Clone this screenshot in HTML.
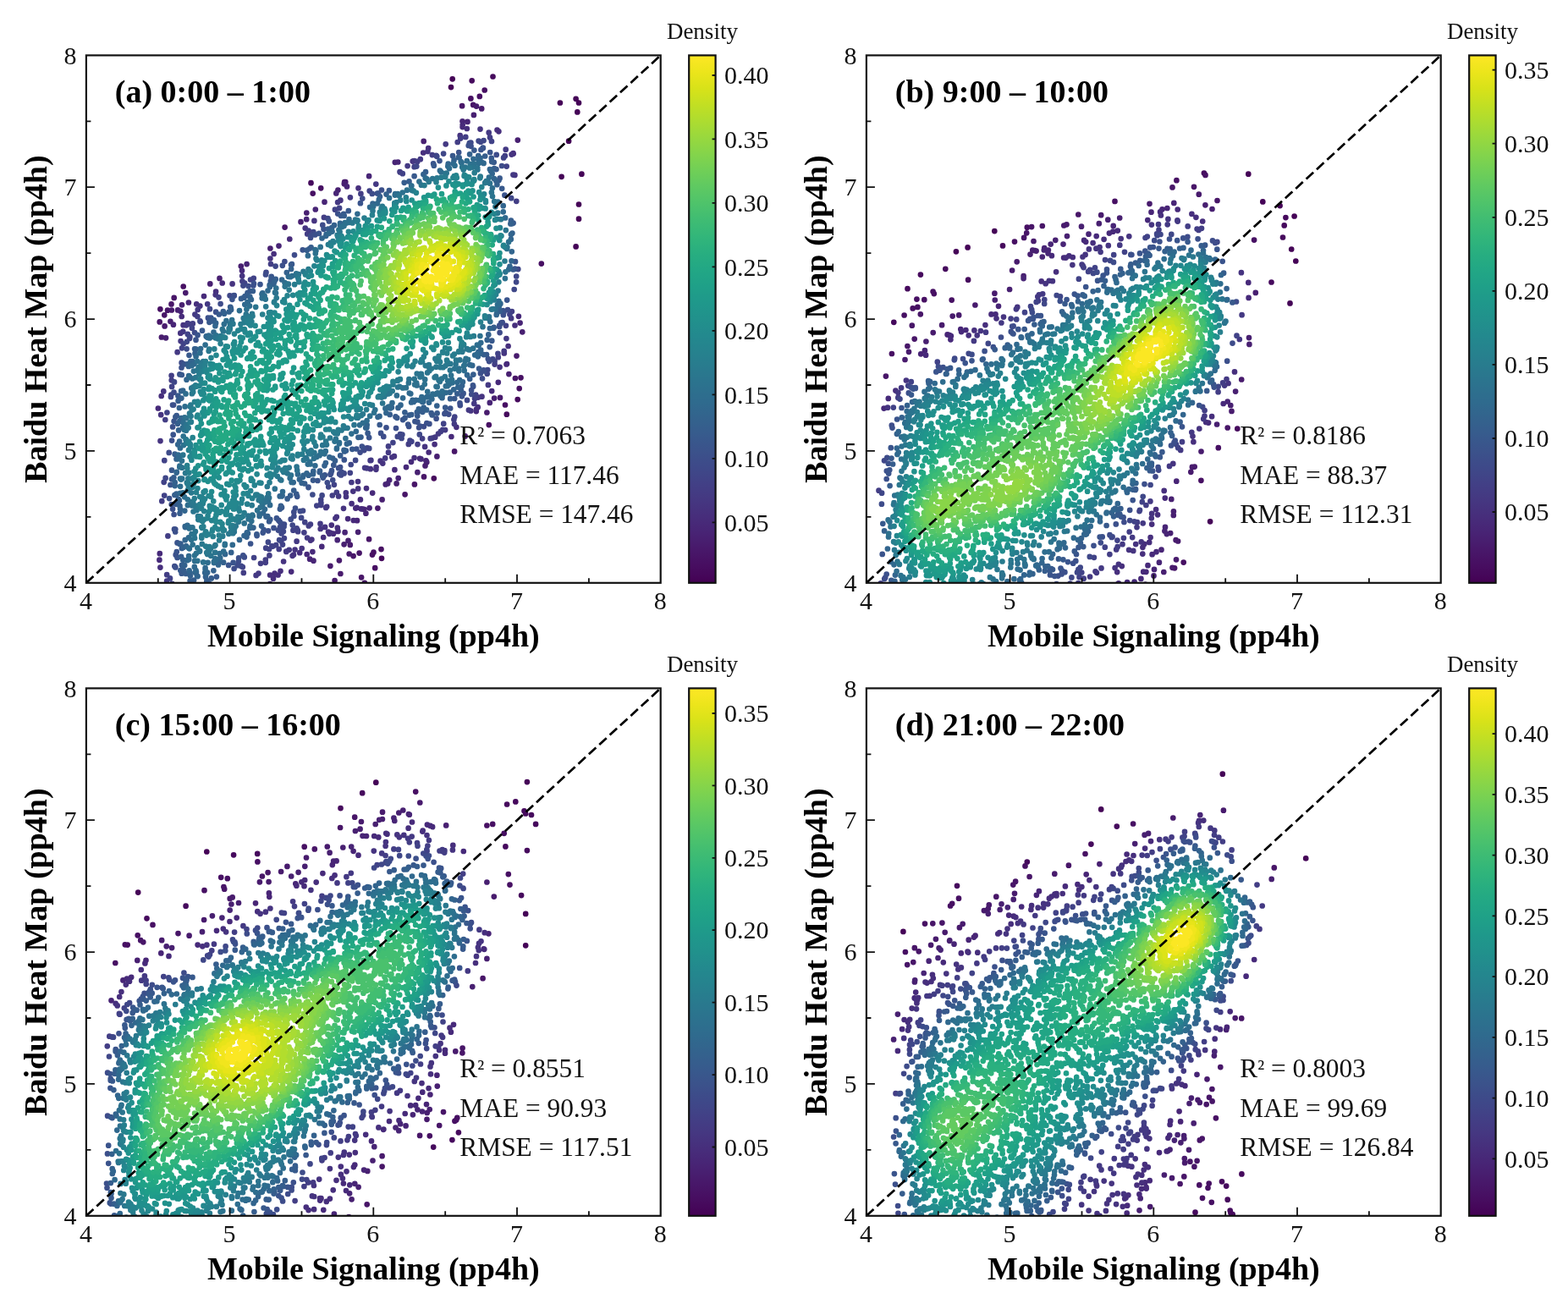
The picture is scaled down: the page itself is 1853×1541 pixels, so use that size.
<!DOCTYPE html>
<html><head><meta charset="utf-8"><title>Density scatter: Mobile Signaling vs Baidu Heat Map</title>
<style>
html,body{margin:0;padding:0;background:#fff;}
svg{display:block;}
.t{font-family:"Liberation Serif",serif;font-size:30px;fill:#111;}
.s{font-family:"Liberation Serif",serif;font-size:31.4px;fill:#111;}
.b{font-family:"Liberation Serif",serif;font-size:38px;font-weight:bold;fill:#000;}
.d{font-family:"Liberation Serif",serif;font-size:27px;fill:#111;}
</style></head><body>
<svg width="1853" height="1541" viewBox="0 0 1853 1541">
<defs><linearGradient id="vir" x1="0" y1="1" x2="0" y2="0"><stop offset="0.0000" stop-color="#440154"/><stop offset="0.0312" stop-color="#470d60"/><stop offset="0.0625" stop-color="#48186a"/><stop offset="0.0938" stop-color="#482374"/><stop offset="0.1250" stop-color="#472d7b"/><stop offset="0.1562" stop-color="#453781"/><stop offset="0.1875" stop-color="#424086"/><stop offset="0.2188" stop-color="#3e4989"/><stop offset="0.2500" stop-color="#3b528b"/><stop offset="0.2812" stop-color="#375b8d"/><stop offset="0.3125" stop-color="#33638d"/><stop offset="0.3438" stop-color="#2f6b8e"/><stop offset="0.3750" stop-color="#2c728e"/><stop offset="0.4062" stop-color="#297a8e"/><stop offset="0.4375" stop-color="#26828e"/><stop offset="0.4688" stop-color="#23898e"/><stop offset="0.5000" stop-color="#21918c"/><stop offset="0.5312" stop-color="#1f988b"/><stop offset="0.5625" stop-color="#1fa088"/><stop offset="0.5938" stop-color="#22a785"/><stop offset="0.6250" stop-color="#28ae80"/><stop offset="0.6562" stop-color="#32b67a"/><stop offset="0.6875" stop-color="#3fbc73"/><stop offset="0.7188" stop-color="#4ec36b"/><stop offset="0.7500" stop-color="#5ec962"/><stop offset="0.7812" stop-color="#70cf57"/><stop offset="0.8125" stop-color="#84d44b"/><stop offset="0.8438" stop-color="#98d83e"/><stop offset="0.8750" stop-color="#addc30"/><stop offset="0.9062" stop-color="#c2df23"/><stop offset="0.9375" stop-color="#d8e219"/><stop offset="0.9688" stop-color="#ece51b"/><stop offset="1.0000" stop-color="#fde725"/></linearGradient><clipPath id="ax"><rect x="101.9" y="65.4" width="678.8" height="623.4"/></clipPath></defs>
<rect width="1853" height="1541" fill="#fff"/>
<g transform="translate(0,0)"><g clip-path="url(#ax)" fill="none" stroke-width="6.7" stroke-linecap="round"><path stroke="#450457" d="M680.6 291.4h0M687.4 205.7h0M684.0 241.5h0M684.0 258.7h0M672.1 166.7h0M534.7 93.3h0M680.6 116.8h0M682.3 132.4h0M684.0 121.5h0M661.9 121.5h0M663.6 208.8h0M533.0 103.1h0"/><path stroke="#460a5d" d="M367.5 216.2h0M557.7 95.3h0M582.5 90.5h0M598.8 489.7h0M611.7 472.1h0M512.8 565.3h0M451.0 659.8h0"/><path stroke="#471063" d="M450.5 649.1h0M613.7 459.1h0M572.7 106.5h0M577.8 502.1h0M189.4 365.3h0M615.5 446.3h0M443.2 671.2h0M369.7 228.6h0M441.5 652.7h0M597.0 478.5h0M216.7 338.5h0M440.0 655.6h0M639.8 311.6h0M379.2 222.3h0M556.4 116.4h0M566.8 113.9h0"/><path stroke="#481668" d="M478.6 584.3h0M546.1 125.2h0M436.1 637.2h0M537.1 533.4h0M205.7 351.9h0M430.9 688.8h0M188.7 380.4h0M489.9 572.4h0M608.9 447.0h0M336.6 268.6h0M424.6 653.6h0M501.0 563.4h0M427.1 682.3h0M202.5 359.4h0M194.3 372.3h0M198.0 366.7h0M559.2 123.9h0M417.6 657.1h0"/><path stroke="#481b6d" d="M402.4 678.0h0M219.3 346.1h0M395.6 686.0h0M414.1 691.6h0M563.0 125.6h0M412.7 654.5h0M549.7 515.4h0M400.9 662.3h0M390.4 668.8h0M591.0 469.9h0M202.8 366.5h0M190.9 398.5h0M569.2 128.4h0M194.6 385.4h0M413.8 643.9h0M446.4 600.6h0M407.1 215.2h0M575.4 487.5h0M408.3 215.1h0M610.5 420.6h0"/><path stroke="#482071" d="M423.1 628.8h0M617.3 392.3h0M500.7 166.9h0M362.3 251.5h0M451.6 590.4h0M493.4 558.2h0M406.8 217.3h0M411.5 638.9h0M406.6 643.3h0M259.5 328.9h0M248.3 335.4h0M601.4 442.1h0M516.4 539.4h0M502.5 550.4h0M201.4 379.8h0M284.8 314.5h0M468.6 571.4h0M196.0 399.3h0M215.0 360.3h0M559.9 135.9h0M210.1 366.4h0M319.4 293.5h0M584.1 470.6h0M355.5 262.2h0M399.4 224.5h0M611.8 165.6h0M504.3 546.2h0"/><path stroke="#482576" d="M432.4 606.7h0M436.6 600.3h0M466.8 191.8h0M291.6 312.1h0M546.5 143.3h0M578.8 475.9h0M436.1 208.2h0M370.5 662.7h0M470.7 565.1h0M410.0 220.4h0M222.9 357.5h0M503.4 544.3h0M213.5 367.8h0M422.0 615.2h0M372.8 247.5h0M458.2 571.4h0M614.6 381.6h0M204.9 383.7h0M398.7 638.2h0M397.3 228.4h0M470.3 191.5h0M455.7 572.4h0M383.5 238.7h0M430.3 601.8h0M407.6 629.2h0M552.5 143.9h0M366.1 660.7h0M362.2 259.2h0M460.2 567.3h0M429.1 601.6h0M329.5 290.6h0"/><path stroke="#472a7a" d="M417.8 615.0h0M546.7 147.6h0M426.8 601.3h0M344.2 675.6h0M440.2 582.6h0M286.0 319.8h0M533.4 516.0h0M599.0 430.1h0M380.3 645.9h0M262.7 334.5h0M480.0 552.1h0M598.5 430.5h0M497.5 542.4h0M588.8 451.8h0M214.7 374.0h0M369.4 652.1h0M342.3 282.5h0M399.5 627.9h0M546.6 150.1h0M188.8 654.2h0M188.4 661.7h0M496.1 541.8h0M612.9 373.8h0M241.0 350.1h0M186.9 482.5h0M562.8 486.1h0M421.7 599.9h0M319.1 690.0h0M394.0 630.7h0M362.7 655.0h0M466.4 555.2h0M411.1 613.1h0M420.3 600.6h0M506.7 534.5h0M486.0 545.8h0M581.2 462.1h0M425.9 590.4h0"/><path stroke="#472f7d" d="M398.8 623.7h0M323.0 683.7h0M328.6 679.5h0M389.2 630.8h0M390.3 629.7h0M433.0 577.1h0M189.4 670.6h0M506.2 175.1h0M232.2 359.3h0M562.9 483.8h0M323.6 300.0h0M587.5 153.6h0M382.2 635.0h0M190.7 468.0h0M564.7 481.2h0M608.5 384.5h0M489.6 541.0h0M589.4 155.3h0M331.5 674.8h0M388.0 628.5h0M551.8 152.0h0M415.6 595.2h0M606.7 181.6h0M606.5 181.2h0M539.4 504.8h0M423.5 222.3h0M324.6 677.5h0M255.1 344.6h0M513.6 525.1h0M391.8 620.6h0M500.2 180.5h0M600.6 409.0h0M354.2 653.2h0M319.1 679.5h0"/><path stroke="#463480" d="M193.3 462.4h0M423.2 577.4h0M406.0 600.8h0M360.7 269.6h0M396.4 612.6h0M397.8 610.8h0M319.4 305.5h0M286.2 326.1h0M444.4 554.8h0M384.1 622.9h0M216.6 384.2h0M190.2 490.2h0M368.4 637.6h0M356.7 648.0h0M417.3 580.6h0M367.0 638.6h0M189.5 521.1h0M604.6 182.6h0M505.4 179.0h0M567.5 152.6h0M345.6 656.8h0M347.0 655.5h0M590.6 433.8h0M608.4 206.9h0M444.6 552.0h0M556.4 485.5h0M452.3 547.6h0M213.3 393.7h0M378.7 625.0h0M335.1 663.5h0M236.4 361.6h0M409.0 587.0h0M595.8 417.4h0M371.4 260.9h0M423.0 569.1h0M502.1 527.9h0M254.7 348.3h0M437.8 554.2h0M569.5 468.7h0M487.7 190.6h0M274.6 335.4h0M487.9 190.5h0M463.3 540.3h0M543.7 160.2h0M402.4 236.7h0M465.9 539.2h0M408.8 582.4h0M348.6 649.6h0M449.6 544.7h0"/><path stroke="#443983" d="M595.7 414.8h0M233.7 366.0h0M577.7 156.7h0M378.5 618.9h0M399.1 239.1h0M489.6 190.1h0M363.1 635.5h0M455.2 541.4h0M302.6 679.9h0M216.3 391.8h0M305.5 677.6h0M220.1 384.3h0M287.8 691.5h0M536.9 501.0h0M606.4 206.6h0M221.7 382.0h0M433.5 553.3h0M553.9 484.5h0M526.7 170.3h0M415.4 570.0h0M576.9 454.9h0M230.4 371.6h0M400.1 586.4h0M560.3 476.9h0M481.6 196.1h0M431.1 552.8h0M514.3 516.7h0M444.3 217.6h0M598.4 400.1h0M213.6 403.1h0M526.1 508.1h0M209.6 416.2h0M341.7 649.8h0M597.7 176.7h0M338.3 652.0h0M338.2 651.6h0M459.0 534.7h0M245.2 359.3h0M511.0 517.6h0M496.8 188.2h0M386.2 598.8h0M385.2 599.9h0M604.1 376.2h0M565.1 469.6h0M197.1 686.5h0M438.4 543.9h0M350.6 639.7h0M413.9 233.3h0M437.6 544.2h0M518.0 512.5h0"/><path stroke="#433e85" d="M313.8 664.8h0M508.7 518.2h0M493.5 525.1h0M544.2 163.6h0M359.4 629.3h0M493.2 190.9h0M364.7 272.5h0M472.5 203.0h0M191.3 592.2h0M202.6 443.8h0M520.9 509.9h0M366.9 619.6h0M224.6 383.1h0M364.8 621.5h0M197.2 679.2h0M523.2 507.8h0M550.3 161.9h0M397.8 581.8h0M308.0 665.8h0M320.0 312.0h0M198.4 633.4h0M286.4 332.3h0M472.8 203.4h0M313.8 661.5h0M258.5 351.3h0M579.0 162.4h0M392.8 585.5h0M604.9 368.0h0M588.8 422.2h0M195.3 496.0h0M610.3 237.8h0M426.4 228.9h0M482.8 524.9h0M536.4 495.8h0M233.4 374.0h0M318.4 656.4h0M561.0 471.0h0M379.3 597.0h0M510.8 183.1h0M329.7 648.9h0M202.7 449.3h0M382.9 256.9h0M363.2 276.4h0M287.8 676.9h0M459.0 527.4h0M584.6 430.6h0M227.8 382.4h0M499.1 518.3h0M596.8 184.2h0M352.1 628.2h0M540.7 168.0h0"/><path stroke="#414287" d="M360.3 617.2h0M486.4 521.8h0M334.0 643.6h0M379.4 593.9h0M413.8 558.8h0M216.7 406.3h0M215.0 411.3h0M194.3 544.2h0M351.8 626.6h0M561.8 468.3h0M602.4 371.5h0M221.8 394.9h0M395.9 247.7h0M588.4 417.8h0M197.4 487.5h0M436.7 225.6h0M374.3 597.6h0M537.3 492.5h0M484.5 520.5h0M464.4 523.1h0M581.0 167.0h0M584.6 426.8h0M562.2 466.5h0M201.0 683.4h0M350.7 624.3h0M379.2 590.5h0M597.9 384.8h0M598.7 196.6h0M318.1 648.9h0M326.2 644.1h0M226.9 387.8h0M193.7 569.8h0M322.5 645.6h0M332.3 639.4h0M194.2 585.6h0M300.1 659.0h0M346.4 626.7h0M296.0 330.5h0M289.2 334.7h0M489.6 197.2h0M335.9 636.1h0M321.3 645.4h0M203.4 689.9h0M475.8 205.2h0M595.1 186.4h0M524.2 500.7h0M394.9 572.8h0M286.8 670.1h0M299.8 328.8h0M401.1 245.9h0M203.1 456.9h0M515.4 183.8h0M314.2 647.7h0"/><path stroke="#3f4788" d="M330.1 638.0h0M380.6 585.4h0M356.1 611.9h0M474.6 518.0h0M248.0 365.2h0M610.1 333.3h0M492.3 196.6h0M571.6 166.1h0M406.6 559.4h0M575.7 441.7h0M220.8 403.8h0M495.8 513.4h0M325.6 314.6h0M345.7 620.6h0M607.7 342.0h0M287.4 337.6h0M284.9 668.9h0M436.3 529.9h0M314.5 321.8h0M202.2 466.7h0M403.0 561.5h0M469.8 515.9h0M388.2 575.3h0M612.3 318.1h0M201.9 468.9h0M516.3 184.8h0M420.1 543.9h0M370.4 274.1h0M565.6 166.6h0M195.6 564.9h0M332.7 630.4h0M582.3 424.4h0M414.7 549.0h0M224.4 398.2h0M473.9 514.8h0M358.0 603.5h0M236.4 379.4h0M316.9 640.7h0M334.9 628.1h0M387.5 258.2h0M206.0 451.4h0M576.3 437.1h0M224.0 399.9h0M271.6 349.3h0M604.2 234.2h0M552.0 472.9h0M475.4 513.6h0M568.0 167.7h0M610.2 326.5h0M434.0 529.4h0M524.1 181.6h0M473.0 513.2h0M236.8 380.0h0M556.4 168.5h0M430.3 532.1h0"/><path stroke="#3e4c8a" d="M354.8 604.1h0M367.9 278.0h0M557.3 466.0h0M554.8 169.0h0M401.2 560.2h0M600.0 366.2h0M403.6 557.9h0M367.0 279.2h0M336.4 309.0h0M453.3 515.9h0M570.0 447.3h0M393.2 567.3h0M335.6 622.3h0M314.0 324.4h0M347.4 610.0h0M343.7 613.7h0M280.7 668.2h0M543.8 479.1h0M425.6 534.6h0M260.6 359.1h0M328.9 626.6h0M288.8 658.4h0M428.3 234.6h0M439.8 228.9h0M381.3 265.9h0M335.9 619.6h0M220.6 412.3h0M276.6 672.0h0M590.6 393.1h0M230.0 393.0h0M386.8 570.3h0M199.7 534.9h0M429.7 529.7h0M214.6 428.7h0M530.3 489.6h0M330.9 623.0h0M367.0 280.9h0M369.4 584.5h0M593.0 196.0h0M206.0 625.4h0M333.6 619.4h0M578.1 427.1h0M347.3 605.2h0M205.5 463.7h0M593.7 381.0h0M293.5 338.1h0M586.7 182.9h0M348.0 301.3h0M276.6 349.1h0M281.9 663.3h0M206.3 669.1h0M500.9 504.1h0"/><path stroke="#3c508b" d="M333.8 313.8h0M553.7 172.0h0M399.2 252.6h0M276.7 349.4h0M572.0 438.4h0M495.1 505.3h0M204.0 478.6h0M287.3 656.3h0M200.1 589.1h0M451.0 224.5h0M507.4 500.9h0M543.5 476.3h0M349.0 600.5h0M207.2 628.4h0M300.0 335.2h0M450.1 511.9h0M468.0 506.1h0M557.1 461.0h0M207.3 625.6h0M323.5 623.9h0M388.9 261.4h0M207.4 670.4h0M372.3 277.4h0M571.6 437.4h0M496.4 503.5h0M330.8 616.8h0M245.9 375.7h0M427.8 527.5h0M402.1 552.0h0M592.2 381.7h0M556.6 172.8h0M214.5 434.5h0M559.2 456.8h0M317.0 627.3h0M205.6 608.0h0M483.2 503.9h0M202.7 596.1h0M204.1 601.6h0M400.1 553.2h0M207.7 655.7h0M282.1 659.4h0M205.1 478.6h0M504.3 500.0h0M576.8 424.0h0M525.4 488.9h0M594.8 372.2h0M515.6 494.7h0M212.4 442.4h0M590.2 385.9h0M445.9 228.5h0M526.8 487.5h0M390.4 560.7h0M203.1 520.6h0M299.4 337.4h0M329.3 614.9h0M590.4 384.4h0M204.1 504.4h0M570.7 174.6h0M255.1 368.7h0M456.5 505.3h0M567.9 441.2h0M595.4 368.9h0M391.2 559.3h0"/><path stroke="#3a548c" d="M558.9 455.3h0M608.6 317.7h0M274.4 353.8h0M482.2 501.5h0M512.1 193.3h0M570.9 175.1h0M208.8 652.1h0M532.2 482.5h0M310.7 629.6h0M296.1 642.5h0M275.6 664.9h0M447.1 228.6h0M421.3 530.5h0M579.2 180.0h0M357.7 295.3h0M436.2 517.1h0M209.5 641.4h0M249.3 375.5h0M519.5 190.1h0M406.8 543.4h0M599.2 354.6h0M233.6 395.9h0M320.7 326.8h0M425.9 240.2h0M209.5 659.0h0M204.7 513.7h0M217.9 430.3h0M392.0 556.2h0M381.8 564.6h0M493.4 498.7h0M205.6 497.8h0M609.0 309.2h0M545.9 468.3h0M326.9 612.4h0M377.0 275.9h0M201.4 573.0h0M311.7 626.1h0M303.6 633.1h0M490.4 498.1h0M542.2 180.0h0M247.3 691.5h0M382.5 270.8h0M375.4 568.0h0M383.8 561.4h0M546.2 466.9h0M364.5 576.1h0M270.1 667.9h0M231.5 401.7h0M594.3 367.0h0M568.4 177.0h0M351.2 586.8h0M596.4 230.7h0M476.1 496.1h0M547.6 464.9h0M364.5 575.5h0M307.5 336.1h0"/><path stroke="#38598c" d="M578.7 410.1h0M581.3 402.7h0M214.8 443.0h0M411.8 249.2h0M320.8 328.6h0M381.2 562.4h0M406.0 252.8h0M303.4 631.3h0M575.0 419.1h0M239.0 390.7h0M403.0 254.9h0M606.6 263.5h0M535.0 184.2h0M247.3 689.7h0M245.0 691.0h0M223.5 419.8h0M416.3 530.8h0M516.6 488.3h0M247.4 380.8h0M590.6 210.7h0M222.8 691.0h0M512.8 195.7h0M207.4 492.7h0M213.3 674.1h0M478.5 494.0h0M510.7 490.4h0M255.9 681.6h0M580.8 186.9h0M593.2 222.8h0M560.4 177.6h0M318.1 616.2h0M203.0 555.7h0M295.4 344.2h0M606.5 318.5h0M526.2 481.6h0M214.7 677.7h0M469.2 493.8h0M394.3 549.7h0M583.7 191.8h0M292.5 346.1h0M212.2 642.8h0M489.6 208.2h0M566.1 435.5h0M203.0 566.3h0M344.0 312.8h0M350.3 583.9h0M319.3 613.9h0M210.4 467.7h0M344.9 312.2h0M448.7 502.0h0M370.0 567.6h0M333.0 599.7h0M586.5 200.1h0M330.9 601.6h0M467.5 492.4h0M258.9 371.5h0M208.0 595.8h0M459.9 225.2h0M434.6 511.9h0M493.3 491.6h0M244.3 687.9h0M208.7 491.2h0M509.7 488.2h0M319.8 332.0h0M537.2 471.0h0M589.5 213.1h0M483.8 490.6h0"/><path stroke="#365d8d" d="M213.4 642.6h0M309.1 621.6h0M251.3 379.5h0M298.9 344.0h0M252.9 378.2h0M477.7 215.8h0M263.8 368.2h0M249.8 683.4h0M486.3 490.0h0M581.2 191.1h0M605.0 264.2h0M210.6 473.7h0M285.0 352.9h0M406.7 254.9h0M289.5 350.1h0M215.8 672.6h0M331.9 597.9h0M571.7 419.1h0M291.7 348.9h0M214.9 667.9h0M244.5 686.2h0M226.7 687.8h0M362.8 295.7h0M603.9 260.6h0M206.4 585.0h0M214.1 657.9h0M224.6 686.3h0M396.0 544.4h0M503.0 203.2h0M339.6 589.4h0M559.4 442.6h0M408.9 532.6h0M360.1 571.5h0M343.2 585.6h0M426.5 516.6h0M402.2 538.4h0M449.0 232.3h0M212.5 606.7h0M478.4 487.3h0M272.2 362.8h0M325.7 329.9h0M288.3 351.7h0M377.7 558.1h0M217.4 674.3h0M584.1 199.2h0M230.1 412.3h0M222.2 430.1h0M407.2 533.5h0M583.7 386.9h0M573.2 184.5h0M206.6 536.7h0M544.8 461.0h0M387.9 270.5h0M583.2 387.7h0M540.3 465.3h0M555.2 447.7h0M214.9 648.0h0M219.7 677.9h0M492.8 487.1h0M499.4 486.8h0M378.0 556.5h0M590.6 367.9h0M366.2 293.5h0M210.1 594.2h0M272.7 363.5h0M210.0 500.8h0M205.4 564.3h0M483.5 214.4h0M229.1 685.6h0M347.2 579.5h0M460.7 489.9h0M367.6 292.3h0M532.1 471.2h0M496.0 485.9h0"/><path stroke="#34618d" d="M316.2 610.0h0M291.5 634.6h0M555.1 182.3h0M216.2 661.7h0M500.4 206.0h0M214.1 462.1h0M423.4 516.8h0M541.7 186.0h0M406.5 531.9h0M356.6 570.8h0M504.1 484.4h0M338.8 322.0h0M603.4 264.4h0M212.9 601.3h0M264.1 664.7h0M605.4 275.6h0M456.5 229.6h0M265.0 370.7h0M211.9 482.0h0M324.2 333.1h0M206.7 574.1h0M370.0 560.2h0M231.6 412.7h0M383.5 550.3h0M314.4 610.6h0M318.6 336.8h0M208.5 583.7h0M218.2 668.0h0M516.3 479.5h0M394.9 266.2h0M212.5 597.9h0M344.1 317.9h0M542.7 186.3h0M575.7 401.7h0M224.9 680.3h0M222.9 432.9h0M206.7 570.2h0M494.8 483.3h0M546.1 455.8h0M243.0 681.7h0M273.2 652.9h0M225.4 427.1h0M565.3 184.1h0M393.2 541.5h0M586.4 214.0h0M216.9 646.7h0M587.4 218.2h0M392.1 269.2h0M536.5 189.4h0M210.8 589.8h0M295.4 350.9h0M568.4 417.4h0M252.4 674.3h0M470.5 481.9h0M211.1 508.4h0M500.7 481.7h0M273.1 365.9h0M293.0 630.3h0M364.7 561.7h0M384.9 547.0h0M255.1 381.8h0M299.4 623.6h0M412.8 523.4h0M577.3 395.4h0M224.2 676.7h0M224.6 677.1h0M230.5 417.7h0M211.9 591.4h0M370.3 556.9h0M214.4 470.6h0M323.4 335.8h0M433.4 505.3h0M270.7 368.5h0M212.3 497.8h0M208.5 542.4h0M233.6 681.1h0"/><path stroke="#32658e" d="M604.5 308.3h0M447.8 235.8h0M210.2 525.3h0M594.7 243.2h0M456.4 488.0h0M258.0 667.4h0M223.7 674.4h0M232.9 680.6h0M318.9 339.0h0M473.5 478.7h0M529.7 193.6h0M586.7 371.9h0M216.2 461.7h0M567.6 186.8h0M380.5 281.5h0M546.9 451.4h0M409.9 524.6h0M586.9 371.1h0M541.3 457.6h0M565.5 186.2h0M243.7 677.9h0M333.6 585.7h0M432.2 505.5h0M332.8 586.4h0M583.9 211.0h0M566.1 418.5h0M288.5 633.0h0M218.7 638.2h0M564.8 421.3h0M568.2 413.6h0M218.7 622.2h0M291.8 629.3h0M218.9 623.1h0M245.1 676.6h0M385.6 276.9h0M604.8 297.3h0M243.7 397.4h0M357.9 563.8h0M552.2 443.3h0M603.9 277.1h0M581.7 205.1h0M353.9 566.5h0M591.4 358.9h0M486.1 475.5h0M440.5 240.5h0M333.1 330.5h0M552.0 443.1h0M227.5 427.0h0M448.5 491.9h0M578.9 388.1h0M389.4 540.3h0M283.0 637.9h0M580.1 202.2h0M254.4 385.2h0M488.8 475.0h0M362.5 559.4h0M578.9 200.1h0M242.2 676.8h0M462.9 481.6h0M208.6 558.6h0M589.7 362.4h0M446.5 492.8h0M221.1 662.2h0M536.2 460.4h0M461.2 482.4h0M358.5 561.8h0M558.2 431.9h0M522.5 470.2h0M230.5 676.6h0M330.7 586.4h0M507.1 475.7h0M258.5 664.2h0M208.8 557.9h0M295.3 624.0h0M531.7 463.7h0M460.8 482.3h0M214.1 494.0h0M603.8 282.7h0M310.3 346.4h0M220.0 645.3h0M402.0 263.9h0M487.6 472.8h0M220.5 448.7h0M499.2 474.9h0M433.7 502.1h0M212.1 521.7h0M346.7 570.1h0M565.4 415.9h0M232.0 676.0h0M296.9 354.0h0M491.5 472.8h0M500.2 474.4h0M385.2 278.8h0M311.1 606.4h0M266.1 654.9h0M602.5 314.8h0M218.3 603.6h0"/><path stroke="#30698e" d="M563.6 418.7h0M316.5 343.5h0M372.4 550.3h0M496.2 472.9h0M334.0 581.1h0M292.4 357.0h0M210.7 537.7h0M363.9 302.2h0M309.5 347.6h0M226.7 432.1h0M319.1 596.9h0M318.9 597.0h0M500.0 472.8h0M388.8 275.8h0M231.6 421.3h0M559.4 187.8h0M571.6 192.9h0M246.6 396.7h0M231.5 674.1h0M535.6 193.3h0M397.9 530.4h0M295.6 621.7h0M245.2 398.8h0M306.6 610.0h0M222.8 660.3h0M344.6 569.9h0M562.6 419.1h0M565.6 189.6h0M213.0 582.9h0M569.8 192.0h0M510.4 471.5h0M289.3 359.8h0M274.8 643.9h0M520.6 468.0h0M223.3 661.1h0M459.7 480.7h0M340.8 326.8h0M529.3 196.5h0M292.7 358.0h0M398.0 529.5h0M526.8 464.0h0M221.4 620.8h0M260.2 659.4h0M459.0 480.8h0M223.1 444.1h0M523.0 466.2h0M237.1 412.1h0M543.2 449.2h0M242.6 672.6h0M476.1 470.3h0M476.1 470.3h0M313.0 601.8h0M211.1 542.2h0M594.7 250.3h0M223.1 657.1h0M540.3 451.8h0M568.3 405.1h0M498.4 469.1h0M555.2 431.1h0M455.4 482.7h0M561.2 419.5h0M519.9 201.6h0M589.1 360.0h0M601.2 318.3h0M392.6 273.6h0M420.8 509.8h0M229.8 669.9h0M252.9 665.1h0M504.5 469.2h0M544.7 191.1h0M502.7 210.4h0M597.1 257.4h0M422.4 252.8h0M242.6 671.0h0M437.1 244.8h0M212.9 529.5h0M463.5 476.0h0M306.6 607.3h0M485.3 465.3h0M508.7 468.3h0M401.9 266.3h0M223.0 647.5h0M211.9 540.8h0M467.1 229.1h0M446.0 240.4h0M565.7 408.3h0M412.5 259.1h0M222.9 635.3h0M372.4 295.0h0M252.5 392.5h0M229.5 430.0h0M483.8 464.5h0M351.9 560.4h0"/><path stroke="#2e6d8e" d="M551.8 190.2h0M252.9 663.5h0M255.4 661.4h0M517.4 465.3h0M495.4 214.6h0M326.3 340.6h0M579.3 380.1h0M219.5 465.4h0M215.9 505.5h0M400.9 524.3h0M415.4 512.6h0M514.2 465.8h0M408.4 518.1h0M522.6 462.4h0M548.7 437.9h0M213.1 574.8h0M223.9 648.3h0M511.5 465.7h0M312.6 349.7h0M517.1 464.3h0M297.3 615.8h0M216.6 499.4h0M585.9 365.4h0M343.2 327.2h0M486.1 219.7h0M366.6 548.5h0M247.7 399.5h0M486.4 219.6h0M223.7 624.4h0M224.3 445.7h0M264.2 651.5h0M565.5 192.9h0M236.4 417.2h0M283.0 367.1h0M401.0 523.2h0M407.8 263.0h0M267.4 379.1h0M383.5 536.3h0M588.4 238.5h0M433.6 497.1h0M317.1 592.5h0M587.9 360.0h0M545.5 192.6h0M309.7 352.3h0M534.6 452.3h0M589.5 355.8h0M242.6 407.6h0M249.4 398.3h0M336.5 334.0h0M460.1 234.0h0M345.2 326.1h0M505.2 462.8h0M218.6 480.4h0M441.2 244.1h0M212.3 551.9h0M254.1 660.1h0M528.8 456.2h0M212.4 550.6h0M224.5 623.3h0M577.9 209.7h0M342.7 565.0h0M466.8 230.6h0M537.5 195.7h0M363.8 548.6h0M216.2 582.3h0M530.5 454.6h0M230.1 662.9h0M563.9 407.5h0M428.8 499.8h0M218.1 587.3h0M470.0 229.0h0M581.9 222.3h0M213.0 565.5h0M218.1 493.4h0M526.8 456.3h0M521.3 203.3h0M245.6 664.8h0M498.9 458.2h0M259.5 654.1h0M373.4 296.2h0M384.8 533.2h0M377.6 538.2h0M425.1 502.3h0M221.8 597.1h0M264.8 383.1h0M295.0 361.6h0M366.2 545.8h0M310.2 598.3h0M468.9 467.4h0M504.6 211.6h0M531.0 199.1h0M374.2 539.9h0M492.6 455.4h0"/><path stroke="#2d718e" d="M553.1 424.9h0M351.2 555.9h0M318.1 588.3h0M370.9 541.8h0M549.1 431.2h0M380.9 534.8h0M409.3 263.6h0M216.7 515.5h0M548.1 432.4h0M344.0 561.5h0M534.1 448.8h0M233.2 427.1h0M233.4 662.8h0M226.1 637.8h0M601.1 285.9h0M490.1 454.4h0M240.2 664.4h0M437.2 491.7h0M214.0 566.6h0M307.7 599.6h0M442.1 487.6h0M312.9 593.4h0M479.9 458.2h0M560.3 193.8h0M350.1 323.3h0M516.7 457.2h0M579.0 216.7h0M217.8 508.0h0M298.7 609.6h0M229.9 656.5h0M501.8 454.0h0M226.5 631.0h0M515.5 456.8h0M228.9 438.6h0M492.2 452.5h0M325.0 345.7h0M304.1 603.0h0M542.3 438.3h0M291.4 365.6h0M559.2 411.7h0M596.9 329.1h0M567.4 397.0h0M378.7 291.9h0M475.7 227.5h0M481.0 224.7h0M529.1 449.9h0M404.3 268.1h0M555.8 193.9h0M313.8 353.6h0M227.7 643.6h0M312.9 591.7h0M379.1 533.8h0M298.3 608.7h0M221.8 590.3h0M549.5 426.8h0M324.8 577.7h0M476.0 458.4h0M338.7 335.5h0M315.8 587.8h0M274.1 378.1h0M310.4 593.9h0M265.7 644.2h0M400.4 271.5h0M227.5 623.3h0M542.3 435.7h0M326.0 346.3h0M550.6 423.9h0M395.5 521.6h0M293.6 613.3h0M372.8 299.5h0M215.2 565.5h0M502.2 448.4h0M406.5 267.1h0M482.9 452.4h0M288.7 618.4h0M220.2 494.2h0M215.0 544.6h0M255.3 396.4h0M231.8 654.1h0M519.8 451.0h0M217.0 526.1h0M443.3 484.3h0M412.9 262.8h0M577.6 376.6h0M533.1 443.5h0M265.8 642.9h0M227.3 447.5h0"/><path stroke="#2b748e" d="M489.7 447.8h0M262.8 389.1h0M350.6 551.6h0M249.2 656.8h0M336.7 338.6h0M452.1 476.5h0M332.3 567.5h0M580.9 227.4h0M496.5 445.4h0M597.8 272.1h0M518.5 449.2h0M215.1 552.7h0M254.2 652.9h0M498.3 444.7h0M576.5 215.5h0M317.2 583.4h0M220.0 503.5h0M396.9 518.8h0M362.4 542.2h0M522.1 447.5h0M564.3 198.6h0M554.9 413.4h0M302.2 362.8h0M216.3 537.7h0M511.1 211.2h0M582.7 365.2h0M229.4 632.1h0M308.7 592.7h0M340.9 335.7h0M513.6 446.1h0M525.9 445.0h0M386.0 525.6h0M582.0 232.0h0M578.0 374.4h0M371.5 535.2h0M339.6 559.3h0M597.4 321.3h0M358.9 543.7h0M220.6 501.5h0M418.5 502.2h0M584.2 238.0h0M254.6 399.3h0M271.8 382.7h0M230.1 635.9h0M220.0 508.7h0M537.3 435.6h0M515.1 444.9h0M497.9 441.9h0M227.0 597.5h0M471.8 231.3h0M351.0 326.1h0M228.5 604.5h0M483.4 448.1h0M331.1 566.6h0M496.4 442.0h0M472.1 456.9h0M352.9 324.2h0M225.8 593.0h0M553.9 413.2h0M361.3 541.2h0M275.3 630.2h0M546.2 197.5h0M276.8 628.5h0M505.1 440.4h0M420.0 259.7h0M558.9 197.6h0M367.9 536.3h0M293.3 609.5h0M574.6 214.0h0M526.3 204.9h0M492.7 441.5h0M245.2 654.9h0M599.4 292.2h0M564.4 200.4h0M233.4 647.4h0M531.9 437.6h0M570.5 386.2h0M470.0 457.5h0M230.9 628.1h0M236.1 651.6h0M226.3 458.7h0M549.9 197.5h0M543.4 425.4h0M290.8 371.3h0M236.2 651.1h0M507.4 438.2h0M527.7 204.6h0M527.3 204.9h0M497.9 218.7h0M538.6 430.3h0M381.2 526.2h0M221.7 579.5h0M219.6 519.4h0M263.9 391.5h0M309.5 588.2h0M599.1 294.0h0"/><path stroke="#2a788e" d="M410.6 505.8h0M365.2 536.2h0M244.2 653.0h0M234.6 434.1h0M463.7 462.0h0M460.6 464.7h0M233.2 437.7h0M440.5 249.2h0M555.1 198.4h0M247.3 651.5h0M220.0 519.7h0M585.4 244.3h0M509.9 435.5h0M228.2 593.2h0M275.4 382.7h0M506.9 215.0h0M516.5 210.4h0M551.7 412.2h0M305.7 591.0h0M591.9 259.2h0M486.9 224.9h0M308.7 587.0h0M401.6 274.1h0M224.5 480.3h0M247.2 412.5h0M341.7 552.6h0M272.2 630.0h0M416.5 263.4h0M385.1 521.5h0M230.2 597.4h0M398.7 512.5h0M458.7 465.4h0M277.1 624.6h0M580.8 365.6h0M523.6 434.2h0M539.0 425.6h0M335.2 558.0h0M520.3 434.1h0M515.4 433.7h0M358.5 320.8h0M220.1 523.4h0M224.0 488.6h0M352.3 327.8h0M451.8 243.9h0M588.2 251.7h0M505.9 432.8h0M367.7 532.4h0M532.4 429.9h0M272.8 628.7h0M526.4 432.3h0M260.7 397.1h0M231.3 599.5h0M290.4 374.3h0M390.0 517.5h0M270.6 388.0h0M403.6 508.5h0M231.2 446.2h0M248.9 648.5h0M226.9 465.2h0M287.7 376.0h0M460.0 463.4h0M238.4 428.6h0M326.7 352.1h0M307.4 586.7h0M573.1 216.1h0M502.8 432.1h0M231.9 600.8h0M225.4 478.7h0M278.7 621.7h0M270.3 630.8h0M530.0 429.8h0M222.7 505.6h0M407.1 505.7h0M364.1 533.9h0M258.0 400.4h0M228.6 457.4h0M422.5 260.3h0M454.3 468.4h0M232.5 602.9h0M220.8 570.3h0M246.7 414.8h0M253.6 645.3h0M338.7 553.5h0M507.0 431.0h0M546.3 415.7h0M298.0 370.8h0M271.8 387.7h0M529.0 429.0h0M221.4 571.6h0M254.5 644.2h0M237.2 432.2h0M222.9 575.6h0M398.6 277.8h0M427.0 490.9h0M373.2 527.1h0M327.8 562.8h0M226.1 582.3h0M282.1 616.6h0M293.1 374.0h0M219.0 559.1h0M428.9 489.3h0M224.7 491.0h0M456.3 465.8h0M315.8 575.0h0M234.0 610.2h0M528.7 427.8h0M297.7 597.2h0M245.3 646.9h0M395.9 512.1h0M314.2 362.3h0M422.8 493.7h0M234.3 614.1h0M547.7 200.6h0M240.2 427.0h0M567.7 208.5h0M238.8 642.9h0"/><path stroke="#287c8e" d="M521.5 209.7h0M398.1 510.4h0M228.2 463.2h0M501.5 219.1h0M247.4 646.2h0M286.8 610.3h0M229.8 589.1h0M337.2 553.2h0M222.2 571.7h0M559.9 397.2h0M243.1 645.5h0M488.7 225.5h0M520.1 427.8h0M223.9 575.8h0M424.1 492.1h0M472.9 448.2h0M357.1 536.7h0M333.7 555.7h0M271.6 389.6h0M528.0 425.7h0M387.9 289.0h0M284.8 611.7h0M291.1 376.6h0M451.0 469.6h0M259.1 638.5h0M516.1 426.8h0M318.5 570.2h0M224.6 499.1h0M222.7 571.3h0M233.8 599.1h0M260.6 400.1h0M324.2 356.5h0M352.7 330.0h0M238.8 431.4h0M373.5 305.7h0M230.1 457.2h0M225.6 491.8h0M399.8 507.9h0M422.1 261.8h0M440.0 478.9h0M235.8 613.4h0M288.6 606.1h0M421.1 493.5h0M542.0 415.8h0M238.3 635.7h0M450.6 246.2h0M469.9 449.9h0M234.3 597.7h0M390.7 286.8h0M542.2 415.2h0M263.2 633.7h0M323.9 357.3h0M535.0 420.4h0M221.9 523.8h0M518.4 425.0h0M298.5 373.6h0M433.1 484.1h0M560.7 204.2h0M567.3 210.3h0M263.3 398.3h0M405.9 503.3h0M226.7 484.6h0M295.5 375.4h0M238.3 633.1h0M270.2 392.2h0M470.0 449.2h0M238.4 633.0h0M536.8 418.5h0M225.5 498.4h0M231.1 455.4h0M394.2 510.3h0M573.2 375.7h0M303.8 584.5h0M588.6 343.6h0M499.0 427.3h0M351.8 538.5h0M236.9 610.3h0M497.1 428.0h0M274.5 621.2h0M464.5 454.4h0M341.7 342.6h0M272.9 622.9h0M514.4 423.9h0M348.1 336.2h0M526.3 209.1h0M596.5 308.5h0M430.5 257.6h0M487.0 433.2h0M596.9 292.1h0M235.4 442.3h0M222.4 565.3h0M302.2 585.5h0M239.1 433.5h0M364.5 318.0h0M238.3 623.1h0M284.5 383.0h0M225.9 498.7h0M345.6 542.5h0M545.0 410.4h0M393.5 285.0h0M302.3 584.6h0M292.4 378.7h0M238.7 623.8h0M238.2 614.9h0M237.7 437.4h0M288.5 381.2h0M236.1 596.1h0M583.9 354.5h0M548.1 407.0h0"/><path stroke="#27808e" d="M352.0 536.8h0M488.2 431.4h0M324.0 560.5h0M399.3 279.9h0M453.1 464.7h0M223.2 521.9h0M265.2 398.5h0M421.5 490.9h0M278.6 614.4h0M242.9 427.1h0M381.4 516.4h0M298.2 588.9h0M547.4 407.3h0M371.4 522.7h0M237.0 597.3h0M359.3 530.9h0M320.1 563.8h0M221.1 550.0h0M221.3 553.3h0M237.3 597.9h0M518.6 420.8h0M454.9 462.3h0M281.2 610.5h0M555.8 397.9h0M292.3 379.9h0M227.6 575.7h0M458.4 458.7h0M238.2 600.9h0M454.5 462.5h0M415.0 494.8h0M292.2 595.7h0M498.2 425.1h0M239.5 615.9h0M253.3 412.4h0M459.7 457.1h0M378.7 517.1h0M240.3 622.3h0M232.5 456.6h0M258.8 632.5h0M228.6 483.6h0M545.4 407.9h0M586.1 348.1h0M266.2 399.0h0M447.3 468.9h0M374.5 307.5h0M361.4 323.4h0M242.6 629.8h0M244.0 632.6h0M232.0 581.9h0M528.2 417.4h0M448.1 468.0h0M515.5 215.2h0M446.8 469.2h0M436.8 478.0h0M343.8 541.4h0M326.6 556.1h0M265.0 626.6h0M295.1 379.6h0M360.9 324.4h0M263.9 627.3h0M466.3 239.8h0M230.0 474.9h0M573.0 373.4h0M353.4 333.2h0M223.0 531.9h0M464.4 450.9h0M243.2 628.3h0M251.8 634.0h0M276.5 613.3h0M294.7 380.5h0M245.7 631.6h0M310.2 371.5h0M238.9 438.9h0M241.4 613.8h0M454.4 246.5h0M439.9 254.2h0M568.0 380.5h0M246.3 631.4h0M490.6 426.9h0M236.3 587.1h0M239.2 594.4h0M394.3 286.3h0M328.5 552.9h0M260.6 406.1h0M242.1 432.4h0M468.3 239.2h0M345.4 538.6h0M239.7 595.3h0M241.2 604.1h0M500.8 421.7h0M523.5 416.6h0M587.4 258.8h0M282.9 603.8h0M223.5 558.6h0M473.4 236.6h0M293.6 382.1h0M308.5 570.8h0M297.4 380.0h0M239.2 592.1h0M294.4 381.8h0M479.8 233.4h0M236.2 448.6h0M379.2 513.7h0M523.1 415.8h0"/><path stroke="#25838e" d="M584.1 252.8h0M545.7 404.6h0M269.8 618.0h0M569.3 221.1h0M226.0 565.5h0M481.3 432.2h0M319.0 559.6h0M273.2 614.1h0M339.6 349.3h0M539.0 207.3h0M389.2 507.3h0M240.5 592.2h0M262.8 624.1h0M238.8 587.8h0M281.3 390.6h0M224.9 525.1h0M595.1 289.9h0M456.8 456.7h0M293.6 586.0h0M536.8 208.1h0M229.1 571.3h0M306.6 570.5h0M391.2 290.6h0M327.1 361.1h0M237.2 447.8h0M285.0 388.8h0M315.6 561.6h0M336.5 543.8h0M250.9 627.6h0M491.9 227.8h0M369.1 518.9h0M531.1 412.1h0M590.9 269.2h0M270.3 615.5h0M403.6 279.1h0M371.4 314.3h0M583.5 351.3h0M257.9 625.5h0M425.4 483.7h0M233.5 577.0h0M245.2 612.3h0M282.0 600.3h0M594.9 290.4h0M249.5 422.8h0M277.0 394.6h0M335.9 354.0h0M225.0 528.3h0M251.3 625.6h0M235.5 455.9h0M452.8 459.7h0M296.2 580.0h0M448.8 250.9h0M551.1 398.2h0M366.8 320.3h0M425.9 483.0h0M548.8 206.9h0M245.6 609.7h0M572.1 229.3h0M285.3 594.5h0M227.5 565.6h0M318.0 369.4h0M241.7 437.8h0M359.1 524.8h0M242.1 589.6h0M280.8 600.2h0M385.1 507.5h0M453.6 458.3h0M411.7 492.0h0M300.8 573.4h0M292.4 583.2h0M363.1 521.3h0M296.1 384.4h0M254.2 623.1h0M334.2 356.6h0M333.8 543.9h0M224.6 539.8h0M262.5 619.1h0M246.9 604.8h0M228.1 564.9h0M272.4 609.2h0M503.0 417.1h0M286.1 589.9h0M319.9 369.1h0M470.6 439.3h0M331.2 545.5h0M535.4 210.0h0M288.9 389.2h0M560.3 212.2h0M548.6 207.9h0M421.6 484.5h0M277.7 601.1h0M589.4 333.3h0M526.1 411.0h0M369.4 515.8h0M250.2 615.1h0M536.9 209.8h0M411.9 273.8h0M227.7 517.2h0M233.7 474.6h0M466.3 242.5h0M592.5 278.8h0M240.6 581.7h0M247.8 597.9h0"/><path stroke="#24878e" d="M551.4 208.5h0M243.5 437.0h0M554.2 209.3h0M248.6 602.2h0M321.7 552.2h0M248.5 601.2h0M431.2 477.0h0M275.9 601.4h0M260.3 616.9h0M396.3 498.9h0M243.5 437.5h0M255.3 616.8h0M287.7 583.4h0M279.9 594.7h0M449.4 460.5h0M277.4 597.9h0M233.7 478.7h0M560.2 213.4h0M255.0 615.6h0M512.4 413.0h0M229.4 564.0h0M552.2 209.5h0M238.5 453.1h0M254.3 612.4h0M406.1 492.5h0M580.7 250.9h0M250.8 599.0h0M539.8 210.0h0M573.9 237.0h0M580.8 251.1h0M246.6 586.0h0M267.0 607.9h0M242.6 580.2h0M248.5 429.9h0M325.5 547.1h0M255.5 419.8h0M322.2 549.6h0M298.6 568.1h0M291.3 575.1h0M400.2 284.7h0M236.8 462.8h0M336.3 357.5h0M301.6 384.9h0M290.4 575.8h0M255.4 608.7h0M339.1 536.1h0M274.3 597.6h0M455.3 249.4h0M585.0 259.9h0M232.7 492.4h0M357.4 521.6h0M253.7 600.3h0M435.6 260.1h0M364.6 326.8h0M267.8 604.2h0M466.5 243.4h0M226.4 539.4h0M289.7 392.4h0M254.5 602.4h0M226.4 543.7h0M249.3 586.9h0M319.0 372.9h0M582.3 350.4h0M252.3 592.3h0M235.1 476.6h0M584.1 346.0h0M323.4 547.5h0M296.8 567.7h0M591.5 278.4h0M380.1 307.4h0M579.3 356.5h0M237.2 463.6h0M226.8 535.8h0M256.3 602.2h0M270.3 599.2h0M551.9 393.5h0M315.6 553.2h0M259.7 605.7h0M543.4 400.2h0M268.1 601.3h0M276.8 589.6h0M244.3 440.1h0M424.0 267.1h0M574.0 239.1h0M275.0 591.5h0M262.0 604.3h0M316.5 375.6h0M346.2 348.8h0M558.8 214.4h0M339.9 534.2h0M271.4 595.6h0M278.8 585.2h0M233.6 490.7h0M234.3 568.1h0M266.9 409.4h0M422.3 480.6h0M288.6 573.0h0M323.1 546.7h0M276.3 587.0h0M324.5 369.6h0M590.5 324.6h0M296.8 565.5h0M590.7 323.5h0M303.6 560.3h0M481.2 425.7h0M551.8 211.4h0M261.7 596.9h0"/><path stroke="#228b8d" d="M386.0 301.2h0M390.7 498.2h0M250.1 581.0h0M229.5 557.0h0M581.5 350.9h0M360.5 333.6h0M530.4 214.3h0M278.6 580.0h0M510.2 410.6h0M570.5 233.6h0M343.6 529.8h0M267.4 590.5h0M284.0 398.5h0M359.4 335.3h0M275.7 581.5h0M231.4 560.8h0M238.3 465.8h0M268.3 586.5h0M453.1 251.9h0M266.0 587.1h0M360.1 334.9h0M268.9 409.7h0M278.4 576.3h0M265.8 585.1h0M261.5 584.4h0M529.8 404.8h0M264.7 414.0h0M248.2 436.3h0M500.1 413.2h0M277.1 404.1h0M434.1 262.4h0M405.5 282.1h0M251.4 430.6h0M412.1 484.9h0M324.5 542.9h0M368.0 325.5h0M421.2 479.1h0M265.2 414.2h0M242.1 452.7h0M471.6 432.3h0M453.6 252.1h0M265.4 580.0h0M277.2 573.3h0M295.6 393.6h0M566.2 227.2h0M516.0 407.8h0M319.9 376.2h0M233.1 560.8h0M386.7 498.0h0M435.1 468.5h0M283.5 567.5h0M280.9 569.2h0M286.7 399.4h0M369.9 508.1h0M358.8 515.8h0M403.5 284.5h0M380.5 310.0h0M292.9 396.0h0M474.2 429.4h0M275.9 406.6h0M449.5 254.6h0M240.9 460.1h0M377.9 502.6h0M233.5 505.3h0M417.6 273.4h0M420.2 478.8h0M376.9 314.9h0M391.6 494.6h0M477.2 426.4h0M480.3 238.0h0M386.9 302.4h0M382.8 499.4h0M423.6 269.5h0M279.7 568.0h0M345.7 525.3h0M261.1 575.9h0M568.1 231.9h0M270.8 572.8h0M417.2 480.3h0M360.8 336.2h0M276.8 406.9h0M308.8 550.3h0M455.3 251.9h0M229.8 531.9h0M257.6 574.3h0M295.8 395.4h0M387.3 496.3h0M245.8 445.8h0M231.3 553.7h0M229.7 533.4h0M320.3 543.0h0M358.9 338.9h0M309.0 549.6h0M268.3 571.9h0M325.2 539.6h0M229.7 536.1h0M320.4 542.7h0M240.7 465.4h0M413.9 481.5h0"/><path stroke="#218f8d" d="M557.6 218.0h0M284.3 562.0h0M515.5 406.4h0M319.1 378.9h0M241.4 567.0h0M230.0 533.9h0M254.9 572.4h0M251.0 435.6h0M352.0 347.5h0M273.7 567.7h0M468.1 245.2h0M303.6 551.3h0M293.3 556.4h0M575.5 359.9h0M297.1 554.4h0M463.3 247.9h0M523.0 404.4h0M306.9 549.5h0M338.9 528.8h0M253.5 571.3h0M245.7 568.8h0M230.1 538.5h0M419.3 477.6h0M235.6 560.3h0M383.4 308.0h0M303.7 550.5h0M241.9 566.3h0M266.8 416.6h0M374.3 502.7h0M364.4 509.4h0M381.0 311.2h0M302.9 550.4h0M558.4 382.9h0M247.9 443.9h0M409.6 482.8h0M240.3 473.2h0M307.7 547.7h0M311.8 386.0h0M586.5 269.8h0M327.3 373.0h0M481.4 421.3h0M285.0 404.3h0M235.0 504.9h0M438.0 463.2h0M354.3 346.1h0M236.8 495.5h0M252.4 569.1h0M553.4 387.5h0M231.5 526.2h0M517.9 221.6h0M304.7 392.0h0M436.5 464.2h0M590.3 283.9h0M316.8 382.7h0M552.0 216.2h0M322.0 538.4h0M384.7 494.9h0M410.9 280.2h0M323.0 377.8h0M286.2 555.4h0M387.7 303.7h0M383.0 495.7h0M484.7 418.2h0M582.4 344.3h0M552.9 216.9h0M288.4 553.8h0M365.0 507.1h0M248.1 446.6h0M308.4 545.0h0M360.6 510.2h0M255.6 432.3h0M478.2 422.9h0M276.6 411.5h0M477.5 423.5h0M324.2 536.4h0M589.4 320.8h0M378.5 316.0h0M352.6 349.4h0M323.8 536.4h0M307.2 391.6h0M249.2 566.0h0M573.6 246.4h0M248.0 447.8h0M420.6 474.6h0M353.4 349.0h0M342.2 360.9h0M404.4 483.4h0M242.4 470.5h0M239.4 487.3h0M341.6 523.6h0M588.3 325.4h0M486.7 236.5h0M590.5 312.3h0M364.2 336.1h0M283.4 554.0h0M274.7 558.5h0M359.1 510.0h0M402.3 484.0h0M293.9 548.6h0M383.5 494.0h0M360.1 509.2h0M538.6 216.3h0M322.9 535.5h0M555.6 384.0h0M258.8 564.4h0M329.5 373.6h0M283.4 409.0h0M232.2 539.5h0M258.6 564.3h0M382.6 494.2h0M338.3 365.7h0M577.5 254.4h0M527.4 219.4h0"/><path stroke="#20928c" d="M401.9 289.4h0M567.4 236.0h0M439.9 459.2h0M241.0 482.8h0M584.9 336.3h0M234.2 550.3h0M274.6 415.4h0M377.7 318.6h0M431.8 267.0h0M263.5 425.1h0M357.0 346.0h0M550.7 217.5h0M578.3 256.1h0M373.5 499.2h0M302.1 397.6h0M370.3 501.2h0M267.8 421.3h0M324.1 533.5h0M403.5 288.1h0M237.9 500.6h0M253.2 563.3h0M266.8 560.0h0M360.3 342.5h0M376.5 320.7h0M323.6 380.1h0M256.7 434.6h0M375.7 321.8h0M375.9 321.5h0M296.2 402.3h0M446.4 452.3h0M272.2 557.2h0M334.1 526.9h0M268.2 421.6h0M426.0 469.2h0M395.5 296.5h0M302.2 542.7h0M316.7 386.3h0M463.2 435.0h0M454.6 443.8h0M471.4 427.1h0M459.6 438.6h0M259.0 431.9h0M268.2 558.6h0M247.1 457.6h0M299.8 400.4h0M420.8 472.2h0M246.6 459.9h0M339.8 365.8h0M318.5 385.4h0M413.3 280.1h0M280.4 413.6h0M381.9 313.9h0M292.3 545.0h0M240.5 491.0h0M346.4 517.0h0M282.6 549.4h0M541.8 217.3h0M282.7 412.8h0M590.5 299.0h0M342.3 519.6h0M427.9 466.9h0M304.2 539.5h0M535.3 218.2h0M287.5 546.1h0M580.6 346.1h0M405.3 479.7h0M241.9 486.2h0M326.7 529.7h0M291.3 544.0h0M319.3 533.4h0M314.1 535.5h0M445.7 260.3h0M403.2 480.5h0M280.8 414.8h0M280.9 549.1h0M258.3 435.5h0M275.4 418.6h0M360.8 505.4h0M540.8 217.8h0M268.6 424.3h0M320.4 385.3h0M416.7 473.1h0M558.5 225.4h0M390.6 303.8h0M241.5 491.5h0M394.8 484.0h0M253.1 559.4h0M547.0 218.5h0M323.1 530.1h0M577.0 353.1h0M586.7 327.6h0M440.6 455.5h0M578.2 350.5h0M257.1 558.4h0M590.0 304.2h0M336.4 521.8h0M281.1 416.5h0M326.3 527.8h0M502.8 405.3h0M362.5 503.0h0M388.3 486.8h0M270.6 552.5h0M379.2 492.0h0M237.1 514.3h0M313.5 532.9h0M402.6 291.1h0M358.4 348.5h0M297.5 537.7h0M291.3 540.5h0M290.1 411.3h0M583.4 337.6h0M423.7 467.8h0M261.0 434.8h0M370.1 333.0h0"/><path stroke="#1f968b" d="M247.4 467.7h0M424.1 273.8h0M236.1 521.8h0M420.7 469.3h0M249.9 557.5h0M258.8 556.7h0M291.4 539.6h0M269.5 426.4h0M530.1 396.9h0M246.6 472.5h0M307.0 533.6h0M253.4 449.1h0M502.4 405.0h0M328.9 525.0h0M243.5 554.8h0M254.7 446.3h0M354.4 354.0h0M237.5 514.5h0M285.4 542.4h0M235.5 529.9h0M466.4 249.9h0M326.7 525.8h0M451.1 444.2h0M274.1 548.9h0M323.9 527.1h0M343.8 514.9h0M415.0 280.6h0M403.2 477.9h0M338.6 371.0h0M287.4 414.6h0M250.4 459.2h0M376.1 492.7h0M238.6 510.5h0M542.6 390.9h0M283.5 542.9h0M383.1 488.3h0M275.2 547.6h0M351.7 508.9h0M558.6 378.0h0M555.5 381.1h0M262.0 554.2h0M337.2 518.8h0M340.6 516.6h0M236.1 539.2h0M344.3 514.0h0M236.2 540.0h0M405.7 476.2h0M428.7 463.2h0M570.0 245.9h0M345.8 364.3h0M525.7 397.7h0M312.4 395.6h0M537.7 219.7h0M360.4 348.0h0M271.3 427.3h0M420.2 277.3h0M447.3 447.0h0M452.2 442.2h0M546.8 220.3h0M446.2 448.1h0M294.5 535.1h0M243.4 552.7h0M392.8 303.3h0M295.7 534.4h0M259.4 441.1h0M272.3 548.0h0M277.0 423.4h0M299.0 532.7h0M589.4 303.8h0M247.9 473.5h0M271.7 427.7h0M317.7 391.9h0M550.8 384.6h0M456.0 438.1h0M341.0 370.2h0M379.2 489.4h0M252.2 554.7h0M240.2 548.6h0M256.1 448.3h0M246.4 553.5h0M564.3 370.9h0M267.9 431.6h0M503.2 403.6h0M249.5 467.9h0M433.9 268.8h0M393.8 481.0h0M239.0 512.9h0M351.5 359.7h0M262.1 552.2h0M278.7 543.0h0M429.1 271.9h0M284.6 419.5h0M341.9 370.1h0M320.4 390.2h0M316.0 394.5h0M576.3 258.0h0M440.8 452.0h0M380.1 488.0h0M560.5 375.1h0M328.2 521.1h0M397.9 298.2h0M448.6 260.9h0M506.0 230.8h0M381.1 320.4h0M311.3 526.0h0M305.0 404.9h0M245.5 487.9h0M288.5 535.6h0M460.9 432.3h0M376.9 489.3h0M410.4 471.4h0M306.2 526.3h0M586.4 280.5h0M325.6 520.9h0M319.4 522.7h0M405.0 473.7h0M454.0 258.2h0M302.8 407.9h0M241.1 546.4h0M501.1 233.3h0M426.8 461.8h0M339.6 374.1h0M241.1 508.6h0M567.3 243.8h0M412.4 469.8h0M314.6 397.7h0M370.5 337.3h0M310.3 523.3h0M253.7 461.1h0M301.8 526.1h0M303.6 525.3h0M388.6 481.6h0"/><path stroke="#1f9a8a" d="M553.5 225.6h0M435.7 455.0h0M476.3 245.9h0M366.9 494.4h0M420.3 278.8h0M534.1 393.0h0M332.1 516.3h0M284.1 536.0h0M265.4 439.5h0M433.0 456.7h0M342.9 371.8h0M248.0 483.0h0M258.0 451.5h0M556.0 228.2h0M439.0 267.2h0M336.4 378.3h0M587.1 318.6h0M322.2 391.6h0M238.7 525.9h0M268.3 545.6h0M559.6 232.5h0M259.5 449.1h0M463.7 428.4h0M254.2 462.7h0M309.1 521.0h0M318.8 395.3h0M346.3 507.0h0M390.1 479.8h0M302.6 523.2h0M575.3 352.6h0M324.8 517.4h0M321.0 518.1h0M331.6 514.9h0M345.7 370.1h0M318.3 396.2h0M487.4 409.6h0M307.9 520.4h0M379.4 325.5h0M343.5 372.5h0M273.1 433.9h0M341.4 374.7h0M444.7 446.1h0M274.5 432.9h0M335.4 512.5h0M273.0 434.3h0M279.5 537.3h0M253.8 549.4h0M239.3 532.4h0M248.4 485.4h0M463.3 253.9h0M254.2 549.0h0M437.7 451.7h0M325.3 390.7h0M277.9 431.4h0M263.5 446.2h0M409.7 288.3h0M299.6 522.3h0M334.4 441.3h0M333.1 446.0h0M354.3 500.2h0M298.6 415.8h0M253.3 548.6h0M501.8 401.9h0M296.3 417.8h0M287.9 530.1h0M333.0 443.0h0M539.3 389.6h0M447.8 442.3h0M292.4 526.4h0M331.0 448.2h0M307.3 408.7h0M340.8 507.7h0M333.5 455.4h0M331.8 442.9h0M252.9 472.8h0M371.7 488.7h0M277.7 433.1h0M354.9 499.1h0M295.0 524.1h0M321.8 395.2h0M570.7 359.6h0M573.6 256.6h0M308.2 515.8h0M279.6 431.8h0M407.2 469.2h0M301.5 519.5h0M337.5 453.7h0M510.6 398.5h0M251.2 479.5h0M513.3 229.7h0M338.8 508.1h0M393.5 475.9h0M369.8 342.4h0M318.6 512.6h0M443.6 445.7h0M326.4 391.6h0M333.7 384.7h0M270.4 540.8h0M263.5 449.7h0M337.7 507.9h0M499.6 402.2h0M270.7 440.8h0M292.5 524.7h0M337.7 507.7h0M259.0 458.8h0M418.7 281.6h0M579.7 341.8h0M330.4 510.0h0M432.4 454.4h0M448.2 441.2h0M320.8 510.5h0M293.5 422.6h0M281.8 431.8h0M284.0 530.8h0M261.8 544.7h0M292.2 423.8h0M340.0 379.4h0M583.3 331.8h0M252.4 478.0h0M342.4 505.0h0M576.6 262.3h0M240.8 530.1h0M320.5 398.1h0M338.6 427.0h0M318.7 399.9h0M248.0 545.3h0M345.5 440.0h0M342.1 377.7h0M337.1 459.3h0M346.2 373.7h0M431.6 273.1h0M279.1 434.8h0M577.8 345.9h0M364.0 352.5h0M259.8 459.0h0M243.7 509.5h0M359.4 494.5h0M268.5 445.2h0M255.1 545.7h0M347.1 434.7h0M415.6 284.4h0M325.3 458.2h0M331.2 507.6h0M251.5 545.6h0M316.7 402.7h0M325.2 456.7h0M241.3 530.1h0M367.7 347.6h0M255.3 471.4h0M338.9 458.8h0M320.7 506.9h0M523.9 394.2h0M426.6 457.4h0M336.9 425.6h0M360.4 358.1h0"/><path stroke="#1f9e89" d="M563.8 242.1h0M242.6 536.6h0M336.8 505.4h0M325.4 395.1h0M462.8 426.7h0M285.7 527.8h0M510.7 231.4h0M364.0 353.6h0M333.4 428.4h0M334.8 426.4h0M334.7 386.5h0M330.3 506.1h0M244.1 509.9h0M474.0 249.0h0M326.1 505.5h0M342.5 421.4h0M440.2 447.1h0M425.1 457.9h0M314.1 406.3h0M510.4 231.6h0M406.3 467.4h0M242.9 536.4h0M477.1 247.3h0M246.5 542.2h0M342.4 502.3h0M263.9 541.9h0M272.0 443.8h0M261.9 458.0h0M344.2 501.3h0M510.0 397.6h0M283.8 433.7h0M247.1 499.6h0M551.0 227.8h0M564.7 366.9h0M332.8 504.4h0M242.8 535.1h0M433.6 451.8h0M245.2 540.1h0M528.8 392.3h0M413.1 463.7h0M328.9 433.1h0M322.5 460.5h0M384.2 478.4h0M434.7 271.9h0M329.5 475.9h0M490.3 240.6h0M323.5 474.0h0M565.3 365.9h0M346.0 499.8h0M280.0 437.6h0M244.6 510.4h0M350.5 372.1h0M347.6 420.4h0M370.1 345.8h0M321.7 498.1h0M558.6 373.6h0M332.6 474.0h0M337.2 467.2h0M341.7 418.3h0M335.9 469.3h0M480.6 411.8h0M545.5 384.5h0M366.5 351.7h0M329.3 478.8h0M297.1 424.0h0M497.8 401.8h0M261.1 462.0h0M373.8 340.2h0M445.8 441.4h0M245.0 509.7h0M255.1 476.9h0M371.6 343.8h0M327.8 499.2h0M374.1 483.6h0M326.1 497.4h0M318.1 495.9h0M322.7 482.0h0M409.2 464.9h0M317.8 496.0h0M323.0 446.7h0M322.5 492.1h0M320.9 402.1h0M324.2 486.9h0M323.2 490.2h0M329.7 428.5h0M392.5 473.1h0M321.3 490.9h0M329.0 481.8h0M321.0 473.2h0M346.0 416.8h0M346.3 449.8h0M319.8 490.5h0M546.5 383.6h0M318.6 492.1h0M330.4 393.7h0M329.9 498.4h0M307.0 505.7h0M408.0 292.5h0M344.7 454.5h0M300.5 422.1h0M335.5 473.3h0M349.2 375.1h0M322.9 444.2h0M436.2 448.9h0M367.1 487.1h0M278.6 441.0h0M333.8 477.7h0M356.1 493.0h0M331.7 482.1h0M306.9 504.8h0M340.6 415.2h0M250.8 541.9h0M482.5 245.0h0M264.0 458.9h0M333.1 480.3h0M319.3 405.2h0M311.5 412.8h0M331.4 495.3h0M429.1 276.1h0M303.5 507.7h0M303.5 507.7h0M278.1 442.2h0M262.2 463.1h0M332.9 482.6h0M565.9 247.3h0M316.8 485.7h0M350.1 494.9h0M362.8 359.5h0M245.2 513.2h0M482.7 245.1h0M333.6 393.1h0M310.0 415.3h0M272.0 534.3h0M356.0 368.9h0M257.4 474.8h0M424.8 455.6h0M340.2 387.1h0M388.9 317.1h0M335.6 391.7h0M244.0 523.9h0M326.3 400.8h0M319.4 407.3h0M344.0 496.0h0M251.9 540.7h0M586.9 304.9h0M278.2 529.4h0M267.5 456.1h0M482.2 245.6h0M249.4 498.4h0M503.1 398.8h0M294.2 515.2h0M377.4 479.8h0M334.7 488.8h0M522.2 393.1h0M255.8 480.3h0M244.3 523.1h0M312.1 414.9h0M347.4 380.7h0M563.6 367.0h0M314.4 485.5h0M417.3 285.1h0M576.9 265.6h0M337.5 411.9h0M265.0 537.5h0M255.6 481.4h0M256.8 478.5h0M318.9 409.0h0M323.1 433.2h0M351.5 414.1h0M351.8 492.5h0M307.6 498.6h0M347.7 381.0h0M392.9 311.9h0M330.6 418.1h0M329.7 419.3h0M339.7 474.4h0M429.0 276.9h0M252.9 489.5h0M315.8 472.4h0M346.1 383.4h0M405.2 464.2h0M278.8 527.7h0M321.5 435.4h0M487.2 406.2h0M286.1 521.4h0M345.3 461.1h0M351.5 442.1h0M251.1 495.2h0M331.9 399.3h0M286.4 439.1h0M318.8 444.5h0M317.1 455.0h0M339.5 478.2h0M317.9 449.0h0M322.2 408.5h0M349.8 408.3h0M537.7 226.3h0M245.3 519.6h0M387.0 473.4h0M316.3 459.8h0M298.1 508.7h0M275.8 529.4h0M246.2 532.5h0M522.0 229.2h0M336.9 406.9h0M314.6 415.8h0M323.0 409.1h0M254.7 486.6h0M329.0 415.0h0M396.2 308.0h0M327.1 418.2h0M331.3 411.4h0M339.9 481.5h0M340.4 487.7h0M315.5 461.3h0"/><path stroke="#1fa187" d="M343.8 403.3h0M372.8 347.3h0M319.4 436.7h0M336.7 402.8h0M369.1 482.5h0M341.2 478.0h0M313.3 476.4h0M340.7 401.8h0M328.8 408.2h0M246.0 529.3h0M340.7 485.3h0M341.8 488.2h0M272.3 454.6h0M269.7 458.0h0M427.1 452.3h0M322.9 411.7h0M412.4 459.7h0M341.8 395.2h0M342.8 400.5h0M347.2 490.3h0M314.6 418.0h0M296.1 433.3h0M315.4 417.7h0M498.3 399.9h0M346.4 388.4h0M320.8 414.5h0M554.2 376.1h0M412.6 459.5h0M315.6 452.9h0M272.5 455.4h0M312.4 476.6h0M383.1 474.4h0M389.6 470.8h0M349.1 385.4h0M351.6 404.8h0M311.8 478.7h0M251.6 536.7h0M351.0 488.9h0M358.6 371.4h0M402.4 300.9h0M295.7 509.0h0M362.4 485.0h0M310.5 483.0h0M550.2 230.7h0M347.1 390.2h0M284.7 444.0h0M320.7 421.9h0M309.3 486.6h0M343.1 484.4h0M316.6 419.6h0M551.1 231.5h0M384.8 326.9h0M309.8 484.5h0M355.7 414.3h0M353.6 440.9h0M319.2 420.8h0M251.9 497.4h0M307.0 426.3h0M314.6 453.9h0M314.9 421.4h0M527.6 390.4h0M444.8 438.8h0M314.3 455.1h0M376.7 477.3h0M348.5 397.0h0M550.0 379.3h0M288.9 515.5h0M303.7 429.4h0M315.5 444.4h0M350.4 399.2h0M318.0 426.7h0M344.2 476.7h0M247.6 514.3h0M345.2 485.0h0M462.8 423.2h0M352.8 445.6h0M317.2 428.1h0M309.9 426.0h0M280.4 449.4h0M495.2 240.2h0M350.2 395.9h0M445.9 267.9h0M294.2 508.7h0M364.7 482.6h0M259.8 535.5h0M310.1 477.9h0M308.9 482.5h0M309.7 427.7h0M370.3 354.9h0M247.4 526.2h0M315.0 435.0h0M366.4 361.7h0M314.6 430.1h0M544.0 228.5h0M446.4 436.8h0M352.2 389.8h0M433.4 275.5h0M311.7 429.2h0M353.5 445.9h0M285.4 517.2h0M503.1 237.0h0M309.7 475.9h0M313.7 438.2h0M353.7 485.0h0M248.6 512.9h0M431.8 276.7h0M355.9 404.9h0M353.8 386.1h0M405.9 298.1h0M296.0 438.6h0M309.7 474.2h0M301.8 496.2h0M353.5 389.2h0M308.0 481.6h0M311.4 460.9h0M386.8 470.4h0M272.1 460.9h0M348.5 465.8h0M297.0 503.4h0M355.4 383.8h0M416.3 455.5h0M290.5 511.1h0M279.6 453.1h0M264.6 472.4h0M307.3 482.6h0M277.1 455.8h0M311.2 459.4h0M312.0 448.6h0M266.7 531.2h0M311.2 459.1h0M248.3 518.0h0M386.2 470.4h0M361.3 372.9h0M358.8 377.5h0M280.9 452.7h0M348.7 480.0h0M349.4 464.5h0M351.7 455.6h0M349.8 463.1h0M297.3 439.4h0M300.1 437.7h0M301.2 495.5h0M280.6 453.3h0M554.2 235.9h0M352.6 482.5h0M356.6 384.8h0M357.6 404.8h0M583.3 283.5h0M547.5 230.8h0M261.7 479.4h0M252.4 531.9h0M309.7 439.1h0M309.0 469.2h0M276.4 523.6h0M448.2 434.3h0M308.7 438.0h0M349.1 476.9h0M272.2 463.2h0M254.9 495.3h0M448.4 434.1h0M254.7 532.7h0M353.1 481.4h0M432.1 277.1h0M293.7 444.0h0M309.5 458.7h0M294.8 443.2h0M357.9 384.6h0M374.9 475.2h0M393.8 315.3h0M366.1 479.0h0M487.9 403.6h0M540.4 228.9h0M552.1 234.4h0M305.5 481.9h0M357.5 435.1h0M359.4 409.7h0M420.0 452.4h0M301.6 440.3h0M584.4 317.7h0M352.1 459.2h0M386.6 328.0h0M414.6 290.5h0M554.6 374.1h0M441.1 439.3h0M304.3 483.7h0M260.7 531.4h0M304.1 441.5h0M369.0 363.0h0M276.5 460.5h0M262.3 481.1h0M296.5 444.3h0M558.2 370.6h0M308.2 455.2h0M261.5 530.8h0M370.1 476.6h0M304.3 442.7h0M498.8 239.7h0M280.5 518.1h0M297.9 444.3h0M363.2 478.8h0M376.8 348.7h0"/><path stroke="#21a585" d="M290.7 506.7h0M292.0 448.2h0M359.3 479.1h0M302.8 444.1h0M307.3 459.3h0M360.1 403.7h0M392.2 464.9h0M360.9 478.7h0M359.7 388.8h0M255.3 529.9h0M413.8 454.0h0M306.9 458.3h0M352.1 469.4h0M372.4 474.8h0M385.4 468.4h0M555.1 238.3h0M301.3 488.0h0M306.4 454.2h0M560.4 245.0h0M296.8 496.3h0M305.3 472.1h0M304.6 449.7h0M376.5 350.9h0M260.9 529.2h0M282.7 514.2h0M485.0 404.6h0M372.9 358.8h0M272.9 522.8h0M269.4 525.2h0M387.7 328.2h0M378.9 346.4h0M252.2 511.9h0M359.3 434.5h0M368.8 475.3h0M304.7 454.5h0M497.4 240.8h0M259.6 490.5h0M355.9 474.9h0M501.4 239.1h0M303.9 453.4h0M580.1 277.0h0M355.3 455.0h0M297.1 493.5h0M253.4 508.3h0M440.7 273.1h0M301.6 451.3h0M460.3 261.3h0M361.9 418.3h0M294.7 497.4h0M412.6 453.3h0M411.9 294.5h0M507.0 394.0h0M304.2 465.2h0M293.5 452.2h0M580.4 278.0h0M567.0 359.2h0M283.3 459.3h0M270.2 473.7h0M499.8 240.0h0M363.1 385.9h0M257.1 498.2h0M360.0 434.4h0M366.0 376.3h0M575.0 267.6h0M362.5 395.5h0M276.3 466.9h0M302.3 475.7h0M537.4 230.3h0M303.1 468.5h0M362.7 395.0h0M546.8 232.9h0M371.0 365.8h0M551.7 375.6h0M253.3 520.0h0M302.8 466.5h0M382.3 341.9h0M425.7 283.3h0M361.5 427.9h0M269.4 476.5h0M253.5 514.5h0M302.4 468.4h0M278.0 466.4h0M254.2 521.7h0M274.2 519.1h0M302.2 466.8h0M363.4 396.5h0M359.7 439.4h0M292.6 455.8h0M363.4 397.9h0M381.1 345.4h0M458.1 423.5h0M296.6 455.6h0M559.5 245.4h0M438.7 275.0h0M299.8 479.8h0M356.3 462.0h0M268.2 479.7h0M405.0 455.3h0M481.2 249.5h0M522.4 389.0h0M300.7 473.7h0M295.1 492.0h0M365.8 383.5h0M382.9 342.6h0M454.7 425.9h0M405.4 302.8h0M582.0 325.1h0M293.6 458.4h0M361.4 471.8h0M503.2 239.2h0M277.3 514.8h0M582.5 322.6h0M280.9 511.0h0M258.3 522.9h0M277.9 469.5h0M293.2 459.6h0M299.4 474.0h0M572.7 349.0h0M412.9 294.9h0M376.0 359.6h0M282.6 508.7h0M383.2 465.8h0M393.1 460.6h0M375.1 362.1h0M372.1 470.2h0M407.4 453.1h0M288.3 500.7h0M259.8 522.4h0M378.6 354.7h0M393.4 321.8h0M286.3 503.2h0M549.7 376.3h0M267.8 483.8h0M560.7 248.1h0M261.2 496.0h0M260.3 498.0h0M399.5 311.8h0M362.7 431.3h0M367.1 387.0h0M469.2 257.1h0M565.2 254.6h0M492.9 244.1h0M262.8 521.1h0M360.2 447.0h0M364.4 422.0h0M496.8 242.5h0M292.7 464.9h0"/><path stroke="#23a983" d="M417.5 291.3h0M257.6 510.2h0M442.7 433.9h0M439.5 436.1h0M515.9 235.4h0M385.9 339.4h0M402.1 308.6h0M296.2 475.8h0M267.8 518.8h0M290.1 466.0h0M426.1 284.6h0M275.1 513.4h0M543.7 379.8h0M259.1 517.5h0M266.4 488.9h0M415.1 448.1h0M450.8 268.8h0M549.7 375.8h0M500.2 394.9h0M280.5 507.3h0M289.1 467.7h0M259.2 506.9h0M278.7 509.1h0M553.3 372.9h0M293.8 471.2h0M266.8 489.3h0M290.8 491.0h0M408.4 301.2h0M263.4 518.4h0M381.3 464.6h0M376.6 363.6h0M268.6 486.7h0M293.9 472.5h0M579.0 277.9h0M442.7 433.2h0M413.3 448.4h0M291.1 469.5h0M367.3 397.8h0M444.2 273.1h0M424.5 443.5h0M496.1 396.5h0M408.6 301.1h0M389.2 460.5h0M293.6 476.1h0M362.0 442.3h0M570.9 351.1h0M291.3 470.9h0M259.9 512.1h0M395.1 321.5h0M362.6 439.9h0M581.8 322.8h0M278.3 507.7h0M274.7 480.6h0M276.8 509.0h0M490.8 245.8h0M401.1 311.7h0M275.4 480.4h0M280.4 475.9h0M537.2 232.7h0M361.2 455.7h0M261.4 506.3h0M398.6 315.7h0M376.9 365.6h0M262.8 514.6h0M579.5 279.7h0M430.2 439.9h0M370.4 384.7h0M372.5 377.3h0M285.0 497.4h0M533.9 232.7h0M561.1 250.4h0M274.9 509.6h0M289.2 488.2h0M274.0 510.1h0M278.2 479.1h0M277.3 480.0h0M269.5 489.4h0M550.2 374.8h0M267.3 513.8h0M270.9 512.1h0M264.5 499.0h0M282.2 500.6h0M289.3 477.2h0M384.9 461.4h0M368.9 395.7h0M442.9 432.1h0M448.2 428.4h0M280.9 478.1h0M288.8 479.0h0M394.5 324.5h0M431.5 438.7h0M272.1 487.3h0M541.3 380.3h0M583.3 311.3h0M363.7 439.9h0M369.6 394.0h0M582.4 318.5h0M264.3 504.8h0M583.4 309.4h0M362.8 449.3h0M267.2 510.7h0M285.2 480.9h0M363.9 459.6h0M265.6 503.5h0M369.3 401.9h0M275.0 505.2h0M272.2 490.3h0M278.4 484.7h0M486.2 248.8h0M382.3 461.1h0M270.4 494.4h0M363.4 451.3h0M372.1 385.9h0M403.5 450.3h0M447.5 427.9h0M363.8 445.3h0M377.1 370.7h0M365.6 460.5h0M399.8 316.3h0M415.3 444.4h0M580.2 327.1h0M281.2 492.9h0M579.0 280.1h0M513.1 389.2h0M376.5 462.6h0M438.1 433.8h0M428.4 285.0h0M367.5 461.7h0M400.9 451.2h0M279.0 489.3h0M369.5 406.7h0M531.9 233.9h0M550.7 240.3h0M368.9 412.8h0M367.4 424.1h0M370.0 403.9h0M276.1 498.1h0M273.1 500.4h0M413.1 444.9h0M502.0 242.0h0M374.8 380.0h0M581.7 289.3h0M371.3 396.7h0M374.3 382.2h0M422.1 440.6h0M393.2 454.4h0M393.7 330.8h0M370.4 405.6h0"/><path stroke="#26ad81" d="M373.1 461.2h0M371.5 397.8h0M431.7 436.0h0M556.1 368.6h0M403.2 448.6h0M469.1 259.3h0M583.0 306.7h0M375.9 379.5h0M524.4 235.6h0M503.2 391.8h0M582.9 300.2h0M569.5 351.6h0M390.9 340.4h0M407.9 306.0h0M473.6 256.7h0M487.4 249.0h0M371.7 400.8h0M562.6 255.0h0M527.2 384.6h0M391.1 454.4h0M368.1 456.8h0M394.6 331.1h0M491.2 397.0h0M445.8 427.3h0M375.1 385.1h0M380.4 369.9h0M521.9 236.4h0M578.7 281.1h0M367.1 437.4h0M372.5 399.1h0M370.9 411.7h0M545.9 238.5h0M566.9 355.2h0M368.1 454.4h0M387.5 353.3h0M562.9 256.0h0M394.0 335.3h0M522.9 385.3h0M371.9 409.2h0M383.0 366.5h0M395.3 332.7h0M370.2 455.0h0M568.5 352.2h0M369.3 453.1h0M414.0 440.7h0M560.7 253.8h0M424.1 436.6h0M528.5 383.4h0M550.5 372.4h0M578.9 283.1h0M535.9 236.1h0M419.5 438.0h0M509.5 388.6h0M522.5 237.2h0M386.1 454.0h0M378.7 380.9h0M565.7 260.8h0M427.4 288.5h0M377.5 455.9h0M383.9 367.3h0M369.2 447.9h0M455.7 419.1h0M374.7 398.6h0M398.8 326.5h0M374.1 402.2h0M486.4 250.6h0M575.8 276.6h0M535.4 236.5h0M557.0 366.3h0M487.1 398.1h0M377.2 455.2h0M398.4 328.2h0M406.0 442.8h0M408.9 441.3h0M422.4 293.5h0M384.4 452.9h0"/><path stroke="#2ab07f" d="M390.7 354.5h0M420.6 295.5h0M509.1 388.0h0M464.2 412.3h0M395.8 340.2h0M533.8 237.1h0M438.9 281.3h0M410.3 439.5h0M441.9 426.5h0M392.5 350.8h0M372.3 449.0h0M421.6 294.9h0M553.5 247.3h0M374.5 410.2h0M396.9 337.7h0M407.7 311.9h0M400.8 326.2h0M487.4 250.8h0M376.8 397.6h0M409.0 310.2h0M400.9 326.4h0M390.4 358.2h0M380.1 385.3h0M372.0 429.4h0M374.3 413.8h0M391.0 357.4h0M398.1 444.8h0M375.2 449.7h0M379.2 390.4h0M511.6 386.6h0M497.6 391.7h0M433.2 286.3h0M580.1 319.9h0M379.9 450.6h0M386.8 449.3h0M385.5 449.7h0M454.9 417.6h0M429.7 289.0h0M375.8 408.9h0M380.4 387.4h0M374.4 418.5h0M390.4 361.3h0M428.6 290.2h0M372.8 431.7h0M445.8 422.9h0M517.0 240.2h0M423.1 431.9h0M574.7 277.1h0M403.3 324.2h0M557.7 364.2h0M398.8 338.6h0M423.2 295.2h0M421.4 432.1h0M373.4 430.6h0M477.4 257.1h0M393.1 445.6h0M376.4 447.2h0M374.0 426.4h0M558.2 363.4h0M397.3 443.1h0M571.5 272.0h0M378.1 447.8h0M575.8 334.5h0M378.7 399.1h0M518.3 384.2h0M558.8 255.0h0M573.6 275.5h0M376.8 446.3h0M426.3 292.9h0M576.3 333.1h0M382.3 386.0h0M478.9 401.1h0M500.0 246.3h0M433.5 427.2h0M421.9 297.3h0M506.5 387.5h0M394.9 443.5h0M375.7 420.0h0M377.0 444.9h0M569.2 269.2h0M480.2 400.0h0M375.6 441.9h0M405.4 437.5h0M526.9 239.3h0M489.8 250.9h0M404.0 327.1h0M402.2 333.4h0M402.5 332.4h0M391.7 444.3h0M459.0 413.5h0M404.7 325.5h0M377.5 411.2h0M384.9 381.4h0M408.5 316.9h0M402.5 334.0h0M423.2 296.9h0M562.0 358.4h0M404.6 437.2h0M375.9 424.1h0M508.4 243.8h0M375.4 434.5h0M418.7 301.9h0M572.5 274.7h0"/><path stroke="#2fb47c" d="M411.7 311.8h0M449.0 277.1h0M408.5 434.7h0M407.8 319.7h0M386.6 378.8h0M447.5 278.2h0M376.6 439.2h0M398.1 351.5h0M426.2 294.8h0M400.5 438.4h0M395.5 359.0h0M427.7 426.8h0M451.3 417.4h0M398.5 351.9h0M391.6 368.8h0M390.5 371.5h0M491.9 250.7h0M427.7 426.3h0M376.7 432.8h0M382.7 394.2h0M487.1 253.1h0M382.3 442.6h0M428.0 425.8h0M382.6 395.5h0M548.2 246.5h0M410.2 317.3h0M481.5 398.2h0M556.6 254.6h0M463.9 267.4h0M416.4 429.0h0M399.8 437.2h0M390.8 373.3h0M377.7 426.1h0M395.7 439.1h0M570.5 273.0h0M505.8 245.5h0M430.7 292.0h0M543.3 243.8h0M394.5 365.3h0M431.2 291.8h0M469.0 264.2h0M408.7 322.6h0M555.4 364.6h0M394.2 366.4h0M384.2 441.4h0M397.1 360.0h0M378.4 434.4h0M559.8 258.8h0M378.2 429.1h0M388.9 440.9h0M418.5 427.1h0M396.4 362.2h0M558.8 257.7h0M463.6 268.0h0M378.5 429.7h0M394.8 367.3h0M548.5 370.0h0M507.5 245.5h0M381.9 405.8h0M404.4 432.9h0M432.1 291.8h0M459.7 271.2h0M432.8 422.3h0M379.3 427.4h0M556.0 255.2h0M533.5 241.7h0M384.6 438.9h0M406.8 335.7h0M397.1 363.9h0M417.0 309.2h0M476.7 260.0h0M504.7 246.7h0M420.0 424.6h0M573.6 336.7h0M454.9 274.9h0M549.2 249.0h0M434.8 290.3h0M575.0 332.7h0M435.6 289.7h0M381.7 411.8h0M395.6 435.9h0M526.0 242.1h0M385.4 395.8h0M397.9 364.3h0M571.5 341.1h0M575.8 284.6h0M408.2 334.7h0M383.8 435.7h0M438.5 287.7h0M415.5 313.4h0"/><path stroke="#35b779" d="M469.7 265.0h0M405.2 430.2h0M386.2 436.5h0M468.1 404.8h0M545.4 371.3h0M392.5 377.9h0M387.4 391.5h0M449.4 279.7h0M487.3 393.4h0M540.4 244.6h0M446.3 416.2h0M407.6 342.6h0M410.7 330.1h0M562.9 354.8h0M382.2 420.4h0M578.5 317.0h0M475.7 399.8h0M385.6 433.5h0M579.1 300.0h0M386.9 396.5h0M395.8 373.5h0M382.6 423.7h0M427.8 298.7h0M450.1 414.2h0M538.7 244.5h0M414.9 318.6h0M390.8 433.8h0M573.5 280.9h0M575.2 284.6h0M409.7 338.7h0M387.5 433.2h0M422.8 304.9h0M530.1 243.2h0M400.7 364.4h0M404.6 355.4h0M385.5 405.5h0M412.7 328.1h0M393.4 381.2h0M432.7 418.1h0M525.0 243.6h0M578.3 296.3h0M392.3 384.4h0M531.5 377.0h0M446.8 414.8h0M417.7 314.5h0M400.5 366.4h0M576.7 289.6h0M493.6 389.4h0M407.3 425.3h0M410.5 423.5h0M573.4 335.1h0M393.9 381.6h0M424.4 418.3h0M548.3 250.6h0M553.3 255.0h0M394.1 431.2h0M386.8 403.7h0M442.4 286.7h0M476.5 398.5h0M391.1 389.6h0M403.9 426.5h0M444.5 415.1h0M445.2 414.8h0M409.0 348.3h0M528.1 377.7h0M573.2 335.0h0M486.6 256.2h0M413.6 332.3h0M385.8 414.6h0M496.1 387.9h0M403.6 425.5h0M413.0 336.1h0M417.9 318.0h0M421.6 310.4h0M441.1 415.0h0M407.8 354.3h0M530.9 244.5h0M410.8 420.9h0M415.9 325.7h0M386.8 412.2h0M393.9 386.5h0M468.0 402.9h0M421.7 415.9h0M405.3 361.8h0M432.0 415.1h0M406.4 359.7h0M415.6 417.5h0M399.3 375.3h0M452.6 279.7h0M402.0 424.5h0M430.2 299.8h0"/><path stroke="#3bbb75" d="M414.7 334.6h0M455.7 277.4h0M420.5 314.9h0M409.4 353.9h0M558.3 261.9h0M425.1 307.2h0M398.0 425.1h0M438.6 291.9h0M397.7 425.2h0M434.0 413.9h0M453.2 410.0h0M388.9 421.5h0M389.6 422.9h0M451.7 410.6h0M388.6 419.1h0M488.0 391.1h0M389.1 419.5h0M392.2 396.8h0M446.5 412.1h0M535.4 246.2h0M458.9 407.1h0M544.7 369.7h0M564.1 350.9h0M475.5 397.8h0M499.7 385.4h0M390.4 405.1h0M499.1 251.7h0M459.5 275.1h0M526.0 245.6h0M416.0 336.1h0M395.1 390.2h0M423.9 310.9h0M407.5 362.5h0M501.7 384.5h0M390.2 412.1h0M410.2 356.8h0M391.1 419.3h0M445.1 411.7h0M416.8 335.0h0M545.7 368.7h0M441.0 290.9h0M433.6 412.0h0M413.3 348.6h0M416.0 413.0h0M407.0 365.7h0M399.1 383.0h0M425.7 410.8h0M422.8 315.0h0M437.1 411.9h0M415.6 342.1h0M402.2 376.8h0M440.4 291.8h0M394.9 420.7h0M391.4 412.2h0M420.7 410.5h0M557.8 262.7h0M399.8 419.5h0M479.6 261.8h0M543.6 250.5h0M552.3 363.5h0M430.8 302.9h0M421.7 320.2h0M411.8 356.9h0M413.6 412.1h0M409.5 363.1h0M465.4 402.6h0M572.6 333.8h0M397.3 418.8h0M461.3 404.7h0M431.2 302.8h0M446.2 287.2h0M396.3 417.7h0M518.8 247.3h0M418.1 336.9h0M394.8 401.3h0M394.4 414.7h0M395.2 415.5h0M397.2 416.9h0M433.0 409.3h0M408.8 413.1h0M416.8 409.0h0M577.4 302.1h0M403.1 379.8h0M415.8 409.1h0M408.7 412.7h0M394.3 408.3h0M397.6 393.7h0M493.3 255.2h0M433.5 409.0h0M394.5 409.9h0M574.6 327.2h0M403.0 414.7h0M414.1 354.6h0M564.3 271.5h0M421.5 406.4h0M399.4 414.9h0M530.9 374.7h0M575.0 290.5h0M520.9 377.5h0M414.6 354.5h0M426.3 313.0h0M419.3 406.1h0M514.7 379.2h0M414.4 355.4h0M400.6 389.2h0M418.5 406.1h0M529.1 375.2h0M506.4 250.7h0M484.3 259.9h0M422.3 326.2h0M397.3 404.2h0"/><path stroke="#42be71" d="M429.0 308.8h0M529.4 247.5h0M531.7 247.8h0M465.4 401.6h0M412.0 364.4h0M400.9 391.4h0M458.2 278.1h0M438.4 408.0h0M529.8 374.7h0M405.9 409.6h0M576.2 296.5h0M411.7 406.7h0M419.3 341.3h0M407.4 377.2h0M403.1 387.6h0M400.8 409.7h0M399.1 407.2h0M399.7 408.4h0M412.0 367.0h0M433.5 405.9h0M444.3 290.8h0M400.1 400.7h0M572.1 284.5h0M400.3 400.3h0M563.0 350.4h0M415.0 402.2h0M442.0 293.6h0M405.1 387.9h0M565.2 273.9h0M418.8 400.2h0M433.8 404.6h0M404.6 404.0h0M442.5 407.2h0M436.2 405.5h0M407.6 383.3h0M433.4 404.1h0M404.1 395.1h0M405.3 390.9h0M440.0 406.4h0M405.7 399.9h0M499.3 254.1h0M564.0 348.5h0M408.9 384.1h0M500.6 253.6h0M410.8 398.7h0M441.4 406.2h0M413.1 372.4h0M416.5 361.3h0M414.6 368.0h0M421.0 343.7h0M411.6 378.7h0M416.2 395.8h0M473.9 395.9h0M408.9 390.7h0M571.8 333.0h0M409.2 392.7h0M428.0 317.2h0M444.2 406.0h0M414.8 394.2h0M417.1 393.7h0M421.2 393.7h0M416.0 392.4h0M412.9 381.3h0M419.0 392.8h0M412.3 388.7h0M434.9 304.3h0M412.8 389.0h0M456.0 281.8h0M508.4 251.7h0M413.9 380.1h0M542.5 368.3h0M414.4 386.1h0M474.4 267.7h0M481.2 391.7h0M564.4 347.2h0M427.0 324.2h0M440.6 403.8h0M453.0 284.8h0M419.5 357.8h0M419.0 360.5h0M424.4 390.8h0M437.2 302.3h0M417.7 369.7h0M423.3 389.0h0M436.1 304.4h0M533.2 250.4h0M479.3 264.9h0M427.7 391.0h0M424.9 387.7h0M469.2 272.0h0M419.7 379.0h0M422.5 349.3h0M419.6 366.8h0M525.7 250.1h0M420.0 378.3h0M545.3 366.1h0"/><path stroke="#4ac16d" d="M438.7 400.6h0M426.1 386.0h0M496.5 256.5h0M426.6 332.2h0M425.7 336.5h0M427.3 386.6h0M509.2 252.6h0M434.8 308.4h0M521.1 250.6h0M424.6 381.3h0M505.5 379.8h0M548.7 258.8h0M424.9 381.2h0M512.1 252.1h0M531.8 251.0h0M482.5 263.7h0M575.2 300.1h0M423.3 354.3h0M535.4 252.0h0M423.1 355.9h0M433.9 391.8h0M430.2 322.6h0M533.9 251.8h0M461.3 399.8h0M568.0 281.3h0M572.6 327.5h0M423.4 365.8h0M463.6 398.8h0M565.9 278.4h0M528.8 251.5h0M474.3 269.5h0M445.9 400.5h0M425.8 350.6h0M426.8 372.0h0M527.7 372.6h0M533.2 252.5h0M425.6 362.9h0M510.8 253.5h0M439.5 394.8h0M427.4 371.2h0M427.9 372.0h0M535.8 253.4h0M442.8 299.9h0M435.4 386.9h0M574.9 312.8h0M542.6 256.4h0M434.7 385.0h0M496.1 258.2h0M446.5 399.6h0M469.9 395.1h0M453.0 288.5h0M499.7 257.0h0M541.4 366.9h0M444.1 298.8h0M427.2 363.2h0M443.7 397.3h0M433.5 320.2h0M485.8 263.3h0M484.2 387.8h0M544.7 364.9h0M440.7 393.4h0M464.3 278.4h0M560.6 350.1h0M558.8 352.3h0M449.3 399.1h0M491.6 260.7h0M432.7 325.3h0M570.1 332.7h0M446.4 397.8h0"/><path stroke="#52c569" d="M468.3 275.3h0M486.1 386.6h0M457.1 398.7h0M568.0 283.3h0M450.3 398.8h0M563.7 277.2h0M430.3 367.2h0M478.0 390.4h0M430.7 368.2h0M556.4 268.9h0M573.5 320.1h0M428.9 357.5h0M441.2 391.1h0M531.8 370.4h0M449.5 398.0h0M564.0 278.0h0M468.2 394.7h0M574.1 315.1h0M526.6 253.4h0M429.9 359.6h0M481.1 388.6h0M458.6 397.6h0M481.1 266.9h0M480.4 267.3h0M429.9 350.0h0M572.0 325.8h0M509.9 376.3h0M434.7 323.4h0M537.2 255.7h0M571.8 292.5h0M446.0 394.5h0M449.6 295.0h0M439.7 383.0h0M465.8 278.8h0M535.1 255.6h0M449.4 395.5h0M464.8 394.9h0M557.7 271.8h0M460.8 395.9h0M436.2 370.8h0M469.7 275.9h0M525.2 371.4h0M446.2 392.0h0M435.9 325.1h0M553.9 356.1h0M556.0 270.3h0M572.4 321.6h0M573.1 317.6h0M463.2 281.7h0M478.2 269.9h0M435.4 364.8h0M506.1 257.6h0M439.5 315.5h0M453.9 395.4h0M436.5 367.0h0M492.3 262.5h0M434.3 359.3h0M438.8 371.8h0M467.0 279.1h0"/><path stroke="#5ac864" d="M526.1 370.6h0M438.4 369.3h0M441.0 375.8h0M475.9 272.4h0M559.2 275.0h0M562.8 279.4h0M513.5 257.0h0M435.0 353.0h0M463.2 393.4h0M483.8 385.2h0M451.9 295.9h0M455.0 292.1h0M436.0 356.5h0M476.5 272.5h0M476.5 272.6h0M437.7 328.2h0M474.0 389.1h0M465.7 281.7h0M443.4 311.9h0M480.4 270.4h0M552.2 268.8h0M447.6 385.8h0M449.9 389.1h0M527.2 369.3h0M510.5 373.9h0M455.1 293.2h0M569.7 292.6h0M521.4 370.8h0M510.9 373.6h0M560.5 346.6h0M533.5 258.4h0M523.2 257.3h0M455.4 293.3h0M552.0 269.2h0M556.5 351.5h0M456.7 291.8h0M438.2 332.8h0M473.5 388.7h0M468.8 390.3h0M550.9 268.5h0M477.1 387.0h0M570.3 295.5h0M454.1 295.7h0M449.0 384.2h0M442.7 317.7h0M455.7 390.6h0M453.9 389.7h0M552.7 270.5h0M570.6 296.8h0M445.8 310.1h0M562.1 343.4h0M441.2 361.2h0M438.5 339.6h0M438.6 339.5h0"/><path stroke="#63cb5f" d="M562.1 281.1h0M454.4 296.3h0M512.8 259.3h0M440.7 327.6h0M465.6 284.0h0M507.5 260.6h0M444.6 315.9h0M444.5 366.5h0M479.7 273.0h0M440.8 332.0h0M463.9 389.6h0M442.2 358.3h0M445.2 315.7h0M441.2 353.6h0M566.6 333.5h0M481.6 272.0h0M450.0 379.7h0M491.6 266.7h0M442.2 327.3h0M530.5 260.3h0M467.5 388.4h0M450.2 305.9h0M459.1 388.4h0M441.1 336.0h0M447.7 371.7h0M452.6 302.1h0M508.5 372.5h0M448.2 311.0h0M446.4 315.4h0M547.0 358.2h0M509.3 261.6h0M507.1 262.1h0M552.7 272.8h0M549.5 270.0h0M530.6 260.8h0M441.5 342.4h0M495.8 265.7h0M468.0 387.5h0M513.3 370.8h0M493.2 266.9h0M481.4 273.2h0M444.9 321.5h0M442.4 348.3h0M446.9 364.8h0M455.1 299.5h0M477.8 275.9h0M546.7 357.9h0M442.4 339.3h0M479.8 383.3h0M492.3 267.7h0M569.3 323.0h0M501.0 264.5h0M491.7 378.2h0M513.4 261.7h0M442.8 336.0h0M444.5 354.7h0M464.7 287.9h0"/><path stroke="#6ccd5a" d="M442.8 342.1h0M569.7 300.3h0M443.5 348.8h0M489.9 269.1h0M472.7 280.5h0M500.9 264.9h0M568.6 324.9h0M453.8 380.3h0M495.2 267.0h0M500.8 374.3h0M443.6 337.2h0M567.1 329.3h0M486.9 379.8h0M443.8 334.7h0M570.0 317.4h0M448.8 314.4h0M448.4 363.1h0M569.6 319.2h0M549.4 355.0h0M451.6 372.0h0M453.0 375.7h0M472.3 384.7h0M466.0 288.0h0M444.5 335.5h0M531.8 364.4h0M569.4 302.0h0M444.9 333.7h0M546.2 269.9h0M505.7 371.7h0M445.2 334.4h0M445.2 335.8h0M520.1 367.4h0M486.4 272.5h0M453.8 306.3h0M451.4 367.6h0M569.4 304.1h0M531.8 364.0h0M454.6 375.7h0M567.8 298.0h0M449.7 360.3h0M453.9 307.1h0M480.1 381.2h0M472.7 283.0h0M536.6 265.6h0M479.5 277.6h0M465.4 290.5h0M447.4 327.3h0M508.2 370.2h0M542.6 268.6h0M497.2 374.2h0M475.9 382.2h0M460.7 296.9h0M568.9 304.0h0M451.7 364.0h0M531.7 264.6h0M564.7 291.6h0"/><path stroke="#75d054" d="M448.4 324.2h0M470.1 286.1h0M541.2 359.3h0M448.3 325.6h0M482.9 275.8h0M451.4 315.0h0M458.2 378.8h0M449.4 322.4h0M451.7 360.6h0M506.8 266.5h0M567.9 301.2h0M535.3 266.3h0M450.1 321.2h0M562.7 289.4h0M562.6 289.2h0M539.2 267.9h0M532.0 362.7h0M567.9 301.5h0M448.5 329.3h0M557.1 345.0h0M562.1 337.2h0M562.6 336.2h0M548.3 274.0h0M448.5 345.3h0M464.5 293.7h0M561.2 338.7h0M534.8 266.5h0M453.5 312.5h0M475.3 381.1h0M477.8 280.6h0M463.5 380.7h0M535.1 361.2h0M563.8 291.9h0M448.7 333.7h0M452.6 316.2h0M478.3 280.8h0M507.1 267.3h0M566.3 326.0h0M462.1 379.3h0M523.3 364.7h0M566.1 326.5h0M458.2 304.3h0M456.1 368.9h0M562.2 336.1h0M555.9 345.7h0M566.9 322.8h0M503.1 268.8h0M507.0 369.0h0M450.7 348.9h0M485.7 276.3h0M566.7 300.2h0M487.8 275.2h0M451.4 323.3h0M536.9 359.9h0M507.9 268.1h0M552.2 349.3h0M542.7 356.7h0M567.2 303.2h0M544.1 272.6h0M540.9 270.7h0"/><path stroke="#7fd34e" d="M463.0 377.6h0M567.6 307.9h0M563.9 294.7h0M474.6 378.9h0M453.9 319.5h0M477.7 378.2h0M565.5 299.1h0M451.5 338.5h0M468.1 378.2h0M544.5 354.6h0M547.1 276.3h0M452.7 327.7h0M452.9 344.8h0M548.2 351.7h0M503.2 368.8h0M457.6 362.7h0M496.8 273.3h0M566.6 306.0h0M498.8 272.8h0M481.1 282.2h0M496.7 273.7h0M544.5 353.9h0M555.1 344.2h0M456.1 318.2h0M503.3 368.3h0M463.4 373.0h0M453.7 342.3h0M533.4 270.3h0M470.3 376.6h0M518.1 269.4h0M496.6 274.5h0M460.3 366.0h0M484.9 280.5h0M476.0 287.5h0M543.7 275.3h0M481.0 375.6h0M502.2 368.3h0"/><path stroke="#89d548" d="M456.4 319.3h0M465.0 301.3h0M455.4 324.7h0M498.9 274.1h0M515.4 270.3h0M459.0 360.0h0M562.3 295.8h0M461.2 365.8h0M467.6 298.1h0M464.9 371.9h0M468.5 297.5h0M551.8 346.6h0M500.0 368.3h0M537.6 273.2h0M558.0 338.5h0M478.7 286.7h0M471.3 374.9h0M460.9 362.6h0M455.9 343.1h0M520.9 270.7h0M455.7 339.9h0M506.7 272.9h0M545.3 278.0h0M505.5 273.2h0M527.0 270.9h0M518.3 271.0h0M565.0 305.6h0M515.8 271.3h0M458.1 319.5h0M564.9 305.7h0M499.6 368.1h0M456.2 329.1h0M455.9 333.6h0M548.1 349.5h0M546.0 278.9h0M464.6 368.9h0M472.3 374.2h0M459.1 354.1h0M511.4 364.0h0M496.8 276.8h0M459.3 353.8h0M564.9 316.9h0M548.0 349.2h0M459.8 317.7h0M561.9 328.8h0M559.4 293.9h0M458.1 325.9h0"/><path stroke="#93d741" d="M485.8 283.8h0M457.6 334.1h0M563.8 305.2h0M545.6 280.1h0M469.2 370.6h0M457.8 334.4h0M496.5 278.3h0M461.4 315.9h0M483.2 286.1h0M486.2 284.0h0M510.5 274.1h0M560.2 331.7h0M564.3 310.9h0M462.3 314.1h0M473.9 372.1h0M479.7 372.3h0M470.4 370.7h0M529.8 273.5h0M459.7 346.3h0M497.3 367.3h0M466.2 365.5h0M508.4 363.5h0M543.0 351.5h0M476.6 371.7h0M548.2 283.4h0M557.6 293.7h0M504.5 276.8h0M469.2 367.8h0M484.9 370.4h0M460.9 322.6h0M501.7 365.1h0M506.9 276.4h0M463.9 314.1h0M495.6 367.0h0M469.1 367.0h0M460.7 343.1h0M538.5 277.7h0M471.9 300.0h0M462.2 349.5h0M555.4 338.5h0M486.2 369.5h0M460.2 334.1h0M469.5 303.8h0M517.4 274.8h0M529.7 275.1h0M563.3 311.7h0M537.6 353.5h0M484.4 287.8h0M545.1 348.9h0M562.1 305.1h0"/><path stroke="#9dd93b" d="M489.2 368.2h0M464.9 355.6h0M489.0 368.1h0M558.4 297.0h0M485.2 288.0h0M502.7 279.2h0M491.8 367.2h0M462.5 323.5h0M467.2 310.2h0M482.9 369.1h0M533.4 354.5h0M546.1 347.5h0M552.1 289.5h0M511.6 360.8h0M490.2 367.3h0M550.5 288.1h0M561.2 304.5h0M517.2 276.3h0M462.1 330.5h0M512.9 360.2h0M481.0 368.8h0M534.0 354.1h0M525.0 276.1h0M465.3 316.3h0M552.4 340.9h0M472.0 365.8h0M514.8 276.9h0M527.6 276.4h0M535.2 353.4h0M553.4 339.6h0M562.1 316.8h0M469.4 362.3h0M463.0 341.4h0M562.1 312.3h0M521.7 276.5h0M478.5 295.9h0M515.4 277.4h0M561.5 319.0h0M467.4 314.1h0M463.4 332.6h0M515.6 358.6h0M463.9 327.6h0M532.8 278.6h0M512.5 278.5h0M485.3 367.0h0M547.0 286.8h0M531.2 278.3h0M503.0 281.5h0M470.8 360.7h0M492.4 286.6h0M475.4 365.2h0M475.9 301.0h0M492.0 286.9h0"/><path stroke="#a8db34" d="M510.3 359.6h0M477.2 299.6h0M491.9 364.9h0M473.8 304.8h0M474.4 304.1h0M495.5 285.7h0M465.1 337.4h0M483.3 294.0h0M541.9 348.2h0M465.3 328.8h0M472.7 307.2h0M474.8 363.3h0M477.3 364.6h0M559.7 322.8h0M480.6 297.3h0M470.4 356.9h0M548.9 290.3h0M502.8 361.1h0M482.3 365.3h0M544.5 345.9h0M547.3 343.5h0M471.4 311.0h0M466.2 339.0h0M515.5 279.9h0M482.2 364.7h0M557.6 302.4h0M540.2 284.3h0M466.3 332.6h0M478.9 300.4h0M489.8 290.6h0M481.9 297.2h0M536.7 282.6h0M555.1 298.4h0M466.6 333.4h0M480.7 298.9h0M544.2 287.5h0M479.8 363.6h0M485.2 364.0h0M467.6 341.0h0M471.9 313.0h0M536.9 283.5h0M559.6 314.8h0M519.2 355.2h0M535.0 350.3h0M471.6 313.9h0M536.4 283.5h0M537.0 283.8h0M469.0 345.2h0"/><path stroke="#b2dd2d" d="M535.9 283.5h0M548.0 341.3h0M468.6 340.6h0M542.2 346.0h0M544.8 344.0h0M480.4 362.3h0M486.0 295.7h0M468.3 333.6h0M520.7 281.4h0M470.9 318.3h0M531.9 282.6h0M469.6 324.5h0M507.6 284.6h0M525.4 282.1h0M550.5 295.9h0M530.4 350.7h0M558.2 318.3h0M526.9 282.5h0M554.3 331.1h0M473.1 352.0h0M470.0 340.0h0M557.2 307.7h0M522.6 282.4h0M537.1 347.8h0M557.8 311.1h0M506.2 357.3h0M506.5 357.2h0M553.5 332.2h0M489.4 294.9h0M478.2 306.9h0M484.4 361.1h0M475.4 355.5h0M540.4 345.7h0M551.8 334.8h0M537.2 286.4h0M524.1 283.1h0M533.6 285.0h0M471.3 341.0h0M470.7 335.4h0M499.9 358.4h0M472.4 345.8h0M470.8 333.7h0M547.0 294.0h0M488.6 360.3h0M498.5 358.5h0M471.2 334.1h0"/><path stroke="#bddf26" d="M472.2 342.9h0M477.6 355.8h0M551.1 299.1h0M505.4 356.4h0M508.3 286.6h0M471.5 334.1h0M539.7 289.1h0M555.9 323.4h0M475.3 350.8h0M472.9 342.3h0M478.8 309.6h0M490.5 359.1h0M556.6 313.9h0M475.0 349.1h0M543.0 342.0h0M486.9 300.4h0M473.0 327.3h0M556.3 317.1h0M477.8 352.7h0M536.6 288.7h0M524.9 350.0h0M491.1 297.6h0M473.8 326.7h0M541.0 291.8h0M554.1 325.8h0M495.3 294.7h0M547.7 336.8h0M548.4 336.0h0M555.6 318.5h0M489.7 299.1h0M554.9 310.4h0M478.6 352.3h0M532.1 287.6h0M542.5 341.4h0M547.3 336.9h0M554.7 322.2h0M474.5 327.9h0M545.8 338.2h0M475.6 322.3h0M475.1 325.2h0M482.7 354.9h0M490.3 356.9h0M499.2 293.5h0M481.6 309.9h0M476.3 321.8h0M548.4 334.7h0"/><path stroke="#c8e020" d="M546.7 298.3h0M484.4 306.4h0M554.7 319.0h0M543.2 340.0h0M509.2 352.8h0M501.5 292.8h0M489.8 356.2h0M475.5 336.2h0M480.6 312.8h0M520.9 287.4h0M516.5 350.5h0M517.5 288.0h0M554.2 319.1h0M527.6 347.4h0M550.4 303.8h0M476.0 328.7h0M539.6 341.9h0M482.9 310.0h0M482.5 310.7h0M545.6 336.8h0M478.7 347.0h0M499.7 294.7h0M553.6 321.1h0M533.3 290.2h0M526.8 347.3h0M500.4 294.5h0M531.8 289.7h0M522.9 348.3h0M539.4 341.6h0M540.7 294.7h0M476.9 338.8h0M496.5 297.2h0M494.5 298.6h0M477.7 323.3h0M496.8 354.3h0M492.2 301.0h0M541.6 296.1h0M503.1 352.8h0M515.2 289.8h0M510.1 291.2h0M517.6 349.0h0M552.2 311.0h0M486.5 307.5h0M547.0 301.8h0M536.3 293.0h0M478.1 327.0h0M479.6 320.8h0M496.5 353.5h0M479.0 341.5h0M496.5 298.9h0M482.0 315.7h0M478.4 336.8h0M552.4 314.7h0M546.7 302.4h0M548.1 304.2h0"/><path stroke="#d2e21b" d="M537.0 294.5h0M525.8 290.5h0M479.9 323.4h0M522.9 290.4h0M548.9 328.8h0M482.8 346.9h0M542.8 336.6h0M542.7 336.8h0M519.8 290.9h0M507.1 350.3h0M546.6 303.9h0M495.0 301.6h0M479.8 335.8h0M489.6 306.9h0M516.2 347.7h0M534.7 294.4h0M479.9 334.5h0M482.3 344.2h0M518.8 291.5h0M480.2 328.8h0M528.1 292.4h0M496.5 351.4h0M480.6 336.8h0M550.4 322.7h0M509.2 294.2h0M528.9 292.7h0M487.0 349.1h0M532.7 342.0h0M517.6 292.2h0M496.0 351.1h0M536.8 296.5h0M527.0 344.0h0M520.7 292.1h0M541.8 300.4h0M550.5 318.5h0M512.5 293.8h0M543.5 302.8h0M482.4 339.7h0M487.2 313.0h0M506.4 296.6h0M518.8 293.1h0M548.1 310.1h0M488.7 348.1h0M539.9 336.6h0M506.1 348.6h0M525.0 343.6h0M490.8 348.9h0M546.1 329.7h0M485.9 316.4h0M507.5 296.7h0M511.4 295.4h0"/><path stroke="#dde318" d="M521.6 293.8h0M534.9 339.1h0M541.8 334.2h0M533.8 297.0h0M539.1 300.5h0M505.0 348.1h0M539.6 335.9h0M541.4 302.7h0M532.6 296.7h0M548.5 320.9h0M485.2 320.1h0M529.9 341.0h0M548.0 322.5h0M542.1 304.0h0M483.7 334.4h0M528.1 295.5h0M504.1 299.7h0M492.4 309.2h0M544.5 307.6h0M532.7 297.7h0M541.4 333.0h0M504.3 347.1h0M495.7 306.9h0M518.4 295.7h0M526.3 296.2h0M489.4 344.0h0M489.8 314.6h0M545.5 325.9h0M543.1 307.5h0M523.3 341.8h0M491.8 345.3h0M519.3 342.8h0M493.3 310.3h0M487.7 340.9h0M488.3 318.2h0M495.7 308.0h0M489.3 342.7h0M506.8 345.5h0M521.5 341.7h0M545.1 323.4h0M486.5 329.1h0M518.4 297.4h0M544.0 326.2h0M542.2 328.9h0"/><path stroke="#e7e419" d="M542.4 328.0h0M491.6 342.0h0M526.9 338.9h0M493.5 312.9h0M542.9 311.4h0M521.4 340.5h0M531.9 336.5h0M488.1 334.4h0M493.1 313.9h0M493.6 313.3h0M491.9 341.6h0M535.7 334.3h0M503.0 304.5h0M498.9 307.8h0M488.6 325.6h0M538.9 331.0h0M489.0 335.0h0M535.7 333.4h0M542.8 313.6h0M495.3 312.4h0M492.9 315.8h0M501.7 343.6h0M490.2 321.9h0M500.5 343.5h0M516.7 299.6h0M515.1 341.1h0M490.0 324.8h0M490.2 333.0h0M542.6 318.6h0M504.7 305.4h0M536.7 330.8h0M498.4 341.7h0M505.3 342.0h0M541.8 316.4h0M499.2 310.3h0M522.9 300.9h0M493.9 317.4h0M499.9 341.6h0M512.3 340.4h0M507.7 304.7h0M529.5 303.5h0M507.1 305.1h0M503.6 307.3h0M502.5 308.2h0M500.4 341.0h0M509.7 340.6h0M493.5 320.2h0M535.9 308.9h0M508.3 340.4h0M540.1 323.1h0"/><path stroke="#f1e51d" d="M521.6 337.0h0M534.0 330.9h0M534.7 330.4h0M493.4 322.6h0M519.2 302.6h0M539.9 320.6h0M499.4 312.6h0M527.6 304.4h0M522.3 303.2h0M496.8 337.2h0M535.4 328.4h0M507.9 339.3h0M538.7 316.4h0M508.8 306.2h0M497.8 316.1h0M494.4 332.7h0M531.0 307.3h0M494.5 331.9h0M505.2 338.7h0M536.6 325.2h0M515.8 304.6h0M522.5 334.9h0M536.5 324.7h0M523.0 334.5h0M522.5 304.8h0M495.8 332.6h0M498.1 317.7h0M531.1 330.0h0M512.1 306.3h0M524.0 333.4h0M511.3 307.0h0M534.1 326.4h0M521.3 334.2h0M536.2 320.9h0M499.1 334.7h0M531.7 310.8h0M516.1 306.3h0M532.4 327.3h0M508.1 336.7h0M525.9 307.3h0M501.5 335.6h0M526.5 307.7h0M508.8 309.1h0M510.1 336.1h0M498.6 321.3h0M524.8 331.2h0M499.1 331.6h0M499.7 319.9h0M501.6 316.8h0M533.7 318.1h0M504.2 314.2h0M509.9 334.8h0"/><path stroke="#fbe723" d="M532.0 316.2h0M532.0 316.8h0M528.7 312.1h0M499.5 325.5h0M501.2 331.2h0M510.8 310.7h0M503.0 332.6h0M523.4 329.8h0M522.4 330.2h0M504.2 316.8h0M508.6 333.0h0M504.5 317.3h0M522.9 310.9h0M528.1 324.9h0M502.0 323.7h0M528.5 321.2h0M515.6 330.7h0M527.7 317.1h0M516.8 311.7h0M509.9 331.0h0M528.1 320.1h0M510.4 330.6h0M516.1 312.4h0M504.0 324.9h0M505.7 328.8h0M523.0 313.7h0M512.7 313.5h0M513.0 329.7h0M506.6 328.4h0M508.0 329.0h0M516.3 328.3h0M523.1 315.7h0M516.0 328.0h0M523.9 322.8h0M510.5 328.2h0M522.7 324.0h0M523.2 322.7h0M517.8 326.8h0M514.8 315.1h0M509.6 326.9h0M513.4 316.2h0M522.7 321.0h0M522.2 318.9h0M521.8 321.3h0M517.7 324.1h0M512.0 319.6h0M517.5 318.0h0M515.8 323.0h0M515.4 320.9h0"/></g><line x1="101.9" y1="688.8" x2="780.7" y2="65.4" stroke="#000" stroke-width="2.7" stroke-dasharray="11.6 5.2"/><path d="M186.8 688.8v-5.5M101.9 610.9h5.5M271.6 688.8v-10.0M101.9 532.9h10.0M356.5 688.8v-5.5M101.9 455.0h5.5M441.3 688.8v-10.0M101.9 377.1h10.0M526.2 688.8v-5.5M101.9 299.2h5.5M611.0 688.8v-10.0M101.9 221.2h10.0M695.9 688.8v-5.5M101.9 143.3h5.5" stroke="#111" stroke-width="1.8" fill="none"/><rect x="101.9" y="65.4" width="678.8" height="623.4" fill="none" stroke="#111" stroke-width="2.2"/><text class="t" x="101.4" y="719.8" text-anchor="middle">4</text><text class="t" x="90.5" y="699.0" text-anchor="end">4</text><text class="t" x="271.1" y="719.8" text-anchor="middle">5</text><text class="t" x="90.5" y="543.1" text-anchor="end">5</text><text class="t" x="440.8" y="719.8" text-anchor="middle">6</text><text class="t" x="90.5" y="387.3" text-anchor="end">6</text><text class="t" x="610.5" y="719.8" text-anchor="middle">7</text><text class="t" x="90.5" y="231.4" text-anchor="end">7</text><text class="t" x="780.2" y="719.8" text-anchor="middle">8</text><text class="t" x="90.5" y="75.6" text-anchor="end">8</text><text class="b" x="441.3" y="764.0" text-anchor="middle">Mobile Signaling (pp4h)</text><text class="b" transform="translate(54.5,377.1) rotate(-90)" text-anchor="middle">Baidu Heat Map (pp4h)</text><text class="b" x="135.8" y="121.4">(a) 0:00 – 1:00</text><text class="s" x="543.3" y="525">R<tspan font-size="26.6" dy="-2">²</tspan><tspan dy="2"> = 0.7063</tspan></text><text class="s" x="543.3" y="571.6">MAE = 117.46</text><text class="s" x="543.3" y="618.2">RMSE = 147.46</text><rect x="814.2" y="65.4" width="31.4" height="623.4" fill="url(#vir)"/><text class="t" x="856" y="627.6">0.05</text><text class="t" x="856" y="552.1">0.10</text><text class="t" x="856" y="476.6">0.15</text><text class="t" x="856" y="401.1">0.20</text><text class="t" x="856" y="325.6">0.25</text><text class="t" x="856" y="250.1">0.30</text><text class="t" x="856" y="174.6">0.35</text><text class="t" x="856" y="99.2">0.40</text><path d="M845.6 617.4h-4M845.6 541.9h-4M845.6 466.4h-4M845.6 390.9h-4M845.6 315.4h-4M845.6 239.9h-4M845.6 164.4h-4M845.6 89.0h-4" stroke="#111" stroke-width="1.8"/><rect x="814.2" y="65.4" width="31.4" height="623.4" fill="none" stroke="#111" stroke-width="2.2"/><text class="d" x="829.9" y="46.1" text-anchor="middle">Density</text></g><g transform="translate(922,0)"><g clip-path="url(#ax)" fill="none" stroke-width="6.7" stroke-linecap="round"><path stroke="#450457" d="M602.5 358.4h0M553.3 205.7h0M609.3 308.5h0M570.3 238.4h0M508.1 616.3h0M253.3 273.1h0M590.6 243.1h0M221.6 292.4h0M604.2 294.5h0M207.9 297.3h0M607.6 255.5h0"/><path stroke="#460a5d" d="M597.4 257.1h0M595.7 266.4h0M165.9 324.6h0M594.0 280.5h0M150.5 341.2h0M222.1 330.7h0M195.3 317.8h0M540.3 506.7h0M134.3 380.8h0M263.0 290.4h0M580.5 333.5h0M500.9 204.5h0"/><path stroke="#471063" d="M497.4 567.8h0M502.5 206.9h0M131.9 418.0h0M517.8 529.2h0M468.4 213.2h0M146.6 372.5h0M395.5 237.9h0M180.6 344.6h0M202.7 354.6h0M161.4 353.6h0M181.8 347.1h0M291.8 268.7h0M560.1 283.6h0M277.0 285.6h0M156.7 364.4h0M170.3 354.2h0M476.7 664.6h0M162.4 362.9h0"/><path stroke="#481668" d="M297.1 268.1h0M124.9 444.6h0M528.7 505.5h0M155.8 384.7h0M165.8 371.3h0M291.2 275.3h0M463.5 221.4h0M352.3 253.5h0M288.1 280.9h0M489.0 220.8h0M309.8 267.0h0M150.4 409.0h0M516.5 237.0h0M466.1 671.3h0M158.7 400.6h0"/><path stroke="#481b6d" d="M468.0 661.3h0M230.4 360.5h0M489.7 551.6h0M533.5 485.9h0M203.7 373.6h0M274.1 319.5h0M485.3 557.8h0M436.5 240.8h0M463.5 670.8h0M253.4 346.7h0M470.1 639.5h0M450.5 691.4h0M279.7 309.3h0M494.8 229.7h0M379.2 254.2h0M152.0 415.8h0M338.5 265.3h0M211.2 372.4h0M335.3 266.5h0M486.9 551.9h0M191.1 384.2h0M467.6 638.2h0M147.5 425.0h0M497.5 533.5h0M299.5 285.0h0M180.7 393.1h0M545.2 448.5h0"/><path stroke="#482071" d="M532.3 479.0h0M561.8 345.9h0M453.3 676.0h0M253.8 354.5h0M464.8 608.9h0M172.4 403.5h0M401.2 257.5h0M464.9 604.4h0M356.0 267.7h0M554.4 406.9h0M510.5 247.0h0M502.4 242.3h0M538.1 462.6h0M298.3 295.7h0M387.3 259.7h0M295.5 300.6h0M271.1 342.0h0M461.2 630.1h0M516.1 501.5h0M301.2 296.2h0M376.8 264.2h0M302.6 296.6h0M287.6 326.0h0M554.0 399.1h0M339.0 279.1h0M462.3 589.9h0M325.3 283.8h0"/><path stroke="#482576" d="M287.6 329.1h0M441.5 680.4h0M468.3 568.7h0M431.5 690.5h0M312.2 293.1h0M456.8 631.1h0M319.7 288.6h0M438.5 250.7h0M465.3 239.9h0M311.8 295.5h0M528.7 474.5h0M197.6 395.4h0M447.9 664.7h0M170.9 414.2h0M455.0 622.9h0M316.9 295.6h0M454.4 627.5h0M166.2 418.3h0M309.8 303.5h0M393.7 266.9h0M442.0 672.9h0M258.0 361.8h0M450.5 649.7h0M334.5 288.6h0M316.6 299.4h0M200.1 396.2h0M213.3 389.0h0M451.5 247.3h0M364.5 276.7h0M457.4 246.0h0"/><path stroke="#472a7a" d="M320.9 302.2h0M201.9 397.1h0M426.4 683.9h0M523.7 477.0h0M249.5 371.4h0M449.1 250.4h0M553.3 333.9h0M444.5 652.2h0M432.4 675.8h0M418.6 687.7h0M214.1 392.1h0M454.8 588.6h0M409.4 691.7h0M219.4 390.0h0M122.6 482.6h0M398.8 272.6h0M127.8 470.9h0M359.1 283.9h0M429.2 675.7h0M393.3 273.7h0M434.5 668.2h0M469.7 247.5h0M410.1 688.1h0M439.6 655.2h0M172.1 419.7h0M434.3 260.1h0M553.6 351.9h0M201.4 401.3h0M254.5 371.3h0M388.9 275.6h0M397.5 690.8h0M373.7 279.1h0M399.9 689.3h0M361.2 285.8h0M506.1 499.6h0M335.1 304.5h0"/><path stroke="#472f7d" d="M486.4 252.9h0M337.6 304.6h0M446.1 608.3h0M453.7 579.9h0M449.9 254.5h0M341.4 302.3h0M510.1 492.2h0M488.4 522.2h0M229.4 390.4h0M436.2 640.9h0M308.7 332.4h0M437.6 635.1h0M537.0 439.4h0M491.4 256.8h0M428.3 654.6h0M242.4 384.1h0M369.6 287.1h0M382.6 282.8h0M345.8 304.0h0M326.1 321.3h0M398.2 676.1h0M503.2 499.0h0M444.1 602.0h0M136.4 461.6h0M255.5 376.3h0M439.2 619.6h0M222.7 396.3h0M428.4 646.8h0M430.2 642.9h0M403.8 669.1h0M499.2 261.5h0"/><path stroke="#463480" d="M127.0 481.7h0M395.6 671.1h0M544.9 322.2h0M438.8 612.3h0M402.7 282.1h0M529.6 453.0h0M364.9 294.4h0M317.8 331.8h0M236.9 391.0h0M399.9 666.8h0M313.7 335.2h0M495.3 506.7h0M426.7 640.4h0M412.3 279.3h0M439.2 606.9h0M438.9 265.6h0M417.3 650.9h0M345.4 313.1h0M360.6 300.9h0M357.5 303.5h0M321.9 332.2h0M458.4 258.9h0M373.4 293.7h0M377.6 292.1h0M264.0 374.6h0M487.5 515.6h0M420.2 643.1h0M232.7 396.3h0M412.1 649.8h0M387.8 290.2h0M148.9 449.5h0M280.3 362.9h0M464.3 547.9h0M469.4 260.4h0"/><path stroke="#443983" d="M373.9 676.8h0M379.5 671.4h0M500.2 495.1h0M447.0 265.2h0M278.9 365.3h0M243.0 392.7h0M469.7 261.6h0M143.1 458.3h0M525.1 455.6h0M428.7 618.3h0M139.4 464.0h0M401.3 289.7h0M378.6 297.8h0M372.5 675.3h0M356.6 312.5h0M366.1 681.5h0M501.5 491.6h0M473.2 531.9h0M542.8 401.0h0M261.4 381.5h0M416.2 635.1h0M305.9 348.3h0M437.4 592.4h0M460.0 550.9h0M228.9 402.9h0M357.7 314.2h0M527.5 448.0h0M304.3 350.5h0M457.7 265.3h0M486.3 510.8h0M310.2 347.3h0M397.2 649.4h0M404.5 643.2h0M421.5 623.1h0M545.6 372.2h0"/><path stroke="#433e85" d="M389.4 655.1h0M498.0 269.8h0M358.7 683.7h0M358.6 316.1h0M398.7 646.2h0M481.7 267.4h0M116.5 579.7h0M352.3 689.1h0M432.4 597.0h0M421.9 617.2h0M272.6 376.6h0M517.6 463.2h0M118.8 689.3h0M405.9 635.8h0M412.7 628.5h0M492.6 270.6h0M447.5 271.6h0M523.1 452.4h0M139.3 469.9h0M501.6 485.0h0M494.5 271.9h0M475.0 522.2h0M305.0 355.5h0"/><path stroke="#414287" d="M302.7 356.9h0M133.8 481.6h0M470.2 529.2h0M433.8 279.5h0M418.5 616.3h0M353.5 681.9h0M185.8 427.7h0M431.5 281.0h0M394.2 301.2h0M398.4 638.6h0M154.8 451.2h0M296.0 362.0h0M424.5 604.1h0M425.0 602.8h0M384.0 307.1h0M356.3 676.5h0M151.2 455.8h0M342.6 689.6h0M312.3 354.1h0M366.1 318.9h0M445.1 276.4h0M364.1 320.9h0M352.9 329.7h0M370.9 658.8h0M539.5 396.7h0M372.0 316.3h0M289.0 369.2h0M427.8 593.2h0M383.8 646.7h0M407.0 297.8h0M353.8 675.1h0M279.2 377.4h0"/><path stroke="#3f4788" d="M326.7 349.0h0M517.7 456.8h0M445.6 278.2h0M413.2 615.1h0M449.5 277.0h0M390.0 307.9h0M141.5 471.6h0M123.0 544.3h0M350.9 676.4h0M344.4 682.4h0M437.6 573.0h0M297.2 365.8h0M443.5 563.3h0M120.1 582.7h0M516.4 285.9h0M354.7 670.6h0M352.4 672.8h0M428.7 586.8h0M392.6 634.4h0M312.2 358.9h0M245.8 405.9h0M391.8 635.0h0M468.1 525.3h0M365.8 657.9h0M462.3 276.9h0M206.2 423.7h0M447.2 555.6h0M222.7 417.8h0M499.2 480.8h0M369.9 322.9h0M331.0 350.4h0"/><path stroke="#3e4c8a" d="M274.2 385.7h0M123.2 684.1h0M394.0 309.9h0M406.4 617.0h0M511.0 284.4h0M186.9 433.3h0M154.5 457.5h0M205.8 425.3h0M275.6 385.4h0M374.4 321.7h0M297.9 369.3h0M514.1 286.9h0M442.2 284.2h0M326.5 690.2h0M389.5 632.2h0M119.9 595.7h0M226.5 418.9h0M378.8 641.3h0M261.0 398.5h0M539.0 356.5h0M131.8 502.7h0M124.2 682.7h0M126.3 540.8h0M414.3 300.9h0M446.6 552.1h0M481.4 279.9h0M534.5 405.6h0M216.0 424.0h0"/><path stroke="#3c508b" d="M415.4 301.0h0M413.2 602.8h0M528.2 426.7h0M125.8 556.5h0M512.8 457.6h0M386.0 318.4h0M156.2 458.3h0M465.5 522.8h0M336.4 676.2h0M460.0 282.5h0M466.7 520.7h0M405.6 611.4h0M370.5 644.8h0M448.4 285.5h0M330.8 355.8h0M156.5 458.4h0M132.5 505.6h0M332.6 678.4h0M476.2 281.4h0M272.8 391.9h0M125.7 566.0h0M241.6 414.9h0M493.6 282.3h0M346.2 665.7h0M349.3 662.9h0M151.8 464.4h0M192.5 434.2h0M328.4 680.6h0M380.7 634.4h0M462.0 526.5h0M396.8 619.4h0M430.5 572.1h0M127.8 547.7h0M295.2 376.9h0M333.1 674.7h0M251.8 410.0h0M125.7 678.5h0"/><path stroke="#3a548c" d="M495.1 479.0h0M299.4 375.1h0M437.2 292.4h0M184.3 439.4h0M293.1 378.9h0M324.3 680.8h0M440.2 556.5h0M402.8 610.6h0M157.3 459.6h0M516.3 294.7h0M377.7 634.6h0M188.6 437.6h0M469.2 284.2h0M120.7 654.9h0M385.9 322.4h0M347.8 347.6h0M425.0 299.4h0M338.6 354.0h0M416.7 591.1h0M304.7 373.0h0M475.0 504.3h0M440.8 292.0h0M381.6 325.7h0M431.3 296.7h0M361.2 339.0h0M298.8 376.9h0M274.8 394.1h0M128.2 559.6h0M512.2 454.4h0M159.8 458.2h0M281.3 389.2h0M130.8 529.2h0M331.5 671.5h0M340.0 664.1h0M275.5 394.5h0M307.9 373.2h0M350.0 655.0h0M159.8 459.0h0M129.3 555.3h0M226.5 426.3h0M143.5 482.0h0M375.1 331.7h0M138.1 495.5h0M319.0 679.4h0M522.7 308.8h0M218.7 429.1h0"/><path stroke="#38598c" d="M401.3 607.6h0M197.5 436.2h0M201.1 434.9h0M481.6 285.8h0M448.8 540.2h0M358.3 646.1h0M253.7 413.1h0M336.5 359.0h0M534.4 357.4h0M436.9 556.2h0M379.7 330.5h0M398.7 608.6h0M131.3 685.8h0M322.0 673.1h0M402.3 317.9h0M351.6 349.7h0M131.5 541.6h0M385.6 621.0h0M155.0 466.6h0M447.5 293.6h0M451.4 534.2h0M502.1 289.7h0M121.3 618.8h0M419.7 578.9h0M347.8 651.4h0M318.6 674.3h0M420.1 578.2h0M434.8 299.6h0M320.4 672.2h0M334.4 661.3h0M352.5 646.9h0M504.2 461.9h0M288.7 389.0h0"/><path stroke="#365d8d" d="M402.4 601.1h0M463.1 514.9h0M414.4 312.4h0M129.6 574.1h0M394.1 610.3h0M438.8 550.2h0M239.7 424.3h0M175.1 450.2h0M238.9 425.1h0M357.5 348.4h0M384.0 331.8h0M300.4 383.5h0M431.9 303.2h0M497.7 290.4h0M312.8 674.7h0M398.6 603.1h0M420.0 310.6h0M524.1 322.7h0M133.1 548.5h0M354.9 641.5h0M457.5 293.9h0M413.9 314.7h0M425.3 307.8h0M436.6 301.8h0M329.0 660.4h0M416.6 578.6h0M472.6 498.7h0M438.9 547.5h0M268.7 407.7h0"/><path stroke="#34618d" d="M395.5 327.0h0M316.3 669.1h0M196.6 441.8h0M211.1 437.3h0M309.3 380.8h0M398.2 601.8h0M195.9 442.0h0M460.7 294.2h0M135.4 686.9h0M344.2 360.0h0M311.5 380.0h0M443.8 539.4h0M177.2 451.2h0M137.9 512.8h0M359.7 349.9h0M265.7 411.2h0M420.4 571.0h0M123.1 627.4h0M307.6 382.8h0M313.4 669.4h0M510.1 449.4h0M527.6 341.1h0M433.4 553.0h0M402.0 324.5h0M150.1 479.2h0M404.5 323.0h0M333.1 368.3h0M175.5 453.0h0M369.7 344.3h0M454.6 297.1h0M436.4 548.2h0M143.8 493.4h0M352.0 356.2h0M305.9 673.4h0M508.3 451.5h0M391.9 605.9h0M284.7 398.4h0M356.0 636.0h0M461.5 511.3h0M472.1 293.5h0M430.8 307.9h0M476.5 292.9h0M382.5 337.9h0M395.9 600.8h0M362.0 631.1h0M298.4 678.2h0M285.1 688.5h0"/><path stroke="#32658e" d="M139.8 510.2h0M360.7 631.6h0M285.2 399.0h0M352.0 637.9h0M393.9 602.4h0M345.0 362.2h0M410.0 582.0h0M271.3 409.8h0M396.6 330.4h0M375.6 343.0h0M476.2 490.1h0M442.6 537.4h0M294.3 679.3h0M320.4 659.3h0M360.8 630.4h0M364.1 627.8h0M414.9 319.1h0M337.0 647.3h0M514.1 306.5h0M359.3 631.3h0M283.6 687.1h0M412.1 578.0h0M309.8 385.2h0M423.7 314.0h0M398.8 595.2h0M378.0 616.3h0M137.8 529.6h0M416.5 571.8h0M304.6 670.0h0M433.3 308.6h0M135.9 679.6h0M271.0 411.5h0M411.4 322.3h0M500.0 296.0h0M294.9 676.5h0M282.9 685.6h0M417.0 570.2h0M126.9 648.5h0M309.3 665.2h0M521.0 325.0h0M528.3 354.0h0M284.1 684.2h0M409.5 580.0h0M131.0 664.0h0M292.5 396.6h0M415.8 320.2h0M334.9 371.4h0M487.0 475.9h0M211.4 442.2h0M322.1 654.8h0M156.0 475.1h0M243.3 430.3h0M220.9 439.6h0M297.5 394.3h0M288.2 679.4h0"/><path stroke="#30698e" d="M465.6 297.7h0M302.2 668.4h0M449.1 524.9h0M303.2 667.6h0M138.4 536.9h0M149.7 486.1h0M460.5 299.3h0M279.5 407.1h0M385.5 606.4h0M306.9 389.5h0M527.6 354.5h0M225.4 438.8h0M182.7 453.0h0M385.9 605.6h0M416.7 567.9h0M330.0 647.7h0M397.5 333.9h0M327.6 649.2h0M230.5 437.2h0M366.7 621.9h0M346.9 635.7h0M485.5 295.7h0M513.7 437.8h0M467.6 497.4h0M516.0 433.3h0M293.1 399.0h0M276.4 684.2h0M356.8 359.1h0M309.6 660.1h0M377.9 611.5h0M360.0 625.3h0M139.8 534.5h0M461.1 505.2h0M361.6 624.0h0M386.7 342.2h0M268.4 687.1h0M333.5 643.0h0M434.3 542.5h0M387.7 342.0h0M416.2 323.4h0M433.6 312.7h0M335.3 641.3h0M159.0 474.2h0M176.7 458.2h0M134.5 667.3h0"/><path stroke="#2e6d8e" d="M307.1 392.2h0M496.4 462.3h0M361.8 622.8h0M170.5 462.9h0M482.1 478.5h0M317.8 652.2h0M137.6 675.0h0M496.4 462.1h0M448.4 522.2h0M249.4 430.4h0M500.0 299.5h0M127.6 614.4h0M175.0 459.9h0M420.2 559.5h0M437.8 536.6h0M192.2 451.3h0M219.7 443.4h0M363.0 357.6h0M451.0 517.7h0M329.6 643.7h0M318.2 386.5h0M338.3 373.6h0M283.6 673.6h0M366.6 356.2h0M261.6 424.2h0M507.2 305.0h0M428.2 548.0h0M289.4 668.9h0M143.3 516.4h0M345.4 369.7h0M352.0 365.5h0M289.6 668.2h0M351.8 365.7h0M364.6 357.9h0M386.3 345.6h0M508.1 306.6h0M320.7 386.3h0M147.3 500.2h0M391.5 342.7h0M299.7 660.9h0M128.0 634.4h0M441.0 530.2h0M147.9 498.8h0M520.3 335.3h0M280.6 672.6h0M464.0 302.3h0M368.2 615.0h0M329.4 641.6h0M405.6 575.8h0M209.6 447.9h0M312.6 652.3h0M217.4 445.8h0M274.9 416.5h0M280.5 412.7h0M436.9 534.8h0M453.7 306.1h0"/><path stroke="#2d718e" d="M160.7 475.1h0M289.0 666.2h0M150.5 492.7h0M255.4 429.7h0M299.1 659.9h0M244.4 435.6h0M353.1 366.3h0M262.1 683.3h0M295.2 403.3h0M360.2 620.0h0M144.3 685.2h0M128.3 630.7h0M374.4 354.4h0M356.8 364.7h0M263.0 425.9h0M142.5 680.2h0M273.3 419.1h0M255.1 687.1h0M355.6 622.5h0M297.6 659.4h0M454.5 509.2h0M421.5 553.2h0M283.5 412.2h0M389.1 593.7h0M503.1 304.1h0M526.5 379.7h0M494.4 300.5h0M508.8 441.6h0M143.6 527.5h0M419.7 325.7h0M450.4 514.5h0M295.3 404.6h0M373.7 608.1h0M446.4 520.0h0M247.8 691.2h0M446.4 310.5h0M135.2 585.5h0M262.2 680.6h0M352.6 368.2h0M263.2 679.8h0M389.5 592.4h0M204.9 451.1h0M203.8 451.4h0M363.2 362.1h0M452.7 510.6h0M503.7 305.2h0M152.6 490.9h0M416.1 329.0h0M154.0 488.1h0M155.3 485.7h0M341.9 375.6h0M145.1 683.3h0M515.0 428.8h0M129.4 616.7h0M143.1 542.5h0M297.9 404.4h0M444.2 521.6h0M257.8 431.0h0M296.4 656.9h0M280.6 665.9h0"/><path stroke="#2b748e" d="M362.7 614.7h0M288.3 661.0h0M349.6 623.7h0M513.1 432.0h0M416.6 556.4h0M146.5 515.6h0M272.3 670.4h0M145.3 682.0h0M453.0 508.5h0M313.3 395.5h0M344.9 375.1h0M262.2 677.2h0M397.3 344.0h0M386.3 593.2h0M399.0 342.8h0M504.8 446.2h0M182.9 460.3h0M393.6 346.7h0M439.1 527.2h0M483.1 301.6h0M152.3 494.6h0M461.6 306.3h0M251.6 684.4h0M522.4 353.4h0M158.4 482.8h0M149.2 505.0h0M164.6 474.8h0M430.9 321.1h0M155.8 487.6h0M316.1 394.7h0M525.1 381.7h0M235.9 443.4h0M340.5 379.0h0M141.5 564.5h0M505.9 443.9h0M386.3 591.8h0M403.5 340.8h0M396.3 579.9h0M146.8 519.5h0M421.0 549.0h0M262.4 430.5h0M134.5 594.0h0M395.1 581.2h0M358.4 368.3h0M514.2 428.1h0M296.2 653.9h0M379.1 357.0h0M162.1 478.5h0M134.0 596.3h0M320.0 640.5h0M245.9 439.6h0M519.9 345.3h0M148.1 684.6h0M151.9 498.2h0M334.2 384.0h0M150.8 501.9h0M138.5 663.5h0M438.5 526.2h0M143.5 556.8h0M150.3 504.2h0M443.9 518.5h0M498.9 453.1h0M327.6 388.6h0M300.4 406.4h0M339.2 627.5h0M272.8 665.9h0M130.5 622.4h0M262.0 432.0h0M482.0 472.5h0M280.2 661.0h0M173.0 468.5h0M323.7 637.1h0M490.8 462.7h0M174.5 467.5h0M491.2 462.2h0M283.8 658.7h0M309.9 400.7h0M369.8 363.5h0M240.2 690.2h0"/><path stroke="#2a788e" d="M256.3 435.7h0M184.8 461.8h0M170.7 470.9h0M497.2 305.2h0M415.3 553.5h0M368.2 364.7h0M370.9 603.8h0M377.4 360.0h0M444.3 315.7h0M494.8 457.6h0M140.8 573.0h0M140.9 666.9h0M391.6 582.4h0M487.9 303.5h0M410.2 559.0h0M387.3 587.0h0M207.4 455.2h0M136.7 656.1h0M399.3 346.7h0M369.5 604.3h0M142.8 565.6h0M335.9 628.0h0M337.7 383.8h0M247.9 682.2h0M515.5 333.9h0M289.5 415.9h0M474.5 305.1h0M378.8 595.2h0M135.0 649.9h0M406.7 561.9h0M399.4 570.9h0M440.3 520.7h0M148.2 525.7h0M283.9 420.4h0M280.5 422.7h0M442.5 317.6h0M278.6 424.1h0M322.1 394.8h0M185.2 463.1h0M334.0 387.0h0M306.0 644.5h0M502.6 309.8h0M381.1 591.9h0M272.7 662.0h0M185.0 463.5h0M309.0 403.8h0M376.5 362.7h0M463.9 490.0h0M406.0 561.7h0M188.0 462.5h0M449.4 314.7h0M280.5 423.7h0M235.7 690.2h0M149.9 516.8h0M237.8 688.4h0M256.5 673.0h0M207.3 457.0h0M379.6 592.3h0M405.9 343.9h0M291.7 650.4h0M324.2 394.5h0M402.0 565.8h0M357.7 373.7h0"/><path stroke="#287c8e" d="M465.8 487.2h0M477.5 305.8h0M287.0 652.2h0M146.5 552.5h0M279.1 425.6h0M306.7 406.5h0M379.0 362.8h0M139.0 584.6h0M471.4 480.9h0M355.6 375.3h0M248.2 443.0h0M249.1 442.7h0M514.8 335.6h0M147.6 544.8h0M364.8 604.6h0M398.6 568.7h0M251.0 442.1h0M273.5 430.0h0M401.0 348.7h0M499.9 309.3h0M460.9 310.8h0M311.0 404.5h0M166.0 479.7h0M331.6 390.9h0M471.8 480.0h0M133.4 610.8h0M148.6 540.1h0M333.3 390.0h0M272.5 431.2h0M149.1 535.0h0M134.1 640.2h0M300.9 412.0h0M172.9 473.4h0M427.0 533.8h0M293.0 417.9h0M179.1 469.1h0M153.9 505.4h0M299.1 644.1h0M400.3 350.7h0M477.0 307.1h0M366.2 601.5h0M375.6 366.9h0M153.8 506.8h0M369.3 370.4h0M199.9 461.4h0M497.0 308.9h0M161.9 487.1h0M389.2 577.4h0M325.9 629.4h0M400.9 350.7h0M279.4 653.0h0M400.9 562.7h0M148.5 549.0h0M305.7 410.0h0M150.1 535.8h0M344.0 384.9h0M152.9 681.8h0M460.3 491.0h0M446.8 507.3h0M371.6 595.5h0M262.5 663.5h0M289.9 421.5h0"/><path stroke="#27808e" d="M385.3 580.9h0M149.0 547.3h0M144.6 569.1h0M229.3 690.5h0M341.6 386.9h0M150.3 537.4h0M420.6 539.2h0M339.1 388.5h0M239.6 449.8h0M368.3 597.7h0M429.1 329.9h0M274.4 654.7h0M511.5 427.0h0M158.1 496.8h0M158.1 496.8h0M260.1 441.0h0M372.0 594.1h0M356.3 378.9h0M200.6 462.7h0M391.9 571.9h0M371.4 371.4h0M282.8 427.7h0M431.9 328.3h0M315.4 405.0h0M172.5 476.5h0M170.7 478.2h0M158.0 498.3h0M368.8 373.3h0M351.4 610.2h0M254.4 667.9h0M284.0 427.6h0M159.3 495.6h0M185.6 468.4h0M300.2 640.7h0M320.1 402.4h0M292.3 643.9h0M394.3 567.3h0M319.6 630.7h0M421.9 535.9h0M284.1 428.0h0M432.8 523.0h0M319.7 630.6h0M135.0 610.2h0M414.6 342.3h0M471.3 477.7h0M152.6 527.1h0M520.8 373.7h0M154.3 515.2h0M517.3 353.6h0M136.6 602.3h0M416.8 340.8h0M368.4 595.0h0M178.5 473.2h0M245.4 449.5h0M333.8 621.3h0M140.4 587.5h0M515.5 347.6h0M136.4 641.6h0M217.4 459.7h0M216.8 460.0h0M317.3 631.2h0M500.9 444.1h0M204.0 463.7h0M161.7 492.6h0M153.3 525.2h0M257.8 444.6h0M357.0 604.2h0M454.8 494.6h0M391.1 569.4h0M501.7 442.7h0M510.0 330.1h0M201.2 464.8h0M177.4 474.6h0M520.0 392.4h0M140.4 652.9h0M509.1 327.9h0M170.8 480.3h0M192.8 467.4h0M421.3 534.8h0M134.6 621.8h0"/><path stroke="#25838e" d="M515.6 413.3h0M474.2 474.1h0M520.4 376.1h0M361.7 599.5h0M516.3 410.6h0M333.4 620.5h0M410.2 546.4h0M476.9 471.1h0M428.7 525.8h0M308.7 634.4h0M255.2 664.3h0M464.9 483.0h0M424.7 530.1h0M420.9 339.1h0M511.3 335.6h0M250.2 668.1h0M340.6 615.1h0M509.9 331.5h0M248.0 669.8h0M330.5 621.9h0M291.8 641.6h0M154.1 527.2h0M433.1 520.0h0M393.9 361.2h0M274.1 650.5h0M402.5 354.5h0M374.0 586.9h0M386.4 366.8h0M412.3 346.5h0M365.2 595.2h0M362.4 597.7h0M220.6 460.6h0M497.1 312.9h0M245.8 451.5h0M436.2 328.3h0M355.1 603.6h0M365.7 378.8h0M378.1 581.6h0M369.2 590.9h0M519.2 369.0h0M390.7 566.6h0M362.6 380.7h0M337.6 616.4h0M231.2 457.3h0M174.0 479.4h0M515.8 410.3h0M508.0 430.4h0M153.6 538.3h0M400.5 554.6h0M514.5 414.4h0M379.2 579.5h0M279.1 435.8h0M409.4 545.0h0M164.7 491.6h0M174.8 479.3h0M247.6 668.4h0M500.9 316.6h0M154.2 675.4h0M149.0 563.3h0M319.7 406.5h0M196.8 468.6h0M251.3 665.1h0M451.7 320.1h0M227.2 685.0h0M152.3 671.7h0M247.2 668.2h0M396.3 361.4h0M416.4 536.8h0M366.1 592.2h0M139.2 597.3h0M467.5 313.8h0M165.5 491.7h0M183.7 474.5h0M245.3 669.2h0M137.3 607.2h0M249.5 665.6h0"/><path stroke="#24878e" d="M383.9 370.9h0M237.8 456.4h0M243.0 454.6h0M511.9 420.6h0M510.4 424.3h0M157.6 515.8h0M360.0 383.9h0M274.2 647.8h0M142.9 585.3h0M422.9 339.8h0M513.8 348.9h0M425.8 525.6h0M228.5 460.1h0M430.3 520.3h0M142.0 588.5h0M237.3 457.1h0M218.3 463.8h0M412.6 348.8h0M360.3 384.5h0M373.2 583.2h0M246.6 454.0h0M290.3 430.0h0M139.5 598.4h0M141.2 591.7h0M234.7 458.6h0M277.0 440.1h0M362.1 593.9h0M360.3 385.0h0M155.7 534.9h0M202.7 469.2h0M225.1 462.2h0M508.4 427.6h0M148.4 663.0h0M376.9 578.2h0M159.4 679.5h0M393.9 558.3h0M166.7 492.4h0M518.7 376.5h0M206.7 468.3h0M423.2 527.2h0M518.7 384.5h0M196.6 471.3h0M144.2 582.8h0M414.6 536.3h0M438.4 509.3h0M353.3 600.9h0M251.6 453.4h0M323.2 622.6h0M285.5 640.3h0M334.4 615.2h0M408.6 353.4h0M441.9 504.7h0M191.5 473.5h0M155.1 543.2h0M155.9 538.2h0M344.3 394.3h0M214.2 691.5h0M381.7 571.2h0M168.4 491.0h0M329.4 618.3h0M266.2 447.8h0M444.7 500.9h0M293.2 429.6h0M425.7 339.3h0M253.4 659.6h0M254.0 659.1h0M256.1 452.5h0M348.1 604.4h0M491.4 452.7h0M473.4 313.8h0M484.6 312.5h0M201.2 471.2h0M156.2 539.4h0M153.1 668.7h0M236.7 673.0h0M156.9 674.1h0M148.6 570.9h0M375.3 379.2h0M350.8 391.7h0M516.8 365.9h0M166.4 495.9h0M441.9 503.6h0M291.7 431.5h0M243.8 457.5h0M249.0 662.5h0M311.2 628.0h0M163.8 501.9h0M188.1 476.0h0M144.2 584.6h0M360.0 387.4h0M159.6 518.6h0M137.9 633.2h0M317.8 412.0h0M168.4 492.8h0M289.9 433.2h0M159.1 676.6h0"/><path stroke="#228b8d" d="M322.4 621.6h0M406.2 542.7h0M155.4 671.2h0M412.9 351.0h0M139.7 640.4h0M159.4 521.7h0M156.3 541.5h0M157.9 674.4h0M174.3 485.9h0M364.1 386.1h0M237.1 671.6h0M235.1 461.1h0M503.4 324.6h0M251.3 659.8h0M161.7 511.1h0M416.9 531.5h0M337.4 400.1h0M216.2 467.9h0M262.7 651.1h0M298.0 633.0h0M196.3 474.3h0M493.0 449.9h0M332.5 403.3h0M240.7 459.8h0M297.4 428.5h0M147.4 576.6h0M238.5 460.6h0M206.8 471.2h0M465.1 317.3h0M159.8 675.9h0M236.7 671.0h0M217.5 686.2h0M159.7 524.8h0M489.6 314.3h0M222.8 466.3h0M296.1 633.2h0M256.7 455.0h0M516.3 398.3h0M158.3 673.3h0M165.6 502.0h0M222.5 466.7h0M268.1 646.6h0M516.5 369.9h0M515.2 362.7h0M433.6 511.4h0M138.2 615.1h0M207.1 472.2h0M495.0 317.0h0M330.6 614.8h0M480.9 314.1h0M478.9 464.4h0M172.2 688.2h0M215.0 469.8h0M447.4 326.4h0M325.9 617.7h0M479.9 463.3h0M416.1 530.4h0M373.3 575.7h0M149.9 660.1h0M211.3 688.8h0M501.7 324.0h0M446.0 327.3h0M410.3 535.9h0M389.9 372.6h0M162.3 516.6h0M325.2 409.6h0M230.5 464.9h0M372.2 576.5h0M445.3 327.9h0M417.4 349.2h0M255.0 457.1h0M406.0 539.9h0M234.2 464.0h0M365.5 388.2h0M240.3 665.9h0M404.0 541.6h0M495.8 318.3h0M344.7 398.6h0M516.1 370.9h0M280.0 444.5h0M511.6 351.5h0M459.7 481.7h0M460.1 320.5h0M235.7 669.3h0M386.6 558.9h0M231.8 672.5h0M340.0 606.7h0M386.8 558.6h0M176.2 488.7h0M379.0 567.4h0M459.4 320.9h0"/><path stroke="#218f8d" d="M318.4 415.1h0M200.9 692.1h0M279.8 445.2h0M180.7 691.4h0M305.8 424.7h0M324.5 411.2h0M143.2 593.3h0M389.5 555.2h0M501.5 325.2h0M278.3 639.0h0M482.9 315.2h0M186.7 482.0h0M165.8 508.3h0M175.3 490.8h0M268.8 644.0h0M255.0 653.1h0M389.6 374.3h0M211.7 686.4h0M209.5 687.6h0M140.4 605.2h0M323.8 617.3h0M460.8 320.8h0M253.8 459.3h0M218.8 681.5h0M211.2 473.4h0M446.5 494.2h0M176.7 688.2h0M497.4 320.7h0M404.5 539.5h0M192.9 480.0h0M442.7 330.7h0M466.0 475.0h0M512.5 410.6h0M222.6 469.7h0M457.2 322.6h0M353.9 593.3h0M220.4 470.6h0M247.6 461.8h0M423.8 345.2h0M181.5 486.3h0M388.2 555.2h0M504.4 430.5h0M161.0 533.4h0M317.6 620.5h0M143.1 644.0h0M357.2 394.5h0M200.5 477.8h0M255.1 459.7h0M287.8 440.8h0M193.0 480.6h0M316.5 620.9h0M302.2 429.1h0M153.0 565.8h0M418.4 350.3h0M432.9 338.2h0M430.8 339.9h0M464.7 319.8h0M155.7 665.0h0M245.6 658.8h0M369.5 575.5h0M158.6 547.7h0M415.2 353.5h0M352.1 397.7h0M236.7 665.7h0M438.7 334.2h0M150.8 573.2h0M502.1 328.7h0M442.4 497.1h0M322.1 616.8h0M275.0 638.8h0M145.3 589.6h0M282.1 446.9h0M144.8 646.1h0M308.2 425.5h0M338.1 605.5h0M417.8 524.4h0M288.4 632.3h0M351.0 399.1h0M348.1 596.8h0M152.0 570.5h0M180.4 490.1h0M165.8 517.9h0M254.9 461.8h0M498.8 438.7h0M303.1 626.0h0M217.0 679.7h0M213.5 681.9h0"/><path stroke="#20928c" d="M259.4 647.3h0M507.7 344.4h0M193.2 689.2h0M446.7 329.8h0M205.5 686.0h0M251.2 463.5h0M363.1 580.7h0M383.9 381.4h0M460.6 478.2h0M162.8 534.4h0M421.4 349.3h0M508.5 419.6h0M242.8 466.4h0M241.7 466.7h0M435.2 504.1h0M206.7 478.7h0M416.2 524.8h0M330.5 411.3h0M164.0 529.9h0M432.7 340.0h0M168.2 513.4h0M202.0 686.3h0M314.0 620.0h0M154.8 564.4h0M314.7 422.1h0M412.8 357.5h0M477.9 317.7h0M163.6 532.8h0M423.7 347.7h0M505.8 340.1h0M211.5 681.7h0M372.0 569.0h0M417.1 523.4h0M172.9 680.1h0M293.4 439.9h0M473.0 466.6h0M495.6 322.3h0M375.6 564.3h0M346.2 596.6h0M148.0 584.1h0M307.2 622.8h0M162.3 540.7h0M143.5 599.0h0M462.7 475.4h0M256.0 463.9h0M159.1 665.3h0M398.7 371.0h0M366.9 573.9h0M337.1 408.7h0M148.7 650.7h0M488.5 318.9h0M444.7 332.2h0M415.8 355.6h0M425.1 514.1h0M480.6 318.1h0M446.0 331.4h0M329.8 413.1h0M501.5 330.9h0M284.6 448.2h0M174.0 503.5h0M363.9 395.7h0M204.6 683.5h0M498.4 326.0h0M262.4 462.1h0M412.9 526.5h0M320.3 419.5h0M161.1 547.5h0M216.1 477.4h0M203.6 482.2h0M164.6 534.4h0M214.4 478.2h0M345.0 596.3h0M172.0 509.3h0M175.8 680.1h0M158.4 557.2h0M224.7 670.2h0M172.6 508.3h0M481.2 318.6h0M256.3 646.5h0M147.3 647.0h0M254.0 466.0h0M280.5 452.5h0M411.6 360.3h0M451.8 484.4h0M323.5 612.8h0M381.3 555.8h0M203.3 682.8h0M513.5 397.0h0M142.5 606.2h0M147.4 588.0h0M349.6 403.9h0M421.3 517.0h0M371.8 566.1h0"/><path stroke="#1f968b" d="M292.9 442.7h0M258.5 644.7h0M349.8 403.9h0M177.1 680.1h0M236.4 660.3h0M513.6 374.1h0M454.9 481.2h0M297.9 438.7h0M514.0 378.3h0M386.6 549.7h0M178.4 500.6h0M495.1 323.9h0M333.5 605.1h0M503.3 428.4h0M450.4 329.9h0M257.0 645.1h0M251.3 648.9h0M311.0 619.1h0M280.3 454.0h0M363.1 398.1h0M220.3 671.8h0M328.9 415.9h0M276.7 456.8h0M506.2 346.6h0M318.1 423.2h0M377.5 558.3h0M158.3 661.3h0M510.7 361.6h0M219.7 671.8h0M177.6 503.3h0M268.9 637.6h0M184.7 682.1h0M308.3 620.0h0M410.7 362.3h0M513.9 386.8h0M421.2 352.7h0M170.7 518.4h0M188.6 682.8h0M385.0 384.6h0M331.6 414.8h0M172.4 674.7h0M142.9 631.9h0M191.2 682.8h0M173.2 512.9h0M343.4 595.7h0M144.0 602.2h0M227.8 665.1h0M291.1 446.2h0M142.9 607.7h0M487.4 320.6h0M166.9 669.5h0M390.4 380.6h0M165.8 668.4h0M222.2 478.2h0M508.4 354.8h0M373.1 393.4h0M284.2 452.4h0M159.0 661.1h0M352.6 404.7h0M461.9 324.9h0M379.0 555.4h0M225.2 666.5h0M503.2 427.4h0M382.3 387.3h0M190.5 493.0h0M485.4 452.3h0M492.7 323.5h0M155.0 655.9h0M339.7 598.3h0M211.3 675.7h0M227.0 664.8h0M249.4 470.8h0M144.2 602.7h0M281.3 630.5h0M430.0 505.0h0M306.1 619.9h0M206.4 485.4h0M229.0 662.9h0M204.5 678.6h0M333.5 415.0h0M510.4 363.3h0M456.8 327.7h0M203.7 486.9h0M403.3 531.9h0M297.2 623.6h0M233.9 475.6h0M175.6 675.2h0M144.0 633.6h0M512.6 374.8h0M363.3 572.3h0M238.3 655.6h0M338.0 412.9h0M393.4 379.3h0M493.5 324.8h0M464.5 471.0h0M435.3 498.6h0M323.3 610.2h0M223.4 479.4h0M192.5 680.5h0M512.3 373.3h0M175.4 674.6h0M235.4 657.5h0M285.4 453.1h0M507.3 417.1h0M212.9 673.4h0M311.0 431.0h0M389.4 382.8h0M210.3 484.8h0M353.2 405.9h0"/><path stroke="#1f9a8a" d="M266.8 636.9h0M171.9 522.2h0M182.1 677.9h0M316.8 613.8h0M187.2 679.2h0M352.5 406.6h0M498.7 434.2h0M221.9 666.8h0M504.6 423.3h0M292.8 447.4h0M186.8 498.9h0M168.6 534.3h0M180.2 506.3h0M314.2 429.1h0M182.9 677.5h0M444.9 487.8h0M240.3 653.0h0M485.3 321.7h0M281.1 457.4h0M193.6 494.2h0M380.9 551.1h0M296.7 444.3h0M204.2 676.7h0M347.9 588.5h0M237.1 476.4h0M257.9 641.3h0M237.0 476.5h0M194.5 678.7h0M310.5 616.5h0M339.3 596.8h0M349.1 587.0h0M182.8 676.8h0M489.7 323.4h0M263.2 468.6h0M323.6 608.8h0M349.2 586.5h0M281.0 628.8h0M155.1 653.2h0M144.0 608.5h0M303.4 439.2h0M372.9 396.3h0M235.2 477.8h0M358.8 575.1h0M143.2 620.0h0M276.9 630.6h0M374.6 395.3h0M316.1 613.0h0M156.0 571.5h0M388.4 542.9h0M145.0 603.8h0M178.8 511.7h0M505.0 421.3h0M303.0 439.8h0M224.3 481.7h0M508.7 361.2h0M264.5 636.7h0M429.5 503.0h0M501.2 338.8h0M347.5 410.7h0M228.9 480.3h0M263.2 469.5h0M233.4 478.9h0M376.7 394.2h0M462.0 326.8h0M198.5 493.6h0M325.5 422.7h0M502.7 425.9h0M371.2 398.1h0M147.4 639.7h0M229.6 480.4h0M426.0 506.4h0M214.3 669.2h0M498.3 333.3h0M195.0 676.5h0M325.5 423.3h0M202.2 674.8h0M215.4 486.2h0M167.9 664.8h0M245.1 476.4h0M175.2 521.6h0M195.3 496.6h0M370.6 559.6h0M361.1 570.8h0M178.9 672.5h0M331.3 420.0h0M367.8 562.5h0M337.4 416.9h0M428.6 502.9h0M302.4 618.6h0M294.7 448.9h0M355.0 577.8h0M172.0 531.6h0M339.5 594.6h0M227.0 482.5h0M422.5 355.4h0M428.9 502.4h0M509.5 405.8h0M364.7 403.2h0M498.6 432.6h0M446.3 484.3h0M326.0 423.7h0M300.4 619.3h0"/><path stroke="#1f9e89" d="M171.5 666.8h0M197.1 496.4h0M155.0 651.1h0M369.0 400.6h0M178.1 517.2h0M349.5 411.3h0M188.5 675.0h0M235.5 653.2h0M374.8 396.9h0M281.4 460.8h0M436.7 343.3h0M389.6 540.1h0M324.5 425.1h0M410.9 366.7h0M368.2 561.1h0M353.7 578.6h0M260.3 637.4h0M219.1 664.1h0M212.8 488.9h0M495.2 330.2h0M427.7 503.1h0M367.4 402.1h0M210.4 669.3h0M193.7 674.5h0M347.6 585.5h0M187.8 674.0h0M287.2 456.8h0M178.7 517.8h0M473.2 324.2h0M250.9 476.4h0M286.9 457.1h0M437.3 492.6h0M390.1 385.6h0M493.4 328.4h0M283.4 460.0h0M373.1 398.7h0M490.3 443.8h0M239.7 479.8h0M462.5 327.9h0M439.6 489.8h0M228.8 656.7h0M491.5 327.2h0M357.3 408.6h0M177.8 669.4h0M332.8 421.0h0M503.0 347.4h0M346.9 585.6h0M191.5 502.6h0M386.1 389.4h0M183.8 672.0h0M478.8 323.9h0M158.7 569.1h0M443.6 485.5h0M446.6 337.0h0M279.1 464.2h0M374.1 398.7h0M393.4 383.6h0M198.9 672.3h0M201.9 671.5h0M340.5 591.7h0M297.0 449.2h0M415.5 514.9h0M360.1 569.0h0M193.0 502.6h0M503.7 421.2h0M249.4 642.5h0M212.5 491.0h0M213.7 665.4h0M294.6 451.9h0M185.4 510.9h0M229.0 655.2h0M328.9 424.4h0M200.6 671.0h0M444.9 338.6h0M146.1 630.1h0M165.1 658.8h0M429.6 499.3h0M508.1 408.2h0M175.0 666.1h0M490.3 327.4h0M159.8 567.8h0M173.6 534.5h0M192.0 504.7h0M260.1 475.3h0M442.8 340.3h0M363.0 564.5h0M145.0 617.2h0M318.3 608.4h0M161.9 655.7h0M369.2 557.3h0M153.3 645.9h0M221.9 488.2h0M145.2 622.2h0M180.6 668.5h0M188.9 671.1h0M195.0 671.0h0M146.2 628.7h0M500.8 426.5h0M383.2 543.0h0M448.6 479.9h0M241.5 482.1h0"/><path stroke="#1fa187" d="M170.7 544.1h0M499.9 342.5h0M168.2 550.5h0M263.1 475.3h0M367.6 404.8h0M501.2 346.0h0M480.1 453.3h0M305.9 443.3h0M390.1 388.0h0M360.7 409.2h0M493.1 438.4h0M452.4 476.2h0M172.0 541.7h0M180.9 521.7h0M503.4 352.7h0M193.2 669.7h0M300.9 448.4h0M166.2 657.9h0M445.0 339.7h0M295.4 453.7h0M333.6 423.7h0M396.5 530.6h0M161.3 653.6h0M414.4 514.0h0M199.9 501.5h0M155.8 578.8h0M194.3 505.9h0M179.5 525.7h0M171.0 660.9h0M498.1 339.5h0M323.9 603.4h0M252.3 480.2h0M146.9 628.7h0M374.8 549.5h0M317.3 434.8h0M185.0 516.9h0M195.4 668.6h0M510.1 387.9h0M258.5 635.0h0M178.4 528.7h0M508.9 374.2h0M489.2 328.7h0M199.0 503.3h0M153.0 586.3h0M157.9 649.2h0M237.3 485.6h0M149.2 635.4h0M509.5 395.0h0M202.4 501.5h0M310.9 440.8h0M402.2 524.6h0M280.3 468.0h0M206.2 499.8h0M317.5 436.0h0M305.4 446.4h0M200.8 665.8h0M372.2 550.6h0M335.4 424.7h0M261.4 632.4h0M225.6 652.9h0M277.3 624.7h0M181.3 664.3h0M418.1 508.4h0M156.2 646.2h0M344.3 583.3h0M210.5 498.1h0M166.8 557.9h0M307.8 444.7h0M192.4 511.4h0M264.5 477.8h0M163.0 652.8h0M293.2 617.8h0M389.8 534.4h0M288.8 619.5h0M217.6 494.9h0M270.8 475.1h0M217.3 657.4h0M298.1 454.1h0M151.5 638.5h0"/><path stroke="#21a585" d="M274.6 473.2h0M226.4 651.6h0M508.1 400.9h0M200.4 505.4h0M222.1 493.5h0M260.2 480.1h0M331.1 428.1h0M190.8 665.4h0M158.4 576.1h0M389.7 534.0h0M287.0 619.9h0M177.8 536.0h0M330.1 596.5h0M334.4 426.6h0M308.9 444.9h0M370.7 550.8h0M156.0 644.6h0M181.8 528.4h0M494.7 336.8h0M476.6 327.7h0M292.6 460.5h0M235.2 489.4h0M508.6 395.8h0M487.6 443.2h0M147.5 611.7h0M209.4 660.1h0M149.8 599.3h0M508.8 383.9h0M426.8 497.7h0M386.7 535.8h0M324.5 433.2h0M327.9 597.7h0M192.8 514.0h0M148.9 630.2h0M478.3 327.9h0M429.7 494.4h0M227.6 649.6h0M429.1 354.9h0M179.0 535.5h0M481.8 328.2h0M502.3 419.3h0M271.0 476.8h0M501.4 421.4h0M296.0 615.3h0M187.4 521.5h0M300.6 454.0h0M307.4 610.1h0M431.4 353.2h0M187.5 662.7h0M187.9 521.4h0M328.8 431.3h0M321.1 436.5h0M481.2 328.5h0M269.4 478.2h0M404.7 519.6h0M325.3 599.0h0M508.3 393.2h0M418.9 505.3h0M158.2 645.7h0M450.5 338.9h0M480.6 328.7h0M505.9 407.8h0M450.6 338.9h0M241.3 640.7h0M187.3 662.0h0M305.2 450.5h0M256.3 632.7h0M372.7 406.1h0M325.1 434.3h0M349.1 421.2h0M492.6 335.9h0M221.8 497.3h0M283.1 471.0h0M201.1 660.7h0M361.8 414.1h0M494.4 338.6h0M179.3 538.5h0M458.8 467.3h0M242.1 489.9h0M320.5 601.5h0M258.7 484.2h0M413.0 510.4h0"/><path stroke="#23a983" d="M173.4 655.7h0M247.6 636.4h0M430.9 354.6h0M169.0 559.0h0M248.9 635.6h0M186.3 527.6h0M332.3 431.2h0M176.3 545.9h0M212.8 503.3h0M189.8 523.0h0M159.8 577.0h0M221.3 499.2h0M149.7 627.6h0M459.3 466.4h0M351.1 570.2h0M253.5 487.0h0M150.7 601.1h0M208.1 506.8h0M228.3 645.9h0M314.8 604.4h0M217.7 501.4h0M498.8 350.0h0M402.6 519.6h0M471.5 456.8h0M200.1 658.8h0M195.6 517.3h0M393.1 390.8h0M330.3 433.3h0M388.7 531.3h0M295.4 613.5h0M480.3 448.9h0M274.9 622.2h0M501.0 356.5h0M479.5 449.7h0M483.8 445.3h0M320.1 440.3h0M206.3 656.4h0M168.0 651.2h0M390.3 393.5h0M364.6 553.0h0M497.8 348.3h0M199.5 514.6h0M450.7 472.3h0M169.9 652.2h0M268.3 625.0h0M328.3 594.2h0M347.4 573.7h0M228.4 644.9h0M181.8 538.6h0M150.7 602.8h0M266.5 483.3h0M463.1 462.8h0M191.8 523.7h0M321.2 440.2h0M178.7 544.5h0M205.5 655.8h0M185.2 657.3h0M288.1 615.9h0M329.2 435.1h0M244.4 636.2h0M400.3 520.6h0M459.0 336.1h0M149.3 615.8h0M490.2 336.2h0M260.1 486.6h0M227.7 499.1h0M154.0 635.7h0M464.6 333.8h0M151.1 602.7h0M498.7 352.5h0M211.4 652.3h0M193.8 523.1h0M426.6 360.4h0M234.0 640.8h0M447.4 343.3h0M370.3 545.6h0M154.8 636.8h0M203.7 655.1h0M317.9 600.9h0M229.1 499.1h0M171.6 651.4h0M190.5 527.9h0M350.2 568.6h0M269.1 483.5h0M323.8 596.6h0M346.6 426.5h0M181.6 541.7h0M482.4 331.9h0M329.5 591.8h0M504.3 370.1h0M210.0 509.7h0M428.5 358.8h0"/><path stroke="#26ad81" d="M234.4 497.3h0M390.6 527.9h0M316.4 445.8h0M273.3 621.4h0M476.4 451.3h0M180.9 654.6h0M253.5 490.2h0M505.9 378.4h0M168.0 565.3h0M451.2 470.5h0M329.4 436.8h0M213.1 508.7h0M221.7 504.0h0M381.4 535.0h0M266.8 485.6h0M197.7 655.1h0M204.5 515.2h0M353.8 563.0h0M166.1 568.9h0M472.8 454.0h0M481.6 332.4h0M307.4 454.8h0M506.2 383.3h0M315.4 447.5h0M472.1 332.5h0M241.0 636.2h0M194.8 655.1h0M415.4 504.4h0M489.5 337.2h0M408.4 378.8h0M476.9 450.3h0M277.3 619.0h0M167.8 566.5h0M194.5 526.1h0M388.2 397.6h0M461.6 462.3h0M208.2 651.3h0M428.8 359.5h0M299.4 463.4h0M444.4 346.5h0M243.1 634.7h0M151.3 625.5h0M426.3 361.9h0M210.8 511.9h0M212.0 511.1h0M302.9 460.3h0M401.4 385.7h0M175.8 651.3h0M422.6 365.5h0M317.1 447.0h0M406.0 513.2h0M344.9 429.4h0M283.9 477.4h0M433.4 484.7h0M169.9 563.9h0M202.3 519.4h0M212.4 648.7h0M196.1 653.6h0M217.5 508.6h0M215.0 510.2h0M390.7 395.9h0M221.0 644.6h0M440.2 350.2h0M339.4 432.9h0M295.5 468.2h0M190.1 533.9h0M490.3 339.4h0M190.4 533.5h0M421.2 497.1h0M155.0 594.0h0M316.4 448.5h0M196.0 526.9h0M268.0 622.3h0M443.2 475.4h0M154.7 633.1h0M466.3 458.2h0M364.2 418.1h0M390.0 526.6h0M151.6 624.0h0M327.8 591.1h0M189.0 536.0h0M198.2 524.9h0M398.9 388.7h0M314.6 450.4h0M501.2 414.6h0M342.3 431.9h0M418.7 369.9h0M298.7 608.8h0M264.3 489.0h0M351.2 426.9h0M299.9 608.3h0M191.7 533.1h0M241.8 497.8h0M255.9 492.4h0M187.9 538.3h0M199.7 651.7h0M260.3 490.8h0M251.8 494.0h0M298.1 608.9h0M503.6 406.0h0M286.1 477.4h0M477.2 333.5h0M200.5 523.7h0M236.9 500.3h0M249.6 495.1h0M342.3 575.1h0M151.2 614.1h0M265.6 622.8h0M219.8 509.4h0M462.9 460.1h0"/><path stroke="#2ab07f" d="M349.7 565.3h0M400.7 516.7h0M195.5 529.8h0M214.4 513.1h0M417.7 371.4h0M301.8 606.9h0M196.3 651.3h0M174.1 648.5h0M151.5 612.0h0M183.8 545.5h0M190.3 651.6h0M198.8 526.8h0M482.1 443.9h0M155.2 632.3h0M233.8 502.5h0M179.5 551.7h0M313.5 452.9h0M372.0 413.4h0M237.0 501.2h0M230.9 638.2h0M422.7 494.2h0M274.1 486.2h0M151.6 616.4h0M394.3 393.9h0M489.4 340.1h0M209.5 517.8h0M244.8 631.8h0M203.5 649.1h0M193.0 534.5h0M424.9 364.9h0M349.4 564.8h0M413.3 376.0h0M237.8 501.3h0M167.9 644.9h0M177.4 648.9h0M226.4 507.1h0M199.5 649.9h0M469.8 335.1h0M191.1 537.4h0M330.1 587.3h0M274.8 486.4h0M302.0 465.2h0M192.5 650.4h0M329.0 441.9h0M256.0 626.2h0M205.8 647.7h0M426.2 489.8h0M358.9 552.4h0M497.5 356.8h0M232.0 504.9h0M307.3 603.3h0M332.0 440.2h0M485.8 337.6h0M186.2 649.9h0M418.3 498.1h0M243.5 631.6h0M295.8 608.6h0M205.3 523.3h0M501.4 368.6h0M196.2 532.8h0M488.3 436.0h0M477.9 447.2h0M363.1 547.5h0M168.0 570.8h0M424.3 491.3h0M167.3 643.4h0M159.5 586.5h0M257.7 625.0h0M344.3 433.7h0M152.5 618.6h0M153.1 622.8h0M373.3 413.8h0M374.3 412.9h0M207.0 523.5h0M309.2 459.7h0M197.6 533.0h0M396.8 518.3h0M459.3 339.9h0M350.5 561.4h0M369.3 540.8h0M429.7 361.6h0M210.8 521.0h0M182.7 648.1h0M487.5 436.3h0M327.3 588.5h0M326.7 589.0h0M414.9 500.7h0M372.3 415.1h0M320.2 450.3h0M232.0 507.1h0M378.5 532.8h0M221.1 513.8h0M401.0 389.2h0M239.7 632.1h0M385.7 403.4h0M190.0 648.2h0M485.9 438.1h0M466.8 337.2h0M249.8 499.1h0M368.0 541.5h0M320.0 450.8h0M285.5 611.8h0M311.6 599.7h0M254.8 497.4h0M420.7 494.1h0"/><path stroke="#2fb47c" d="M289.6 610.0h0M206.3 645.0h0M361.5 424.0h0M358.6 550.6h0M367.4 419.5h0M339.3 438.2h0M455.3 342.6h0M475.8 448.0h0M464.9 338.2h0M325.4 447.1h0M275.8 615.8h0M154.4 603.2h0M402.4 512.4h0M472.7 450.6h0M353.6 429.7h0M276.2 488.9h0M158.1 633.0h0M226.3 512.0h0M452.0 465.4h0M259.2 623.0h0M179.5 556.8h0M358.1 550.7h0M173.8 564.5h0M496.3 421.6h0M406.0 508.7h0M260.5 496.3h0M167.0 574.8h0M197.2 537.1h0M289.2 480.9h0M402.3 388.7h0M237.5 506.1h0M199.3 535.3h0M211.4 524.1h0M153.6 618.6h0M232.4 509.1h0M387.8 524.2h0M280.5 487.5h0M203.3 531.7h0M282.1 486.5h0M313.4 597.6h0M180.3 556.5h0M204.2 531.1h0M315.6 596.2h0M461.1 458.7h0M154.2 621.9h0M155.6 600.4h0M227.4 512.8h0M485.1 438.0h0M498.2 416.7h0M269.8 493.5h0M186.5 645.9h0M498.8 414.9h0M192.6 645.7h0M213.2 524.2h0M367.2 421.1h0M466.5 338.5h0M235.2 508.7h0M244.3 504.1h0M250.0 501.7h0M480.3 337.9h0M207.2 642.1h0M168.4 640.7h0M492.9 351.7h0M231.3 511.6h0M382.2 527.7h0M307.8 465.5h0M392.6 398.9h0M364.9 542.0h0M501.0 407.2h0M283.8 487.0h0M307.4 466.1h0M449.1 347.8h0M437.4 356.7h0M226.2 515.5h0M231.1 512.3h0M340.9 439.8h0M264.1 619.5h0M459.5 459.1h0M163.8 582.1h0M172.8 567.9h0M187.2 644.8h0M338.3 573.6h0M335.6 443.3h0M253.6 501.5h0M273.1 493.6h0M232.0 632.3h0M211.8 639.7h0M277.3 491.6h0M500.9 406.7h0M327.8 585.0h0M493.7 354.4h0M177.2 643.2h0M170.3 572.0h0M279.2 612.5h0M293.5 480.4h0M501.1 376.0h0M501.5 378.1h0M256.0 622.5h0M303.9 470.7h0M485.2 436.8h0M383.0 526.4h0M290.0 607.7h0M239.2 508.8h0M317.3 593.4h0"/><path stroke="#35b779" d="M172.5 569.1h0M418.7 493.5h0M287.3 485.9h0M180.0 559.9h0M459.4 342.4h0M196.5 643.0h0M396.2 515.5h0M352.6 433.6h0M222.7 635.0h0M163.1 584.4h0M230.5 632.1h0M497.6 365.4h0M274.6 494.1h0M177.7 562.9h0M283.1 489.3h0M432.2 479.4h0M421.9 371.6h0M219.4 635.9h0M306.3 469.3h0M502.5 390.2h0M262.9 499.4h0M300.0 602.8h0M336.5 574.5h0M305.2 470.7h0M357.9 430.4h0M236.2 511.8h0M453.5 462.1h0M245.4 506.9h0M343.3 440.3h0M158.4 628.5h0M171.3 571.9h0M309.7 466.4h0M207.6 535.2h0M373.3 418.2h0M238.3 511.1h0M155.3 617.4h0M322.0 455.2h0M273.5 495.6h0M248.7 505.9h0M182.7 558.2h0M155.7 607.4h0M247.6 506.5h0M186.6 554.4h0M204.5 538.5h0M410.4 501.2h0M207.1 639.1h0M315.9 593.3h0M353.4 434.3h0M211.4 637.5h0M404.1 389.6h0M355.7 548.8h0M320.5 457.2h0M163.3 634.2h0M478.9 339.9h0M331.7 579.0h0M223.3 523.1h0M207.2 537.4h0M360.2 429.7h0M413.4 380.7h0M386.6 522.0h0M492.5 425.2h0M218.8 634.6h0M397.1 513.3h0M344.7 562.3h0M216.7 529.4h0M319.9 589.8h0M324.6 454.5h0M391.7 517.7h0M501.5 384.9h0M346.6 439.7h0M339.8 568.5h0M339.9 444.1h0M406.9 503.9h0M206.2 539.3h0M240.0 512.5h0M186.3 641.1h0M236.1 514.9h0M253.6 505.9h0M282.7 609.0h0M475.2 445.3h0M206.3 539.9h0M345.1 441.2h0M232.3 517.9h0M301.6 477.4h0M468.4 450.6h0M278.2 495.7h0M491.0 353.2h0M231.2 629.4h0M336.3 447.1h0M216.2 634.3h0M327.7 453.2h0M486.8 346.5h0M171.9 573.2h0M201.3 638.6h0M202.2 543.8h0M212.8 635.3h0M492.9 423.6h0M323.8 585.7h0M343.5 562.7h0M407.3 502.9h0M215.9 532.6h0M380.3 413.4h0M391.4 517.2h0M501.3 388.5h0M394.4 514.7h0M452.7 461.1h0M496.0 417.0h0"/><path stroke="#3bbb75" d="M294.5 603.4h0M452.5 461.2h0M488.7 430.0h0M189.0 555.0h0M334.3 574.3h0M335.5 572.9h0M222.1 631.8h0M209.7 538.8h0M215.1 534.2h0M256.7 505.9h0M175.7 639.1h0M294.7 485.0h0M176.8 567.7h0M490.3 352.7h0M301.8 478.7h0M168.9 578.4h0M283.2 494.1h0M162.6 589.5h0M205.2 543.1h0M163.2 631.7h0M288.0 605.9h0M157.3 606.0h0M235.4 517.9h0M500.2 381.4h0M325.9 582.8h0M220.5 631.6h0M162.2 630.2h0M283.9 494.2h0M410.2 499.1h0M290.3 489.7h0M315.6 465.5h0M402.3 506.8h0M157.8 620.9h0M284.0 494.3h0M325.3 457.0h0M313.6 467.8h0M467.5 450.3h0M305.4 476.2h0M183.6 561.5h0M182.2 562.8h0M289.0 605.0h0M284.7 494.2h0M439.6 358.2h0M186.0 639.0h0M255.6 619.2h0M331.6 576.2h0M194.1 552.8h0M259.8 506.6h0M161.2 594.0h0M315.9 466.1h0M449.0 462.6h0M238.4 517.6h0M217.2 535.6h0M457.7 456.7h0M299.4 600.0h0M188.2 638.5h0M335.8 570.7h0M221.9 630.2h0M203.0 546.9h0M222.4 531.4h0M269.7 503.1h0M253.9 509.7h0M341.1 446.7h0M355.7 436.5h0M283.0 496.3h0M484.3 346.2h0M157.4 613.7h0M234.5 521.3h0M259.2 507.7h0M398.4 397.5h0M308.7 474.5h0M315.1 467.9h0M168.5 580.8h0M176.8 637.3h0M479.9 439.1h0M183.2 563.3h0M187.5 559.5h0M449.2 461.9h0M249.1 620.8h0M254.1 510.6h0M294.7 488.5h0M172.0 635.6h0M305.7 596.1h0M476.3 442.4h0M240.7 518.0h0M464.6 451.5h0M341.4 562.0h0M413.8 493.9h0M311.1 472.8h0M375.4 420.3h0M351.4 440.6h0M228.4 528.1h0M247.0 514.7h0M315.7 589.6h0M434.6 473.0h0M486.8 350.2h0M179.2 637.1h0M397.3 509.8h0M221.1 535.6h0M280.9 499.5h0M249.5 514.1h0M217.4 538.9h0M345.8 445.2h0"/><path stroke="#42be71" d="M234.1 524.4h0M410.3 386.6h0M400.0 507.2h0M170.0 579.9h0M258.3 510.5h0M243.1 518.3h0M375.1 421.3h0M212.9 630.8h0M241.5 519.6h0M322.5 463.2h0M499.0 401.4h0M189.9 636.2h0M439.0 360.1h0M301.2 597.6h0M357.1 437.3h0M310.8 592.1h0M483.0 347.0h0M344.4 556.5h0M407.8 499.2h0M164.3 590.1h0M322.5 463.6h0M226.6 626.6h0M329.4 576.0h0M347.3 445.0h0M391.0 514.4h0M486.1 350.5h0M372.3 528.4h0M355.0 543.2h0M498.7 381.9h0M406.2 500.5h0M251.5 514.7h0M370.5 529.7h0M499.4 387.7h0M324.9 461.9h0M222.4 627.4h0M461.4 346.1h0M178.2 570.4h0M259.2 511.7h0M329.4 575.5h0M497.9 379.2h0M264.4 509.6h0M199.6 633.4h0M173.5 576.2h0M242.1 621.5h0M233.2 528.2h0M195.5 634.1h0M248.0 517.8h0M484.5 432.4h0M195.0 634.1h0M161.7 597.7h0M194.1 634.2h0M234.0 528.3h0M497.2 407.1h0M266.4 509.6h0M326.9 461.6h0M159.3 612.7h0M460.9 346.9h0M286.8 603.2h0M496.3 410.0h0M231.2 531.7h0M347.1 550.9h0M239.4 524.9h0M218.6 627.1h0M223.7 538.5h0M332.6 570.5h0M340.1 560.3h0M251.2 617.8h0M168.6 584.2h0M240.2 524.6h0M180.0 634.5h0M234.8 622.7h0M241.1 524.1h0M232.2 531.5h0M258.6 514.1h0M182.2 634.6h0M406.8 498.8h0M258.8 514.1h0M227.0 624.6h0M394.3 404.0h0M498.5 398.1h0M254.7 516.3h0M190.9 561.1h0M210.2 628.9h0M400.5 397.9h0M231.5 623.2h0M454.1 456.4h0M496.6 407.8h0M423.1 481.5h0M276.1 607.4h0M210.7 549.1h0M330.4 460.3h0M293.8 495.4h0M473.1 345.0h0M362.7 533.7h0M254.3 517.5h0M474.0 442.0h0M172.0 631.7h0M339.9 559.3h0M264.5 513.0h0"/><path stroke="#4ac16d" d="M275.3 507.9h0M330.0 461.4h0M254.7 517.8h0M342.4 555.4h0M234.7 531.9h0M301.2 490.0h0M360.8 534.8h0M482.3 349.3h0M250.3 520.6h0M230.0 536.2h0M164.4 593.9h0M284.1 603.2h0M236.6 620.9h0M330.8 571.0h0M313.5 478.0h0M407.9 496.5h0M176.2 575.5h0M347.8 547.7h0M160.7 607.3h0M330.7 461.7h0M462.5 347.5h0M496.8 405.1h0M439.4 466.0h0M165.4 626.2h0M160.6 609.2h0M476.8 346.4h0M381.0 519.5h0M372.7 426.8h0M317.8 584.1h0M273.4 607.7h0M317.5 474.4h0M312.6 479.5h0M170.9 582.6h0M397.8 401.6h0M375.9 522.9h0M217.3 547.1h0M297.7 494.6h0M349.7 544.9h0M214.9 548.7h0M240.9 528.6h0M164.5 624.5h0M226.5 540.6h0M163.2 622.3h0M464.6 347.1h0M442.4 463.4h0M356.0 538.1h0M179.3 572.8h0M434.8 366.0h0M161.0 614.6h0M372.9 427.0h0M253.5 615.3h0M184.2 632.5h0M276.5 509.5h0M234.4 534.7h0M345.8 549.2h0M312.7 480.4h0M335.3 564.0h0M303.7 490.0h0M258.1 518.9h0M272.8 511.9h0M288.6 502.7h0M252.3 522.2h0M313.0 480.7h0M337.0 458.2h0M220.3 546.4h0M402.4 397.4h0M315.5 478.1h0M166.3 591.5h0M377.1 423.2h0M497.6 389.0h0M347.6 450.2h0M313.1 480.9h0M188.5 631.6h0M229.1 540.3h0M488.3 424.4h0M337.4 458.4h0M354.1 538.8h0M472.7 441.9h0M295.7 498.5h0M369.8 526.2h0M468.9 346.9h0M178.1 575.1h0M314.5 480.2h0M484.6 429.6h0M232.8 538.4h0M291.3 598.7h0M373.6 523.4h0M399.8 503.0h0M330.4 464.9h0M269.8 514.9h0M390.8 510.7h0M255.0 613.8h0M301.9 493.8h0M370.8 525.2h0M241.7 531.6h0M213.1 552.3h0M234.0 538.0h0M421.2 379.4h0M162.4 616.7h0M459.1 451.2h0M161.9 608.2h0M357.5 535.0h0M308.6 487.9h0M302.2 592.9h0M271.3 515.1h0M239.5 534.3h0M189.2 566.3h0M208.9 625.3h0M338.3 459.4h0M305.4 590.8h0M488.9 362.2h0M206.8 556.4h0M354.6 446.1h0M466.1 348.0h0M247.9 615.5h0M497.0 390.1h0M187.7 567.7h0M395.1 405.7h0M265.9 609.1h0M204.8 626.2h0M162.3 613.5h0M299.7 497.6h0M444.6 359.3h0"/><path stroke="#52c569" d="M299.8 593.7h0M381.2 517.2h0M353.3 537.9h0M247.3 529.7h0M199.6 560.6h0M267.1 608.5h0M367.1 526.8h0M257.8 612.0h0M325.7 471.5h0M163.8 618.9h0M329.9 467.8h0M188.0 629.8h0M385.9 513.4h0M183.2 571.9h0M221.3 620.9h0M239.7 536.7h0M419.9 481.5h0M315.7 483.2h0M496.5 389.5h0M323.9 474.4h0M260.4 610.7h0M487.7 423.6h0M225.4 619.7h0M311.7 487.9h0M493.9 410.0h0M272.1 517.2h0M359.8 442.7h0M327.1 471.5h0M353.2 537.0h0M247.6 531.5h0M222.5 620.2h0M163.4 615.6h0M312.2 487.7h0M341.2 459.1h0M334.6 560.9h0M496.5 395.3h0M313.4 486.7h0M388.4 413.6h0M319.7 578.8h0M434.2 368.5h0M391.5 410.4h0M206.6 558.6h0M228.5 546.6h0M227.9 547.1h0M397.4 503.3h0M493.1 374.5h0M303.8 497.6h0M284.2 511.8h0M268.1 520.6h0M399.5 402.3h0M295.8 504.5h0M410.0 490.9h0M326.3 474.0h0M491.5 370.7h0M490.4 417.9h0M200.5 562.1h0M179.0 577.1h0M282.8 513.2h0M305.6 589.0h0M262.3 524.5h0M228.5 547.7h0M388.2 414.4h0M380.0 423.2h0M288.9 510.0h0M178.7 628.3h0M239.6 615.6h0M317.8 484.8h0M221.3 552.5h0M404.8 397.2h0M328.9 472.7h0M262.0 525.6h0M236.6 616.0h0M372.6 521.1h0M353.8 450.1h0M332.3 469.7h0M296.9 505.6h0M490.1 417.8h0M277.8 517.2h0M426.8 473.5h0M328.4 567.6h0M180.8 628.1h0M245.7 537.1h0M329.7 472.8h0M352.6 451.7h0M316.1 488.5h0M393.7 505.5h0M189.1 627.3h0M340.3 462.9h0M247.0 613.3h0M218.0 619.1h0M481.9 354.9h0M276.2 602.8h0M332.5 470.5h0M310.3 495.4h0M239.7 542.2h0M491.2 414.9h0M319.8 577.0h0M262.1 608.5h0M336.9 466.5h0M321.5 575.1h0M255.0 531.7h0M192.4 626.4h0M492.4 411.6h0M233.6 546.8h0M173.4 585.1h0M175.5 582.5h0M327.7 476.2h0M231.1 616.1h0M332.8 470.8h0M165.9 617.8h0M195.2 566.5h0M249.8 612.2h0M486.4 362.0h0M258.2 530.4h0M297.1 507.8h0"/><path stroke="#5ac864" d="M187.1 627.0h0M303.7 503.5h0M264.3 527.0h0M254.7 610.6h0M490.6 415.7h0M324.5 571.2h0M308.3 499.9h0M367.9 437.6h0M415.5 483.9h0M364.5 441.2h0M436.7 367.7h0M275.5 602.5h0M250.5 536.4h0M407.1 395.8h0M471.4 440.0h0M267.1 525.9h0M280.1 518.7h0M285.1 516.0h0M486.4 423.3h0M353.3 452.5h0M315.4 493.8h0M314.2 495.4h0M284.3 516.8h0M377.6 427.4h0M491.2 373.3h0M325.1 481.9h0M260.5 530.5h0M259.4 531.2h0M447.6 359.5h0M218.3 556.8h0M337.6 468.1h0M236.6 547.2h0M469.9 350.6h0M303.6 506.1h0M243.6 542.6h0M371.2 434.6h0M372.5 519.5h0M425.0 473.9h0M314.0 497.3h0M251.5 610.9h0M419.5 479.2h0M283.2 518.5h0M257.9 533.1h0M334.4 472.3h0M340.3 546.3h0M430.8 468.5h0M436.9 463.4h0M299.4 509.9h0M348.1 536.5h0M286.6 517.1h0M250.3 538.9h0M170.1 621.7h0M460.1 353.0h0M331.0 476.9h0M316.5 578.3h0M447.9 359.7h0M388.7 508.0h0M300.8 589.5h0M321.7 490.0h0M233.6 550.4h0M283.6 519.1h0M283.8 519.1h0M374.1 518.0h0M304.3 508.1h0M218.6 616.6h0M223.1 615.5h0M269.6 527.1h0M304.7 508.5h0M206.1 620.2h0M316.5 499.0h0M232.9 613.8h0M272.1 525.9h0M324.4 487.6h0M341.8 466.0h0M262.0 606.9h0M363.9 443.4h0M192.6 624.3h0M429.6 374.7h0M490.2 372.4h0M267.1 529.0h0M255.3 609.1h0M385.2 510.2h0M286.0 518.8h0M308.0 508.0h0M342.0 466.2h0M454.0 450.9h0M207.6 563.1h0M350.6 457.6h0M345.8 537.5h0M301.7 588.4h0M281.0 521.8h0M241.2 612.2h0M382.3 423.4h0M330.8 480.0h0M296.9 514.2h0M235.7 550.6h0M493.3 404.6h0M312.6 507.0h0M174.8 586.0h0M454.1 356.4h0M377.4 515.2h0M174.6 623.6h0M169.8 620.0h0M263.5 532.5h0M361.7 524.8h0M226.2 555.7h0M393.1 503.7h0M317.1 506.1h0M465.8 442.9h0M329.4 483.8h0M346.6 462.7h0M238.5 612.2h0M287.5 519.8h0M284.3 521.3h0M266.0 531.4h0M342.4 467.3h0M322.2 499.4h0M453.9 356.7h0M202.6 620.4h0M367.2 521.2h0M327.8 563.4h0M328.7 562.1h0M192.6 570.9h0M316.0 510.0h0M302.5 514.2h0M322.0 502.6h0M310.4 512.2h0M322.0 503.5h0M301.4 588.0h0M229.9 613.0h0M313.8 511.7h0M354.8 528.6h0M185.0 624.6h0M284.3 521.9h0M313.7 512.6h0M322.0 506.6h0M322.8 505.6h0M283.1 522.9h0M348.3 533.2h0M323.1 506.2h0M330.2 559.1h0M322.9 507.6h0M344.6 465.8h0M297.0 517.2h0M269.5 603.1h0M316.2 514.1h0M302.1 516.1h0M169.2 597.1h0M252.4 542.0h0M305.5 515.6h0M479.8 430.2h0M325.5 503.3h0M309.7 515.6h0M212.0 562.8h0M168.6 616.7h0M490.8 376.3h0M327.2 496.0h0M304.5 516.4h0M395.5 501.0h0M322.3 512.9h0M309.1 582.5h0M168.4 616.0h0M435.6 370.3h0M266.3 604.2h0M467.8 352.4h0M328.4 561.3h0M167.4 613.1h0M368.3 440.5h0M198.2 621.1h0M333.2 482.5h0M313.1 579.2h0M319.4 573.1h0M330.5 488.4h0M250.8 543.9h0M327.9 499.9h0M301.3 517.9h0M342.3 469.7h0M402.1 494.8h0M359.8 450.1h0"/><path stroke="#63cb5f" d="M328.0 502.0h0M471.2 438.2h0M396.7 499.7h0M288.7 521.9h0M171.5 620.0h0M171.0 593.7h0M309.4 518.2h0M323.2 515.7h0M318.2 518.4h0M462.2 353.7h0M437.0 461.7h0M337.9 475.9h0M301.9 518.5h0M367.3 520.0h0M306.9 583.6h0M427.0 378.1h0M322.7 516.9h0M493.3 387.2h0M324.5 566.4h0M391.9 414.0h0M333.2 485.9h0M320.8 519.6h0M294.0 521.2h0M453.2 358.0h0M207.9 616.9h0M384.7 508.8h0M219.1 613.3h0M368.9 440.5h0M444.0 456.2h0M359.2 451.7h0M347.1 531.7h0M254.1 543.5h0M286.0 524.7h0M345.2 468.0h0M427.3 469.6h0M237.7 610.4h0M242.0 551.7h0M282.8 526.4h0M247.3 548.5h0M329.7 514.2h0M349.6 529.4h0M217.9 613.2h0M314.2 577.1h0M333.2 494.4h0M493.1 388.9h0M310.9 523.4h0M328.8 558.5h0M265.8 536.3h0M257.6 541.8h0M383.8 509.0h0M252.1 545.7h0M319.5 571.5h0M274.3 531.3h0M262.3 538.8h0M185.7 577.5h0M233.5 610.4h0M250.7 546.9h0M370.5 439.3h0M334.0 494.7h0M291.7 524.2h0M357.0 524.5h0M236.8 610.0h0M377.7 430.8h0M385.5 421.8h0M323.1 523.6h0M250.8 607.8h0M353.4 459.5h0M352.4 460.7h0M336.0 487.7h0M389.2 504.8h0M330.8 553.8h0M324.1 524.3h0M372.1 437.7h0M269.8 535.0h0M337.4 485.8h0M339.9 479.5h0M322.9 525.6h0M321.3 568.5h0M372.6 515.5h0M297.7 525.2h0M334.2 545.4h0M311.0 526.9h0M369.6 517.1h0M344.0 531.3h0M169.1 612.4h0M367.8 443.2h0M299.3 525.6h0M278.8 530.9h0M299.0 587.1h0M184.6 622.0h0M304.4 526.4h0M327.2 525.3h0M303.2 584.5h0M182.1 581.5h0M488.1 415.4h0M437.6 460.1h0M248.3 550.8h0M438.8 459.1h0M382.7 425.8h0M331.2 522.9h0M336.3 539.6h0M249.4 550.2h0M255.0 546.4h0M399.3 495.6h0M484.0 364.8h0M244.7 608.0h0M352.9 524.9h0M294.0 527.1h0M468.0 354.1h0M398.2 496.6h0M328.1 526.7h0M402.3 404.0h0M337.9 535.5h0M349.8 526.2h0M219.5 563.9h0M261.4 542.4h0M285.3 529.6h0M339.1 488.9h0M334.1 521.6h0M311.6 529.5h0M345.6 527.9h0M415.2 480.0h0M173.2 593.4h0M272.5 599.7h0M357.8 456.4h0M196.9 572.2h0M253.6 548.3h0M292.6 528.2h0M332.5 545.9h0M305.0 582.6h0M255.4 547.2h0M466.3 440.3h0M273.9 535.1h0M224.1 609.5h0M179.2 620.8h0M392.1 501.5h0M313.7 530.3h0M323.9 529.8h0M322.0 530.3h0M321.4 566.6h0M460.6 444.1h0M336.0 521.0h0M330.9 549.2h0M323.0 530.4h0M239.6 607.9h0M335.7 522.5h0M336.4 520.4h0M371.9 439.4h0M330.5 549.7h0M395.3 411.9h0M460.5 356.0h0M345.8 474.1h0M170.8 614.1h0M227.0 608.6h0M445.1 364.5h0M425.5 469.8h0M279.5 533.3h0M338.5 513.3h0M374.3 436.7h0M299.0 529.6h0M395.8 498.1h0M420.8 474.1h0M334.5 534.8h0M233.7 560.7h0M337.9 525.8h0M366.3 446.7h0M338.0 524.0h0M329.9 549.9h0M318.6 569.5h0M343.4 481.3h0M340.7 495.4h0M228.9 562.6h0M477.8 429.9h0M345.9 475.6h0M185.3 620.5h0M475.0 432.8h0M268.7 539.9h0M492.0 389.6h0M361.9 452.5h0M194.7 574.2h0M370.5 441.8h0M247.2 554.5h0M323.8 532.8h0M172.7 595.8h0M340.7 500.1h0M476.4 431.3h0M473.2 434.3h0M171.5 598.8h0M170.0 605.9h0"/><path stroke="#6ccd5a" d="M172.5 615.7h0M378.2 432.3h0M278.2 535.1h0M340.4 508.9h0M428.9 466.4h0M228.9 563.1h0M379.4 431.0h0M171.1 613.1h0M472.3 355.6h0M171.1 612.9h0M327.2 534.2h0M204.9 614.5h0M473.3 434.1h0M320.3 566.5h0M478.3 429.1h0M341.2 503.0h0M418.6 388.0h0M419.6 387.1h0M301.3 584.0h0M291.3 589.7h0M276.5 536.6h0M490.6 405.9h0M372.9 513.2h0M177.6 618.8h0M170.6 610.0h0M369.3 444.0h0M471.3 355.7h0M212.4 568.3h0M342.2 517.7h0M356.0 461.5h0M320.8 565.0h0M490.2 407.3h0M349.5 471.9h0M350.6 470.0h0M440.4 456.8h0M329.3 545.0h0M325.1 557.5h0M283.3 593.5h0M189.5 578.0h0M314.0 573.2h0M444.1 365.9h0M316.8 535.5h0M326.6 553.7h0M221.2 566.4h0M265.8 543.8h0M455.3 446.6h0M321.0 536.2h0M266.4 543.6h0M307.5 534.7h0M277.5 537.4h0M173.4 596.1h0M326.5 538.6h0M351.2 520.6h0M344.9 486.6h0M233.5 563.6h0M325.8 554.4h0M214.1 609.7h0M400.8 406.9h0M210.8 610.8h0M303.1 581.8h0M171.9 611.7h0M347.0 480.6h0M345.8 485.0h0M182.1 618.9h0M299.0 534.6h0M300.9 534.9h0M210.9 610.6h0M346.6 518.3h0M395.4 413.1h0M391.4 417.7h0M324.6 556.2h0M344.1 507.7h0M488.7 410.8h0M307.2 536.2h0M293.6 587.5h0M346.1 516.9h0M246.0 558.8h0M344.3 509.3h0M276.5 596.0h0M351.5 471.4h0M223.7 567.2h0M488.7 410.5h0M191.0 617.8h0M347.0 517.0h0M464.9 356.4h0M222.5 567.6h0M248.4 604.5h0M346.3 487.3h0M325.0 542.5h0M351.8 518.4h0M352.6 518.4h0M351.3 518.4h0M352.5 518.4h0M310.0 575.7h0M258.5 551.0h0M173.3 598.2h0M247.1 559.0h0M212.2 570.2h0M174.1 596.5h0M400.4 407.9h0M254.1 603.2h0M218.1 569.1h0M348.1 482.3h0M490.1 404.6h0M197.1 575.4h0M346.9 488.2h0M181.6 586.0h0M369.2 513.3h0M358.9 517.0h0M383.2 428.2h0M268.9 545.0h0M235.4 565.7h0M437.1 372.3h0M346.3 500.6h0M347.5 488.1h0M390.5 419.5h0M347.7 487.4h0M348.9 482.1h0M282.1 539.1h0M292.2 537.2h0M172.3 604.7h0M218.9 606.0h0M274.1 596.3h0M313.8 570.9h0M354.7 516.8h0M360.0 516.1h0M318.2 541.1h0M246.0 561.0h0M237.6 565.3h0M323.5 553.0h0M323.7 552.0h0M195.9 576.5h0M180.1 588.2h0M311.6 540.0h0M174.1 598.1h0M281.5 592.8h0M241.1 564.0h0M323.3 553.1h0M347.0 502.1h0M276.9 541.6h0M217.2 570.3h0M466.9 356.9h0M426.9 381.5h0M207.5 572.6h0M220.3 605.0h0M202.8 574.1h0M213.7 571.2h0M472.7 432.9h0M257.6 553.9h0M304.8 539.4h0M271.6 544.8h0M470.8 357.5h0M173.8 599.8h0M189.1 616.7h0M320.2 560.2h0M461.1 441.6h0M313.8 569.9h0M402.5 489.3h0M295.9 538.9h0M473.0 432.5h0M348.3 493.8h0M236.4 602.7h0M220.5 570.5h0M478.5 362.2h0M317.1 565.3h0M349.1 509.7h0M413.8 478.4h0M377.4 436.5h0M322.1 553.2h0M349.0 508.8h0M371.2 444.9h0M348.6 494.1h0M284.0 540.4h0M217.6 571.3h0M178.1 615.2h0M485.9 415.1h0M297.1 539.6h0M313.0 570.3h0M349.0 507.1h0M219.9 571.1h0M310.7 541.8h0M273.9 544.6h0M435.9 458.5h0M360.5 460.9h0M191.6 579.8h0M287.8 540.0h0M436.0 373.7h0M445.1 451.8h0M286.4 540.3h0M293.5 539.7h0M321.4 549.7h0M215.2 605.8h0M321.5 551.2h0M320.7 556.4h0M221.8 603.2h0"/><path stroke="#75d054" d="M447.8 365.0h0M179.2 590.7h0M313.8 569.0h0M216.9 571.8h0M224.6 571.0h0M248.2 562.2h0M175.6 612.4h0M208.6 573.6h0M270.6 596.6h0M349.4 500.5h0M410.9 480.8h0M213.2 572.8h0M317.3 563.1h0M393.4 417.1h0M211.0 607.1h0M318.1 546.4h0M351.7 482.4h0M240.7 601.8h0M304.3 541.9h0M184.0 585.9h0M193.8 579.2h0M263.1 552.4h0M354.5 512.6h0M191.2 580.7h0M353.1 511.4h0M427.6 465.0h0M319.1 549.3h0M350.1 500.3h0M230.1 600.6h0M379.7 505.8h0M217.0 603.8h0M354.5 475.1h0M254.6 559.0h0M318.5 549.1h0M246.0 565.1h0M226.2 572.3h0M238.8 600.9h0M247.2 601.4h0M309.8 544.1h0M262.2 553.8h0M486.3 376.9h0M175.3 600.0h0M485.4 375.0h0M283.4 590.2h0M263.2 553.5h0M174.6 606.2h0M254.4 560.0h0M199.6 577.5h0M254.4 560.1h0M231.4 599.4h0M314.3 565.6h0M413.4 477.6h0M286.4 543.2h0M264.3 553.5h0M233.1 599.0h0M247.7 600.6h0M359.2 467.1h0M361.6 462.6h0M251.2 563.1h0M215.2 574.6h0M234.1 598.8h0M296.0 543.4h0M292.3 543.3h0M408.3 401.3h0M362.7 511.1h0M273.3 548.6h0M375.7 506.9h0M487.9 407.1h0M177.3 597.0h0M487.5 381.9h0M239.9 599.1h0M307.9 572.5h0M353.5 486.2h0M259.3 557.9h0M426.9 382.9h0M191.2 613.3h0M412.9 396.7h0M182.5 589.7h0M486.1 378.3h0M219.7 575.5h0M314.2 563.2h0M176.3 607.8h0M177.9 596.4h0M359.7 510.0h0M313.8 550.2h0M239.3 598.4h0M311.3 567.7h0M392.6 419.5h0M445.5 367.7h0M220.6 576.0h0M406.4 403.7h0M362.4 509.8h0M379.6 504.2h0M265.0 554.9h0M212.8 602.9h0M256.0 561.6h0M274.9 549.3h0M201.4 608.9h0M200.0 609.4h0M301.9 546.5h0M452.2 363.8h0M359.6 508.6h0M215.7 576.8h0M485.0 413.9h0M355.9 481.3h0M211.5 577.0h0M193.8 582.0h0M357.2 506.9h0M489.1 395.1h0M424.0 466.8h0M487.5 384.0h0M206.3 577.9h0M378.8 438.0h0M360.4 468.9h0M469.3 433.5h0M234.3 577.2h0M245.1 598.2h0M213.8 601.3h0M305.5 573.1h0M293.7 546.2h0M223.0 596.2h0M384.3 500.9h0M208.4 577.8h0M355.2 501.4h0M177.1 606.0h0M356.0 504.1h0M179.2 610.2h0M429.7 461.7h0M297.6 546.7h0M225.9 578.6h0M486.2 410.6h0M205.3 606.1h0M414.2 475.6h0M386.5 499.3h0M487.7 405.7h0M276.2 591.7h0M437.9 455.1h0M361.2 508.1h0M245.3 597.8h0M357.6 505.9h0M194.4 582.3h0M235.8 577.7h0M204.3 578.9h0M235.3 578.2h0M313.2 558.9h0M274.6 551.1h0M251.7 598.0h0M379.6 437.4h0M360.7 507.3h0M293.4 547.1h0M311.3 553.2h0M307.6 550.4h0M297.7 579.0h0M184.5 611.8h0M400.4 411.1h0M280.9 589.1h0M242.3 574.7h0M238.2 577.7h0M364.2 462.6h0M224.1 593.6h0M230.1 591.4h0M453.3 444.2h0"/><path stroke="#7fd34e" d="M209.8 578.8h0M399.5 488.7h0M206.9 579.3h0M259.2 596.7h0M246.4 596.7h0M373.7 446.6h0M211.3 601.2h0M359.1 476.0h0M228.8 583.5h0M408.0 402.9h0M233.2 583.0h0M302.9 550.0h0M248.5 596.9h0M230.3 588.4h0M362.4 506.5h0M382.3 501.1h0M356.4 492.2h0M200.6 581.0h0M358.6 478.5h0M250.4 569.3h0M230.1 586.6h0M225.2 590.2h0M284.3 586.7h0M221.2 593.4h0M223.7 591.3h0M193.9 609.8h0M226.7 587.3h0M280.1 588.9h0M234.5 589.0h0M251.2 596.8h0M470.7 361.2h0M214.5 598.1h0M270.9 592.8h0M214.9 580.3h0M487.6 403.3h0M308.3 566.5h0M372.4 449.4h0M297.8 577.8h0M367.6 457.8h0M224.1 589.3h0M216.3 596.6h0M218.3 581.4h0M179.0 601.3h0M287.7 584.5h0M485.0 378.9h0M195.1 583.7h0M467.6 360.8h0M238.1 590.3h0M487.2 404.4h0M462.3 437.7h0M219.4 592.9h0M361.2 472.8h0M462.2 361.1h0M480.2 369.8h0M218.0 594.0h0M478.7 367.7h0M205.3 603.5h0M444.6 369.6h0M220.3 584.0h0M405.0 406.6h0M416.4 394.5h0M249.2 595.6h0M221.3 587.1h0M238.9 588.7h0M220.2 585.1h0M485.5 381.1h0M243.4 578.3h0M240.3 590.3h0M290.1 582.5h0M279.0 588.7h0M380.3 501.3h0M360.3 476.9h0M295.9 550.6h0M368.2 505.3h0M376.1 444.4h0M239.5 584.6h0M192.5 609.0h0M468.9 361.3h0M239.5 587.1h0M359.5 480.9h0M487.8 398.7h0M457.0 362.9h0M425.7 385.6h0M217.8 592.1h0M390.6 494.7h0M375.0 503.4h0M304.0 570.4h0M218.7 586.4h0M305.2 554.6h0M212.3 582.3h0M302.8 553.2h0M372.8 450.0h0M360.0 500.3h0M360.8 501.7h0M295.9 551.3h0M254.2 569.1h0M188.0 609.1h0M486.8 404.5h0M242.8 590.4h0M242.1 583.1h0M242.1 583.3h0M207.5 600.5h0M446.9 447.4h0M202.1 582.9h0M216.2 585.7h0M383.2 434.4h0M256.2 594.8h0M216.1 590.9h0M455.6 363.9h0M306.9 559.9h0M205.5 601.5h0M365.0 466.4h0M273.8 555.8h0M200.0 604.8h0M305.9 565.4h0M193.3 607.6h0M368.0 459.8h0M246.5 578.1h0M197.5 605.9h0M270.0 591.6h0M197.7 605.8h0M306.4 563.1h0M181.4 603.5h0M181.9 598.8h0M279.9 587.2h0M283.7 585.1h0M246.1 591.5h0M266.6 592.6h0M211.5 584.3h0M193.9 586.7h0M202.7 602.6h0M394.2 420.1h0M205.8 600.4h0M374.3 448.9h0M305.1 558.6h0M485.0 409.6h0M186.0 592.8h0M280.4 554.0h0M304.7 558.5h0M414.2 397.5h0M288.8 552.8h0M272.9 557.4h0M264.5 562.7h0M484.5 410.8h0M245.0 586.7h0M280.6 554.3h0M393.2 491.7h0M301.4 570.5h0M399.1 414.3h0M360.8 485.2h0M245.5 585.9h0M258.7 593.3h0M303.8 559.3h0M464.6 434.8h0M301.5 569.3h0M291.4 579.1h0M364.3 472.1h0M486.8 399.9h0M274.5 588.6h0M486.4 388.7h0M271.8 589.7h0M289.5 580.4h0M209.7 593.8h0M185.3 605.1h0M266.3 562.6h0M202.8 600.5h0M449.2 367.9h0M260.7 592.5h0M260.5 592.5h0M247.7 584.0h0M253.7 591.9h0M399.2 486.2h0M363.4 498.1h0M302.7 563.8h0M486.5 390.7h0M294.2 576.2h0M300.1 558.2h0M290.1 579.3h0M258.9 592.1h0M361.9 488.8h0M263.9 591.5h0M365.6 499.7h0M366.2 500.1h0M254.5 573.9h0M207.4 594.6h0M290.7 555.3h0M196.8 588.0h0M373.4 500.9h0M186.0 603.8h0M184.8 600.5h0"/><path stroke="#89d548" d="M186.8 604.1h0M249.0 584.5h0M364.5 474.2h0M386.6 495.1h0M196.3 603.0h0M365.2 472.4h0M262.2 591.4h0M201.7 587.8h0M473.2 365.4h0M189.9 593.2h0M363.2 483.0h0M188.3 603.2h0M205.5 590.6h0M197.5 601.5h0M462.3 363.3h0M363.2 485.8h0M483.0 412.2h0M270.5 588.6h0M486.0 390.5h0M273.4 587.5h0M364.6 495.5h0M482.5 413.0h0M257.8 590.2h0M390.6 491.8h0M197.6 600.2h0M202.0 590.5h0M280.3 558.3h0M262.4 590.2h0M253.3 579.1h0M253.7 578.5h0M255.6 589.1h0M257.7 573.5h0M194.7 591.9h0M284.5 557.9h0M387.0 493.8h0M438.0 376.6h0M284.6 558.0h0M195.6 591.9h0M367.4 497.5h0M364.1 485.2h0M435.5 378.7h0M191.2 600.7h0M366.5 496.4h0M194.3 600.4h0M201.2 594.0h0M378.5 497.7h0M370.1 498.5h0M278.1 584.5h0M190.9 600.0h0M372.0 458.1h0M386.4 493.9h0M367.5 497.1h0M398.6 485.3h0M382.7 495.9h0M384.9 435.1h0M407.8 405.9h0M194.2 599.4h0M279.8 559.7h0M255.3 587.3h0M292.4 574.1h0M193.8 598.8h0M192.2 596.8h0M366.4 474.8h0M197.3 595.9h0M271.1 587.1h0M197.0 595.1h0M288.3 577.5h0M194.4 596.7h0M436.2 378.3h0M275.3 561.8h0M269.1 587.6h0M267.3 566.7h0M257.0 587.4h0M368.0 469.7h0M435.1 379.3h0M385.1 494.2h0M415.5 470.2h0M258.6 587.6h0M292.1 573.2h0M295.4 567.2h0M269.1 566.0h0M259.2 587.5h0M256.8 585.9h0M286.2 560.1h0M465.2 432.7h0M482.7 381.1h0M384.9 494.0h0M265.3 587.7h0M291.4 573.4h0M271.5 586.0h0M256.9 583.8h0M276.9 562.7h0M414.4 399.3h0M383.8 494.1h0M293.0 569.2h0M273.3 564.6h0M283.8 561.4h0M479.5 374.9h0M282.7 561.7h0M367.0 490.7h0M280.6 562.1h0M290.7 563.3h0M284.6 561.8h0M258.3 580.7h0M377.2 495.9h0M285.0 562.4h0M440.2 449.4h0M435.0 380.0h0M484.9 392.3h0M450.8 368.9h0M260.8 576.9h0M276.4 564.4h0M278.5 563.8h0M262.8 585.1h0M484.4 389.2h0M283.9 563.2h0M399.0 417.4h0M469.8 366.1h0M290.1 570.0h0M263.0 575.1h0M414.4 470.2h0M289.9 567.4h0M285.5 575.5h0M279.7 579.8h0M483.3 407.1h0M445.4 372.5h0M438.7 450.1h0M262.3 581.6h0M368.1 482.7h0M262.4 579.3h0M369.4 490.6h0"/><path stroke="#93d741" d="M388.7 490.0h0M280.7 578.0h0M275.4 581.0h0M483.3 406.1h0M380.6 445.6h0M274.7 580.9h0M283.6 574.7h0M285.8 569.1h0M465.2 431.2h0M410.7 472.7h0M460.3 434.8h0M379.5 493.1h0M277.4 578.6h0M476.1 372.2h0M459.0 366.5h0M278.7 577.7h0M283.4 572.7h0M279.7 576.6h0M373.5 462.5h0M269.9 580.4h0M278.5 568.8h0M281.1 569.1h0M267.7 577.4h0M380.5 492.4h0M473.3 423.3h0M371.3 489.3h0M482.7 386.0h0M269.0 576.7h0M411.5 403.7h0M278.0 570.7h0M277.2 571.9h0M430.8 455.3h0M276.1 575.8h0M474.6 371.2h0M272.6 576.5h0M272.9 576.4h0M464.9 430.9h0M411.2 471.7h0M464.0 431.6h0M483.9 396.9h0M424.5 460.3h0M419.4 395.8h0M370.8 481.2h0M378.9 491.5h0M430.8 385.0h0M467.4 428.5h0M372.6 469.7h0M404.9 411.8h0M371.4 479.2h0M451.3 370.3h0M399.6 480.5h0M371.8 477.6h0M430.9 454.7h0M372.2 484.1h0M403.9 477.1h0M455.8 368.6h0M405.1 475.9h0M378.5 489.2h0M373.1 483.2h0M412.7 469.3h0M375.2 464.4h0M462.2 367.7h0M375.1 486.3h0M388.6 486.3h0M381.0 488.5h0M388.6 435.5h0M373.8 482.0h0M413.7 402.7h0M467.8 368.7h0M408.0 472.8h0M479.0 380.6h0M420.5 462.3h0M444.6 443.7h0"/><path stroke="#9dd93b" d="M482.6 397.6h0M396.3 481.3h0M476.3 417.0h0M446.9 373.8h0M383.8 486.9h0M421.5 395.0h0M400.0 419.5h0M375.4 481.0h0M377.6 485.0h0M375.1 478.9h0M462.4 368.7h0M376.4 466.8h0M438.7 379.9h0M377.2 483.0h0M454.4 436.2h0M378.0 462.7h0M405.5 413.1h0M383.5 447.6h0M390.5 434.4h0M383.2 484.8h0M393.6 481.3h0M392.1 431.9h0M453.6 436.5h0M377.1 477.9h0M386.3 442.3h0M418.4 462.7h0M379.2 481.6h0M413.9 466.1h0M380.0 458.9h0M465.3 427.4h0M467.5 370.7h0M409.9 469.2h0M464.0 428.4h0M467.1 425.7h0M377.9 475.3h0M410.5 468.0h0M480.3 393.2h0M383.4 452.2h0M388.9 439.7h0M412.5 406.4h0"/><path stroke="#a8db34" d="M390.9 436.2h0M429.8 452.5h0M435.9 447.8h0M460.7 371.0h0M440.6 380.2h0M383.8 452.4h0M427.7 453.6h0M386.0 447.9h0M474.5 379.5h0M413.8 464.4h0M407.2 469.3h0M431.9 450.3h0M439.8 381.3h0M454.5 373.0h0M408.2 412.3h0M467.8 422.9h0M389.3 441.2h0M479.0 401.9h0M465.3 372.5h0M384.7 453.0h0M427.4 392.0h0M470.8 375.7h0M391.3 437.5h0M477.8 406.3h0M389.5 477.2h0M408.3 467.8h0M445.7 439.6h0M382.7 466.0h0M464.2 373.0h0M394.4 475.1h0M429.3 390.8h0M425.5 394.4h0M477.1 406.6h0M401.1 471.7h0M474.9 412.0h0M471.3 417.6h0M461.9 427.1h0M472.8 415.1h0M452.8 375.1h0M447.6 377.5h0M385.3 470.6h0M413.2 407.9h0M435.6 385.9h0M443.5 440.2h0"/><path stroke="#b2dd2d" d="M443.9 439.8h0M446.6 378.3h0M465.8 423.0h0M477.8 398.2h0M395.3 473.1h0M390.1 473.2h0M475.5 386.9h0M414.2 461.6h0M390.0 444.9h0M427.0 394.1h0M467.2 376.5h0M395.7 433.5h0M476.0 404.6h0M471.3 380.6h0M469.7 378.9h0M450.8 377.2h0M476.0 403.8h0M391.4 470.5h0M405.9 418.3h0M469.2 378.9h0M431.6 390.6h0M392.7 441.1h0M462.8 424.0h0M391.6 469.5h0M388.1 462.8h0M395.0 469.7h0M424.3 397.6h0M476.1 397.9h0M388.5 460.9h0M396.2 469.1h0M443.9 381.7h0M430.8 391.8h0M397.8 468.5h0M475.7 399.9h0M468.6 379.7h0M396.1 468.1h0M436.6 387.3h0M396.4 435.3h0M389.8 456.2h0M470.3 382.2h0"/><path stroke="#bddf26" d="M401.5 466.2h0M466.0 378.6h0M475.1 396.6h0M398.5 466.9h0M394.0 441.3h0M390.8 451.9h0M393.0 466.0h0M467.1 379.5h0M424.5 398.4h0M392.7 445.2h0M443.1 437.7h0M393.4 465.5h0M456.7 427.6h0M396.5 466.5h0M398.1 433.1h0M469.2 382.1h0M470.7 412.0h0M474.5 399.2h0M403.9 423.6h0M397.1 465.8h0M391.9 461.9h0M391.3 456.1h0M473.0 406.3h0M463.1 378.4h0M449.7 380.1h0M474.1 396.0h0M471.4 409.7h0M414.1 457.9h0M435.2 389.5h0M402.3 463.5h0M460.9 378.6h0M471.5 387.8h0M454.7 378.9h0M456.7 378.6h0M394.6 444.3h0M397.0 463.3h0M467.5 382.4h0M405.9 461.7h0M470.5 386.7h0M428.4 396.1h0M421.8 402.6h0M468.2 383.5h0M471.5 389.1h0M453.0 428.9h0M473.0 400.7h0M395.6 461.3h0M411.8 458.2h0M416.2 455.3h0M404.2 461.4h0M413.3 412.8h0M467.4 414.1h0M462.1 380.2h0M469.4 410.6h0"/><path stroke="#c8e020" d="M455.9 379.9h0M397.6 438.9h0M430.3 395.1h0M408.8 419.0h0M467.5 413.4h0M395.3 446.8h0M424.5 400.6h0M400.4 433.3h0M400.0 460.4h0M426.5 399.0h0M425.4 448.2h0M448.6 382.7h0M396.8 457.7h0M462.7 381.6h0M405.5 424.8h0M461.5 381.3h0M470.5 391.6h0M419.9 451.6h0M469.2 388.6h0M406.6 458.5h0M471.1 395.2h0M470.0 391.5h0M463.0 417.6h0M418.7 451.9h0M462.3 418.2h0M402.3 458.6h0M424.4 401.9h0M441.3 435.7h0M432.4 442.2h0M447.5 384.1h0M469.6 391.7h0M433.0 441.3h0M409.1 421.1h0M415.2 453.1h0M398.3 451.6h0M457.4 382.4h0M446.3 385.6h0M418.1 409.8h0M451.3 383.6h0M408.1 455.6h0"/><path stroke="#d2e21b" d="M411.2 418.9h0M448.8 384.7h0M400.3 453.4h0M400.0 452.7h0M422.6 447.7h0M465.2 411.6h0M464.7 412.3h0M463.9 386.3h0M440.0 435.1h0M466.0 389.3h0M468.0 394.3h0M464.4 387.3h0M468.1 402.8h0M465.5 409.9h0M417.0 450.3h0M406.0 428.7h0M440.0 434.6h0M467.6 395.0h0M430.5 441.4h0M446.2 387.1h0M402.1 450.5h0M402.0 439.8h0M413.3 417.8h0M408.3 452.7h0M437.5 435.9h0M404.4 451.5h0M466.6 403.7h0M404.1 435.4h0M439.0 434.3h0M403.7 437.7h0M418.3 447.9h0M433.3 397.1h0M403.7 440.2h0"/><path stroke="#dde318" d="M407.9 450.3h0M407.2 450.0h0M405.3 434.9h0M459.6 387.8h0M424.3 443.8h0M459.2 387.8h0M460.9 413.0h0M465.5 398.9h0M421.1 409.9h0M448.2 388.4h0M444.3 390.3h0M456.7 417.4h0M406.9 446.7h0M417.4 446.2h0M431.1 400.5h0M458.2 414.8h0M425.2 406.6h0M407.5 433.9h0M406.6 443.3h0M422.4 443.1h0M452.6 420.4h0M410.3 427.5h0M459.2 412.5h0M463.3 399.5h0M408.0 434.0h0M417.6 444.7h0M443.6 392.4h0M429.6 438.0h0M422.6 442.2h0M415.7 445.1h0M409.3 431.7h0M459.4 392.7h0M429.0 437.9h0"/><path stroke="#e7e419" d="M456.2 415.0h0M409.0 441.5h0M410.1 442.1h0M416.8 419.0h0M461.3 402.2h0M440.5 429.0h0M409.5 435.4h0M431.1 435.7h0M459.9 406.9h0M410.0 440.0h0M455.7 414.1h0M453.3 417.0h0M459.4 407.4h0M435.9 432.0h0M452.7 391.9h0M457.8 410.4h0M421.8 440.6h0M411.1 431.6h0M430.0 435.9h0M411.3 431.4h0M420.0 415.9h0M412.4 440.9h0M448.3 421.3h0M434.6 400.6h0M416.5 441.6h0M449.5 420.0h0M412.0 431.3h0M427.8 436.7h0M411.4 434.5h0M425.9 409.4h0M415.5 440.8h0M413.2 439.7h0M421.4 415.2h0M451.1 417.2h0M457.4 397.8h0M451.0 417.0h0M413.1 436.9h0M438.0 399.3h0M423.2 438.0h0M444.2 423.7h0M413.9 429.3h0M443.6 396.2h0M426.4 409.8h0M443.8 423.7h0M423.6 437.4h0M436.7 400.7h0"/><path stroke="#f1e51d" d="M448.9 395.1h0M428.4 408.1h0M413.8 434.7h0M455.8 398.6h0M414.3 433.5h0M456.7 402.6h0M418.0 437.6h0M417.5 423.7h0M453.8 397.6h0M447.0 419.5h0M418.8 436.9h0M453.2 411.5h0M425.0 413.3h0M432.1 405.8h0M418.5 436.3h0M419.4 421.4h0M434.9 403.4h0M454.5 399.5h0M445.1 420.7h0M452.6 411.5h0M423.9 415.2h0M450.8 397.8h0M443.7 421.5h0M454.5 404.8h0M418.1 425.7h0M454.4 404.3h0M438.4 401.7h0M449.1 415.5h0M431.0 430.5h0M419.9 422.9h0M429.4 431.2h0M445.8 418.4h0M420.1 423.3h0M452.6 402.3h0M445.4 399.6h0M448.8 399.5h0M422.1 419.9h0M420.3 432.2h0M420.1 424.8h0M448.7 413.5h0M424.9 431.8h0M438.9 423.6h0M426.5 414.8h0M449.8 401.5h0"/><path stroke="#fbe723" d="M422.4 431.2h0M420.6 429.2h0M424.0 418.7h0M438.5 423.4h0M422.4 421.9h0M422.1 422.6h0M442.0 402.2h0M446.5 401.6h0M444.9 416.9h0M430.4 428.4h0M435.1 406.8h0M450.2 407.6h0M435.8 424.9h0M435.0 425.4h0M437.1 423.8h0M449.1 403.5h0M429.2 412.8h0M432.2 426.9h0M425.8 418.9h0M443.8 403.9h0M426.5 418.2h0M438.3 406.3h0M445.6 412.8h0M439.2 420.2h0M437.6 407.4h0M426.3 425.0h0M444.4 412.9h0M437.1 408.5h0M427.9 419.5h0M431.0 423.8h0M430.5 415.9h0M431.8 414.7h0M431.9 422.4h0M431.8 415.3h0M436.7 419.2h0M431.3 416.9h0M437.9 411.0h0M437.2 411.5h0M433.8 414.9h0M436.0 412.8h0M436.7 416.1h0"/></g><line x1="101.9" y1="688.8" x2="780.7" y2="65.4" stroke="#000" stroke-width="2.7" stroke-dasharray="11.6 5.2"/><path d="M186.8 688.8v-5.5M101.9 610.9h5.5M271.6 688.8v-10.0M101.9 532.9h10.0M356.5 688.8v-5.5M101.9 455.0h5.5M441.3 688.8v-10.0M101.9 377.1h10.0M526.2 688.8v-5.5M101.9 299.2h5.5M611.0 688.8v-10.0M101.9 221.2h10.0M695.9 688.8v-5.5M101.9 143.3h5.5" stroke="#111" stroke-width="1.8" fill="none"/><rect x="101.9" y="65.4" width="678.8" height="623.4" fill="none" stroke="#111" stroke-width="2.2"/><text class="t" x="101.4" y="719.8" text-anchor="middle">4</text><text class="t" x="90.5" y="699.0" text-anchor="end">4</text><text class="t" x="271.1" y="719.8" text-anchor="middle">5</text><text class="t" x="90.5" y="543.1" text-anchor="end">5</text><text class="t" x="440.8" y="719.8" text-anchor="middle">6</text><text class="t" x="90.5" y="387.3" text-anchor="end">6</text><text class="t" x="610.5" y="719.8" text-anchor="middle">7</text><text class="t" x="90.5" y="231.4" text-anchor="end">7</text><text class="t" x="780.2" y="719.8" text-anchor="middle">8</text><text class="t" x="90.5" y="75.6" text-anchor="end">8</text><text class="b" x="441.3" y="764.0" text-anchor="middle">Mobile Signaling (pp4h)</text><text class="b" transform="translate(54.5,377.1) rotate(-90)" text-anchor="middle">Baidu Heat Map (pp4h)</text><text class="b" x="135.8" y="121.4">(b) 9:00 – 10:00</text><text class="s" x="543.3" y="525">R<tspan font-size="26.6" dy="-2">²</tspan><tspan dy="2"> = 0.8186</tspan></text><text class="s" x="543.3" y="571.6">MAE = 88.37</text><text class="s" x="543.3" y="618.2">RMSE = 112.31</text><rect x="814.2" y="65.4" width="31.4" height="623.4" fill="url(#vir)"/><text class="t" x="856" y="615.2">0.05</text><text class="t" x="856" y="528.2">0.10</text><text class="t" x="856" y="441.1">0.15</text><text class="t" x="856" y="354.0">0.20</text><text class="t" x="856" y="267.0">0.25</text><text class="t" x="856" y="179.9">0.30</text><text class="t" x="856" y="92.8">0.35</text><path d="M845.6 605.0h-4M845.6 518.0h-4M845.6 430.9h-4M845.6 343.8h-4M845.6 256.8h-4M845.6 169.7h-4M845.6 82.6h-4" stroke="#111" stroke-width="1.8"/><rect x="814.2" y="65.4" width="31.4" height="623.4" fill="none" stroke="#111" stroke-width="2.2"/><text class="d" x="829.9" y="46.1" text-anchor="middle">Density</text></g><g transform="translate(0,748)"><g clip-path="url(#ax)" fill="none" stroke-width="6.7" stroke-linecap="round"><path stroke="#450457" d="M163.2 306.6h0M244.3 258.5h0M621.2 369.3h0M622.9 176.1h0M621.2 331.9h0M444.3 176.7h0"/><path stroke="#460a5d" d="M622.9 257.1h0M633.1 225.9h0M616.1 310.1h0M276.1 262.3h0M428.2 189.2h0M402.5 207.1h0M599.1 202.5h0M628.0 215.0h0M534.4 599.1h0M609.3 199.4h0M541.9 590.3h0M304.2 260.9h0M621.2 213.5h0M173.5 337.3h0M619.5 210.3h0M219.6 322.7h0M597.4 252.4h0M512.2 607.6h0"/><path stroke="#471063" d="M241.5 304.2h0M595.7 236.8h0M600.8 285.1h0M582.2 225.9h0M602.5 297.6h0M575.4 227.5h0M540.3 572.9h0M539.2 575.4h0M261.2 288.8h0M304.4 270.4h0M537.4 576.8h0M147.8 368.3h0M180.5 344.9h0M136.3 390.0h0M491.2 187.6h0M150.7 368.6h0M268.8 290.2h0M162.7 357.3h0M359.7 252.7h0M507.8 594.3h0"/><path stroke="#481668" d="M433.7 675.3h0M519.2 582.0h0M264.4 300.1h0M546.4 496.3h0M402.1 230.0h0M419.2 217.7h0M524.0 566.1h0M265.2 302.7h0M166.2 363.2h0M546.6 490.6h0M496.1 593.9h0M451.6 630.6h0M570.6 408.2h0M316.6 283.1h0M169.3 365.3h0M371.8 255.4h0M309.9 287.5h0M210.5 355.1h0"/><path stroke="#481b6d" d="M339.4 275.9h0M496.3 200.5h0M362.0 265.5h0M332.1 282.0h0M191.2 363.2h0M306.9 294.3h0M426.9 223.0h0M386.8 252.5h0M241.1 339.0h0M271.7 313.9h0M452.0 211.7h0M274.7 312.4h0M504.5 574.8h0M317.6 294.1h0M451.6 618.2h0M583.8 311.6h0M412.2 690.1h0M538.3 494.4h0M223.6 357.7h0"/><path stroke="#482071" d="M250.9 334.3h0M419.9 234.0h0M425.6 231.7h0M575.4 384.9h0M507.7 563.1h0M360.3 275.8h0M196.7 370.3h0M389.6 259.7h0M504.7 567.0h0M273.4 320.5h0M575.4 294.5h0M476.3 209.5h0M527.2 227.4h0M352.6 282.8h0M344.2 287.5h0M434.3 635.9h0M558.3 418.1h0M516.8 535.6h0M448.2 220.8h0M162.3 386.9h0M440.5 623.5h0M203.1 372.1h0M405.3 253.5h0M423.6 654.8h0M282.0 319.0h0M471.3 212.5h0M451.9 220.0h0M415.6 669.3h0M239.0 353.2h0M443.7 226.0h0"/><path stroke="#482576" d="M499.0 565.5h0M271.7 327.6h0M504.0 557.1h0M471.3 588.2h0M479.6 582.4h0M482.9 214.1h0M428.5 239.8h0M430.1 634.6h0M483.8 214.7h0M317.9 307.4h0M190.3 378.4h0M508.4 545.5h0M415.2 252.6h0M131.5 434.3h0M262.4 336.6h0M465.4 218.5h0M145.4 410.4h0M394.1 269.5h0M433.0 240.0h0M419.3 650.8h0M413.1 662.3h0M516.4 522.7h0M172.5 386.8h0M397.6 269.4h0M467.5 584.5h0M442.3 607.2h0M487.9 569.3h0M493.4 563.3h0M473.1 580.2h0M392.8 274.1h0M394.9 686.5h0M577.4 355.3h0M417.6 257.8h0M318.3 311.8h0M466.3 222.0h0M302.0 319.3h0M349.3 296.3h0"/><path stroke="#472a7a" d="M506.6 538.1h0M360.2 292.0h0M150.0 408.5h0M356.4 294.3h0M171.4 390.4h0M413.3 652.3h0M508.6 227.9h0M547.8 258.0h0M504.9 226.6h0M511.1 229.2h0M199.5 381.9h0M526.0 496.7h0M409.0 659.0h0M572.3 373.8h0M381.4 284.1h0M350.4 298.7h0M442.2 240.0h0M471.5 576.1h0M491.2 558.2h0M487.0 223.5h0M571.7 373.4h0M536.0 462.8h0M478.7 568.0h0M499.3 542.7h0M453.1 586.8h0M453.4 586.5h0M494.4 549.8h0M233.6 368.6h0M439.0 600.4h0M526.0 492.8h0M532.9 471.7h0M419.3 628.5h0M423.5 262.7h0M417.9 631.1h0M155.2 406.8h0M256.0 351.8h0M485.2 558.4h0M151.7 410.7h0M382.3 681.8h0M271.5 341.0h0M447.3 241.4h0M405.9 650.5h0M279.7 336.6h0M460.0 577.0h0M359.5 299.2h0"/><path stroke="#472f7d" d="M509.0 521.4h0M166.8 398.0h0M148.8 415.6h0M535.3 250.9h0M456.2 236.8h0M389.9 668.6h0M143.4 424.0h0M385.8 671.9h0M373.7 294.6h0M409.5 636.3h0M404.9 644.6h0M572.7 354.2h0M371.1 681.2h0M447.4 584.4h0M153.0 411.7h0M457.5 237.7h0M393.7 658.3h0M136.6 437.8h0M263.8 349.6h0M482.6 230.7h0M419.8 614.1h0M378.2 670.6h0M395.6 286.3h0M364.6 682.1h0M498.5 532.1h0M379.5 668.2h0M402.9 639.9h0M141.2 430.0h0M499.7 233.5h0M531.5 466.7h0M397.5 646.8h0M378.0 668.1h0M499.3 234.6h0M562.0 390.0h0M239.3 370.3h0M392.3 290.0h0M304.3 329.2h0M361.8 678.5h0M402.8 630.6h0M412.8 616.6h0M432.2 592.8h0"/><path stroke="#463480" d="M481.5 547.0h0M460.6 565.1h0M371.2 666.0h0M534.9 256.4h0M508.5 512.4h0M441.8 257.6h0M568.5 364.3h0M469.3 238.4h0M367.4 303.8h0M244.4 368.7h0M368.9 665.4h0M504.5 239.0h0M519.1 493.0h0M565.8 375.1h0M455.9 247.1h0M514.8 500.1h0M509.8 508.2h0M563.0 382.2h0M138.7 440.4h0M405.9 617.0h0M319.4 325.5h0M267.1 353.3h0M477.3 238.9h0M389.9 633.1h0M406.8 613.7h0M419.2 599.6h0M307.6 331.8h0M471.8 241.3h0M399.8 619.6h0M520.6 485.2h0M377.2 645.6h0M313.9 329.7h0M566.0 366.9h0M564.9 371.5h0M455.6 251.7h0M489.8 529.9h0M370.9 653.0h0"/><path stroke="#443983" d="M414.8 283.8h0M523.1 477.8h0M518.1 489.2h0M486.7 240.6h0M420.8 594.1h0M170.9 405.4h0M507.0 244.9h0M346.1 317.3h0M409.4 288.2h0M492.0 525.5h0M482.0 242.8h0M370.1 649.4h0M420.0 592.1h0M253.0 367.7h0M398.5 295.4h0M439.8 572.0h0M566.4 350.7h0M439.4 571.4h0M525.4 257.1h0M521.6 475.6h0M410.4 599.3h0M472.9 540.8h0M287.4 346.2h0M451.2 260.4h0M167.2 410.7h0M522.8 256.2h0M451.0 559.6h0M469.1 543.7h0M552.8 399.4h0"/><path stroke="#433e85" d="M129.3 476.7h0M514.7 488.3h0M411.9 595.0h0M277.1 353.6h0M483.8 247.3h0M525.2 259.6h0M522.3 257.8h0M443.4 563.8h0M547.2 284.6h0M126.8 488.3h0M364.2 649.4h0M390.7 614.4h0M493.0 248.1h0M348.6 671.1h0M519.5 257.5h0M438.9 566.3h0M505.4 251.5h0M359.4 654.1h0M383.6 620.0h0M402.5 600.4h0M465.4 255.4h0M380.5 623.3h0M172.6 410.6h0M348.0 323.1h0M250.3 375.3h0M140.9 449.9h0M455.6 263.0h0M380.5 310.9h0M497.0 509.5h0"/><path stroke="#414287" d="M380.3 620.9h0M359.9 320.0h0M416.8 583.7h0M362.3 646.0h0M493.5 251.7h0M427.6 572.8h0M332.8 330.6h0M470.9 255.9h0M523.5 459.5h0M141.6 450.7h0M411.4 295.4h0M291.5 350.0h0M429.2 570.0h0M485.3 520.0h0M132.5 477.4h0M245.2 381.3h0M504.3 256.0h0M481.7 522.7h0M335.9 331.0h0M248.0 380.0h0M445.6 274.2h0M146.8 443.3h0M172.7 414.9h0M411.7 583.6h0M193.3 406.1h0M504.6 257.7h0"/><path stroke="#3f4788" d="M442.1 277.5h0M544.0 289.5h0M275.0 362.3h0M463.9 536.3h0M385.3 312.9h0M240.3 386.4h0M416.3 295.3h0M150.3 439.0h0M429.4 565.7h0M246.5 382.6h0M446.2 550.8h0M390.5 310.6h0M134.0 477.7h0M479.8 521.3h0M357.0 645.6h0M379.4 316.7h0M453.4 544.2h0M394.8 596.4h0M385.9 605.1h0M539.5 416.6h0M514.2 473.0h0M450.9 273.5h0M504.2 491.1h0M459.9 537.5h0M456.4 270.1h0M461.8 266.8h0M153.1 437.2h0M129.0 500.5h0M487.4 511.5h0M454.2 541.6h0M266.6 370.4h0M547.4 301.5h0M547.6 302.0h0M500.3 260.5h0M366.5 627.4h0M455.6 271.5h0M320.6 691.7h0M304.3 348.5h0M199.3 407.3h0M326.7 338.8h0M472.2 263.2h0M496.7 500.0h0"/><path stroke="#3e4c8a" d="M275.9 364.8h0M127.1 570.7h0M291.8 355.4h0M364.7 325.7h0M386.2 602.0h0M522.5 451.5h0M507.0 263.3h0M491.4 505.6h0M460.2 269.7h0M217.4 401.6h0M322.9 687.0h0M179.8 415.8h0M364.6 326.4h0M320.7 689.3h0M344.6 658.4h0M127.1 519.7h0M327.2 681.3h0M503.5 263.5h0M353.2 330.9h0M352.9 331.1h0M357.5 637.5h0M302.0 351.4h0M277.5 365.3h0M149.3 446.8h0M454.9 538.1h0M557.0 342.2h0M260.7 376.9h0M388.8 315.7h0M334.1 671.4h0M364.3 327.7h0M458.2 272.6h0M340.2 663.0h0M482.8 263.5h0M543.4 298.6h0M200.2 409.8h0M344.7 654.9h0"/><path stroke="#3c508b" d="M417.8 300.1h0M442.7 546.0h0M505.7 266.9h0M555.7 349.3h0M555.7 343.9h0M513.5 466.3h0M457.2 533.5h0M502.9 485.2h0M401.6 310.4h0M422.9 297.8h0M266.3 375.4h0M346.8 649.3h0M278.0 367.6h0M318.9 684.6h0M538.0 412.4h0M553.2 328.1h0M126.0 650.6h0M419.6 300.2h0M401.0 581.0h0M315.5 348.2h0M391.7 589.8h0M512.6 270.8h0M471.1 520.2h0M177.8 421.0h0M126.5 655.7h0M170.6 425.9h0M127.0 615.4h0M332.6 667.6h0M399.5 581.6h0M491.6 266.7h0M140.5 473.3h0M314.8 686.3h0M376.5 604.6h0M401.7 578.8h0M207.0 410.3h0M503.6 481.1h0M375.4 327.0h0M387.0 320.8h0"/><path stroke="#3a548c" d="M480.3 509.8h0M128.2 605.7h0M424.6 557.5h0M130.2 521.0h0M304.1 354.9h0M185.6 418.8h0M130.4 537.8h0M340.1 654.9h0M176.8 423.6h0M216.0 407.7h0M351.7 337.1h0M337.9 341.8h0M130.9 572.0h0M205.0 412.3h0M521.2 278.2h0M168.9 429.6h0M543.2 395.9h0M551.8 363.9h0M157.1 442.6h0M356.2 336.2h0M129.8 673.4h0M130.7 526.9h0M130.7 528.7h0M175.6 425.1h0M549.6 323.9h0M519.0 277.5h0M545.1 313.0h0M467.9 519.3h0M315.7 681.2h0M537.1 409.7h0M222.1 406.2h0M510.0 466.2h0M166.8 432.6h0M164.7 434.8h0M149.6 456.9h0M406.6 570.2h0M136.7 492.1h0M455.8 528.6h0M128.2 626.8h0M191.5 418.9h0M329.3 665.1h0M402.7 573.2h0M402.9 572.9h0M444.2 537.5h0M131.0 674.6h0"/><path stroke="#38598c" d="M176.1 427.0h0M136.6 494.5h0M516.6 450.8h0M147.4 463.4h0M551.5 343.0h0M373.7 602.0h0M471.0 514.2h0M383.4 590.9h0M158.2 444.5h0M132.6 573.1h0M179.7 425.7h0M361.6 617.0h0M169.5 432.7h0M348.9 635.2h0M192.7 420.2h0M509.1 464.1h0M311.6 679.5h0M317.8 353.0h0M533.1 295.3h0M391.8 580.8h0M500.5 274.6h0M152.2 455.8h0M132.9 529.5h0M487.7 496.0h0M318.9 352.9h0M392.4 322.4h0M548.0 328.4h0M344.1 343.9h0M331.2 658.7h0M135.1 688.3h0M131.5 667.7h0M130.8 661.1h0M334.9 654.0h0M156.7 448.9h0M220.6 409.9h0M329.7 349.0h0M534.6 410.7h0M439.6 538.2h0M470.6 512.5h0M411.3 311.5h0M418.5 555.4h0M330.7 658.6h0M460.4 282.0h0M547.1 373.6h0M227.5 406.9h0M488.7 274.4h0M277.8 374.7h0M520.4 283.4h0M542.9 316.1h0M147.8 466.7h0M518.4 443.9h0M220.3 410.7h0M331.1 657.5h0M219.7 411.0h0M393.9 577.0h0M524.7 287.3h0"/><path stroke="#365d8d" d="M131.5 662.4h0M465.7 280.2h0M548.6 334.5h0M391.7 578.8h0M517.6 282.6h0M547.3 370.4h0M165.5 439.4h0M333.9 653.0h0M306.5 359.7h0M349.0 631.2h0M494.8 484.8h0M134.4 540.1h0M300.4 684.0h0M367.9 604.8h0M130.8 650.0h0M532.5 297.6h0M493.0 276.0h0M529.4 420.3h0M391.6 578.0h0M391.7 577.5h0M487.1 493.8h0M317.7 669.5h0M465.3 514.9h0M317.2 669.8h0M310.3 358.7h0M177.7 430.5h0M482.9 276.8h0M321.8 353.9h0M334.2 349.5h0M431.2 301.5h0M547.9 362.0h0M529.7 418.6h0M336.8 647.2h0M219.8 412.5h0M348.9 629.6h0M502.3 471.7h0M523.3 288.3h0M255.4 391.6h0M323.6 662.6h0M519.9 438.4h0M172.7 434.6h0M161.6 445.7h0M309.8 359.4h0M434.3 300.1h0M528.0 293.5h0M324.4 661.0h0M153.9 458.3h0M345.2 633.9h0M508.7 459.3h0M422.6 307.6h0M544.4 326.0h0M527.8 293.9h0M287.1 371.7h0M329.3 655.1h0M299.7 364.9h0M135.5 521.0h0M134.8 674.7h0M314.7 669.4h0M138.9 499.1h0M477.6 279.5h0M367.7 601.6h0"/><path stroke="#34618d" d="M433.3 538.5h0M132.3 615.8h0M305.8 362.5h0M480.8 279.3h0M287.2 688.5h0M529.5 297.5h0M439.2 533.4h0M136.4 516.3h0M156.7 455.8h0M393.3 572.0h0M411.0 315.7h0M383.7 581.8h0M199.9 423.0h0M546.4 339.0h0M436.4 300.7h0M218.3 415.5h0M215.5 416.8h0M434.5 536.0h0M410.7 555.0h0M148.6 473.4h0M193.9 426.1h0M323.7 657.3h0M523.2 428.1h0M360.6 608.3h0M147.0 478.0h0M132.7 633.2h0M136.8 568.7h0M433.3 535.9h0M132.8 639.0h0M537.3 315.5h0M143.8 488.0h0M371.1 593.9h0M525.6 296.0h0M300.0 367.7h0"/><path stroke="#32658e" d="M409.3 318.7h0M527.1 298.5h0M544.1 335.4h0M448.1 295.6h0M492.7 480.1h0M187.3 430.8h0M299.6 673.9h0M360.3 606.5h0M272.9 383.7h0M267.3 387.4h0M142.4 494.4h0M412.8 550.6h0M405.0 321.6h0M137.5 570.6h0M444.5 525.3h0M318.3 659.2h0M140.8 688.3h0M424.3 540.9h0M420.3 544.1h0M290.3 373.6h0M345.4 351.1h0M483.9 490.5h0M220.1 417.0h0M424.3 540.6h0M443.9 298.8h0M133.8 636.2h0M341.5 352.5h0M300.7 368.5h0M508.6 453.1h0M305.3 366.4h0M308.3 365.0h0M440.7 527.5h0M302.1 670.4h0M495.0 475.5h0M168.8 444.9h0M392.5 330.0h0M285.4 681.9h0M138.4 676.9h0M155.5 463.8h0M328.1 647.5h0M217.1 419.3h0M420.4 542.6h0M381.0 579.5h0M139.1 546.6h0M285.8 377.1h0M469.1 503.6h0M448.8 520.2h0M435.9 529.9h0M220.2 418.2h0M438.0 528.3h0M140.4 508.3h0M542.9 366.5h0M486.0 486.2h0M506.6 455.3h0M182.4 435.6h0M140.5 507.8h0M256.3 396.6h0M270.9 386.9h0M305.1 666.0h0M394.4 564.3h0M350.1 616.9h0M533.9 314.3h0M348.2 619.6h0M389.2 569.4h0M508.1 452.0h0M411.2 548.8h0"/><path stroke="#30698e" d="M141.8 686.0h0M148.6 480.9h0M378.3 339.9h0M534.7 396.1h0M412.8 547.2h0M283.6 680.6h0M404.4 554.4h0M169.4 446.5h0M483.2 488.4h0M366.9 345.9h0M498.1 286.2h0M473.7 287.2h0M476.3 495.5h0M470.4 288.2h0M135.6 646.2h0M333.9 357.2h0M501.9 287.2h0M141.8 504.6h0M185.4 435.2h0M309.4 366.5h0M150.8 476.8h0M202.8 427.3h0M513.2 291.2h0M263.3 392.8h0M514.5 292.0h0M309.8 660.6h0M461.0 508.5h0M307.2 367.9h0M140.3 549.8h0M174.9 442.6h0M473.7 497.1h0M140.1 522.2h0M172.2 445.1h0M410.8 547.3h0M337.0 356.9h0M343.1 624.3h0M140.1 527.6h0M322.3 649.2h0M327.2 644.0h0M308.1 660.9h0M495.4 470.9h0M437.9 525.7h0M532.5 400.0h0M542.0 363.1h0M138.3 587.6h0M422.9 536.9h0M526.3 304.4h0M316.3 653.7h0M311.7 657.3h0M293.8 669.6h0M519.7 427.8h0M160.3 460.5h0M487.0 287.5h0M396.8 330.6h0M331.4 359.5h0M340.3 356.7h0M377.3 579.3h0M373.2 344.8h0M319.8 363.7h0M526.0 304.8h0M435.9 307.8h0M541.9 344.5h0M330.9 637.9h0M140.0 671.4h0M208.8 426.5h0M457.0 296.0h0M141.4 515.6h0M290.3 670.7h0M386.3 568.4h0"/><path stroke="#2e6d8e" d="M390.5 335.1h0M348.0 615.3h0M466.7 292.0h0M415.1 320.4h0M419.8 317.8h0M334.7 632.4h0M140.9 564.1h0M137.1 612.0h0M486.3 481.1h0M539.3 334.6h0M291.2 669.1h0M141.6 517.3h0M165.4 455.3h0M458.9 295.8h0M273.8 682.7h0M222.4 420.7h0M399.0 330.4h0M302.3 661.0h0M536.9 382.3h0M149.0 486.3h0M515.0 295.6h0M476.5 290.3h0M478.1 489.6h0M401.8 329.2h0M502.8 291.1h0M312.7 652.8h0M525.9 412.5h0M476.0 491.3h0M511.3 440.9h0M280.8 675.1h0M146.4 495.7h0M410.6 324.3h0M478.4 488.5h0M253.4 402.4h0M164.2 458.4h0M141.8 673.2h0M322.3 365.0h0M473.9 492.7h0M442.1 306.4h0M528.5 405.3h0M142.8 515.9h0M286.6 669.5h0M509.3 294.1h0M322.8 642.4h0M401.6 550.2h0M486.8 478.2h0M459.5 297.2h0M458.8 297.6h0M370.1 349.1h0M445.9 304.5h0M336.9 360.7h0M144.1 507.8h0M343.8 617.1h0M403.2 329.7h0M537.7 336.0h0"/><path stroke="#2d718e" d="M480.3 291.9h0M539.6 360.1h0M351.8 356.9h0M536.2 331.8h0M446.2 514.0h0M535.0 329.0h0M402.3 548.3h0M518.5 425.5h0M141.7 574.4h0M153.5 479.7h0M423.0 530.9h0M507.9 444.5h0M415.2 323.4h0M464.5 296.3h0M294.1 378.6h0M454.9 507.1h0M149.2 690.5h0M396.9 552.8h0M321.3 641.3h0M143.0 559.4h0M502.0 454.2h0M487.5 475.6h0M348.0 610.0h0M505.5 294.5h0M396.3 553.2h0M343.7 615.4h0M530.7 396.8h0M260.2 399.4h0M524.8 411.4h0M269.2 393.6h0M298.5 657.6h0M142.8 671.2h0M395.7 553.3h0M305.2 653.0h0M400.5 548.6h0M332.8 628.1h0M346.4 359.7h0M400.5 548.4h0M399.3 333.6h0M144.8 510.7h0M371.0 350.7h0M168.4 456.9h0M143.6 557.8h0M316.6 643.6h0M268.1 394.9h0M419.6 322.1h0M144.5 514.7h0M420.4 531.0h0M446.0 306.8h0M193.9 438.3h0M386.6 342.0h0M358.9 594.5h0M465.8 297.5h0M348.0 359.9h0M333.6 364.1h0M503.3 295.4h0M341.4 616.3h0M446.0 511.6h0M491.9 293.9h0M427.9 524.8h0M439.6 516.2h0M194.0 438.6h0M538.1 347.6h0M449.4 305.4h0M518.5 423.0h0M299.1 654.7h0M142.0 582.6h0M330.4 365.5h0M258.6 401.8h0M441.4 310.4h0M217.9 427.3h0M263.3 683.1h0M431.5 521.4h0"/><path stroke="#2b748e" d="M355.2 358.5h0M445.4 511.1h0M376.8 571.3h0M481.4 295.1h0M480.3 481.3h0M142.4 662.0h0M345.6 609.7h0M221.5 425.8h0M532.2 328.6h0M492.6 465.4h0M312.7 643.7h0M449.7 507.5h0M260.2 401.2h0M164.7 464.0h0M342.4 613.1h0M139.7 624.6h0M286.9 661.2h0M280.6 666.0h0M455.8 303.4h0M260.5 684.1h0M449.1 306.9h0M510.1 437.1h0M258.1 402.9h0M360.6 357.4h0M305.3 648.1h0M145.1 530.5h0M452.1 305.4h0M331.8 625.1h0M315.6 640.4h0M146.5 509.6h0M274.7 392.3h0M537.0 361.7h0M217.6 428.6h0M477.9 296.6h0M140.0 625.9h0M537.2 353.3h0M404.9 332.7h0M341.5 613.3h0M523.4 410.3h0M349.5 361.6h0M349.5 361.6h0M480.0 480.1h0M144.6 669.1h0M537.1 355.6h0M320.6 370.4h0M465.0 494.3h0M390.0 342.1h0M145.6 549.8h0M371.9 575.0h0M485.1 473.7h0M462.4 301.6h0M176.3 452.7h0M141.8 597.4h0M335.5 619.4h0M147.2 677.0h0M144.7 566.5h0M466.1 300.4h0M359.8 589.4h0M475.3 298.1h0M274.8 393.1h0M166.5 463.9h0M476.5 482.4h0M141.0 615.1h0M344.0 364.3h0M473.8 485.1h0M281.5 662.0h0M454.5 501.3h0M289.4 655.6h0M453.5 501.9h0M530.9 387.6h0M533.9 338.7h0"/><path stroke="#2a788e" d="M446.6 506.8h0M501.7 448.7h0M483.2 297.9h0M233.0 421.0h0M274.0 667.9h0M142.6 650.9h0M526.8 322.2h0M418.3 326.9h0M360.7 586.7h0M163.9 468.9h0M256.4 405.8h0M305.3 378.0h0M534.2 371.8h0M142.1 603.7h0M150.2 499.3h0M382.1 348.8h0M213.6 432.6h0M287.8 655.6h0M221.4 428.4h0M380.2 350.1h0M146.7 544.7h0M308.0 641.3h0M491.6 298.3h0M517.2 308.4h0M463.0 303.3h0M436.2 513.1h0M517.7 309.2h0M477.1 480.2h0M146.9 545.4h0M143.1 594.3h0M506.3 439.9h0M434.9 318.3h0M434.2 514.2h0M147.9 512.6h0M486.8 468.7h0M529.3 390.4h0M505.7 301.2h0M457.1 306.3h0M227.0 425.6h0M478.7 299.6h0M414.8 329.7h0M488.5 298.9h0M273.7 666.2h0M156.8 483.0h0M184.3 449.3h0M348.1 601.0h0M466.0 302.9h0M449.2 310.5h0M517.5 309.7h0M328.9 622.5h0M294.8 648.7h0M333.3 369.0h0M377.8 564.6h0M517.7 418.6h0M262.5 675.7h0M316.8 632.8h0M445.3 505.4h0M410.6 332.6h0M143.0 601.4h0M436.0 511.9h0M520.0 313.7h0M529.7 332.0h0M423.4 520.9h0M520.2 314.2h0M500.6 300.6h0M314.7 634.0h0M157.1 483.6h0M161.0 476.0h0M181.2 452.3h0M195.4 443.5h0M347.0 601.1h0M306.6 639.4h0M285.3 389.3h0M346.0 366.3h0M357.5 362.8h0M405.9 335.8h0M390.6 549.5h0M319.2 629.8h0M427.4 323.9h0M419.8 523.0h0M502.1 445.0h0M420.1 522.7h0M380.6 351.7h0M513.7 307.6h0M146.3 663.4h0M507.6 303.7h0M143.1 604.6h0M493.4 300.5h0"/><path stroke="#287c8e" d="M150.3 677.1h0M361.7 582.3h0M318.1 629.7h0M189.1 448.0h0M379.8 560.5h0M325.0 623.5h0M181.7 453.0h0M237.7 420.3h0M157.8 688.7h0M148.3 531.4h0M145.1 584.5h0M533.3 348.2h0M509.2 305.3h0M159.7 480.4h0M295.2 385.0h0M462.0 306.6h0M480.1 473.7h0M146.1 575.3h0M159.5 690.0h0M297.7 642.9h0M247.9 685.8h0M322.3 625.0h0M379.5 353.5h0M291.0 647.5h0M409.8 529.5h0M314.1 631.3h0M348.9 596.8h0M310.8 378.5h0M170.4 464.5h0M532.8 347.9h0M260.7 673.8h0M148.5 549.4h0M207.3 439.0h0M374.7 565.3h0M511.7 307.7h0M290.0 388.2h0M532.8 349.1h0M275.9 659.2h0M319.3 626.7h0M255.8 677.9h0M316.2 628.8h0M288.6 648.2h0M394.7 344.5h0M293.3 644.6h0M143.2 624.4h0M386.2 551.8h0M526.4 329.8h0M532.4 367.4h0M154.4 682.1h0M409.7 528.7h0M167.2 469.6h0M441.0 504.9h0M465.9 486.2h0M226.8 428.4h0M446.0 315.8h0M377.6 560.9h0M458.7 309.5h0M149.7 519.8h0M434.2 322.8h0M334.8 610.9h0M238.0 691.5h0M217.1 434.5h0M329.5 373.4h0M165.7 472.5h0M401.7 535.1h0M261.7 670.6h0M527.4 388.6h0M469.5 306.1h0M286.1 391.1h0M149.1 551.6h0M152.9 677.8h0M149.5 542.8h0M463.1 487.6h0M217.1 434.8h0M157.1 684.2h0M343.9 369.9h0M284.1 649.9h0M474.7 305.0h0M153.0 677.6h0M351.4 591.3h0M252.5 412.2h0M392.7 347.1h0M348.7 594.4h0M388.1 350.0h0"/><path stroke="#27808e" d="M462.5 487.7h0M383.1 353.3h0M494.6 452.4h0M146.1 588.2h0M517.3 414.2h0M502.6 305.2h0M146.8 581.7h0M145.1 600.6h0M221.6 432.7h0M453.4 313.3h0M448.4 316.0h0M469.9 306.9h0M531.4 366.9h0M403.9 340.8h0M156.3 681.9h0M145.4 598.5h0M303.2 634.5h0M218.5 434.8h0M323.1 619.8h0M266.8 663.8h0M166.5 473.1h0M507.3 307.9h0M367.1 571.3h0M393.8 347.2h0M475.5 305.9h0M293.5 640.7h0M516.8 316.6h0M389.4 350.1h0M380.1 356.0h0M276.9 653.9h0M277.4 397.1h0M348.5 593.3h0M152.0 672.6h0M198.6 446.3h0M506.0 307.7h0M329.9 612.7h0M291.9 641.1h0M281.6 649.3h0M287.9 644.0h0M308.2 382.3h0M281.3 395.2h0M517.9 411.1h0M349.4 370.3h0M180.8 458.3h0M238.6 687.4h0M186.7 453.9h0M354.5 585.4h0M395.6 538.4h0M171.7 467.4h0M328.9 613.0h0M250.1 677.8h0M333.4 608.7h0M276.1 653.5h0M153.0 673.6h0M530.3 368.0h0M415.9 519.7h0M399.0 345.0h0M528.3 379.7h0M243.9 682.8h0M195.3 448.9h0M153.5 504.7h0M451.4 493.6h0M518.2 320.5h0M375.6 559.8h0M516.5 413.5h0M197.1 448.0h0M444.3 320.2h0M497.0 446.6h0M398.9 345.5h0M476.4 472.0h0M469.6 478.6h0M431.6 507.0h0M315.9 380.3h0M423.7 512.7h0M176.0 463.6h0M358.1 368.6h0M293.3 638.0h0M272.3 655.6h0M260.4 666.7h0M357.4 580.7h0M339.4 601.1h0M493.5 306.2h0M503.9 308.4h0M524.8 390.9h0M478.6 469.2h0M154.6 675.1h0M246.4 679.3h0M459.9 313.2h0M406.8 341.4h0"/><path stroke="#25838e" d="M517.9 409.1h0M147.4 589.2h0M528.0 343.7h0M529.0 371.7h0M343.6 373.4h0M146.0 607.7h0M391.4 540.9h0M151.8 527.5h0M448.6 493.9h0M234.9 687.5h0M146.2 635.0h0M469.3 477.4h0M157.4 678.4h0M407.0 342.0h0M248.6 676.2h0M400.4 345.8h0M427.4 331.1h0M230.9 689.7h0M465.2 480.8h0M147.6 646.2h0M365.5 569.8h0M160.8 487.1h0M238.1 684.4h0M509.9 424.1h0M356.3 580.7h0M313.4 622.0h0M496.3 445.4h0M359.8 576.4h0M401.5 345.6h0M190.0 454.0h0M229.4 690.1h0M311.5 623.0h0M512.1 315.7h0M518.9 325.2h0M146.0 624.4h0M154.2 507.5h0M244.8 678.5h0M482.5 308.2h0M276.2 400.0h0M173.1 689.3h0M148.7 650.7h0M448.3 320.5h0M429.0 331.0h0M476.2 469.6h0M347.1 590.5h0M162.1 485.6h0M341.2 375.3h0M509.9 314.2h0M229.9 688.7h0M248.4 674.4h0M170.7 687.3h0M152.7 531.9h0M180.5 691.2h0M525.8 382.7h0M305.0 626.3h0M260.2 663.5h0M169.7 686.6h0M501.5 436.6h0M257.8 665.6h0M185.8 458.0h0M151.3 560.9h0M412.3 518.7h0M337.0 600.4h0M160.3 679.4h0M183.5 691.6h0M514.0 319.6h0M497.4 442.4h0M435.6 328.5h0M445.6 493.5h0M468.1 476.2h0M148.9 648.0h0M146.9 629.6h0M371.9 365.1h0M526.9 347.5h0M492.1 449.4h0M171.3 472.5h0M517.5 406.3h0M268.5 405.7h0M356.7 578.1h0M451.3 320.5h0M170.2 474.1h0M288.4 394.4h0M528.2 359.7h0M261.0 661.3h0M317.3 382.7h0"/><path stroke="#24878e" d="M261.6 660.6h0M272.5 650.4h0M338.1 598.2h0M409.4 520.2h0M348.5 587.0h0M435.7 329.3h0M497.7 441.1h0M264.9 408.3h0M419.2 511.7h0M435.9 499.2h0M250.9 417.6h0M414.8 515.4h0M483.3 310.0h0M190.5 692.0h0M342.1 593.8h0M322.6 611.8h0M423.1 508.5h0M199.4 450.3h0M476.1 467.3h0M461.0 480.9h0M518.9 401.6h0M153.8 526.1h0M344.5 376.5h0M277.0 645.5h0M296.9 629.5h0M357.8 575.8h0M152.3 558.3h0M527.2 354.5h0M523.5 387.1h0M337.6 597.8h0M349.2 585.5h0M230.4 684.9h0M147.8 631.4h0M261.3 659.6h0M167.5 682.6h0M233.4 682.6h0M490.7 310.3h0M362.1 570.3h0M406.3 345.7h0M240.8 677.2h0M184.4 688.1h0M357.8 373.2h0M173.1 471.9h0M189.8 689.6h0M330.4 604.1h0M362.8 371.3h0M461.6 479.3h0M328.1 605.9h0M374.2 555.8h0M310.5 386.1h0M502.9 431.9h0M523.8 384.5h0M392.5 535.4h0M240.5 676.9h0M437.6 329.8h0M524.6 344.9h0M496.2 441.6h0M384.6 543.7h0M313.9 616.4h0M245.7 672.3h0M308.3 620.2h0M429.6 501.8h0M329.4 604.2h0M158.2 500.6h0M351.3 376.0h0M509.5 318.1h0M226.0 685.8h0M449.3 323.9h0M214.8 690.4h0M324.7 608.0h0M279.5 400.6h0M486.4 311.3h0M447.1 325.1h0M220.9 438.9h0M446.2 489.9h0M316.0 384.7h0M469.1 315.3h0M410.6 517.0h0M425.7 504.3h0M353.1 375.8h0M229.8 683.1h0M340.6 379.0h0M149.8 589.8h0M514.9 325.6h0M402.9 348.8h0M412.1 343.8h0M520.4 336.0h0M494.7 311.8h0M471.3 314.9h0M154.0 548.7h0M474.5 314.1h0M422.5 506.3h0M327.1 382.3h0M436.1 496.0h0M503.8 315.1h0M174.9 683.0h0M196.1 687.1h0M184.6 684.7h0M310.1 387.5h0"/><path stroke="#228b8d" d="M492.9 444.5h0M257.4 660.1h0M160.0 497.5h0M439.2 493.4h0M152.8 565.3h0M452.2 484.1h0M440.8 329.9h0M164.3 487.6h0M196.5 454.6h0M525.6 357.1h0M462.5 476.1h0M301.9 622.6h0M412.6 513.8h0M372.8 555.5h0M206.8 688.0h0M442.6 329.2h0M506.6 423.6h0M272.2 646.1h0M206.6 687.9h0M164.5 677.3h0M224.8 683.5h0M205.2 687.6h0M204.4 687.4h0M365.7 372.2h0M518.9 396.7h0M285.3 634.6h0M164.4 676.8h0M525.2 368.0h0M505.0 426.0h0M479.9 459.1h0M519.3 336.9h0M248.8 421.5h0M418.7 342.1h0M169.8 479.4h0M466.3 472.0h0M274.0 643.6h0M322.3 384.7h0M210.4 686.3h0M207.9 686.2h0M149.1 621.9h0M326.0 384.0h0M512.7 411.0h0M390.3 358.4h0M313.2 387.5h0M384.0 541.7h0M477.7 460.5h0M493.3 442.2h0M220.1 683.1h0M239.7 428.3h0M228.0 679.7h0M291.7 628.2h0M196.8 683.0h0M185.3 463.8h0M153.8 564.2h0M273.6 642.9h0M309.1 615.7h0M244.0 668.7h0M399.7 353.3h0M218.5 683.0h0M406.6 517.5h0M401.2 352.5h0M352.4 379.0h0M463.3 473.1h0M184.8 464.4h0M188.3 461.8h0M490.1 445.7h0M149.8 610.7h0M265.7 649.5h0M180.1 680.5h0M405.4 518.3h0M253.8 660.1h0M405.0 350.7h0M280.2 402.7h0M455.0 325.1h0M252.5 420.1h0M167.9 676.6h0M450.9 482.0h0M160.0 668.8h0M397.5 525.8h0M517.4 336.5h0M355.1 378.8h0M432.3 337.2h0M210.7 682.4h0M523.9 367.5h0M473.1 463.6h0M314.6 388.3h0M456.2 477.8h0M159.2 506.6h0M427.5 498.6h0M160.2 668.6h0M159.4 667.2h0M521.5 347.3h0M479.9 316.2h0M436.9 491.6h0M212.1 681.7h0"/><path stroke="#218f8d" d="M464.3 471.1h0M523.0 373.6h0M359.6 377.5h0M277.5 404.6h0M415.7 345.9h0M214.6 681.1h0M319.6 606.7h0M507.2 419.3h0M475.2 461.0h0M328.9 599.2h0M167.3 675.2h0M405.4 351.4h0M522.1 378.2h0M429.5 339.4h0M404.5 351.9h0M175.8 678.3h0M300.7 619.7h0M336.4 384.1h0M173.5 677.6h0M472.7 463.0h0M155.6 555.2h0M379.5 544.5h0M224.8 677.5h0M277.8 637.1h0M502.6 426.5h0M157.8 519.6h0M345.3 382.6h0M336.0 384.4h0M294.0 396.6h0M156.8 659.3h0M254.7 419.5h0M173.0 677.0h0M164.8 672.5h0M169.6 483.4h0M152.5 641.4h0M190.0 462.2h0M174.5 677.1h0M166.4 673.5h0M351.6 576.0h0M243.4 665.8h0M348.5 579.3h0M488.1 316.3h0M335.3 384.9h0M156.0 655.9h0M333.7 593.8h0M354.4 380.8h0M266.1 646.2h0M522.7 364.6h0M230.5 436.7h0M158.6 516.9h0M240.1 430.1h0M340.0 384.5h0M391.8 360.5h0M190.7 462.2h0M442.0 485.9h0M152.3 637.7h0M431.1 493.8h0M184.0 467.5h0M152.3 637.2h0M475.3 458.8h0M295.1 622.2h0M413.9 507.5h0M441.9 334.8h0M402.7 354.4h0M159.0 662.3h0M268.1 643.8h0M517.8 342.7h0M350.6 382.7h0M520.8 379.2h0M439.0 487.3h0M380.1 368.5h0M521.9 359.6h0M449.9 330.9h0M518.1 344.0h0M151.3 622.9h0M221.8 675.3h0M240.9 665.7h0M279.0 634.1h0M284.7 402.3h0M420.3 346.1h0M219.7 444.6h0M375.9 371.4h0M215.9 447.0h0M384.2 537.4h0M326.1 388.0h0M379.0 543.2h0M159.9 662.8h0M482.2 450.7h0M199.8 674.8h0M305.1 393.6h0M270.9 640.4h0M458.7 472.1h0M463.0 325.0h0M335.6 386.6h0M170.6 673.4h0M519.5 350.0h0M449.0 479.3h0M251.9 422.8h0M349.9 575.9h0"/><path stroke="#20928c" d="M347.0 578.9h0M474.7 320.6h0M447.1 333.4h0M184.6 675.0h0M334.9 590.7h0M164.3 496.9h0M323.1 600.7h0M219.2 674.0h0M236.3 433.9h0M284.5 628.7h0M152.9 634.3h0M161.7 505.5h0M330.1 594.8h0M151.8 614.6h0M374.6 372.9h0M195.0 673.8h0M386.2 365.7h0M394.6 360.5h0M433.8 340.8h0M448.2 479.1h0M437.4 339.1h0M371.5 550.9h0M504.8 419.4h0M155.1 645.3h0M513.3 336.7h0M225.7 441.5h0M385.6 366.5h0M342.9 386.3h0M516.2 392.9h0M260.2 417.7h0M488.4 442.3h0M182.9 674.0h0M517.8 347.5h0M156.4 564.4h0M370.9 375.8h0M495.3 319.8h0M324.2 389.7h0M382.1 538.3h0M309.3 609.7h0M369.2 553.0h0M481.6 449.4h0M155.4 574.7h0M413.2 505.3h0M409.7 508.7h0M162.7 504.3h0M418.1 349.2h0M477.8 321.1h0M229.8 668.5h0M437.6 485.7h0M399.6 518.7h0M197.1 460.4h0M504.5 325.4h0M152.9 627.3h0M344.1 386.8h0M254.1 422.3h0M252.3 653.9h0M169.7 488.0h0M510.0 407.7h0M400.8 358.2h0M250.7 654.9h0M280.5 406.1h0M390.6 528.0h0M494.1 433.9h0M165.8 667.2h0M190.6 465.3h0M257.0 649.5h0M224.8 669.0h0M516.2 346.3h0M314.3 605.2h0M153.7 632.0h0M421.7 497.0h0M519.6 360.6h0M519.7 370.2h0M253.7 423.0h0M252.3 653.0h0M481.2 448.6h0M170.8 487.1h0M157.1 564.2h0M163.7 503.1h0M420.2 349.3h0M154.4 589.9h0M364.3 380.8h0M163.7 503.6h0M378.0 373.0h0M319.9 391.9h0M400.9 516.1h0M519.5 364.8h0M161.3 516.4h0M243.5 658.9h0M476.2 453.1h0M471.7 457.3h0M153.3 607.4h0M211.1 668.6h0M262.2 417.8h0M159.8 540.0h0M209.4 668.4h0M469.2 325.6h0"/><path stroke="#1f968b" d="M228.5 666.1h0M164.4 502.3h0M500.7 423.1h0M452.5 334.0h0M159.7 543.2h0M419.8 350.2h0M459.8 330.2h0M379.2 539.7h0M218.4 667.8h0M486.7 441.4h0M211.8 667.8h0M172.3 669.3h0M378.8 540.0h0M455.9 469.8h0M451.6 473.1h0M171.3 668.7h0M296.8 399.6h0M490.5 321.7h0M515.2 390.1h0M154.4 596.3h0M228.2 665.3h0M428.8 489.7h0M241.6 432.5h0M204.2 667.2h0M167.2 495.8h0M154.0 624.7h0M379.6 373.0h0M251.7 651.5h0M242.8 431.8h0M502.0 420.2h0M234.1 662.7h0M240.2 659.4h0M220.2 666.5h0M431.2 345.9h0M482.5 322.5h0M507.8 333.2h0M339.4 390.2h0M504.2 328.9h0M517.7 376.6h0M352.9 568.8h0M161.0 531.8h0M360.3 384.3h0M487.0 322.3h0M154.3 625.1h0M257.3 422.0h0M506.4 411.5h0M469.3 457.5h0M157.6 568.9h0M418.6 497.0h0M504.2 415.5h0M336.8 391.3h0M283.3 406.5h0M165.7 501.5h0M513.6 346.1h0M478.4 324.1h0M505.0 413.7h0M517.1 377.8h0M161.7 655.7h0M363.8 556.0h0M325.8 593.8h0M443.9 340.6h0M233.9 438.8h0M187.0 668.0h0M500.7 326.9h0M309.0 396.4h0M248.6 428.4h0M391.2 366.9h0M466.0 329.1h0M507.8 407.5h0M517.0 359.8h0M448.6 473.4h0M253.8 648.2h0M517.5 369.3h0M460.8 463.8h0M487.1 438.8h0M431.2 347.3h0M362.3 384.3h0M412.3 355.7h0M253.8 648.0h0M246.8 429.9h0M264.7 417.7h0M491.7 433.1h0M161.6 533.0h0M240.5 657.0h0M330.0 392.9h0M214.5 663.8h0M198.3 665.0h0M273.3 632.0h0M217.4 450.6h0M405.2 508.5h0M208.4 663.6h0M255.9 423.7h0M503.9 330.9h0M156.6 583.6h0M160.1 649.2h0M292.6 617.1h0M386.6 370.3h0M326.3 592.5h0M359.9 386.0h0M218.0 663.0h0M230.7 660.7h0M206.9 457.6h0M298.1 612.9h0M189.8 666.0h0M453.0 336.9h0M157.1 579.9h0M497.0 425.1h0M193.6 665.0h0M290.0 404.3h0"/><path stroke="#1f9a8a" d="M159.0 564.4h0M258.3 643.4h0M191.6 665.2h0M491.1 324.6h0M221.8 448.4h0M173.3 488.1h0M341.1 578.7h0M436.5 346.3h0M211.5 661.8h0M236.6 438.1h0M413.7 356.5h0M511.5 346.1h0M393.4 520.4h0M265.6 637.0h0M504.6 411.7h0M155.2 610.9h0M249.1 649.7h0M184.6 665.9h0M361.1 557.4h0M200.9 662.5h0M516.0 364.4h0M464.1 459.1h0M355.2 563.8h0M450.1 470.2h0M333.1 585.8h0M238.1 437.2h0M162.6 532.7h0M155.6 603.6h0M164.7 512.3h0M469.5 329.7h0M301.3 400.5h0M444.3 474.2h0M346.1 573.1h0M179.7 665.4h0M168.6 661.1h0M496.8 327.6h0M172.9 663.9h0M320.9 395.9h0M506.7 338.3h0M382.7 531.9h0M227.8 445.0h0M490.6 325.9h0M155.9 604.4h0M455.9 464.8h0M219.2 659.6h0M157.9 580.6h0M402.2 363.0h0M162.3 542.6h0M163.0 534.4h0M223.0 659.0h0M246.1 650.2h0M513.7 356.8h0M160.6 645.1h0M499.0 419.7h0M390.2 522.6h0M412.0 358.6h0M512.3 352.3h0M493.3 427.8h0M383.6 374.5h0M304.7 400.2h0M179.8 664.2h0M347.1 571.1h0M508.6 400.2h0M501.4 332.5h0M163.9 652.6h0M261.8 638.1h0M450.1 341.2h0M240.9 652.5h0M214.4 658.3h0M263.0 637.1h0M262.1 421.4h0M332.0 395.8h0M410.8 499.7h0M495.2 424.7h0M505.9 406.3h0M509.0 398.7h0M509.9 396.0h0M500.4 332.0h0M158.6 578.4h0M181.0 663.5h0M204.8 658.4h0M168.1 657.9h0M160.0 568.0h0M401.3 509.1h0M165.8 512.8h0M276.9 625.6h0M354.7 391.4h0M513.1 359.3h0M502.5 412.2h0M166.7 509.2h0M174.8 489.2h0M464.1 334.3h0"/><path stroke="#1f9e89" d="M423.2 487.7h0M283.1 620.5h0M447.2 343.9h0M443.6 345.9h0M357.0 390.8h0M290.0 406.5h0M237.9 652.5h0M359.6 556.8h0M350.3 566.8h0M491.9 427.9h0M348.4 394.2h0M310.8 600.8h0M185.7 476.3h0M277.5 412.9h0M157.0 619.2h0M179.3 662.2h0M373.1 541.1h0M495.1 329.8h0M166.4 512.0h0M242.0 436.3h0M304.5 605.0h0M496.1 421.7h0M485.0 328.2h0M485.5 328.2h0M375.1 381.4h0M157.8 625.0h0M222.3 655.2h0M166.2 653.0h0M288.6 615.9h0M452.6 464.5h0M332.2 397.5h0M364.0 551.2h0M219.1 655.1h0M474.8 330.7h0M212.4 457.5h0M164.9 529.3h0M173.7 659.9h0M186.2 660.8h0M181.0 482.0h0M239.8 650.3h0M181.0 661.2h0M359.2 556.4h0M316.6 595.8h0M165.2 526.6h0M211.8 654.9h0M158.3 626.6h0M178.9 484.8h0M476.4 330.5h0M468.0 451.1h0M201.5 656.5h0M505.2 342.3h0M509.8 391.4h0M455.8 340.3h0M342.6 573.6h0M194.7 658.2h0M508.5 349.9h0M352.5 563.4h0M512.1 363.6h0M487.4 431.6h0M430.6 354.0h0M299.3 403.9h0M225.5 449.1h0M178.8 660.2h0M504.5 342.3h0M319.0 593.4h0M412.0 361.7h0M234.6 651.1h0M169.3 504.6h0M470.2 448.2h0M314.6 400.4h0M221.9 653.0h0M288.3 408.6h0M270.5 628.1h0M502.2 339.1h0M205.2 654.2h0M506.9 348.0h0M511.2 362.2h0M485.1 433.4h0M417.0 490.4h0M264.8 421.7h0M226.9 652.2h0M371.5 541.4h0M508.8 353.5h0M293.6 406.6h0M163.3 643.3h0M199.2 467.4h0M337.0 398.8h0M270.4 418.4h0M362.0 552.1h0M499.0 414.5h0M511.2 365.3h0M191.1 473.7h0M462.6 337.9h0M420.4 486.9h0M442.2 470.1h0M334.3 580.1h0M181.6 483.2h0M332.6 581.5h0M450.4 463.7h0M293.3 610.6h0M415.5 361.4h0M201.1 466.6h0M475.6 442.0h0"/><path stroke="#1fa187" d="M168.6 652.0h0M485.9 330.8h0M404.3 502.2h0M235.2 443.1h0M510.3 363.4h0M489.8 426.7h0M493.4 332.8h0M247.0 643.5h0M186.8 657.5h0M227.5 448.9h0M408.5 364.7h0M457.6 457.3h0M374.6 384.1h0M165.0 543.7h0M189.0 476.3h0M229.9 649.8h0M287.2 410.1h0M419.6 360.3h0M359.8 553.7h0M437.8 472.6h0M162.9 561.2h0M389.0 519.5h0M399.0 507.5h0M180.7 657.5h0M160.2 585.7h0M161.5 573.4h0M185.4 480.0h0M433.0 355.4h0M389.3 518.9h0M161.2 576.7h0M441.5 351.4h0M437.8 353.3h0M503.5 345.4h0M169.4 509.3h0M248.3 641.9h0M220.6 454.2h0M501.0 341.2h0M408.0 497.0h0M509.4 363.9h0M506.3 352.3h0M458.2 342.0h0M504.9 399.4h0M388.6 519.3h0M353.4 396.3h0M230.7 648.6h0M503.3 345.6h0M268.3 420.8h0M330.2 401.2h0M324.4 401.5h0M438.5 353.4h0M442.4 351.4h0M509.8 369.0h0M179.8 656.5h0M455.3 344.0h0M310.0 403.2h0M509.3 381.2h0M410.0 365.0h0M501.6 406.6h0M176.4 655.6h0M243.1 438.3h0M168.8 649.3h0M402.3 502.6h0M165.7 643.6h0M507.8 388.7h0M184.7 481.6h0M171.5 652.3h0M299.1 406.2h0M509.4 378.4h0M159.3 605.2h0M161.3 579.5h0M483.3 432.2h0M172.9 500.0h0M466.3 448.3h0M343.1 400.2h0M508.0 360.7h0M438.0 471.0h0M165.4 642.5h0M479.3 333.5h0M472.5 335.6h0M163.8 638.1h0M432.0 475.3h0M399.6 505.3h0M185.7 655.3h0M209.2 648.7h0M207.8 649.0h0M227.0 450.5h0M229.9 647.3h0M292.2 409.0h0M496.7 414.4h0M159.9 617.4h0M361.5 550.5h0M200.6 650.6h0M162.0 576.1h0M192.4 653.3h0M159.8 601.7h0M407.7 495.8h0M190.0 653.9h0M352.6 397.7h0M320.9 402.7h0M329.4 402.3h0M484.5 430.2h0M343.4 400.7h0M318.1 402.9h0M195.4 652.0h0M258.4 428.0h0M508.8 371.1h0M273.0 622.7h0M194.0 474.0h0M188.2 479.1h0M386.7 378.3h0M505.1 394.7h0M306.3 405.1h0M191.8 652.7h0M160.3 597.0h0M483.6 333.9h0M298.1 604.9h0M402.8 500.6h0M165.1 554.5h0M494.4 337.2h0M252.0 432.8h0M192.5 475.6h0M302.3 406.3h0M219.1 456.9h0M434.0 472.5h0M365.4 392.0h0"/><path stroke="#21a585" d="M360.4 550.9h0M386.7 378.7h0M160.2 606.1h0M280.7 616.4h0M410.4 491.8h0M282.0 615.5h0M242.5 641.8h0M460.5 451.3h0M480.5 432.9h0M293.1 409.6h0M496.8 412.1h0M197.5 472.1h0M503.9 396.4h0M415.3 486.8h0M280.6 415.3h0M286.0 612.5h0M472.4 337.4h0M415.8 364.8h0M163.2 631.7h0M436.6 470.0h0M490.6 336.2h0M500.0 345.5h0M256.1 430.4h0M215.1 460.2h0M267.3 423.0h0M427.5 476.6h0M481.9 335.2h0M437.8 356.6h0M229.3 644.4h0M249.9 637.2h0M368.2 541.4h0M167.3 641.4h0M438.2 356.6h0M305.9 598.5h0M487.2 335.7h0M174.5 500.6h0M177.4 651.7h0M479.1 433.4h0M163.4 630.6h0M184.7 484.3h0M161.1 597.3h0M371.3 389.3h0M223.4 644.0h0M302.8 600.5h0M247.4 638.2h0M212.8 644.3h0M343.9 402.6h0M181.2 652.1h0M451.4 349.6h0M161.5 619.9h0M506.5 381.2h0M271.3 622.1h0M420.4 481.4h0M325.0 584.1h0M168.5 533.2h0M161.6 619.9h0M221.9 643.4h0M466.8 340.9h0M172.9 506.0h0M471.6 338.7h0M505.8 365.6h0M400.4 501.3h0M193.3 649.5h0M161.1 612.1h0M339.6 403.8h0M390.1 377.9h0M319.8 588.0h0M283.9 612.8h0M503.6 357.9h0M166.7 638.2h0M168.2 641.1h0M407.3 493.1h0M331.6 578.2h0M411.0 489.1h0M252.0 634.7h0M499.4 404.3h0M497.6 408.0h0M230.9 642.3h0M393.7 376.2h0M438.9 466.5h0M450.1 351.3h0M238.6 444.2h0M205.0 644.4h0M455.1 348.3h0M451.1 456.9h0M397.9 503.7h0M246.5 637.3h0M441.3 464.5h0M489.0 420.8h0M447.0 460.0h0M306.1 597.2h0M362.2 547.0h0M495.0 411.5h0M217.7 641.4h0M203.5 644.2h0M200.2 472.0h0M448.7 458.3h0M467.5 442.1h0M500.9 353.6h0M440.9 464.3h0M504.6 384.6h0M393.8 376.9h0M337.2 405.4h0M223.6 641.0h0M504.3 385.4h0M503.9 364.8h0M364.4 395.0h0M295.9 410.4h0M290.5 412.4h0M205.3 468.7h0M235.9 639.9h0M326.6 406.2h0M249.9 634.4h0M504.7 379.1h0M429.9 362.6h0M332.4 406.2h0M460.0 346.4h0M181.4 649.1h0"/><path stroke="#23a983" d="M427.1 363.7h0M427.2 473.7h0M185.9 485.3h0M162.2 599.6h0M351.1 402.2h0M431.8 362.1h0M173.3 509.5h0M288.2 608.3h0M444.1 356.3h0M425.8 364.4h0M220.9 639.7h0M489.0 339.7h0M174.0 507.5h0M165.7 565.8h0M193.4 478.3h0M407.5 371.0h0M164.7 627.5h0M486.9 339.2h0M171.3 521.6h0M184.1 648.3h0M391.6 510.0h0M496.3 346.9h0M235.0 638.9h0M351.7 402.3h0M322.4 584.1h0M306.5 408.3h0M184.2 648.0h0M248.3 438.2h0M179.8 494.7h0M443.9 460.6h0M470.3 437.9h0M239.7 637.4h0M502.6 388.5h0M444.1 460.3h0M447.2 355.3h0M291.5 605.5h0M278.7 418.8h0M494.8 408.8h0M503.5 376.3h0M407.2 490.0h0M185.4 487.0h0M482.8 339.4h0M295.5 602.7h0M483.4 339.6h0M231.5 638.1h0M216.9 638.0h0M459.6 446.8h0M243.1 635.6h0M176.5 645.1h0M266.3 622.2h0M481.6 426.1h0M166.3 630.0h0M409.9 371.0h0M444.6 459.2h0M398.0 500.6h0M309.9 408.5h0M480.2 340.0h0M468.2 343.7h0M501.2 363.7h0M317.6 408.0h0M168.3 551.6h0M262.1 624.7h0M500.9 391.8h0M275.4 615.6h0M222.8 637.1h0M501.9 386.7h0M450.4 454.1h0M300.1 599.1h0M202.6 640.5h0M393.1 506.6h0M177.4 644.7h0M237.2 447.3h0M463.2 346.7h0M256.2 628.2h0M501.6 367.8h0M435.7 362.4h0M469.5 437.1h0M187.7 485.4h0M168.6 551.4h0M301.3 410.5h0M178.1 644.6h0M481.7 340.8h0M228.4 636.3h0M363.4 543.4h0M404.1 492.0h0M449.8 454.0h0M445.9 457.2h0M303.7 410.2h0M501.9 378.9h0M179.9 496.9h0M214.1 636.1h0M291.0 604.6h0M351.4 556.4h0M394.3 504.2h0M354.4 402.8h0M232.0 635.7h0M393.6 505.0h0M226.4 635.5h0M491.1 345.0h0M417.0 369.8h0M164.7 585.6h0M239.6 446.1h0M168.3 631.6h0M478.9 341.7h0M350.1 404.9h0M438.9 361.9h0M165.1 581.8h0M429.0 469.1h0M489.1 414.6h0M474.9 342.6h0M195.3 641.8h0M468.5 345.0h0M173.3 519.5h0M173.2 639.4h0M198.0 640.6h0M295.7 412.8h0M297.1 600.2h0M274.0 422.6h0M409.8 484.6h0M411.3 372.0h0M170.6 635.6h0M385.7 384.4h0M165.5 579.8h0"/><path stroke="#26ad81" d="M177.0 504.9h0M479.5 342.1h0M171.3 536.3h0M253.0 436.4h0M220.9 460.5h0M497.2 357.5h0M184.6 643.7h0M383.2 518.0h0M250.0 629.7h0M189.0 642.9h0M169.6 632.7h0M498.8 392.3h0M300.7 597.4h0M387.1 512.8h0M247.2 630.8h0M178.8 642.4h0M169.9 548.5h0M164.5 611.8h0M499.2 390.0h0M499.6 369.6h0M364.3 398.3h0M303.4 595.5h0M310.7 590.5h0M431.9 465.9h0M170.6 544.1h0M474.5 343.8h0M384.5 385.7h0M252.6 437.0h0M200.4 638.1h0M467.9 346.3h0M337.3 409.6h0M227.7 633.1h0M231.8 452.9h0M465.2 347.9h0M495.3 400.7h0M187.1 642.2h0M382.0 518.9h0M168.9 557.5h0M396.4 499.4h0M166.2 620.9h0M190.0 485.3h0M428.7 367.7h0M180.5 498.7h0M372.7 393.6h0M186.0 642.1h0M167.8 566.2h0M318.8 410.6h0M167.5 624.9h0M483.7 419.1h0M172.8 635.8h0M222.8 631.8h0M270.3 616.1h0M348.3 558.1h0M497.0 362.7h0M359.4 401.9h0M424.5 470.1h0M493.4 353.0h0M334.9 570.8h0M236.9 449.4h0M475.5 344.6h0M191.3 484.5h0M183.9 641.5h0M175.1 516.6h0M400.6 493.0h0M497.7 367.5h0M491.4 407.3h0M235.8 631.6h0M277.0 611.4h0M241.9 445.8h0M441.7 457.3h0M169.0 560.0h0M480.3 422.1h0M366.9 397.7h0M401.9 491.0h0M211.4 631.8h0M305.7 592.8h0M456.7 444.5h0M303.6 594.2h0M215.0 466.3h0M221.5 461.6h0M483.3 418.2h0M265.6 618.4h0M254.9 624.7h0M255.2 436.1h0M309.0 411.7h0M252.5 626.0h0M175.6 637.1h0M176.2 513.2h0M198.6 478.6h0M496.0 363.5h0M249.4 627.3h0M432.8 463.2h0M474.2 345.7h0M282.8 607.2h0M493.2 402.1h0M320.7 411.6h0M497.8 378.2h0M432.9 463.0h0M166.1 587.8h0M241.8 629.5h0M465.3 436.0h0M495.1 396.0h0M171.7 544.8h0M242.3 629.2h0M497.4 383.0h0M197.8 479.6h0M386.9 510.8h0M168.7 624.9h0M199.6 635.1h0M252.7 625.0h0M184.9 639.4h0M319.1 582.7h0M485.4 414.0h0M174.1 528.6h0M167.7 620.7h0M435.9 460.3h0M496.5 387.8h0M237.7 629.2h0M178.2 508.0h0M330.2 573.8h0M493.3 399.5h0M423.2 371.6h0M170.1 557.3h0M484.3 415.3h0M199.7 478.4h0M410.1 375.5h0M486.2 412.4h0M197.4 635.4h0M263.7 618.3h0M200.4 478.0h0M173.9 531.6h0M205.3 474.2h0M186.8 491.6h0M208.9 630.4h0M167.1 616.7h0M245.6 627.2h0M496.0 372.4h0M171.4 549.5h0"/><path stroke="#2ab07f" d="M440.5 456.4h0M390.2 384.4h0M342.3 410.9h0M290.2 417.1h0M332.9 412.7h0M364.7 400.4h0M492.4 400.1h0M381.1 517.8h0M491.3 355.3h0M186.5 492.4h0M495.1 368.7h0M418.6 471.4h0M339.7 411.8h0M179.3 506.3h0M284.4 419.7h0M472.2 427.7h0M242.1 627.4h0M374.4 526.5h0M201.3 632.8h0M492.3 358.6h0M495.2 388.9h0M181.4 501.5h0M181.2 637.3h0M166.4 605.0h0M250.3 440.8h0M187.4 637.5h0M458.3 440.5h0M297.4 596.7h0M437.0 458.1h0M384.9 512.1h0M490.8 402.4h0M411.4 375.9h0M481.6 347.6h0M447.2 450.1h0M224.5 460.8h0M424.8 466.4h0M277.0 609.1h0M435.8 368.4h0M258.3 620.4h0M470.3 349.2h0M252.8 439.1h0M276.5 609.3h0M333.6 570.0h0M488.8 352.8h0M187.2 492.1h0M329.4 573.6h0M329.5 413.6h0M309.4 413.4h0M202.0 631.5h0M292.4 417.0h0M358.5 544.9h0M393.8 498.6h0M177.9 513.1h0M390.9 384.9h0M458.9 355.4h0M483.1 414.2h0M234.1 626.3h0M464.9 433.7h0M174.4 631.3h0M362.8 539.9h0M356.6 547.0h0M427.9 463.5h0M187.8 492.1h0M369.4 531.9h0M195.3 633.8h0M235.5 625.9h0M461.3 354.3h0M170.9 624.8h0M490.7 358.6h0M479.6 417.9h0M175.2 529.8h0M447.7 448.6h0M235.0 625.5h0M187.9 635.7h0M222.4 463.1h0M235.8 625.3h0M168.2 614.5h0M288.5 601.1h0M479.9 349.1h0M244.2 446.2h0M333.7 569.2h0M376.4 394.2h0M442.5 366.3h0M170.3 622.1h0M284.7 603.3h0M486.5 352.9h0M421.7 374.5h0M217.9 466.8h0M229.8 623.9h0M205.7 627.9h0M176.6 523.6h0M175.1 630.1h0M175.3 532.7h0M428.2 462.1h0M415.9 470.6h0M258.9 618.2h0M270.5 428.2h0M438.2 369.0h0M289.9 418.7h0M345.8 411.8h0M481.6 350.4h0M477.4 418.8h0M407.5 378.8h0M426.0 463.3h0M271.1 610.9h0M488.2 402.4h0M254.3 620.0h0M270.6 428.3h0M303.3 415.4h0M185.3 634.3h0M192.0 633.0h0M303.3 415.5h0M442.5 451.3h0M246.4 622.4h0M322.0 578.1h0M444.1 366.5h0M173.0 550.6h0M405.2 480.1h0M425.0 463.3h0M477.7 350.6h0M416.4 469.2h0M476.3 350.6h0M235.2 622.8h0M266.7 430.9h0M415.2 377.1h0M310.8 586.2h0M295.4 596.0h0M193.8 486.9h0M476.1 419.2h0M168.5 587.0h0M246.0 622.0h0M192.7 488.3h0M347.2 411.9h0M345.9 412.4h0M445.4 366.2h0M362.3 404.2h0M178.7 516.5h0M168.4 590.9h0M482.1 352.3h0M171.8 622.1h0M168.2 603.4h0"/><path stroke="#2fb47c" d="M383.2 391.1h0M484.4 354.1h0M345.0 557.7h0M435.4 455.7h0M486.6 402.6h0M179.7 513.3h0M489.4 394.6h0M421.1 464.8h0M316.2 582.0h0M171.0 619.5h0M482.2 352.9h0M490.8 375.6h0M349.6 552.8h0M227.6 620.5h0M182.6 504.8h0M481.7 410.7h0M218.3 467.7h0M193.3 488.3h0M369.2 530.3h0M252.6 618.9h0M172.1 621.7h0M475.2 352.0h0M185.3 632.2h0M208.6 623.7h0M196.6 629.2h0M179.7 514.8h0M240.8 620.9h0M266.3 611.9h0M465.3 428.8h0M482.7 408.2h0M394.1 385.7h0M264.1 612.9h0M327.6 416.6h0M173.4 623.3h0M191.5 490.9h0M220.3 619.4h0M488.2 394.7h0M372.4 398.5h0M168.8 595.1h0M221.0 619.2h0M204.0 625.1h0M315.2 416.2h0M325.7 416.7h0M246.9 619.5h0M172.8 557.8h0M459.6 433.9h0M301.5 591.1h0M216.4 619.8h0M267.8 610.5h0M180.3 513.8h0M172.5 620.8h0M480.7 410.1h0M440.9 450.2h0M286.7 599.8h0M397.9 487.2h0M417.6 465.6h0M451.5 441.3h0M399.6 383.6h0M445.0 368.1h0M225.1 618.2h0M216.6 469.9h0M345.7 556.1h0M369.1 529.7h0M177.1 531.8h0M481.0 354.9h0M486.4 397.4h0M250.1 618.0h0M410.0 380.3h0M169.5 606.2h0M465.7 427.0h0M481.8 407.2h0M236.7 618.8h0M194.7 628.5h0M366.6 532.7h0M460.8 358.9h0M457.5 360.8h0M450.0 441.9h0M488.4 377.3h0M214.0 472.1h0M286.4 421.9h0M209.7 621.0h0M420.6 378.2h0M486.4 364.2h0M425.7 459.3h0M279.9 602.9h0M439.6 450.1h0M485.9 396.8h0M217.2 618.1h0M230.7 617.2h0M487.1 392.1h0M409.1 381.0h0M178.5 627.2h0M244.0 618.2h0M465.8 426.1h0M173.9 554.0h0M427.7 457.8h0M262.0 612.4h0M187.0 629.6h0M265.9 610.2h0M170.7 611.6h0M384.9 506.8h0M422.5 460.6h0M192.5 491.4h0M480.1 356.1h0M463.0 358.5h0M487.4 383.3h0M233.3 616.6h0M401.4 383.8h0M449.9 441.0h0M265.5 433.4h0M178.5 527.3h0M400.2 481.4h0M485.2 363.8h0M227.9 461.8h0M296.7 592.9h0M470.1 420.4h0M181.6 513.1h0M453.7 437.2h0M291.0 420.7h0M483.9 398.9h0M175.1 549.1h0M179.2 524.2h0M390.8 496.5h0M171.1 611.7h0M480.1 406.7h0M173.3 618.7h0M409.0 381.7h0M172.3 615.8h0M431.8 454.2h0M258.9 612.8h0M484.1 362.2h0M171.8 571.7h0M485.1 394.1h0M212.0 474.5h0M274.0 428.6h0M481.3 403.9h0M406.4 472.4h0M486.1 386.2h0M203.0 481.8h0M390.7 389.1h0M254.4 614.2h0M402.2 384.1h0M450.5 439.4h0M257.3 439.3h0M170.2 594.1h0M480.5 358.3h0M183.9 627.8h0M422.6 379.3h0M253.7 614.2h0M243.9 615.8h0M458.9 361.9h0M186.1 502.5h0M414.4 381.1h0M331.6 567.8h0M449.7 439.7h0M388.3 499.7h0M170.6 602.8h0M471.2 417.4h0M232.4 458.8h0"/><path stroke="#35b779" d="M171.1 582.7h0M485.2 384.1h0M229.9 613.7h0M191.2 494.7h0M182.6 626.6h0M483.4 394.7h0M310.0 418.2h0M227.9 613.4h0M231.0 613.5h0M410.3 466.8h0M431.0 377.7h0M413.2 381.8h0M463.5 360.1h0M342.5 416.6h0M379.7 396.0h0M465.1 359.4h0M173.3 565.5h0M404.1 384.2h0M341.2 558.7h0M261.7 610.0h0M392.9 491.0h0M419.0 459.6h0M262.3 609.5h0M478.5 359.2h0M226.5 612.6h0M400.2 385.7h0M375.4 519.1h0M468.8 418.8h0M407.5 468.7h0M193.4 492.5h0M483.9 371.3h0M462.5 425.7h0M218.6 613.6h0M247.8 613.5h0M284.5 598.2h0M404.4 472.0h0M344.2 416.5h0M427.7 379.5h0M255.7 441.2h0M472.0 358.3h0M260.1 610.0h0M226.0 612.1h0M183.0 512.8h0M237.9 612.9h0M390.3 494.9h0M432.4 378.1h0M413.5 382.4h0M479.5 401.5h0M481.7 364.6h0M260.3 609.7h0M171.8 582.3h0M290.7 422.1h0M376.2 398.8h0M447.2 439.9h0M175.1 556.7h0M222.4 611.8h0M435.0 449.0h0M224.2 466.5h0M422.5 456.1h0M211.8 615.2h0M315.8 579.1h0M283.9 424.8h0M181.1 623.8h0M362.0 407.9h0M223.3 611.2h0M233.4 611.1h0M368.8 403.7h0M370.9 402.4h0M425.4 454.3h0M355.9 542.9h0M172.0 583.1h0M289.4 422.8h0M477.6 403.3h0M398.7 478.8h0M453.4 433.5h0M299.5 420.1h0M171.9 585.2h0M404.8 385.0h0M482.7 379.2h0M388.5 497.0h0M264.0 607.4h0M476.5 405.0h0M473.2 410.4h0M305.9 585.4h0M474.9 407.6h0M330.0 567.8h0M318.5 576.8h0M178.9 536.3h0M449.3 370.4h0M440.7 444.0h0M172.5 580.7h0M283.8 597.5h0M199.7 487.1h0M479.2 364.0h0M259.3 439.3h0M226.5 465.1h0M434.9 447.9h0M228.4 609.6h0M424.5 381.7h0M238.2 610.4h0M285.1 596.7h0M474.2 407.2h0M218.0 472.1h0M173.3 609.5h0M478.6 397.4h0M265.4 605.9h0M178.9 538.0h0M411.0 461.6h0M421.5 382.7h0M213.3 476.0h0M300.9 420.5h0M262.5 437.4h0M428.8 450.7h0M398.9 476.3h0M475.0 362.0h0M200.7 486.8h0M178.7 619.7h0M260.0 607.6h0M282.6 597.5h0M231.9 608.6h0M352.6 414.1h0M411.0 460.9h0M294.1 591.5h0M353.4 544.8h0M436.0 445.8h0M448.5 372.2h0M382.5 505.9h0M192.7 622.0h0M408.6 385.2h0M210.1 613.6h0M328.1 421.2h0M413.6 458.4h0M223.8 468.0h0M241.1 608.6h0M396.9 389.1h0M412.9 458.4h0M465.1 417.6h0M387.4 496.7h0M433.9 380.5h0M473.5 363.1h0M192.8 621.3h0M423.6 383.5h0M172.8 591.1h0M462.2 420.6h0M358.9 411.1h0M284.1 425.9h0M472.3 363.3h0M462.6 420.0h0M209.1 480.4h0M258.2 606.5h0M376.2 515.1h0M392.7 391.3h0"/><path stroke="#3bbb75" d="M312.3 421.0h0M326.4 569.6h0M393.2 484.3h0M467.5 413.0h0M279.1 598.0h0M407.5 461.9h0M260.3 439.6h0M335.8 421.0h0M303.1 585.7h0M177.8 616.2h0M327.2 421.9h0M299.8 421.6h0M245.0 607.3h0M177.0 614.5h0M220.9 607.5h0M262.2 438.5h0M233.1 605.9h0M469.5 409.0h0M427.0 448.6h0M308.0 421.2h0M397.5 389.6h0M258.6 605.6h0M294.2 590.4h0M457.8 368.5h0M292.0 423.6h0M467.0 364.8h0M390.0 393.0h0M477.8 380.6h0M225.9 605.8h0M471.8 365.1h0M173.8 582.2h0M179.1 543.9h0M425.9 448.4h0M387.1 394.6h0M453.4 428.4h0M214.3 476.9h0M470.7 405.0h0M267.8 602.0h0M443.8 437.0h0M182.5 619.0h0M413.7 454.3h0M475.3 391.8h0M430.4 445.6h0M409.2 387.0h0M424.2 448.3h0M307.1 582.5h0M233.2 461.5h0M194.8 495.9h0M467.3 366.0h0M187.1 510.3h0M376.9 512.9h0M248.9 448.7h0M301.6 585.7h0M232.8 461.9h0M297.4 422.8h0M238.2 457.4h0M210.8 480.2h0M263.3 438.3h0M173.9 590.7h0M176.1 609.1h0M458.0 369.8h0M224.6 604.5h0M323.1 571.2h0M199.2 615.9h0M459.0 369.4h0M436.5 440.9h0M431.9 443.5h0M177.3 557.8h0M387.3 493.3h0M174.5 600.3h0M193.1 618.2h0M255.7 604.2h0M435.9 441.1h0M474.5 371.6h0M319.4 573.9h0M431.4 443.6h0M332.4 422.7h0M230.2 603.2h0M406.2 459.3h0M264.6 601.8h0M472.1 396.6h0M180.4 541.0h0M378.7 400.3h0M182.6 529.3h0M259.0 603.1h0M392.5 481.8h0M386.6 494.4h0M430.3 443.5h0M396.5 473.3h0M434.6 440.9h0M191.2 502.9h0M399.8 467.2h0M336.6 422.3h0M398.2 469.9h0M429.6 443.3h0M175.7 572.4h0M472.2 370.5h0M436.0 439.8h0M212.7 607.6h0M473.8 386.5h0M374.9 514.8h0M463.9 368.9h0M394.2 392.5h0M200.2 614.2h0M331.1 564.3h0M240.0 602.5h0M458.9 418.2h0M421.6 446.0h0M473.5 375.3h0M471.9 392.8h0M465.1 408.5h0M441.8 435.1h0M473.5 376.0h0M389.1 487.8h0M290.5 425.3h0M176.1 605.1h0M281.5 594.4h0M258.3 602.1h0M469.3 369.9h0M450.3 376.1h0M468.9 369.8h0M330.5 423.7h0M448.2 429.2h0M424.5 444.0h0M220.9 603.4h0M179.3 612.3h0M376.9 402.1h0M436.4 438.0h0M468.5 370.4h0M408.9 389.0h0M181.1 540.6h0M245.9 602.0h0M448.0 378.0h0M429.6 386.9h0M455.4 373.8h0M422.3 388.3h0M472.4 378.6h0M237.0 600.7h0M414.5 388.8h0M285.2 592.3h0M437.9 384.0h0M452.7 375.6h0M465.6 370.8h0M452.7 423.3h0M462.9 409.5h0M181.4 613.8h0M406.6 389.7h0M438.5 435.8h0M408.0 453.6h0M433.8 386.0h0M414.1 448.0h0M457.0 417.8h0M325.8 568.0h0M194.5 615.1h0M457.7 416.8h0M230.7 465.0h0M181.8 538.6h0M203.5 610.9h0M191.3 504.9h0M471.0 388.5h0M381.2 502.9h0M431.8 386.9h0M186.0 615.9h0M185.4 521.8h0M380.5 400.2h0M456.9 373.9h0M439.1 434.8h0M427.2 440.8h0M430.3 439.5h0M248.3 600.9h0M209.4 483.5h0M371.4 406.0h0M412.4 448.4h0M439.3 434.2h0M456.0 418.0h0"/><path stroke="#42be71" d="M176.1 599.3h0M290.3 426.1h0M311.3 578.0h0M184.0 614.4h0M231.5 599.4h0M420.3 442.7h0M470.6 380.6h0M254.8 600.3h0M304.0 582.4h0M188.3 513.3h0M210.1 606.3h0M448.3 425.8h0M359.4 413.7h0M342.0 553.4h0M334.9 424.1h0M415.4 444.9h0M382.1 500.1h0M385.3 493.3h0M438.1 433.9h0M231.3 598.9h0M177.3 569.1h0M442.3 430.7h0M302.8 582.8h0M462.1 373.7h0M469.6 384.5h0M393.2 474.3h0M417.6 390.4h0M435.7 434.5h0M452.5 378.0h0M194.9 500.4h0M460.6 374.8h0M389.6 482.2h0M273.2 595.3h0M232.9 597.9h0M205.1 608.2h0M192.7 504.3h0M385.7 491.3h0M447.0 425.1h0M198.1 611.7h0M447.6 381.3h0M240.0 597.9h0M465.4 397.0h0M266.7 596.9h0M181.4 546.0h0M430.6 389.8h0M216.0 602.1h0M177.8 602.6h0M462.5 403.0h0M200.6 610.2h0M459.4 376.1h0M427.3 436.4h0M286.1 590.2h0M195.3 612.4h0M467.7 381.8h0M442.3 428.3h0M316.7 573.6h0M183.5 611.8h0M419.6 439.3h0M466.7 389.5h0M466.0 378.4h0M466.3 390.9h0M460.9 404.8h0M466.7 388.6h0M449.2 421.2h0M316.5 425.3h0M414.4 442.4h0M449.0 381.7h0M197.5 497.9h0M282.1 430.1h0M385.5 398.9h0M248.1 597.5h0M395.7 394.4h0M437.5 430.4h0M180.6 552.6h0M194.2 503.0h0M460.5 404.3h0M195.1 501.6h0M340.3 423.6h0M460.5 404.1h0M177.2 595.6h0M456.2 378.6h0M413.6 442.3h0M437.5 429.9h0M408.8 392.0h0M357.6 535.7h0M284.8 590.1h0M325.3 426.1h0M187.1 521.8h0M465.1 381.9h0M440.0 427.5h0M425.6 392.6h0M461.9 378.8h0M386.6 486.4h0M419.9 392.9h0M213.2 601.9h0M455.6 410.4h0M237.4 461.0h0M390.0 477.7h0M177.3 588.7h0M464.1 382.1h0M406.5 448.4h0M340.3 424.1h0M451.8 414.7h0M376.9 404.3h0M299.0 425.8h0M461.7 380.8h0M441.3 388.1h0M178.4 572.6h0M287.3 428.6h0M293.6 585.7h0M178.6 598.8h0M436.1 391.3h0M213.5 600.9h0M443.8 422.1h0M390.5 397.4h0M410.6 393.2h0M462.7 386.1h0M420.0 434.2h0M442.5 422.6h0M450.6 414.2h0M461.0 383.1h0M395.6 463.8h0M307.1 578.6h0M414.5 393.8h0M216.8 598.7h0M440.2 423.3h0M450.1 413.9h0M222.3 596.2h0M179.9 563.5h0M429.2 394.6h0M384.2 490.1h0M411.5 440.5h0M459.3 383.7h0M460.2 394.5h0M418.2 434.1h0M194.3 505.4h0M453.0 384.2h0M436.7 392.4h0M219.2 597.2h0M216.7 598.4h0M187.1 609.8h0M393.7 396.6h0M425.6 395.3h0M460.3 385.9h0M408.3 393.9h0M435.6 393.0h0M454.5 406.5h0M277.4 433.3h0M398.7 457.3h0M422.0 431.1h0M199.5 497.6h0M397.7 395.4h0M332.4 560.2h0M440.0 422.1h0M459.6 385.8h0M254.3 594.6h0M178.8 575.0h0M281.8 589.5h0M415.8 394.8h0M204.1 604.9h0M185.3 534.7h0M328.5 427.2h0M309.5 576.7h0M307.5 577.9h0M242.5 457.6h0M320.2 569.7h0M204.2 492.4h0M190.5 515.2h0M365.4 524.3h0M350.1 543.0h0M429.4 425.7h0M377.9 404.7h0M456.4 399.8h0M378.0 404.6h0M416.9 433.4h0"/><path stroke="#4ac16d" d="M182.3 550.9h0M269.0 438.2h0M373.4 407.4h0M433.8 395.2h0M440.1 392.4h0M299.7 581.9h0M438.9 420.4h0M449.1 388.2h0M456.5 387.6h0M307.6 577.6h0M381.3 402.9h0M457.6 393.2h0M444.2 415.9h0M434.0 422.6h0M287.8 586.9h0M188.9 521.4h0M220.2 595.5h0M457.0 394.4h0M448.4 389.0h0M432.1 422.9h0M445.0 390.8h0M299.5 581.8h0M179.0 581.6h0M251.1 593.1h0M225.1 593.5h0M187.8 526.0h0M271.9 436.8h0M181.9 555.1h0M451.8 389.1h0M419.9 397.3h0M269.5 591.6h0M392.0 467.5h0M202.3 495.5h0M454.8 394.1h0M385.8 482.5h0M238.9 461.2h0M454.1 392.4h0M431.0 420.8h0M397.3 456.9h0M181.0 562.8h0M304.5 426.9h0M248.2 592.2h0M453.4 396.4h0M300.4 580.9h0M392.9 398.2h0M425.4 399.6h0M197.0 503.4h0M372.0 513.2h0M444.0 394.3h0M440.5 414.0h0M289.6 585.5h0M451.3 393.4h0M298.8 427.4h0M451.7 398.8h0M449.6 402.9h0M448.9 393.6h0M437.1 415.5h0M443.3 395.4h0M297.0 427.7h0M219.4 594.4h0M310.9 574.9h0M435.5 415.8h0M230.8 590.9h0M191.9 607.0h0M428.3 418.7h0M415.4 430.2h0M424.2 421.5h0M347.0 423.5h0M448.7 399.1h0M432.1 415.8h0M419.6 399.5h0M181.5 598.6h0M313.8 427.9h0M438.3 411.9h0M446.1 397.5h0M425.0 401.6h0M235.2 590.2h0M436.4 412.3h0M179.9 580.9h0M443.0 398.8h0M353.6 538.0h0M251.0 591.1h0M205.8 492.7h0M181.8 561.4h0M414.8 429.8h0M442.3 401.1h0M216.4 482.2h0M443.0 401.6h0M430.6 404.0h0M428.6 403.8h0M221.6 592.6h0M257.7 591.1h0M442.7 403.2h0M400.4 449.7h0M438.4 408.5h0M428.8 404.1h0M440.8 405.1h0M430.4 404.7h0M423.1 420.0h0M231.9 589.9h0M437.0 405.7h0M258.8 445.9h0M433.2 408.1h0M365.9 521.9h0M431.1 407.4h0M200.6 603.3h0M429.8 410.2h0M411.6 432.9h0M315.1 571.7h0M386.2 401.8h0M387.5 474.4h0M427.8 412.6h0M428.8 408.6h0M186.4 537.6h0M180.4 579.1h0M260.2 590.5h0M197.7 604.3h0M419.3 422.4h0M298.1 580.9h0M408.8 436.0h0M263.6 589.9h0M366.1 521.3h0M416.3 400.7h0M322.6 566.3h0M424.5 408.1h0M252.7 589.9h0M365.6 521.9h0M397.4 398.3h0M295.4 581.9h0M184.9 546.4h0M423.5 412.1h0M408.7 398.4h0M191.1 520.7h0M191.9 604.7h0M423.3 410.6h0M239.5 588.4h0M419.4 419.5h0M342.1 549.5h0M251.0 589.3h0M181.5 570.5h0M354.9 535.7h0M420.4 405.5h0M214.9 594.1h0M421.5 407.8h0M354.0 421.0h0M192.3 517.7h0M239.5 588.0h0M259.4 589.2h0M397.2 398.9h0M399.1 449.1h0M419.2 405.3h0M181.2 581.4h0M244.0 588.1h0M401.3 445.4h0M374.2 409.1h0M271.5 588.0h0M285.5 584.9h0M192.3 518.3h0M346.6 424.9h0M418.3 405.6h0M410.8 430.3h0M413.4 426.1h0M209.5 490.6h0M290.9 430.4h0M242.7 587.5h0M181.7 576.8h0M188.9 531.3h0M209.7 490.6h0M182.4 567.9h0M183.7 596.5h0M407.8 399.8h0M379.2 494.4h0M221.7 478.9h0M253.4 588.0h0M199.8 600.9h0M400.3 445.5h0"/><path stroke="#52c569" d="M406.2 435.9h0M183.6 595.0h0M365.4 415.0h0M374.1 505.7h0M255.7 587.7h0M184.1 596.1h0M238.1 586.2h0M183.5 594.1h0M193.6 516.7h0M369.0 515.1h0M381.9 485.1h0M222.2 478.7h0M355.9 533.5h0M279.5 585.3h0M407.1 400.6h0M416.2 408.1h0M206.9 596.5h0M329.9 430.2h0M359.2 529.2h0M332.8 557.0h0M416.3 411.3h0M197.6 508.2h0M185.9 548.6h0M405.7 400.7h0M212.2 593.0h0M270.8 586.2h0M184.6 556.9h0M202.3 598.3h0M324.1 563.8h0M182.9 572.6h0M332.6 556.9h0M275.5 585.4h0M387.9 466.9h0M378.8 492.9h0M245.7 585.7h0M394.5 401.3h0M304.5 429.7h0M259.4 586.5h0M315.2 430.4h0M195.1 600.5h0M409.4 403.0h0M240.9 585.0h0M394.3 453.5h0M389.6 402.9h0M407.9 430.0h0M189.0 535.6h0M189.9 531.7h0M363.3 523.1h0M210.7 593.0h0M376.9 497.4h0M412.1 406.5h0M211.8 490.0h0M391.6 402.6h0M200.6 597.9h0M300.7 577.3h0M199.5 598.2h0M199.7 598.1h0M227.4 584.8h0M183.5 582.4h0M231.6 583.9h0M401.8 401.7h0M393.5 402.3h0M184.0 567.9h0M183.7 584.7h0M363.0 523.0h0M412.2 417.3h0M412.2 410.0h0M348.4 541.1h0M387.7 465.0h0M190.2 598.2h0M367.0 516.6h0M357.3 421.1h0M350.2 539.0h0M188.4 541.2h0M201.8 503.5h0M185.0 561.3h0M307.1 430.6h0M380.9 482.7h0M238.9 582.8h0M366.9 516.4h0M184.9 587.6h0M185.1 563.3h0M198.3 597.1h0M184.2 574.8h0M410.3 418.8h0M193.7 597.7h0M355.7 532.1h0M194.3 520.4h0M399.6 402.7h0M191.5 597.0h0M238.4 582.3h0M315.9 431.7h0M404.1 432.4h0M239.3 464.5h0M410.4 416.1h0M408.9 407.8h0M188.5 543.5h0M407.8 424.6h0M219.6 483.5h0M216.6 486.5h0M347.2 426.8h0M260.6 584.0h0M320.7 432.1h0M362.9 418.4h0M184.9 583.3h0M248.7 583.0h0M186.6 554.7h0M199.3 509.4h0M369.5 511.1h0M384.9 406.5h0M268.6 442.3h0M374.9 498.6h0M336.8 551.7h0M399.1 403.8h0M365.2 417.4h0M385.3 467.1h0M209.7 494.8h0M405.6 406.5h0M217.0 585.9h0M189.8 540.2h0M250.4 582.4h0M187.7 551.2h0M338.3 550.2h0M202.6 593.6h0M187.4 590.6h0M190.6 536.7h0M186.0 563.2h0M351.9 536.0h0M255.4 582.7h0M201.5 593.8h0M393.8 449.2h0M205.3 592.0h0M368.8 511.5h0M207.4 590.8h0M307.1 572.5h0M215.4 488.7h0M405.3 426.5h0M325.3 560.9h0M207.2 590.6h0M402.2 405.4h0M313.6 432.4h0M185.6 576.7h0M298.2 431.9h0"/><path stroke="#5ac864" d="M372.4 413.5h0M215.5 585.7h0M376.0 493.6h0M248.1 581.1h0M273.3 440.2h0M393.0 405.1h0M191.8 593.5h0M334.3 553.3h0M212.9 492.0h0M186.1 575.5h0M320.7 563.9h0M187.0 560.9h0M407.1 415.4h0M240.2 579.6h0M393.3 448.5h0M199.3 592.7h0M189.2 589.5h0M382.6 470.9h0M361.7 420.4h0M186.9 581.3h0M336.4 431.9h0M201.5 508.5h0M405.5 421.8h0M277.5 580.5h0M220.8 581.9h0M244.3 579.6h0M400.1 434.9h0M189.9 589.8h0M397.7 405.9h0M195.3 592.7h0M279.7 580.0h0M196.4 592.6h0M199.2 513.8h0M231.9 473.0h0M328.8 557.4h0M296.1 576.2h0M369.4 508.6h0M348.2 539.2h0M391.0 451.3h0M206.0 588.4h0M188.4 583.5h0M194.1 529.6h0M292.7 433.7h0M218.1 581.8h0M189.5 551.3h0M378.5 480.7h0M206.9 587.6h0M192.2 537.5h0M187.5 571.6h0M373.9 495.9h0M382.0 410.1h0M263.5 447.1h0M334.8 433.1h0M256.8 579.6h0M192.3 538.0h0M220.0 580.2h0M373.7 495.9h0M293.4 576.1h0M222.1 579.2h0M367.9 417.8h0M344.9 542.0h0M303.5 433.2h0M299.3 433.3h0M390.9 449.7h0M194.1 589.1h0M231.9 576.5h0M391.4 448.5h0M195.4 589.2h0M197.9 589.4h0M364.2 516.6h0M367.0 418.5h0M250.8 578.3h0M191.9 586.6h0M229.2 576.5h0M277.8 578.4h0M397.5 435.7h0M401.0 427.4h0M358.1 423.8h0M288.6 435.4h0M400.3 411.1h0M313.0 434.4h0M367.2 510.6h0M306.0 433.9h0M356.0 528.3h0M230.7 575.5h0M212.4 582.3h0M380.1 472.1h0M309.4 434.1h0M348.0 538.1h0M286.8 576.5h0M305.4 570.7h0M206.8 584.9h0M241.3 575.5h0M251.1 577.0h0M324.6 559.0h0M190.2 558.2h0M232.6 574.5h0M199.5 518.9h0M262.4 448.8h0M347.8 537.8h0M352.6 427.4h0M300.4 434.2h0M382.0 465.5h0M194.6 535.1h0M203.1 511.1h0M238.0 469.0h0M198.3 522.7h0M294.0 434.9h0"/><path stroke="#63cb5f" d="M190.2 564.5h0M225.8 481.4h0M222.5 576.0h0M334.1 434.6h0M252.9 576.5h0M313.0 435.2h0M232.4 573.7h0M380.2 469.3h0M373.2 492.2h0M234.6 472.5h0M298.3 572.7h0M211.3 580.9h0M199.2 585.2h0M192.4 547.8h0M368.4 505.8h0M361.8 518.6h0M223.0 484.7h0M209.5 581.3h0M225.9 481.7h0M368.6 505.2h0M198.9 584.5h0M191.2 558.5h0M225.3 574.2h0M220.0 576.1h0M398.6 427.0h0M358.8 523.1h0M367.0 420.1h0M396.8 431.9h0M387.3 411.2h0M310.3 435.3h0M194.6 538.6h0M191.0 565.2h0M191.2 569.1h0M221.6 574.8h0M388.0 450.4h0M333.1 435.4h0M397.1 429.9h0M241.8 466.2h0M393.2 439.4h0M217.4 491.9h0M191.4 566.1h0M385.7 454.7h0M225.2 483.0h0M265.4 447.6h0M377.0 475.6h0M398.6 419.0h0M191.6 565.1h0M204.7 510.8h0M369.3 419.3h0M197.4 529.5h0M339.5 545.3h0M220.7 488.2h0M222.4 573.7h0M378.1 471.6h0M316.4 436.4h0M391.9 412.2h0M387.3 450.5h0M256.3 574.9h0M198.5 527.4h0M200.5 581.4h0M193.1 551.8h0M371.0 495.5h0M206.4 580.0h0M321.9 559.4h0M193.8 575.7h0M215.3 575.8h0M261.3 575.1h0M254.5 455.9h0M328.7 554.3h0M381.1 462.9h0M287.2 573.6h0M397.2 420.2h0M371.5 492.4h0M392.3 438.6h0M384.2 455.6h0M273.3 574.6h0M388.2 447.1h0M206.0 510.5h0M395.3 429.9h0M217.9 492.8h0M196.3 576.5h0M193.6 557.3h0M327.4 437.2h0M395.4 417.3h0M385.4 413.9h0M363.9 512.2h0M386.6 449.7h0M383.7 455.7h0M314.4 563.5h0M340.7 543.1h0M202.5 578.4h0M381.7 459.8h0M233.8 569.2h0M196.1 541.6h0M348.0 535.2h0M395.8 422.5h0M268.5 574.0h0M375.1 476.5h0M345.5 538.1h0M257.8 573.4h0M243.6 570.3h0M232.3 477.1h0M283.2 573.0h0M363.9 423.8h0M203.3 517.8h0M273.3 444.1h0M286.6 572.4h0M200.6 576.9h0M202.6 520.0h0M394.8 426.8h0M203.8 517.1h0M208.0 508.6h0M310.1 565.2h0M264.2 449.7h0M393.1 432.6h0M346.8 432.8h0M236.2 568.4h0M249.7 571.1h0M231.5 568.2h0M198.2 574.4h0M363.0 512.7h0M304.3 567.6h0M322.1 558.0h0M269.9 446.3h0M250.9 571.2h0M325.1 438.2h0M198.5 573.9h0M230.1 567.7h0M240.0 568.3h0M369.9 493.1h0M381.1 416.4h0"/><path stroke="#6ccd5a" d="M312.1 563.8h0M290.2 571.1h0M218.3 570.3h0M393.6 427.0h0M299.1 437.2h0M276.2 572.4h0M198.8 572.1h0M292.7 437.9h0M336.8 545.8h0M198.6 571.3h0M361.6 514.3h0M208.2 573.0h0M238.7 566.9h0M359.7 427.3h0M268.0 448.0h0M385.6 416.8h0M312.2 563.1h0M196.8 551.0h0M301.8 567.4h0M392.5 427.4h0M251.9 569.8h0M201.1 529.1h0M375.0 419.8h0M343.7 435.1h0M282.4 571.0h0M271.7 571.5h0M250.3 569.0h0M392.2 425.3h0M361.2 514.0h0M280.6 571.0h0M242.9 468.0h0M273.9 571.3h0M377.5 419.0h0M219.9 567.6h0M244.0 567.1h0M213.9 569.2h0M382.7 452.0h0M217.5 496.9h0M224.2 488.3h0M314.7 439.1h0M252.8 569.0h0M246.3 465.1h0M278.1 570.6h0M379.8 457.9h0M374.7 420.7h0M306.8 564.7h0M248.1 463.6h0M238.8 472.4h0M202.1 529.0h0M390.6 423.0h0M381.8 453.2h0M291.0 439.3h0M334.8 546.5h0M357.4 519.8h0M379.1 459.1h0M269.0 448.2h0M373.6 472.5h0M265.4 450.4h0M371.5 422.4h0M200.4 537.2h0M216.4 567.0h0M334.9 546.2h0M290.7 568.8h0M200.0 540.0h0M384.0 419.1h0M377.4 462.3h0M382.1 419.2h0M199.2 559.4h0M207.9 568.3h0M385.5 443.8h0M257.1 456.6h0M274.0 569.7h0M243.2 564.8h0M375.4 421.4h0M201.7 563.9h0M382.5 450.0h0M211.3 566.9h0M377.2 461.6h0M210.6 510.0h0M204.8 566.3h0M221.6 564.1h0M376.9 421.1h0M385.3 420.5h0M307.4 563.5h0M288.4 568.3h0M370.4 479.8h0M207.3 566.2h0M227.0 486.4h0M340.2 540.5h0M324.8 553.6h0M200.8 558.9h0M237.8 474.4h0M284.9 441.6h0M214.4 565.3h0M208.2 515.8h0M343.5 537.0h0M289.6 567.9h0M304.3 439.4h0M215.7 502.0h0M369.2 483.6h0M360.5 429.0h0M220.7 563.4h0M385.6 421.8h0M266.9 568.8h0M203.0 532.3h0M387.0 423.3h0M222.6 492.4h0M213.9 564.6h0M335.8 439.4h0M234.1 561.7h0M358.0 516.7h0M212.2 508.7h0M201.5 542.0h0M203.4 531.9h0M362.7 506.3h0M385.7 422.7h0M249.4 463.7h0M360.9 429.2h0M206.0 563.6h0M208.3 517.0h0M331.7 547.7h0M299.6 565.3h0"/><path stroke="#75d054" d="M232.7 480.5h0M320.8 441.0h0M374.8 423.0h0M201.3 549.3h0M387.5 431.5h0M240.0 562.0h0M240.6 472.2h0M384.5 441.8h0M203.1 559.0h0M208.3 517.9h0M366.7 426.6h0M305.8 563.1h0M369.2 480.2h0M387.1 430.1h0M207.4 520.8h0M206.6 523.0h0M383.4 443.5h0M349.1 435.5h0M378.8 422.8h0M328.4 549.9h0M312.6 559.8h0M359.7 511.9h0M202.6 552.2h0M384.2 424.1h0M243.0 561.7h0M205.1 529.6h0M218.7 561.1h0M369.6 476.9h0M242.7 561.4h0M376.4 423.8h0M331.4 441.1h0M326.3 551.1h0M294.7 565.3h0M217.3 501.9h0M368.1 481.5h0M210.7 560.9h0M272.4 448.1h0M234.5 479.4h0M204.4 555.6h0M217.9 560.5h0M255.8 565.1h0M368.0 481.4h0M211.3 513.4h0M295.8 564.9h0M209.7 560.1h0M250.6 563.3h0M367.5 482.4h0M203.8 548.6h0M368.8 477.5h0M364.3 495.9h0M267.2 566.3h0M344.2 438.4h0M380.6 447.0h0M215.7 559.3h0M335.8 542.7h0M367.0 428.1h0M381.8 425.7h0M366.6 484.6h0M357.1 515.5h0M374.5 425.6h0M223.0 558.3h0M374.2 425.7h0M311.4 559.1h0M308.4 441.6h0M205.2 550.1h0M295.2 564.1h0M205.1 548.2h0M264.8 565.5h0M230.1 557.5h0M280.3 445.1h0M207.0 554.1h0M348.8 528.0h0M382.5 439.2h0M249.6 561.5h0M307.6 441.9h0M238.0 476.8h0M236.2 557.4h0M251.3 463.9h0M210.3 555.6h0M342.6 535.1h0M365.7 484.5h0M353.4 435.5h0M366.5 481.1h0M374.0 459.5h0M308.8 442.3h0M264.4 564.5h0M338.9 538.7h0M277.2 446.9h0M306.6 560.1h0M239.2 475.9h0M224.5 555.8h0M344.5 439.5h0M300.3 442.0h0M207.5 533.4h0M381.7 435.5h0M359.5 506.9h0M363.7 490.7h0M214.9 510.7h0M281.6 445.4h0M263.8 454.8h0M210.3 522.7h0M289.3 443.3h0M344.1 440.0h0M296.4 442.4h0"/><path stroke="#7fd34e" d="M362.4 495.3h0M379.1 444.4h0M213.9 553.6h0M230.5 554.8h0M366.9 476.0h0M375.4 428.7h0M214.2 513.2h0M380.8 435.7h0M376.4 451.3h0M352.8 520.2h0M213.6 553.0h0M347.8 527.6h0M332.5 443.3h0M215.6 510.8h0M378.4 430.8h0M262.4 562.6h0M215.5 552.8h0M365.0 481.0h0M225.6 553.8h0M304.6 559.6h0M379.7 439.2h0M208.9 544.2h0M359.8 503.4h0M374.5 454.1h0M371.4 430.3h0M231.6 486.0h0M209.3 543.3h0M379.4 437.9h0M337.7 442.7h0M277.7 447.7h0M379.1 435.1h0M274.1 562.8h0M377.0 431.8h0M367.7 470.2h0M335.1 540.7h0M273.1 450.1h0M372.5 430.9h0M370.0 463.7h0M210.1 541.9h0M247.6 556.7h0M342.6 532.8h0M369.5 431.6h0M258.4 560.4h0M355.6 512.9h0M292.3 561.1h0M211.7 545.6h0M259.7 458.9h0M219.2 550.7h0M351.3 520.6h0M212.6 545.5h0M276.9 448.8h0M283.7 561.5h0M253.9 463.8h0M331.2 444.8h0M355.6 511.8h0M293.7 560.3h0M225.0 550.8h0M373.5 452.7h0M232.8 551.7h0M222.4 550.4h0M226.1 550.9h0M243.5 473.7h0M350.3 521.6h0M375.5 446.5h0M376.0 434.9h0M218.7 507.9h0M368.4 465.0h0M300.2 444.0h0M332.9 541.7h0M263.8 456.4h0M308.9 556.4h0M280.6 447.5h0M232.7 551.2h0M372.5 453.9h0M264.6 560.3h0M348.0 441.1h0M371.3 456.6h0M310.5 555.4h0M280.7 447.7h0M370.6 458.2h0M216.8 546.8h0M255.8 462.8h0M359.6 494.6h0M374.5 445.7h0M291.3 559.5h0M375.3 440.2h0M276.5 560.5h0M363.7 435.7h0M220.2 547.5h0M221.9 548.0h0M262.4 458.0h0M220.5 547.5h0M222.7 548.2h0M214.4 542.0h0M299.8 444.7h0M372.1 452.1h0M259.4 558.1h0M239.3 479.2h0M221.1 505.5h0M214.8 521.9h0M258.4 557.7h0M361.8 436.9h0M215.5 542.5h0M285.4 559.5h0M306.7 555.8h0"/><path stroke="#89d548" d="M214.2 539.0h0M261.7 458.8h0M286.1 446.6h0M372.0 436.7h0M330.6 446.2h0M362.2 437.0h0M361.3 482.3h0M354.1 511.6h0M213.8 532.5h0M218.0 544.3h0M280.7 448.5h0M373.4 442.4h0M284.8 559.1h0M334.6 538.6h0M255.9 463.5h0M274.5 559.4h0M262.7 558.1h0M346.4 525.0h0M356.7 502.8h0M260.4 557.4h0M214.4 533.5h0M268.6 558.9h0M289.5 446.2h0M215.9 539.9h0M215.2 537.7h0M360.0 485.3h0M272.3 559.1h0M285.4 558.7h0M344.1 444.0h0M246.2 472.6h0M372.0 439.9h0M323.5 546.9h0M231.5 547.7h0M258.5 461.7h0M301.8 445.7h0M215.0 528.6h0M272.5 558.8h0M217.7 516.4h0M325.1 545.6h0M248.0 471.1h0M273.7 452.1h0M358.0 439.8h0M355.3 440.7h0M224.0 545.1h0M371.4 446.1h0M370.8 449.2h0M268.3 455.2h0M323.7 447.5h0M361.9 475.1h0M218.8 514.2h0M360.1 481.6h0M325.3 545.1h0M367.8 458.1h0M346.1 524.2h0M248.4 470.9h0M345.3 444.4h0M320.1 447.6h0M215.8 531.1h0M215.9 528.8h0M358.4 488.2h0M366.1 461.9h0M278.7 558.0h0M362.4 472.1h0M227.2 545.3h0M354.6 441.5h0M361.5 439.5h0M365.8 439.1h0M370.6 445.3h0M217.1 521.3h0M216.2 526.7h0M230.5 492.5h0M335.5 447.1h0M345.4 444.8h0M255.0 465.3h0M298.4 555.7h0M303.1 554.7h0M290.3 556.8h0M287.3 447.7h0M282.6 449.0h0M285.2 557.2h0M281.4 449.4h0M366.3 440.2h0M232.8 545.9h0M271.9 557.2h0M356.6 494.4h0M364.4 464.2h0M331.0 448.0h0M253.6 552.6h0M365.6 440.8h0M217.9 521.6h0M265.7 457.6h0M293.0 555.9h0M275.9 557.1h0M306.4 553.3h0M331.9 538.9h0M249.4 550.5h0M367.4 454.2h0M342.1 446.5h0M351.7 511.7h0M347.6 445.0h0M350.2 514.9h0M313.7 448.0h0M341.1 446.9h0M331.4 539.0h0M342.4 527.4h0M361.0 472.0h0M236.1 485.9h0M352.4 508.8h0M367.8 448.5h0M355.3 496.9h0M259.0 462.8h0M354.0 502.6h0M218.7 532.4h0M321.0 448.9h0M252.3 550.9h0M271.7 556.0h0M339.8 530.0h0M351.4 510.4h0M224.5 505.4h0M235.8 544.7h0M361.8 442.8h0M221.5 537.4h0M292.5 554.8h0M307.3 551.7h0M339.7 448.0h0M231.7 492.9h0"/><path stroke="#93d741" d="M219.5 531.7h0M352.7 444.9h0M340.8 528.3h0M361.3 443.7h0M279.2 555.5h0M233.7 490.2h0M362.7 444.2h0M253.3 550.3h0M281.1 450.7h0M243.8 546.5h0M361.8 444.2h0M248.8 472.5h0M222.0 513.0h0M364.7 455.2h0M230.3 541.8h0M355.6 487.7h0M291.5 448.3h0M261.0 462.0h0M286.9 449.2h0M362.9 445.3h0M223.2 537.1h0M251.5 549.1h0M249.6 471.9h0M261.8 552.9h0M244.5 546.2h0M346.9 518.4h0M247.4 547.3h0M330.8 537.9h0M347.7 447.0h0M355.4 486.7h0M357.4 477.8h0M364.0 455.7h0M361.0 466.0h0M250.8 470.8h0M358.0 475.3h0M284.8 554.4h0M246.1 475.6h0M242.3 545.1h0M220.4 527.7h0M311.1 549.4h0M291.9 448.6h0M272.7 554.4h0M228.6 499.4h0M276.3 554.5h0M233.4 541.9h0M281.5 554.3h0M225.0 537.4h0M231.1 495.4h0M346.6 517.9h0M361.9 460.9h0M334.1 534.3h0M352.7 446.9h0M223.1 534.1h0M339.3 528.4h0M257.5 465.5h0M349.5 510.5h0M276.3 553.8h0M353.0 447.2h0M360.3 464.2h0M241.5 543.7h0M339.6 527.8h0M326.4 540.3h0M271.4 553.4h0M224.6 535.1h0M260.1 463.6h0M226.5 536.9h0M264.9 552.2h0M354.3 484.8h0M294.2 552.0h0M246.7 476.0h0M360.8 450.3h0M296.9 449.1h0M315.9 450.5h0M333.4 451.1h0M301.6 550.5h0M303.5 449.4h0M284.0 451.2h0M271.3 552.7h0M347.0 449.3h0M235.5 540.6h0M359.3 449.8h0M241.1 542.6h0M349.4 507.7h0M310.5 450.3h0M274.9 454.9h0M283.3 552.4h0M252.3 546.6h0M358.9 450.8h0M321.8 451.5h0M222.9 522.0h0M352.4 489.4h0M224.1 514.8h0M320.3 543.0h0M299.2 550.2h0M225.9 509.1h0M227.5 535.0h0M256.8 548.0h0M251.4 472.0h0M306.5 548.4h0M291.3 450.2h0M359.2 457.8h0M341.9 522.5h0M358.6 453.1h0M349.7 503.6h0M304.1 548.9h0M225.7 510.6h0M351.8 489.9h0M229.1 535.6h0M308.5 547.5h0M224.2 517.2h0M352.2 486.2h0M337.0 528.4h0M244.1 480.1h0M224.7 515.4h0M276.8 551.5h0M349.6 450.9h0M351.0 450.8h0M294.0 450.3h0M227.8 505.9h0M323.3 540.4h0M225.5 512.6h0M236.2 538.9h0M271.1 550.9h0M337.0 528.1h0M338.6 452.2h0M326.2 452.6h0"/><path stroke="#9dd93b" d="M350.9 491.5h0M320.6 452.4h0M249.4 543.7h0M353.7 475.8h0M239.9 485.7h0M313.4 545.0h0M356.3 455.2h0M266.1 549.5h0M355.4 454.3h0M262.2 548.4h0M356.4 462.1h0M299.9 548.4h0M235.6 492.3h0M349.1 452.3h0M249.4 543.1h0M326.9 536.8h0M325.2 453.2h0M355.8 457.1h0M296.4 450.8h0M231.4 499.8h0M347.5 452.7h0M301.6 547.8h0M231.5 499.6h0M355.4 464.4h0M226.7 528.8h0M228.3 507.0h0M238.4 538.1h0M274.9 549.9h0M226.5 513.7h0M270.5 549.4h0M275.1 549.8h0M325.7 537.1h0M312.6 452.4h0M348.0 498.2h0M338.9 454.1h0M273.3 549.3h0M350.4 481.9h0M249.2 541.8h0M276.0 549.3h0M247.7 477.6h0M344.3 454.2h0M259.1 545.7h0M327.1 535.4h0M261.1 465.4h0M286.5 452.7h0M345.2 509.8h0M242.1 538.6h0M353.5 460.1h0M325.9 536.2h0M312.6 543.3h0M321.0 453.9h0M343.5 513.6h0M328.7 454.7h0M310.0 544.0h0M292.8 452.0h0M253.2 472.5h0M330.6 455.0h0M305.4 545.0h0M347.4 455.9h0M351.4 471.8h0M231.0 531.1h0M317.3 540.6h0M288.5 547.6h0M280.6 548.2h0M321.2 538.4h0M241.2 486.4h0M258.9 467.8h0M337.7 523.0h0M334.5 527.1h0M269.2 547.4h0M262.9 545.7h0M348.6 457.7h0M342.4 513.9h0M262.5 545.5h0M255.8 543.0h0M335.6 525.3h0M339.9 456.4h0M299.4 545.2h0M229.9 526.7h0M344.1 506.3h0M325.4 534.4h0M336.5 456.6h0M333.4 527.0h0M331.5 529.0h0M348.7 475.4h0M343.5 507.6h0M329.0 456.3h0"/><path stroke="#a8db34" d="M345.0 496.8h0M296.8 453.0h0M336.9 457.5h0M323.8 534.8h0M264.8 464.3h0M315.2 539.5h0M340.1 515.5h0M308.5 541.8h0M296.1 544.5h0M231.2 526.5h0M251.3 539.4h0M256.7 470.9h0M243.2 535.7h0M344.6 494.0h0M233.4 529.1h0M299.0 543.6h0M347.4 473.7h0M263.9 465.3h0M247.1 537.2h0M275.4 545.8h0M330.8 528.0h0M312.3 454.8h0M236.1 531.2h0M309.7 454.5h0M347.4 470.6h0M325.8 457.1h0M340.4 512.7h0M267.3 544.4h0M344.0 493.4h0M295.5 453.7h0M292.5 544.1h0M329.4 457.8h0M337.2 459.1h0M328.1 457.8h0M315.3 455.7h0M342.6 501.2h0M230.5 515.0h0M346.4 469.9h0M343.2 496.0h0M261.2 542.1h0M237.5 531.2h0M242.3 487.8h0M345.5 476.1h0M345.7 467.0h0M325.8 531.2h0M343.1 492.3h0M320.0 457.0h0M291.8 454.5h0M278.3 544.5h0M310.1 538.9h0M312.9 537.8h0M344.1 477.9h0M340.5 505.2h0M322.1 457.8h0M344.4 474.6h0M269.1 543.2h0M262.4 541.4h0M339.4 462.2h0M312.2 537.7h0M269.6 543.1h0M232.1 512.1h0M232.1 512.3h0M341.1 496.7h0M267.2 542.4h0M274.0 460.4h0M269.9 542.8h0M263.3 467.1h0M341.6 489.4h0M292.2 541.9h0M326.3 528.6h0M236.2 500.1h0M339.8 503.2h0M234.6 525.2h0M333.9 519.7h0M248.4 481.4h0M257.7 538.7h0M251.5 478.0h0M295.2 540.9h0M339.5 501.2h0M334.2 518.1h0M236.2 526.5h0M330.6 523.1h0M246.9 483.6h0M304.2 455.8h0M330.7 461.3h0M277.2 542.1h0M341.1 474.0h0M334.3 463.2h0"/><path stroke="#b2dd2d" d="M340.8 475.8h0M336.7 464.8h0M322.5 459.8h0M277.8 459.7h0M329.5 461.8h0M337.5 465.9h0M340.2 481.1h0M235.4 522.7h0M329.4 461.9h0M340.3 476.8h0M324.7 527.2h0M301.3 537.9h0M313.7 458.1h0M243.0 530.1h0M246.4 485.3h0M309.4 535.2h0M310.5 534.8h0M247.9 532.7h0M241.2 493.1h0M255.0 475.7h0M248.3 483.1h0M339.4 477.3h0M336.3 504.5h0M331.8 463.8h0M262.1 538.2h0M278.0 540.8h0M326.3 461.9h0M314.0 532.7h0M338.7 474.5h0M297.1 537.8h0M312.8 458.5h0M293.8 538.5h0M235.1 509.7h0M336.9 495.5h0M332.1 515.5h0M297.4 537.5h0M332.5 514.3h0M332.7 513.8h0M286.9 539.5h0M294.6 538.0h0M292.7 456.9h0M336.9 470.1h0M336.6 493.9h0M334.4 508.0h0M286.2 539.4h0M264.5 468.3h0M237.4 502.7h0M322.1 526.7h0M308.5 533.7h0M334.9 503.0h0M261.1 536.8h0M333.5 508.6h0M335.3 498.8h0M336.5 488.3h0M320.2 527.7h0M332.5 511.4h0M325.7 522.7h0M279.7 539.4h0M236.4 518.9h0M297.8 536.2h0M329.8 516.3h0M334.9 470.4h0M336.1 484.8h0M336.2 475.2h0M332.9 507.5h0M336.1 483.9h0M334.3 469.8h0M295.8 536.3h0M321.9 525.2h0M236.7 507.5h0M322.4 524.7h0M333.5 503.3h0M328.8 516.8h0M244.9 528.4h0M237.4 505.7h0M238.8 501.4h0M332.7 504.5h0M238.9 522.3h0M308.4 531.9h0M333.3 499.6h0M279.7 538.4h0M309.3 531.4h0M333.1 470.0h0M334.9 474.4h0M286.9 537.5h0M325.7 464.4h0M334.7 487.1h0M307.9 531.6h0M261.4 535.5h0M326.2 518.9h0M311.1 530.2h0M247.1 487.1h0M237.5 507.5h0M334.5 478.9h0M327.8 515.4h0M249.6 530.1h0M332.7 495.5h0M333.7 485.3h0M333.7 485.4h0M332.9 491.9h0M333.8 480.9h0M331.8 498.4h0M309.3 529.7h0M301.9 532.5h0M313.3 527.9h0M270.6 536.9h0M332.9 488.5h0M333.4 479.4h0"/><path stroke="#bddf26" d="M257.2 476.2h0M250.7 530.0h0M287.3 459.4h0M279.7 537.0h0M294.0 534.1h0M297.1 533.2h0M319.2 463.3h0M246.2 489.7h0M327.1 512.1h0M246.7 488.8h0M295.8 533.3h0M255.9 531.9h0M304.4 459.6h0M321.4 464.5h0M239.0 517.5h0M271.8 536.2h0M331.9 479.4h0M238.6 509.6h0M331.3 475.8h0M326.5 510.7h0M256.6 531.7h0M320.7 519.5h0M330.2 473.4h0M294.8 532.8h0M239.1 507.7h0M239.0 514.1h0M258.7 532.3h0M325.7 510.1h0M327.7 470.7h0M330.1 489.5h0M322.8 515.1h0M328.3 471.6h0M265.9 534.2h0M309.6 461.3h0M268.9 467.9h0M244.9 493.1h0M246.5 490.6h0M239.2 511.7h0M321.6 466.0h0M330.2 477.4h0M240.2 504.8h0M328.2 498.0h0M296.5 531.3h0M279.3 535.1h0M318.0 519.9h0M305.9 460.8h0M240.0 506.1h0M323.6 512.1h0M249.1 487.0h0M291.0 460.1h0M310.8 524.8h0M324.7 509.3h0M246.6 490.8h0M314.8 463.4h0M276.6 534.7h0M327.6 495.7h0M327.9 493.8h0M325.2 504.8h0M323.3 509.9h0M327.1 496.7h0M294.5 530.9h0M318.3 517.2h0M326.7 472.7h0M311.4 522.6h0M244.3 496.1h0M257.1 529.9h0M323.4 506.7h0M288.9 461.1h0M247.1 491.4h0M240.8 512.3h0M327.8 480.1h0M320.2 511.8h0M296.2 460.8h0M316.7 516.2h0M305.2 461.9h0M263.1 531.4h0M313.7 518.7h0M274.9 533.2h0M267.4 470.4h0M316.8 515.2h0M249.9 487.8h0M305.8 523.9h0M259.9 530.0h0M290.7 530.3h0M321.4 505.8h0M287.5 531.0h0M256.0 480.6h0M312.1 518.7h0M321.3 469.8h0M242.9 516.5h0M299.4 526.4h0M273.8 532.5h0"/><path stroke="#c8e020" d="M309.2 520.4h0M320.2 506.6h0M318.8 509.4h0M302.1 462.1h0M325.5 485.9h0M291.3 529.3h0M317.6 511.0h0M325.4 482.5h0M324.5 490.8h0M276.7 465.9h0M300.8 524.4h0M324.3 487.9h0M321.6 472.1h0M285.6 530.3h0M242.8 511.1h0M315.3 511.8h0M323.2 492.0h0M321.9 496.9h0M270.8 531.1h0M247.7 493.2h0M271.0 531.1h0M280.3 464.8h0M282.1 464.3h0M307.3 519.4h0M320.1 501.5h0M316.2 509.5h0M276.2 466.6h0M321.8 474.0h0M289.7 463.0h0M272.1 530.5h0M265.6 529.3h0M322.7 479.8h0M247.6 494.7h0M305.5 518.8h0M315.4 507.5h0M244.2 511.8h0M310.7 513.7h0M305.9 517.7h0M253.8 485.7h0M275.0 468.2h0M249.5 492.5h0M311.8 510.5h0M265.0 528.0h0M252.3 488.2h0M263.6 475.9h0M321.1 485.6h0M321.0 485.4h0M255.7 524.2h0M318.6 474.0h0M318.1 474.1h0M287.5 464.6h0M288.7 464.5h0M316.6 472.3h0M286.4 526.6h0M314.4 503.3h0M308.3 512.2h0M245.8 509.7h0M300.9 464.9h0M299.5 464.8h0M315.7 498.9h0"/><path stroke="#d2e21b" d="M309.6 468.1h0M268.7 473.2h0M298.4 464.9h0M312.5 470.0h0M252.6 520.4h0M309.2 468.3h0M292.8 465.0h0M256.4 522.4h0M272.6 527.1h0M251.3 492.4h0M280.5 526.5h0M254.2 521.0h0M281.3 526.2h0M311.5 504.4h0M303.3 514.4h0M248.1 513.2h0M247.5 511.0h0M274.0 526.7h0M247.8 501.8h0M314.8 496.2h0M301.5 515.3h0M297.9 465.8h0M316.9 487.9h0M305.4 511.2h0M306.2 468.0h0M278.0 526.0h0M248.5 511.0h0M316.6 483.1h0M267.7 475.4h0M293.9 519.5h0M269.7 474.1h0M298.0 516.5h0M286.9 522.8h0M248.4 507.9h0M250.2 497.8h0M293.4 519.4h0M299.3 515.2h0M309.4 503.4h0M295.2 517.8h0M288.7 521.4h0M249.8 511.6h0M314.7 480.3h0M263.4 522.8h0M305.2 469.5h0M284.0 522.5h0M296.4 467.5h0M301.7 468.6h0M291.7 518.5h0M312.5 492.5h0M250.6 510.5h0M261.6 482.3h0M276.1 523.5h0M303.1 508.7h0M312.5 491.4h0M280.0 470.2h0M250.2 505.6h0M292.2 467.8h0M250.4 504.6h0"/><path stroke="#dde318" d="M302.2 469.5h0M296.3 514.3h0M257.2 488.3h0M251.9 498.5h0M252.0 498.4h0M290.4 468.3h0M289.5 468.4h0M307.6 500.7h0M278.2 522.3h0M269.3 522.3h0M312.2 480.8h0M311.8 479.6h0M273.7 522.5h0M301.5 508.7h0M308.3 474.0h0M251.2 506.0h0M300.2 509.9h0M312.1 486.3h0M289.7 468.7h0M311.8 487.6h0M251.9 500.8h0M293.1 515.6h0M308.2 498.0h0M252.9 497.7h0M253.7 512.8h0M266.8 521.2h0M310.5 490.8h0M310.7 480.3h0M301.0 470.7h0M260.0 517.8h0M310.8 482.7h0M259.9 486.6h0M252.6 507.2h0M280.5 471.6h0M277.0 520.7h0M271.4 476.4h0M259.6 487.6h0M267.7 520.0h0M306.1 474.7h0M253.5 500.3h0M287.6 516.8h0M297.2 509.9h0M292.4 513.7h0M307.8 493.5h0M287.8 516.0h0M289.0 470.7h0M257.0 513.0h0M261.5 516.6h0M265.9 481.7h0M258.9 514.7h0M254.7 498.8h0M301.9 473.1h0M297.0 471.4h0M265.9 518.1h0M307.5 479.5h0M307.9 486.7h0M280.5 473.3h0M255.8 498.0h0M258.7 491.5h0M256.3 509.8h0M255.0 505.4h0M290.8 471.4h0M261.0 514.9h0"/><path stroke="#e7e419" d="M293.7 510.4h0M275.4 518.2h0M289.2 471.8h0M266.5 517.2h0M306.3 490.8h0M273.3 518.0h0M304.9 478.1h0M270.2 517.6h0M264.6 484.8h0M256.2 499.9h0M294.8 508.4h0M263.0 486.8h0M275.2 517.5h0M263.5 486.4h0M302.7 497.7h0M289.1 472.5h0M292.3 510.1h0M282.0 474.0h0M302.7 497.2h0M283.2 473.7h0M257.2 507.6h0M280.0 474.8h0M257.2 507.1h0M259.7 511.4h0M303.3 478.0h0M268.8 481.7h0M260.1 491.8h0M261.8 489.4h0M283.2 474.0h0M275.3 477.5h0M305.2 484.8h0M262.0 512.6h0M266.0 514.9h0M282.9 514.5h0M273.1 516.2h0M289.3 510.8h0M292.9 473.8h0M288.5 511.3h0M297.7 475.2h0M262.3 511.9h0M259.0 507.3h0M294.0 474.4h0M302.6 493.1h0M277.0 477.5h0M301.1 496.1h0M283.2 475.2h0M301.6 494.8h0M278.5 514.6h0M289.9 509.3h0M303.3 483.3h0M285.5 474.9h0M297.4 501.5h0M260.0 507.4h0M279.6 514.1h0M266.1 486.6h0M300.3 478.9h0M297.7 500.5h0M300.6 479.3h0M281.6 476.3h0M269.1 513.7h0M262.8 510.2h0M264.5 511.5h0M301.3 492.7h0M277.2 478.5h0M274.0 480.4h0M260.6 505.2h0"/><path stroke="#f1e51d" d="M284.4 510.8h0M298.8 479.2h0M260.4 503.0h0M287.1 476.0h0M262.4 493.7h0M293.2 503.8h0M300.7 490.9h0M264.6 490.5h0M262.6 507.3h0M292.8 503.8h0M299.6 492.7h0M293.3 477.2h0M262.5 495.3h0M268.2 511.0h0M288.6 506.8h0M298.8 481.7h0M261.9 502.7h0M293.1 477.8h0M297.0 480.0h0M299.5 489.6h0M267.1 509.7h0M297.8 494.8h0M287.3 477.5h0M295.2 479.2h0M292.3 478.1h0M297.9 493.6h0M262.8 502.6h0M296.6 481.2h0M265.0 506.6h0M280.0 509.7h0M283.8 508.1h0M264.0 503.9h0M286.7 506.1h0M270.7 486.6h0M288.0 479.0h0M280.7 508.7h0M267.6 507.4h0M268.3 489.6h0M274.8 483.5h0M268.4 489.6h0M265.0 499.5h0M295.6 484.3h0M284.5 480.5h0M295.1 492.6h0M271.3 488.0h0M268.9 505.9h0M266.1 501.2h0M285.8 480.9h0M271.5 506.9h0M295.3 488.8h0"/><path stroke="#fbe723" d="M275.1 507.1h0M288.3 501.4h0M274.7 506.9h0M293.7 493.4h0M294.3 491.2h0M284.0 504.4h0M289.7 499.0h0M292.7 485.4h0M289.9 498.3h0M292.7 486.3h0M269.2 502.3h0M293.1 488.1h0M268.8 501.1h0M291.1 495.3h0M286.0 483.2h0M269.8 494.3h0M292.1 492.2h0M290.6 495.8h0M283.4 483.7h0M284.3 483.9h0M285.1 501.0h0M271.9 492.0h0M270.4 500.0h0M270.2 497.7h0M283.2 501.7h0M290.9 490.7h0M275.8 503.3h0M290.2 487.7h0M272.5 501.6h0M280.3 502.7h0M287.4 485.7h0M273.0 501.2h0M284.7 498.5h0M287.4 495.3h0M288.3 493.1h0M275.2 500.0h0M285.1 487.6h0M282.1 499.3h0M285.4 496.5h0M279.0 500.4h0M287.5 492.2h0M282.4 499.0h0M285.2 488.4h0M281.9 498.2h0M277.6 492.0h0M279.1 498.3h0M277.2 493.8h0M279.0 491.9h0M278.5 492.4h0M280.5 491.4h0M278.3 495.6h0M278.9 495.4h0"/></g><line x1="101.9" y1="688.8" x2="780.7" y2="65.4" stroke="#000" stroke-width="2.7" stroke-dasharray="11.6 5.2"/><path d="M186.8 688.8v-5.5M101.9 610.9h5.5M271.6 688.8v-10.0M101.9 532.9h10.0M356.5 688.8v-5.5M101.9 455.0h5.5M441.3 688.8v-10.0M101.9 377.1h10.0M526.2 688.8v-5.5M101.9 299.2h5.5M611.0 688.8v-10.0M101.9 221.2h10.0M695.9 688.8v-5.5M101.9 143.3h5.5" stroke="#111" stroke-width="1.8" fill="none"/><rect x="101.9" y="65.4" width="678.8" height="623.4" fill="none" stroke="#111" stroke-width="2.2"/><text class="t" x="101.4" y="719.8" text-anchor="middle">4</text><text class="t" x="90.5" y="699.0" text-anchor="end">4</text><text class="t" x="271.1" y="719.8" text-anchor="middle">5</text><text class="t" x="90.5" y="543.1" text-anchor="end">5</text><text class="t" x="440.8" y="719.8" text-anchor="middle">6</text><text class="t" x="90.5" y="387.3" text-anchor="end">6</text><text class="t" x="610.5" y="719.8" text-anchor="middle">7</text><text class="t" x="90.5" y="231.4" text-anchor="end">7</text><text class="t" x="780.2" y="719.8" text-anchor="middle">8</text><text class="t" x="90.5" y="75.6" text-anchor="end">8</text><text class="b" x="441.3" y="764.0" text-anchor="middle">Mobile Signaling (pp4h)</text><text class="b" transform="translate(54.5,377.1) rotate(-90)" text-anchor="middle">Baidu Heat Map (pp4h)</text><text class="b" x="135.8" y="121.4">(c) 15:00 – 16:00</text><text class="s" x="543.3" y="525">R<tspan font-size="26.6" dy="-2">²</tspan><tspan dy="2"> = 0.8551</tspan></text><text class="s" x="543.3" y="571.6">MAE = 90.93</text><text class="s" x="543.3" y="618.2">RMSE = 117.51</text><rect x="814.2" y="65.4" width="31.4" height="623.4" fill="url(#vir)"/><text class="t" x="856" y="617.7">0.05</text><text class="t" x="856" y="532.3">0.10</text><text class="t" x="856" y="446.8">0.15</text><text class="t" x="856" y="361.4">0.20</text><text class="t" x="856" y="276.0">0.25</text><text class="t" x="856" y="190.6">0.30</text><text class="t" x="856" y="105.2">0.35</text><path d="M845.6 607.5h-4M845.6 522.1h-4M845.6 436.6h-4M845.6 351.2h-4M845.6 265.8h-4M845.6 180.4h-4M845.6 95.0h-4" stroke="#111" stroke-width="1.8"/><rect x="814.2" y="65.4" width="31.4" height="623.4" fill="none" stroke="#111" stroke-width="2.2"/><text class="d" x="829.9" y="46.1" text-anchor="middle">Density</text></g><g transform="translate(922,748)"><g clip-path="url(#ax)" fill="none" stroke-width="6.7" stroke-linecap="round"><path stroke="#450457" d="M379.2 208.4h0M621.2 266.4h0M522.8 166.7h0M145.4 352.9h0"/><path stroke="#460a5d" d="M209.0 298.8h0M545.4 639.4h0M397.8 228.6h0M534.7 687.2h0M490.5 684.7h0M532.4 685.3h0M531.7 682.6h0M291.8 270.5h0M522.0 648.3h0M527.2 653.6h0M367.4 249.6h0M528.7 669.7h0"/><path stroke="#471063" d="M499.0 667.8h0M417.1 225.5h0M506.7 650.5h0M509.8 672.8h0M505.5 655.8h0M211.0 313.7h0M289.5 275.4h0M495.3 652.4h0M147.9 377.0h0M171.0 343.6h0M203.2 319.8h0M514.9 573.3h0M201.1 322.5h0M360.5 261.0h0"/><path stroke="#481668" d="M180.3 343.3h0M158.8 372.2h0M520.3 513.1h0M489.4 630.7h0M472.6 651.0h0M492.6 623.8h0M545.2 455.4h0M150.2 392.1h0M510.6 553.4h0M477.3 642.4h0M510.4 539.0h0M278.1 293.7h0M294.6 288.0h0M498.7 597.5h0M340.9 274.7h0M191.4 342.6h0M507.0 548.8h0M583.8 277.4h0M275.3 297.6h0M495.8 599.4h0M484.4 624.7h0M503.7 557.1h0M255.3 311.7h0M163.8 376.3h0M157.3 389.1h0"/><path stroke="#481b6d" d="M437.2 678.1h0M324.3 284.7h0M246.8 321.4h0M478.1 626.2h0M240.9 328.1h0M504.5 527.3h0M463.0 644.2h0M245.8 325.8h0M495.8 554.9h0M523.9 209.7h0M464.3 218.5h0M215.7 343.8h0M483.0 610.8h0M477.8 621.1h0M194.7 353.8h0M183.9 361.8h0M537.7 455.1h0M493.5 551.8h0M178.1 368.8h0M277.0 307.8h0M211.9 348.2h0"/><path stroke="#482071" d="M488.7 579.4h0M138.9 450.6h0M245.8 331.8h0M377.4 273.1h0M261.5 320.3h0M430.6 238.7h0M435.1 236.9h0M580.7 290.9h0M424.5 682.3h0M512.9 499.6h0M485.9 549.6h0M483.5 556.0h0M275.7 314.9h0M477.4 597.4h0M259.7 327.0h0M477.1 594.0h0M159.2 410.3h0M200.3 363.3h0M134.1 480.4h0M200.1 363.8h0M453.9 640.5h0M187.6 372.3h0M527.2 469.0h0M419.2 249.1h0M473.4 602.3h0M158.9 412.5h0"/><path stroke="#482576" d="M513.3 494.7h0M527.9 465.9h0M268.8 324.3h0M473.1 577.4h0M175.7 387.7h0M361.7 285.3h0M189.6 374.6h0M305.9 305.2h0M471.6 565.3h0M469.6 593.0h0M205.5 367.7h0M230.6 357.7h0M228.9 359.6h0M465.9 599.6h0M222.7 362.7h0M496.3 215.1h0M169.7 402.0h0M302.9 309.8h0M460.6 610.5h0M492.5 521.8h0M186.5 384.0h0M425.7 668.2h0M458.2 612.1h0"/><path stroke="#472a7a" d="M460.2 593.6h0M461.2 576.7h0M460.6 580.9h0M409.6 261.5h0M456.7 612.5h0M409.7 685.7h0M458.4 596.8h0M432.7 656.6h0M560.2 386.0h0M270.2 333.6h0M432.6 655.1h0M336.9 299.4h0M285.2 323.5h0M160.2 424.6h0M531.7 447.3h0M146.6 457.0h0M436.7 647.2h0M478.4 535.2h0M550.6 405.7h0M365.4 292.1h0M424.4 663.3h0M144.1 468.2h0M351.4 297.2h0M448.0 614.1h0M158.7 431.4h0M213.8 378.4h0M192.8 389.3h0M427.0 656.8h0M438.0 246.1h0M431.2 649.4h0M275.8 334.7h0M221.5 376.7h0M520.0 468.4h0M138.9 493.9h0M410.2 676.7h0"/><path stroke="#472f7d" d="M171.5 412.5h0M222.3 377.6h0M513.7 479.7h0M324.5 308.5h0M297.1 322.2h0M326.5 308.1h0M179.9 403.8h0M427.4 649.7h0M155.7 443.6h0M500.3 221.6h0M278.4 336.1h0M320.6 311.5h0M495.0 221.9h0M160.9 433.4h0M434.8 631.3h0M257.3 355.5h0M404.8 677.8h0M173.5 413.6h0M474.5 533.6h0M259.2 354.1h0M356.4 300.1h0M317.9 313.7h0M163.2 431.1h0M417.5 263.0h0M326.5 310.4h0M162.3 433.3h0M421.5 652.5h0M408.5 270.0h0M333.7 308.0h0M150.9 459.7h0M427.3 640.7h0M429.7 634.5h0M272.7 343.9h0M180.8 408.1h0M430.9 628.1h0M411.4 664.3h0M408.5 667.6h0M403.8 274.6h0M296.4 326.9h0M407.2 668.5h0M233.3 377.7h0M161.4 437.4h0M431.1 254.6h0M412.3 268.3h0M178.5 412.0h0M353.1 303.5h0M153.2 456.8h0"/><path stroke="#463480" d="M268.5 349.5h0M494.1 224.4h0M208.2 391.6h0M433.4 609.7h0M448.3 244.2h0M311.2 319.9h0M422.7 639.5h0M400.1 278.7h0M146.2 478.9h0M420.4 643.1h0M436.4 597.6h0M502.2 492.9h0M402.9 276.8h0M397.1 675.1h0M405.9 662.9h0M304.7 324.7h0M393.6 284.7h0M384.9 682.9h0M398.7 662.4h0M161.0 444.3h0M152.2 465.4h0M316.3 320.3h0M280.8 343.1h0M284.1 340.5h0M392.6 664.1h0M388.4 669.8h0M196.3 402.6h0M386.1 674.4h0M434.8 589.8h0M151.0 469.6h0M432.6 595.1h0M267.0 355.6h0M377.6 688.8h0M470.1 531.4h0M515.3 466.6h0M415.4 630.7h0M371.0 660.0h0M391.7 650.6h0M364.6 665.7h0M415.2 269.8h0M374.5 686.0h0M419.7 621.3h0M374.1 653.4h0M364.6 682.6h0M373.3 300.1h0M382.7 647.6h0M373.6 651.7h0M311.1 324.6h0M356.2 675.7h0M468.2 532.4h0M349.7 691.5h0M411.1 629.8h0M463.0 538.5h0M213.9 395.4h0M210.3 397.5h0"/><path stroke="#443983" d="M431.2 591.5h0M351.8 309.4h0M394.2 638.6h0M372.9 647.6h0M173.4 429.0h0M432.4 586.2h0M406.3 628.4h0M508.5 230.7h0M455.6 243.7h0M247.2 376.3h0M408.5 624.9h0M390.5 633.0h0M414.7 616.9h0M400.7 629.0h0M427.7 262.6h0M471.1 527.1h0M358.9 659.9h0M513.3 233.4h0M494.5 498.2h0M494.8 229.0h0M409.5 621.0h0M379.5 634.4h0M566.5 349.9h0M405.9 621.5h0M240.7 382.7h0M301.3 334.0h0M366.6 645.8h0M421.8 599.6h0M462.5 535.3h0M189.0 415.9h0M287.6 344.4h0M255.0 372.4h0M176.7 428.9h0M358.9 310.3h0M430.0 583.2h0M462.6 241.3h0M402.2 284.4h0M394.8 621.2h0M427.2 587.4h0M377.2 629.7h0M569.7 322.5h0M476.8 517.6h0M232.4 390.4h0M422.5 592.9h0"/><path stroke="#433e85" d="M355.2 656.2h0M478.0 234.9h0M191.4 416.7h0M405.7 610.3h0M429.9 578.7h0M405.5 610.0h0M417.0 598.4h0M181.9 426.8h0M411.5 603.8h0M418.6 595.1h0M186.5 423.1h0M242.1 386.0h0M501.1 483.0h0M493.7 494.3h0M520.3 448.0h0M563.5 297.6h0M533.6 256.4h0M209.2 407.4h0M485.4 504.5h0M136.5 544.2h0M518.3 241.7h0M336.0 680.8h0M433.7 263.0h0M399.2 606.9h0M458.5 246.3h0M439.6 558.7h0M439.5 259.1h0M197.8 416.1h0M513.0 238.8h0M355.5 649.2h0M261.9 372.3h0M522.9 246.5h0M338.9 322.7h0M162.8 460.4h0M405.8 599.6h0M359.2 641.9h0M337.8 675.0h0M352.6 318.7h0M358.3 642.7h0"/><path stroke="#414287" d="M154.2 481.3h0M402.8 599.8h0M414.0 589.7h0M412.1 591.5h0M340.9 668.8h0M371.5 311.8h0M153.0 486.5h0M166.1 457.3h0M404.7 595.3h0M325.8 330.7h0M336.2 674.0h0M379.2 308.5h0M391.7 300.0h0M379.7 613.3h0M506.2 468.9h0M276.3 363.6h0M448.9 255.2h0M345.6 323.7h0M226.8 402.1h0M451.0 538.5h0M440.1 552.1h0M338.3 326.9h0M490.2 236.9h0M204.0 417.3h0M389.0 303.2h0M490.7 492.2h0M286.1 357.0h0M477.6 240.3h0M334.1 329.3h0M298.5 348.5h0M164.5 463.9h0M267.9 372.6h0M562.8 346.4h0M370.2 315.8h0M338.2 328.3h0M152.9 492.4h0M203.2 419.4h0M473.9 511.4h0M475.4 241.7h0"/><path stroke="#3f4788" d="M192.5 428.5h0M334.1 330.5h0M449.0 538.2h0M393.6 301.9h0M483.4 499.4h0M523.5 434.0h0M408.5 585.3h0M425.0 567.5h0M156.0 486.1h0M428.6 562.5h0M490.9 239.0h0M313.7 342.1h0M146.1 520.8h0M367.1 620.5h0M139.4 685.8h0M422.0 569.3h0M423.8 278.1h0M424.4 565.7h0M153.0 497.6h0M140.5 544.6h0M430.1 558.4h0M444.3 540.8h0M378.1 314.9h0M503.5 467.3h0M515.7 445.8h0M532.7 264.3h0M322.5 684.1h0M340.7 657.8h0M514.6 247.7h0M411.1 578.5h0M204.1 423.9h0M512.2 246.8h0"/><path stroke="#3e4c8a" d="M149.6 512.1h0M218.3 414.4h0M139.1 677.0h0M491.2 241.4h0M423.6 563.8h0M510.0 246.1h0M168.4 465.1h0M475.2 505.0h0M286.9 363.5h0M277.7 370.8h0M219.5 414.3h0M307.8 349.1h0M490.3 485.8h0M318.2 687.2h0M198.3 429.8h0M523.6 429.5h0M326.2 339.6h0M476.9 502.4h0M415.7 287.9h0M328.3 338.8h0M278.9 370.6h0M142.0 544.1h0M324.6 340.9h0M391.2 592.0h0M441.4 540.6h0M520.4 434.5h0M399.9 584.6h0M440.8 541.0h0M333.2 665.2h0M528.3 262.3h0M341.8 651.9h0M476.7 245.7h0M462.2 516.9h0M213.3 420.6h0M553.5 366.4h0M532.7 411.2h0M556.3 357.6h0M406.1 297.9h0M220.6 416.4h0M398.7 304.7h0M419.2 287.2h0M423.9 283.1h0M161.7 483.2h0"/><path stroke="#3c508b" d="M533.7 269.7h0M471.3 505.5h0M136.7 573.2h0M262.5 386.9h0M478.0 246.8h0M307.4 353.3h0M165.1 476.8h0M253.5 394.5h0M503.6 460.7h0M349.1 334.1h0M535.1 404.5h0M461.4 255.5h0M305.5 356.0h0M415.3 292.3h0M487.7 484.1h0M554.7 359.0h0M482.5 246.6h0M431.3 547.6h0M136.0 651.6h0M461.6 255.9h0M134.1 595.5h0M551.0 368.9h0M550.9 369.0h0M336.8 340.3h0M338.7 651.0h0M466.6 253.4h0M198.0 437.1h0M357.3 332.4h0M172.8 466.4h0M187.9 447.2h0M219.1 421.2h0M512.9 253.4h0M444.6 268.8h0M187.8 447.9h0M484.2 247.4h0M361.1 331.5h0M419.1 559.3h0"/><path stroke="#3a548c" d="M155.4 506.8h0M223.8 419.0h0M337.3 341.6h0M344.4 338.8h0M456.1 261.0h0M480.2 490.9h0M469.9 502.6h0M558.4 339.8h0M219.2 422.7h0M519.4 429.9h0M552.8 361.1h0M424.0 287.3h0M312.7 354.7h0M475.2 496.3h0M332.9 656.6h0M156.2 506.4h0M134.9 639.1h0M281.4 377.1h0M295.4 366.5h0M360.1 615.6h0M199.6 438.8h0M476.2 494.4h0M323.3 349.6h0M278.6 379.6h0M558.8 324.2h0M268.5 388.2h0M347.8 339.3h0M392.1 315.9h0M206.2 434.3h0M359.9 614.7h0M452.9 265.0h0M187.5 452.1h0M408.2 566.7h0M146.8 687.1h0M540.9 387.5h0M171.7 473.9h0M328.2 660.9h0M371.3 330.0h0M252.4 402.1h0M136.9 588.6h0M172.6 472.7h0M305.4 361.9h0"/><path stroke="#38598c" d="M520.1 426.1h0M476.3 492.1h0M532.6 403.5h0M483.5 483.3h0M434.7 280.4h0M416.1 557.7h0M537.9 393.0h0M538.7 391.3h0M244.1 409.0h0M516.9 260.1h0M385.0 586.6h0M385.0 322.6h0M417.8 555.4h0M484.5 481.5h0M271.6 388.0h0M350.5 340.2h0M308.0 683.6h0M518.8 427.6h0M297.6 368.1h0M220.3 426.2h0M548.1 369.5h0M194.1 447.5h0M557.2 320.8h0M485.9 479.0h0M355.0 338.8h0M306.4 684.4h0M247.7 407.4h0M474.6 492.6h0M399.4 312.7h0M152.6 525.3h0M334.6 649.0h0M308.3 682.2h0M238.7 414.4h0M536.8 393.7h0M416.9 554.8h0M371.2 332.0h0M160.8 500.9h0M374.2 595.1h0M252.0 405.2h0M261.2 398.1h0M372.4 596.8h0M490.4 251.6h0M171.5 478.4h0M425.2 291.0h0M379.8 589.0h0M196.9 447.0h0M309.6 362.1h0M478.3 486.7h0M427.7 289.0h0M544.7 291.6h0M204.2 440.8h0M297.3 689.2h0M483.4 480.0h0M175.1 473.5h0M398.4 315.3h0M136.6 603.3h0M319.9 667.0h0M344.1 632.1h0M383.3 585.0h0M431.9 536.0h0M514.0 433.2h0M360.2 338.7h0M246.4 410.8h0M272.2 390.6h0M227.0 424.4h0"/><path stroke="#365d8d" d="M289.4 377.1h0M395.3 318.0h0M168.7 485.2h0M304.5 682.8h0M464.9 260.7h0M236.8 418.0h0M475.4 255.7h0M332.7 648.7h0M144.3 662.6h0M422.8 294.6h0M188.0 457.8h0M145.2 556.4h0M304.7 366.7h0M315.3 671.1h0M474.2 256.6h0M296.7 372.5h0M555.0 317.7h0M219.3 430.8h0M361.2 607.0h0M167.7 488.8h0M278.4 386.9h0M430.0 536.6h0M525.9 411.6h0M254.8 406.0h0M402.1 566.0h0M522.0 418.1h0M553.3 347.3h0M445.1 519.1h0M163.0 500.8h0M433.9 531.4h0M253.5 407.6h0M472.8 257.9h0M475.4 257.1h0M446.2 275.3h0M554.9 335.2h0M462.6 500.7h0M169.0 488.0h0M363.7 602.7h0M212.0 438.0h0M377.4 587.9h0M292.2 377.6h0M490.0 254.7h0M545.6 369.7h0M400.7 565.9h0M285.8 383.0h0M383.9 328.9h0"/><path stroke="#34618d" d="M166.4 495.4h0M341.6 631.4h0M407.6 310.9h0M456.7 268.5h0M182.6 468.1h0M337.2 637.7h0M429.4 534.2h0M321.4 659.9h0M397.2 567.3h0M329.2 648.4h0M484.8 472.7h0M295.8 682.9h0M327.0 651.1h0M354.9 610.7h0M321.1 658.9h0M350.3 616.8h0M302.6 677.9h0M180.8 472.3h0M523.8 411.6h0M475.6 483.4h0M470.2 489.3h0M151.5 541.6h0M294.4 683.0h0M209.5 443.3h0M368.7 593.9h0M429.6 531.9h0M254.4 410.9h0M360.3 603.4h0M273.4 395.7h0M495.1 257.3h0M352.2 613.5h0M275.2 394.4h0M148.7 551.9h0M375.9 335.9h0M452.8 506.6h0M241.9 420.5h0M433.2 527.2h0M401.9 561.0h0M362.7 343.0h0M305.7 673.6h0M291.6 682.9h0M551.7 343.7h0"/><path stroke="#32658e" d="M169.7 493.8h0M362.1 343.8h0M491.3 461.2h0M552.0 318.5h0M438.8 519.6h0M183.6 471.4h0M151.6 545.1h0M421.0 302.5h0M313.9 664.0h0M140.8 593.2h0M494.1 456.5h0M280.3 685.9h0M550.0 349.7h0M381.1 578.9h0M377.3 582.5h0M162.6 512.7h0M212.9 443.6h0M280.0 685.6h0M433.0 524.7h0M216.3 441.3h0M160.3 519.6h0M438.7 518.4h0M214.1 443.0h0M549.9 348.8h0M278.0 685.8h0M497.6 260.0h0M385.7 332.0h0M255.7 413.4h0M489.9 461.5h0M387.5 571.9h0M299.9 377.8h0M512.4 427.2h0M392.2 567.1h0M296.5 676.6h0M350.2 612.1h0M291.0 679.1h0M366.4 343.9h0M509.0 432.0h0M298.6 379.5h0M248.4 420.0h0M436.0 290.3h0M458.2 496.9h0M434.1 292.3h0M492.1 457.1h0M549.1 312.7h0M351.6 609.4h0"/><path stroke="#30698e" d="M546.5 357.9h0M265.2 408.0h0M510.0 429.5h0M271.5 684.9h0M140.6 612.7h0M260.4 412.2h0M153.1 674.1h0M231.2 433.6h0M507.8 265.7h0M353.1 606.4h0M437.8 515.9h0M267.2 685.8h0M303.4 377.4h0M198.4 459.9h0M140.9 611.1h0M300.5 670.9h0M417.7 308.8h0M241.4 427.2h0M457.5 273.8h0M392.2 564.5h0M321.4 650.2h0M157.2 688.4h0M170.9 498.8h0M332.0 635.7h0M171.6 497.3h0M256.0 692.1h0M332.5 360.5h0M413.1 542.7h0M526.6 400.6h0M271.6 404.1h0M290.4 675.6h0M160.2 526.3h0M153.5 672.6h0M145.3 577.0h0M306.0 665.7h0M548.9 315.8h0M524.9 403.4h0M375.7 579.6h0M406.2 549.4h0M465.3 487.0h0M521.4 409.2h0M420.7 533.3h0M256.1 690.7h0M151.5 553.2h0M183.8 478.1h0M449.1 502.8h0M301.4 380.2h0M434.2 517.9h0M410.1 544.9h0M185.0 476.8h0M548.2 347.5h0M260.4 414.7h0M160.0 528.4h0M275.8 401.8h0M258.8 416.2h0M161.1 525.6h0M175.6 491.9h0M180.2 484.2h0M145.5 641.4h0M480.7 468.9h0M305.5 377.8h0M163.1 520.6h0M550.0 331.3h0M546.4 353.9h0M497.8 263.9h0"/><path stroke="#2e6d8e" d="M483.2 465.5h0M147.1 646.1h0M292.7 671.9h0M204.2 457.5h0M183.0 480.9h0M233.9 435.1h0M241.9 429.6h0M149.4 562.6h0M147.2 645.7h0M491.1 454.3h0M509.2 427.5h0M267.9 680.9h0M549.0 340.4h0M313.0 656.4h0M323.1 644.5h0M438.8 511.2h0M370.5 345.7h0M167.0 512.3h0M176.0 493.0h0M404.4 548.9h0M241.7 430.5h0M478.9 469.8h0M459.9 274.6h0M323.7 367.5h0M430.3 519.4h0M436.6 294.1h0M520.5 408.3h0M245.9 428.2h0M145.7 638.2h0M334.1 628.1h0M338.0 360.7h0M532.3 289.2h0M307.2 660.2h0M441.5 507.1h0M493.0 450.3h0M480.2 265.5h0M547.9 318.7h0M179.3 489.2h0M516.5 414.5h0M381.5 570.2h0M415.0 535.6h0M422.1 308.3h0M314.7 373.6h0M384.9 338.5h0M179.2 489.8h0M142.9 618.6h0M474.4 267.8h0M530.3 389.5h0M469.8 270.0h0M324.0 640.4h0M312.5 653.8h0M147.6 574.3h0M475.0 267.9h0M337.5 361.9h0M210.7 455.4h0M288.7 669.3h0M284.7 397.6h0M285.2 670.4h0M382.5 568.0h0M393.4 557.4h0M282.2 399.9h0M179.0 491.6h0"/><path stroke="#2d718e" d="M155.3 667.6h0M416.7 532.0h0M266.7 677.1h0M326.0 368.0h0M207.0 459.3h0M306.6 658.2h0M528.3 392.5h0M411.0 319.8h0M409.4 321.2h0M156.9 672.6h0M469.1 271.3h0M462.2 275.4h0M312.5 651.7h0M429.5 303.3h0M305.9 657.5h0M439.1 506.3h0M404.3 544.3h0M270.8 673.4h0M432.0 513.5h0M156.6 669.6h0M234.9 439.5h0M207.9 459.8h0M301.7 660.4h0M221.5 449.2h0M162.3 530.4h0M155.6 548.7h0M289.1 395.4h0M297.7 662.5h0M507.9 425.6h0M445.0 289.2h0M357.0 593.1h0M422.1 523.7h0M334.3 365.1h0M520.6 280.4h0M480.3 267.8h0M176.7 498.6h0M396.0 333.0h0M213.0 456.3h0M333.5 624.4h0M161.0 534.6h0M421.8 311.2h0M511.0 420.4h0M492.6 447.4h0M405.7 541.6h0M444.0 290.7h0M504.5 430.0h0M290.5 664.4h0M504.1 430.6h0M329.2 629.6h0M148.6 640.1h0M324.2 636.3h0M307.5 654.4h0M473.5 471.1h0M359.4 589.0h0M405.6 541.0h0M181.4 491.9h0M155.7 662.4h0M470.4 272.1h0M498.8 268.8h0M460.4 278.1h0M394.3 552.4h0M209.1 461.1h0"/><path stroke="#2b748e" d="M147.7 635.6h0M214.0 457.1h0M276.1 408.9h0M247.5 432.9h0M159.5 676.1h0M161.8 683.3h0M405.9 539.7h0M344.9 606.6h0M232.3 443.9h0M261.5 675.2h0M375.4 347.8h0M326.9 631.1h0M314.1 646.4h0M213.7 458.1h0M354.1 594.0h0M244.4 687.8h0M391.5 337.8h0M179.0 498.1h0M163.1 685.4h0M390.1 555.4h0M444.5 497.9h0M365.4 353.4h0M410.5 323.2h0M443.8 498.4h0M455.9 282.2h0M247.0 434.6h0M162.8 533.6h0M443.6 498.3h0M269.0 669.5h0M342.5 363.6h0M392.3 552.4h0M544.1 315.5h0M199.0 472.5h0M516.5 409.2h0M509.9 419.7h0M196.8 475.3h0M327.5 628.5h0M450.1 287.5h0M546.1 331.8h0M344.6 604.7h0M189.4 484.3h0M333.5 368.2h0M299.1 656.0h0M388.8 340.9h0M198.6 473.9h0M218.4 456.4h0M312.8 645.3h0M470.6 471.4h0M203.5 469.2h0M160.5 673.9h0M376.5 567.0h0M391.9 551.4h0M349.2 597.9h0M416.7 524.3h0M273.8 413.7h0M145.7 614.3h0M342.2 607.3h0M264.3 670.6h0M282.9 662.1h0M423.0 313.0h0M289.8 398.8h0M159.4 544.2h0M379.0 564.1h0M287.4 401.1h0M461.1 480.7h0M317.2 377.7h0M257.2 428.7h0M476.7 271.8h0M145.9 606.0h0M530.8 382.5h0M478.4 462.1h0M274.0 664.9h0M290.1 658.8h0M402.3 331.5h0M419.2 520.7h0"/><path stroke="#2a788e" d="M396.3 545.7h0M446.2 291.8h0M494.3 441.0h0M471.9 469.1h0M405.0 329.6h0M220.4 456.4h0M163.0 536.2h0M175.8 508.4h0M149.8 636.1h0M147.9 628.4h0M160.6 542.2h0M174.2 511.7h0M371.3 570.7h0M161.3 540.7h0M315.8 379.3h0M408.2 531.8h0M265.8 668.0h0M458.1 482.4h0M160.4 669.5h0M503.2 273.3h0M219.1 458.1h0M454.8 285.2h0M517.1 406.1h0M282.8 659.9h0M254.6 432.4h0M285.5 404.3h0M303.2 388.8h0M166.9 687.7h0M472.6 467.4h0M449.3 490.0h0M177.5 506.7h0M238.7 444.4h0M493.7 271.2h0M302.6 650.4h0M430.6 506.9h0M501.2 273.1h0M385.3 555.1h0M540.9 310.8h0M276.9 413.1h0M202.9 473.0h0M341.2 366.7h0M506.5 422.1h0M304.2 388.5h0M238.6 444.9h0M383.5 556.7h0M231.7 449.8h0M378.5 561.7h0M183.6 497.0h0M313.4 641.0h0M304.0 648.8h0M183.3 497.8h0M376.2 563.6h0M294.0 653.9h0M473.8 465.0h0M358.4 582.8h0M532.1 377.5h0M161.0 668.0h0M452.7 287.9h0M376.8 562.5h0M415.3 322.4h0M293.3 653.7h0M491.0 271.7h0M322.5 376.6h0M156.9 555.3h0M150.0 632.3h0M147.8 621.3h0M231.1 692.1h0M479.8 457.8h0M397.8 540.4h0M165.0 680.5h0M224.5 456.3h0M371.3 567.8h0M532.8 375.5h0M149.4 629.8h0M278.8 412.5h0M180.1 504.5h0M301.0 649.2h0M170.6 691.3h0M446.8 490.3h0M480.7 456.2h0M418.5 319.9h0M414.0 522.0h0M156.6 651.0h0M273.7 660.7h0M382.8 347.8h0M411.7 524.1h0M234.0 450.1h0"/><path stroke="#287c8e" d="M148.2 622.0h0M197.3 481.4h0M402.5 334.0h0M470.1 468.0h0M178.9 507.7h0M372.0 354.3h0M480.7 273.4h0M382.4 554.9h0M238.4 684.3h0M537.0 305.1h0M346.6 595.7h0M317.8 633.6h0M319.7 379.3h0M177.2 511.1h0M205.5 473.7h0M286.1 406.4h0M418.0 516.4h0M441.2 494.3h0M313.2 638.1h0M464.8 472.9h0M403.5 531.9h0M230.0 690.8h0M393.7 542.2h0M333.9 372.0h0M346.5 595.0h0M211.5 469.0h0M302.7 645.7h0M525.8 291.5h0M428.1 505.4h0M265.8 663.0h0M436.2 304.4h0M149.1 623.1h0M299.1 647.4h0M148.1 603.3h0M206.3 474.5h0M199.4 481.5h0M232.4 453.3h0M539.0 357.3h0M391.6 543.1h0M167.0 680.5h0M537.9 360.5h0M411.9 521.1h0M246.3 676.0h0M267.7 425.8h0M481.5 453.2h0M350.5 365.4h0M319.0 629.9h0M175.3 517.0h0M339.0 370.5h0M163.8 670.2h0M421.3 510.6h0M275.0 656.9h0M315.1 633.5h0M301.1 644.9h0M268.1 660.3h0M202.4 479.7h0M438.8 494.2h0M319.4 628.6h0M356.4 580.0h0M309.2 638.7h0M536.2 305.9h0M153.3 572.3h0M453.0 481.8h0M311.2 636.7h0M418.9 512.3h0M159.2 652.7h0M250.7 441.5h0M455.3 288.5h0M179.3 511.3h0M275.8 419.2h0M279.5 653.9h0M161.7 547.3h0M353.3 583.1h0M392.2 540.0h0"/><path stroke="#27808e" d="M412.3 328.1h0M283.2 412.0h0M161.2 658.7h0M408.6 331.4h0M203.6 479.6h0M247.3 444.5h0M342.2 597.5h0M431.2 310.7h0M185.8 501.7h0M339.0 601.6h0M402.0 336.9h0M381.5 550.7h0M206.5 477.1h0M238.5 451.2h0M399.5 531.5h0M426.4 503.9h0M342.7 370.1h0M520.3 395.6h0M509.3 280.7h0M381.6 550.0h0M152.7 576.9h0M177.2 516.4h0M165.3 539.9h0M511.9 282.5h0M391.4 539.2h0M319.0 382.7h0M176.7 517.9h0M237.4 679.7h0M233.2 683.1h0M367.9 563.5h0M277.7 419.1h0M170.0 681.7h0M170.3 682.0h0M205.1 480.3h0M500.2 426.0h0M389.5 540.2h0M537.7 357.5h0M332.5 375.6h0M517.0 400.2h0M515.7 285.6h0M224.7 688.8h0M330.4 376.8h0M383.3 546.2h0M318.9 625.5h0M189.7 498.7h0M310.7 389.1h0M225.2 463.1h0M473.3 459.9h0M369.4 560.8h0M194.6 492.7h0M266.0 431.4h0M325.9 379.5h0M283.0 414.5h0M315.4 628.5h0M217.9 469.8h0M422.4 504.9h0M300.5 640.1h0M240.7 675.2h0M483.0 276.8h0M381.6 546.0h0M515.6 401.6h0M306.2 635.9h0M169.9 678.4h0M166.2 540.9h0M447.0 297.9h0"/><path stroke="#25838e" d="M154.8 572.4h0M366.9 561.2h0M347.1 586.1h0M399.9 526.2h0M345.5 588.1h0M355.5 574.9h0M255.0 442.4h0M319.0 623.0h0M492.8 434.5h0M521.2 391.6h0M187.6 504.3h0M378.3 548.1h0M176.7 521.3h0M432.0 495.2h0M320.9 620.3h0M319.6 621.9h0M323.1 617.6h0M515.1 401.6h0M165.1 544.0h0M164.3 660.6h0M405.8 519.2h0M377.8 548.0h0M187.3 505.1h0M242.2 672.6h0M496.8 277.9h0M456.7 290.4h0M354.8 574.7h0M155.2 572.3h0M228.5 463.2h0M312.4 389.6h0M502.0 279.6h0M157.3 639.5h0M218.2 689.7h0M314.0 627.0h0M245.0 451.1h0M180.1 690.5h0M308.1 632.0h0M333.6 602.7h0M367.5 558.1h0M178.4 688.6h0M166.5 541.8h0M531.0 371.4h0M375.5 358.0h0M153.3 626.4h0M292.8 407.1h0M352.0 576.7h0M472.3 458.3h0M266.4 654.7h0M332.2 603.7h0M228.9 681.3h0M257.8 442.2h0M348.6 371.1h0M178.9 519.7h0M392.2 347.8h0M333.8 601.0h0M387.6 534.9h0M227.7 465.5h0M354.7 368.7h0M466.4 463.9h0M173.4 680.5h0M340.0 375.1h0M155.7 633.0h0M217.1 688.6h0M162.6 552.2h0M378.5 543.8h0M239.9 456.7h0M165.1 546.4h0M452.8 475.9h0M224.7 683.1h0M533.5 364.2h0M298.8 636.2h0M240.9 671.1h0M365.6 364.1h0M183.9 513.1h0M324.3 612.6h0M361.2 562.4h0M379.5 541.8h0M490.8 435.0h0M328.3 381.3h0M527.8 376.9h0M480.4 279.6h0M153.5 624.0h0M157.9 637.4h0"/><path stroke="#24878e" d="M170.5 536.0h0M380.9 539.4h0M285.4 642.5h0M503.8 282.0h0M162.0 555.0h0M410.0 510.7h0M474.3 281.8h0M316.0 621.0h0M373.8 546.3h0M227.5 680.1h0M413.2 507.6h0M411.4 333.9h0M351.2 371.3h0M152.0 612.8h0M340.2 376.1h0M168.8 540.0h0M405.8 514.2h0M260.8 441.9h0M390.7 528.6h0M419.7 501.5h0M169.2 668.3h0M306.1 629.5h0M225.4 469.6h0M233.9 462.9h0M247.7 664.7h0M467.7 285.3h0M461.4 467.0h0M354.7 568.0h0M294.3 408.0h0M435.0 488.7h0M362.2 366.8h0M229.0 467.0h0M419.9 326.7h0M443.6 481.8h0M323.9 610.7h0M455.1 294.0h0M161.6 644.9h0M350.5 573.5h0M375.4 360.0h0M401.8 342.4h0M319.4 387.7h0M482.2 280.1h0M398.5 520.0h0M497.1 425.2h0M178.1 524.3h0M531.6 367.1h0M287.2 640.0h0M202.1 492.8h0M215.5 479.3h0M175.6 679.9h0M341.0 376.6h0M377.7 359.2h0M499.2 281.3h0M361.0 367.9h0M165.1 549.3h0M349.4 573.6h0M331.9 598.9h0M294.2 408.9h0M267.7 650.3h0M368.5 548.6h0M530.5 304.6h0M438.4 484.9h0M490.1 279.9h0M234.2 464.2h0M248.2 453.6h0M502.9 282.8h0M167.2 659.3h0M332.2 597.8h0M183.1 686.8h0M248.0 454.0h0M165.3 549.3h0M539.0 336.4h0M400.4 516.6h0M351.3 569.4h0M388.0 527.9h0M525.2 379.8h0M349.8 571.4h0M340.5 585.0h0M374.6 540.5h0M154.8 623.3h0M167.7 659.2h0M390.5 524.9h0M321.6 387.6h0M221.4 476.0h0M327.8 602.5h0M354.7 563.2h0M356.7 370.8h0M525.1 298.8h0M205.5 688.4h0M405.0 511.1h0"/><path stroke="#228b8d" d="M262.8 651.8h0M299.0 630.5h0M256.9 448.3h0M153.7 592.4h0M538.0 325.2h0M338.4 586.2h0M275.0 644.1h0M538.0 342.0h0M243.8 664.4h0M516.1 395.1h0M193.9 505.7h0M164.0 554.0h0M397.1 517.2h0M153.5 612.1h0M321.5 388.4h0M307.9 398.2h0M472.3 285.0h0M309.2 621.4h0M170.1 662.8h0M477.2 447.9h0M366.8 544.6h0M537.4 343.8h0M206.3 686.5h0M362.6 549.2h0M532.4 309.9h0M297.2 630.0h0M337.6 585.2h0M426.3 491.5h0M357.3 555.3h0M278.4 640.8h0M498.2 282.8h0M306.3 400.2h0M320.9 608.3h0M439.9 481.0h0M339.8 581.3h0M172.1 667.4h0M303.4 625.3h0M276.9 430.8h0M252.1 657.2h0M440.9 309.1h0M235.7 466.5h0M444.6 477.4h0M336.9 585.5h0M234.0 670.0h0M232.5 469.1h0M335.9 586.8h0M167.3 547.8h0M473.2 285.1h0M263.5 649.5h0M536.5 347.4h0M463.3 461.7h0M456.6 467.6h0M179.1 678.8h0M353.3 559.3h0M237.4 465.5h0M223.1 477.4h0M220.1 679.0h0M520.3 295.6h0M274.4 434.1h0M249.8 658.3h0M330.0 594.6h0M231.5 470.6h0M184.0 682.6h0M241.9 462.7h0M512.3 399.6h0M456.7 467.0h0M314.6 394.6h0M537.5 338.0h0M160.0 567.6h0M188.2 515.7h0M330.9 592.2h0M213.6 487.5h0M250.8 656.8h0M295.7 411.5h0M267.7 645.7h0M313.4 614.4h0M430.4 320.1h0M416.2 497.6h0M409.1 339.9h0M326.2 598.4h0M169.6 657.3h0M492.9 427.1h0M353.0 556.3h0M378.9 528.8h0M363.3 543.3h0M247.3 658.8h0M356.5 550.9h0M170.1 658.1h0M365.2 369.4h0M370.1 536.2h0M207.4 683.4h0M281.7 636.6h0M357.0 550.1h0"/><path stroke="#218f8d" d="M161.2 634.8h0M460.6 293.3h0M421.1 329.4h0M340.3 380.8h0M464.1 291.0h0M488.3 432.5h0M210.6 681.9h0M467.0 456.5h0M537.0 328.5h0M176.1 534.1h0M346.3 378.5h0M437.3 480.5h0M357.2 548.0h0M281.2 428.9h0M351.2 555.7h0M410.6 339.3h0M333.2 585.6h0M312.9 397.2h0M180.8 677.3h0M222.3 674.9h0M306.0 619.0h0M187.7 682.3h0M440.0 311.7h0M305.9 403.1h0M511.9 399.1h0M508.4 288.7h0M402.5 507.1h0M278.2 432.6h0M444.0 475.3h0M526.8 303.9h0M502.6 286.1h0M279.8 636.3h0M367.7 369.1h0M227.5 671.0h0M164.5 640.5h0M412.1 498.7h0M215.7 678.0h0M325.7 595.4h0M317.4 606.4h0M266.4 644.3h0M226.0 671.7h0M301.2 621.8h0M527.2 304.9h0M309.6 614.4h0M509.4 289.7h0M272.0 640.4h0M325.8 594.7h0M189.9 682.0h0M267.8 642.9h0M362.6 538.6h0M355.4 545.9h0M165.1 557.0h0M331.3 585.0h0M449.2 303.8h0M226.2 479.3h0M307.3 403.0h0M296.8 624.1h0M463.6 458.3h0M320.3 601.2h0M453.4 300.3h0M254.8 456.5h0M195.9 682.5h0M380.5 362.7h0M304.8 617.7h0M277.4 435.2h0M356.3 544.1h0M313.2 609.6h0M163.7 560.6h0M289.4 421.4h0M257.6 454.4h0M183.9 677.8h0M477.8 285.9h0M434.1 480.9h0M522.9 379.0h0M241.4 659.9h0M155.6 607.9h0M357.4 542.1h0M462.7 458.7h0M225.3 670.7h0M188.3 680.1h0M236.5 471.3h0M329.5 586.3h0M431.3 482.5h0M491.8 426.1h0M427.6 325.0h0M337.6 571.6h0M362.9 535.9h0M257.5 648.4h0M275.2 438.5h0M193.7 681.4h0M310.7 400.8h0M382.5 520.0h0M260.2 453.2h0M175.1 664.5h0M286.9 425.1h0M535.7 341.2h0M287.1 629.2h0M438.8 314.2h0M272.4 441.9h0M158.3 579.6h0M285.5 630.2h0M531.5 358.9h0M320.2 599.2h0M270.4 444.1h0M473.4 447.6h0"/><path stroke="#20928c" d="M335.6 573.6h0M206.9 499.9h0M478.8 286.2h0M376.9 365.7h0M333.4 577.0h0M171.1 653.2h0M239.2 470.3h0M225.8 481.6h0M518.8 385.6h0M410.1 497.0h0M158.0 619.5h0M353.5 542.3h0M413.1 339.3h0M271.9 637.9h0M406.3 499.9h0M350.7 545.2h0M314.3 605.0h0M274.2 441.1h0M210.0 497.5h0M234.5 474.5h0M199.9 508.1h0M227.2 480.7h0M270.6 638.6h0M250.1 652.1h0M263.1 452.1h0M262.6 643.6h0M239.8 470.5h0M354.5 540.0h0M277.6 437.6h0M459.3 460.4h0M397.6 506.2h0M395.2 508.0h0M453.6 301.4h0M322.9 393.4h0M332.6 575.1h0M475.4 444.5h0M212.5 495.6h0M326.7 586.1h0M276.1 439.7h0M157.7 586.0h0M406.5 498.9h0M334.4 571.1h0M368.9 527.0h0M241.7 657.3h0M346.0 549.0h0M332.6 574.3h0M420.2 488.2h0M265.8 450.6h0M491.7 285.8h0M286.9 627.0h0M357.8 535.0h0M489.1 285.7h0M419.7 488.4h0M167.5 554.5h0M306.4 611.5h0M348.0 544.9h0M346.4 547.0h0M288.0 626.1h0M203.7 505.4h0M160.7 625.5h0M157.7 587.3h0M344.5 549.0h0M181.4 531.1h0M224.8 484.6h0M213.4 674.5h0M285.9 627.1h0M496.3 418.4h0M258.0 645.3h0M210.5 675.5h0M328.0 580.7h0M209.5 500.0h0M316.8 598.7h0M416.9 337.0h0M378.1 518.8h0M366.2 526.9h0M289.9 623.9h0M343.6 548.4h0M533.9 346.4h0M201.0 677.9h0M362.9 528.9h0M189.7 521.3h0M480.4 287.2h0M191.3 677.2h0M530.1 360.0h0M181.1 532.1h0M308.0 405.9h0M271.7 635.7h0M257.7 458.9h0M286.4 626.0h0M518.1 298.2h0M422.2 332.3h0M210.4 499.7h0M373.8 521.0h0M238.3 658.1h0M332.0 570.1h0M205.6 504.7h0M164.9 561.9h0M236.7 659.1h0M494.7 286.9h0M182.7 671.1h0M403.1 499.4h0M418.5 487.7h0M404.5 498.3h0M186.6 525.5h0M338.8 386.5h0M319.3 397.4h0M460.2 457.9h0M312.3 602.5h0M423.6 484.0h0M336.9 557.3h0M397.1 354.3h0M172.3 650.8h0M160.2 577.2h0M342.2 547.4h0M323.3 394.9h0M468.5 292.3h0M376.3 518.3h0M401.0 351.4h0M477.3 288.5h0M466.4 452.1h0M212.2 673.4h0M335.6 388.4h0"/><path stroke="#1f968b" d="M342.7 545.8h0M430.6 478.9h0M201.7 509.5h0M180.7 533.5h0M258.6 643.3h0M157.4 596.2h0M267.7 451.7h0M379.8 515.4h0M251.2 465.2h0M348.5 537.7h0M476.5 289.0h0M240.2 655.7h0M176.1 659.1h0M222.3 667.5h0M325.2 580.3h0M488.8 426.8h0M310.2 405.3h0M171.1 646.4h0M298.5 416.8h0M210.7 501.0h0M215.2 496.5h0M239.5 655.9h0M360.1 377.5h0M220.0 668.5h0M202.1 509.9h0M284.7 625.2h0M433.3 476.5h0M341.1 545.1h0M335.3 555.2h0M465.2 452.5h0M486.8 287.2h0M479.0 438.2h0M235.2 478.3h0M492.0 422.4h0M328.1 571.5h0M276.8 630.1h0M190.0 674.3h0M354.5 530.3h0M502.7 290.0h0M383.4 364.9h0M350.3 533.4h0M172.0 647.5h0M398.8 500.5h0M200.8 675.3h0M276.9 443.9h0M192.9 674.9h0M361.9 524.5h0M372.1 371.9h0M341.7 541.6h0M319.1 588.3h0M360.7 377.9h0M284.0 624.5h0M298.7 613.1h0M365.6 375.5h0M361.3 377.7h0M165.5 562.7h0M435.5 320.7h0M229.2 661.7h0M305.1 411.1h0M267.4 635.6h0M420.6 335.4h0M169.0 639.4h0M323.7 578.0h0M533.7 341.4h0M243.2 651.9h0M416.6 339.2h0M441.1 470.2h0M318.1 588.8h0M230.3 483.8h0M394.1 503.0h0M350.4 383.2h0M378.7 368.5h0M196.1 674.6h0M395.3 502.1h0M438.9 317.6h0M464.1 452.7h0M278.6 627.6h0M479.1 289.1h0M185.2 529.6h0M255.7 642.9h0M399.9 353.8h0M387.4 363.1h0M532.4 322.4h0M322.7 578.5h0M304.9 412.0h0M314.4 403.5h0M192.3 673.4h0M220.5 666.2h0M273.5 449.4h0M529.8 357.6h0M193.0 673.5h0M334.5 391.1h0M381.3 510.9h0M284.6 436.6h0M496.5 288.9h0M533.4 341.9h0M199.8 673.8h0M374.9 514.6h0M514.5 388.9h0M221.3 493.0h0M389.6 361.8h0M165.0 629.4h0M356.1 381.1h0M530.1 316.4h0M349.4 529.0h0M273.4 630.0h0M297.6 420.6h0M391.8 503.2h0M229.2 486.2h0M360.8 521.4h0M160.9 618.1h0M517.0 384.3h0M426.8 478.2h0M463.4 452.4h0M356.8 381.2h0M264.9 635.4h0M455.9 458.6h0M295.5 423.6h0M373.8 514.1h0M197.6 673.1h0M340.8 535.8h0M224.3 491.1h0M446.5 311.1h0M453.8 304.6h0M451.4 306.7h0"/><path stroke="#1f9a8a" d="M276.1 627.4h0M303.9 604.2h0M228.4 660.0h0M532.4 345.9h0M164.0 569.2h0M498.5 412.1h0M281.0 443.2h0M169.5 555.6h0M297.6 610.2h0M462.4 452.8h0M337.5 538.2h0M259.2 463.9h0M191.5 671.3h0M487.8 288.8h0M320.1 577.4h0M501.5 291.2h0M200.5 672.1h0M444.4 466.2h0M406.5 491.2h0M352.9 383.7h0M325.7 397.3h0M472.3 443.1h0M407.6 490.4h0M179.5 659.1h0M289.1 433.1h0M301.7 605.3h0M350.2 524.9h0M399.0 355.9h0M358.5 519.8h0M399.0 356.0h0M318.7 402.3h0M252.8 642.1h0M325.1 560.6h0M343.1 529.5h0M307.0 412.4h0M284.3 619.9h0M242.2 649.3h0M339.8 532.3h0M401.8 493.8h0M365.5 378.0h0M341.0 530.9h0M409.2 488.4h0M519.4 379.1h0M342.4 529.4h0M342.9 528.9h0M337.0 535.4h0M282.8 443.0h0M200.7 515.8h0M280.4 622.4h0M207.8 509.1h0M175.3 546.1h0M189.0 528.0h0M297.3 424.0h0M305.3 599.2h0M281.9 621.0h0M514.0 298.4h0M268.4 630.6h0M165.6 627.2h0M234.6 484.1h0M369.3 376.4h0M384.7 504.6h0M236.1 652.8h0M309.4 592.8h0M287.1 616.7h0M339.1 530.8h0M322.6 562.4h0M395.3 359.5h0M319.2 572.5h0M415.1 483.5h0M274.2 453.9h0M340.7 528.9h0M219.7 663.3h0M389.0 501.7h0M328.2 397.1h0M217.5 500.3h0M256.5 468.2h0M438.6 468.5h0M207.7 668.6h0M176.2 649.5h0M208.8 509.0h0M425.9 332.6h0M276.8 451.9h0M339.9 528.7h0M208.1 668.4h0M393.2 361.4h0M308.9 592.3h0M321.0 402.1h0M268.4 459.9h0M160.0 591.8h0M170.6 555.4h0M314.4 581.9h0M328.6 397.4h0M303.9 417.3h0M384.3 367.8h0M249.0 473.9h0M532.0 343.5h0M532.6 333.0h0M169.3 558.4h0M213.9 504.5h0M313.3 408.3h0M228.4 657.1h0M245.5 645.3h0M317.6 572.7h0M195.8 521.9h0M301.2 420.8h0M317.7 572.2h0M227.1 491.9h0M239.8 481.1h0M306.8 414.6h0M329.5 541.3h0M327.7 544.7h0M280.7 448.9h0M370.9 510.3h0M499.4 291.7h0M459.1 453.7h0M333.9 394.9h0M310.1 588.3h0M286.0 442.1h0M248.8 474.7h0M319.2 404.1h0M165.8 567.3h0M452.8 458.3h0M160.3 592.0h0M500.1 408.0h0M317.4 570.9h0M292.8 609.6h0M291.4 611.0h0M468.3 445.3h0M312.9 581.4h0M324.4 549.6h0M312.0 410.3h0M204.5 514.4h0M513.2 388.3h0M291.8 435.0h0M297.8 603.7h0M355.3 515.1h0M320.1 559.7h0M292.3 434.5h0M477.1 292.4h0M500.1 292.3h0"/><path stroke="#1f9e89" d="M383.7 502.5h0M205.8 513.4h0M364.4 511.3h0M319.8 559.6h0M311.7 581.6h0M316.1 407.5h0M353.1 515.1h0M233.1 488.1h0M302.2 421.5h0M194.8 667.6h0M287.5 442.9h0M509.5 393.8h0M418.1 341.3h0M374.3 506.5h0M515.6 383.7h0M213.3 664.0h0M303.8 594.4h0M328.7 536.4h0M248.4 476.8h0M380.2 503.3h0M332.0 397.4h0M369.8 508.0h0M311.9 578.8h0M254.2 473.0h0M438.9 466.2h0M242.5 481.2h0M303.0 595.1h0M329.5 534.4h0M249.4 640.1h0M177.7 648.5h0M219.3 660.6h0M288.4 443.0h0M354.3 513.0h0M316.3 564.6h0M368.0 508.0h0M465.3 447.0h0M320.4 405.1h0M402.8 488.5h0M446.6 313.7h0M292.9 436.5h0M274.9 460.1h0M531.7 338.3h0M316.1 563.8h0M269.9 464.0h0M376.8 504.0h0M335.8 396.1h0M531.3 342.2h0M434.1 468.3h0M201.9 666.6h0M179.1 650.3h0M381.7 501.3h0M419.2 476.9h0M252.5 475.2h0M168.6 628.6h0M204.9 515.9h0M313.5 569.9h0M301.8 424.4h0M366.8 380.7h0M229.7 653.1h0M418.3 477.3h0M298.1 599.2h0M421.5 475.3h0M307.1 584.9h0M282.4 454.6h0M318.6 407.2h0M387.7 367.7h0M305.3 420.2h0M456.3 453.9h0M162.1 584.9h0M516.6 381.3h0M293.5 437.5h0M338.0 520.4h0M452.3 308.9h0M289.2 445.3h0M358.6 509.2h0M163.2 614.8h0M289.0 608.3h0M272.2 464.1h0M398.7 359.5h0M461.6 449.5h0M329.7 529.6h0M262.3 629.2h0M325.4 536.6h0M237.7 646.9h0M350.7 511.5h0M308.9 579.1h0M164.9 619.5h0M161.7 589.5h0M426.9 333.9h0M307.4 582.0h0M246.5 640.3h0M162.1 586.2h0M288.7 608.0h0M324.4 537.6h0M274.0 620.3h0M292.4 604.1h0M245.9 481.0h0M456.1 453.5h0M171.2 632.1h0M305.1 421.7h0M278.8 461.1h0M381.2 500.0h0M247.9 638.9h0M398.7 489.3h0M283.6 457.2h0M311.8 414.5h0M351.6 509.9h0M279.1 461.6h0M344.5 393.1h0M477.6 293.7h0M332.9 399.1h0M375.3 502.3h0M348.7 510.8h0M304.9 422.6h0M465.7 445.3h0M309.8 573.6h0M407.5 482.9h0M327.8 529.7h0M365.1 505.3h0M402.0 486.6h0M306.4 421.0h0M163.4 613.6h0M320.6 542.7h0M216.5 506.9h0M446.5 459.5h0M285.8 458.1h0M309.3 418.0h0M190.0 662.0h0M284.0 460.7h0M409.2 481.3h0M327.0 529.7h0M296.2 437.7h0M300.5 429.9h0M235.2 490.2h0M272.5 619.8h0M290.7 450.7h0M173.7 635.9h0M381.0 498.8h0M295.2 598.5h0M300.7 429.9h0M178.4 645.5h0M250.9 478.9h0M430.5 468.3h0M282.3 463.0h0M179.7 544.3h0M316.8 549.8h0M299.4 592.4h0M179.6 647.8h0M294.4 443.0h0M475.8 434.9h0M303.6 425.8h0M344.2 511.1h0M231.8 649.2h0M291.0 454.9h0"/><path stroke="#1fa187" d="M292.5 450.4h0M354.7 506.4h0M244.0 484.1h0M339.9 396.5h0M400.8 486.3h0M280.4 466.0h0M292.7 451.7h0M345.9 509.6h0M276.2 616.0h0M273.1 618.3h0M420.5 341.1h0M387.6 494.5h0M403.1 357.1h0M386.6 370.1h0M285.5 465.8h0M287.2 465.8h0M321.6 536.9h0M261.6 626.8h0M309.4 567.9h0M262.8 625.9h0M294.5 447.8h0M451.5 455.5h0M261.8 474.0h0M292.1 465.5h0M188.2 659.2h0M346.7 508.3h0M302.5 584.3h0M285.8 469.0h0M287.3 469.1h0M286.7 469.1h0M296.2 456.7h0M231.8 494.5h0M313.1 415.9h0M247.2 636.9h0M253.7 631.9h0M398.8 486.7h0M385.5 494.7h0M369.3 381.8h0M177.8 548.0h0M196.2 662.8h0M235.6 491.5h0M204.0 519.7h0M243.5 485.5h0M224.9 501.0h0M363.7 502.2h0M313.6 552.4h0M297.8 444.9h0M298.4 589.6h0M356.8 388.9h0M360.7 386.9h0M272.6 472.1h0M300.8 465.5h0M299.3 468.8h0M284.7 473.5h0M530.4 339.1h0M282.9 473.1h0M381.6 374.3h0M245.9 637.2h0M183.9 652.9h0M301.5 464.9h0M182.0 649.8h0M418.5 473.3h0M239.0 489.5h0M386.0 493.7h0M472.5 437.4h0M292.1 597.8h0M438.6 462.3h0M290.9 599.3h0M387.3 492.8h0M328.9 404.4h0M357.6 502.5h0M321.5 532.9h0M257.7 627.9h0M308.9 563.4h0M279.0 473.5h0M303.4 461.0h0M312.6 552.9h0M213.9 511.6h0M231.2 496.1h0M350.0 392.9h0M177.0 549.7h0M162.4 598.4h0M405.1 481.4h0M189.2 658.4h0M258.1 627.3h0M168.0 622.1h0M311.4 555.3h0M498.5 294.7h0M303.0 467.8h0M305.6 428.0h0M366.5 384.2h0M393.2 488.9h0M481.6 427.4h0M277.7 611.6h0M524.1 363.5h0M468.2 299.2h0M305.0 463.6h0M182.0 648.7h0M374.0 497.8h0M364.8 500.1h0M340.9 508.0h0M265.0 621.5h0M347.8 394.5h0M256.0 479.8h0M344.6 505.5h0M444.8 458.3h0M322.3 528.9h0M301.5 579.1h0M235.5 643.7h0M499.2 295.1h0M487.3 293.5h0M328.2 519.4h0M383.4 493.6h0M246.7 485.3h0M529.8 329.4h0M242.0 638.7h0M282.5 479.2h0M232.9 495.7h0M307.1 427.8h0M307.2 464.6h0M383.4 374.1h0M294.6 590.9h0M248.9 633.0h0M530.1 337.7h0M312.7 548.0h0M433.6 463.8h0M213.2 657.5h0M462.4 303.3h0M360.4 388.5h0M410.7 476.3h0M357.7 390.1h0M259.8 479.5h0M337.4 401.1h0M492.8 413.3h0M307.5 449.0h0M302.1 476.4h0M325.9 520.8h0M501.3 296.1h0M321.8 411.7h0M305.2 440.2h0M336.3 508.7h0M315.1 540.5h0M428.0 466.2h0M332.5 512.1h0M270.7 478.3h0M354.2 392.3h0M422.1 341.3h0M219.6 653.6h0M301.0 478.5h0M305.7 439.0h0M391.1 488.2h0M357.0 390.9h0M239.2 491.9h0M319.9 413.9h0M324.3 521.8h0M297.6 582.9h0M301.3 574.4h0M167.9 570.3h0M277.4 481.5h0M172.8 558.8h0M287.8 484.8h0M254.9 627.0h0M330.7 405.9h0M279.2 606.8h0M323.4 411.2h0M167.3 618.0h0M416.3 347.2h0M312.0 423.6h0M392.8 486.7h0M295.9 585.1h0M165.9 614.1h0M279.0 483.2h0M181.7 645.4h0M312.2 456.7h0M347.4 396.5h0M315.8 418.9h0M246.0 633.7h0M340.8 503.7h0M290.3 485.8h0M319.1 529.5h0M298.7 578.7h0M236.6 494.5h0"/><path stroke="#21a585" d="M357.7 497.5h0M295.6 584.7h0M338.3 401.8h0M456.6 308.2h0M450.8 313.3h0M275.6 482.7h0M362.0 388.7h0M301.3 571.9h0M269.4 481.1h0M509.9 300.7h0M235.3 641.6h0M309.5 471.8h0M387.7 488.6h0M250.2 629.6h0M312.5 465.3h0M312.9 448.1h0M295.0 584.1h0M258.0 623.1h0M429.4 334.5h0M273.1 610.4h0M257.4 483.2h0M163.9 602.7h0M255.0 484.4h0M258.1 483.3h0M286.6 488.5h0M315.0 452.1h0M453.0 311.6h0M270.8 611.8h0M314.7 460.9h0M331.3 508.7h0M353.7 394.2h0M454.2 310.7h0M272.9 609.7h0M311.5 542.5h0M339.4 501.9h0M322.0 415.0h0M321.0 416.0h0M305.2 480.9h0M304.6 481.6h0M226.2 504.6h0M417.4 469.7h0M311.7 432.0h0M164.0 601.3h0M254.9 624.6h0M319.0 525.6h0M284.1 597.9h0M278.7 488.0h0M188.3 652.9h0M326.9 512.8h0M373.8 492.5h0M313.5 468.7h0M297.4 576.2h0M216.5 653.2h0M314.6 534.4h0M389.7 371.5h0M379.2 490.7h0M214.7 654.1h0M312.4 433.4h0M514.9 380.0h0M455.3 449.4h0M353.2 495.5h0M328.3 410.4h0M268.6 484.5h0M222.1 649.7h0M316.9 455.5h0M260.2 484.3h0M314.4 440.4h0M282.7 490.4h0M453.7 450.4h0M231.8 500.4h0M245.7 490.4h0M322.1 518.6h0M291.5 586.0h0M317.2 422.3h0M292.8 583.8h0M317.5 451.8h0M396.7 481.6h0M254.1 624.2h0M273.3 607.6h0M383.3 376.6h0M262.6 484.7h0M347.5 398.7h0M321.9 518.2h0M301.9 563.5h0M304.7 484.0h0M317.5 447.9h0M274.3 606.5h0M302.3 562.0h0M334.7 406.7h0M287.2 491.8h0M314.5 432.0h0M279.7 600.7h0M525.0 357.9h0M310.4 478.2h0M297.4 573.3h0M298.1 571.6h0M318.2 524.2h0M383.2 488.1h0M291.3 585.1h0M257.6 486.1h0M188.7 538.1h0M222.5 508.9h0M521.8 312.3h0M306.0 551.9h0M371.7 384.8h0M314.0 473.3h0M275.7 490.0h0M205.3 523.2h0M204.2 656.8h0M397.9 480.0h0M167.7 615.1h0M327.6 508.5h0M383.3 377.0h0M164.3 595.6h0M188.9 651.9h0M423.0 465.4h0M291.4 492.2h0M390.1 484.3h0M287.7 492.9h0M407.5 357.0h0M317.6 440.2h0M480.1 426.4h0M265.6 486.6h0M164.6 601.8h0M429.0 462.4h0M319.4 446.0h0M353.7 493.0h0M262.7 615.3h0M170.1 620.2h0M318.9 423.7h0M211.6 654.2h0M169.5 618.9h0M321.5 515.7h0M412.4 470.6h0M251.2 489.3h0M173.1 560.8h0M320.2 456.0h0M326.8 508.0h0M317.0 470.0h0M373.4 489.8h0M320.6 452.1h0M282.2 595.6h0M305.4 486.8h0M241.4 494.9h0M170.4 620.5h0M390.2 483.5h0M315.7 526.1h0M352.6 492.5h0M173.7 559.9h0M315.8 473.6h0M279.0 598.9h0M291.3 581.8h0M238.2 497.3h0M360.6 392.5h0M321.9 513.7h0M278.8 493.7h0M274.2 603.5h0M404.9 474.5h0M181.7 640.3h0M175.7 629.7h0M336.9 498.0h0M279.7 597.7h0M332.1 410.7h0M336.3 498.2h0M271.7 605.8h0M317.7 520.7h0M195.6 655.1h0M231.5 502.8h0M233.8 639.0h0M305.2 549.8h0M242.7 631.5h0M258.5 488.5h0M219.4 512.9h0M301.9 557.5h0M294.4 574.4h0M234.0 638.7h0M278.5 598.3h0M290.0 582.5h0M256.9 488.9h0M253.8 621.6h0M321.2 440.7h0M518.4 309.0h0M501.8 399.1h0M375.5 488.1h0M394.2 480.4h0M334.4 409.8h0M320.7 436.7h0M292.7 495.0h0M282.3 593.1h0M166.5 581.2h0M195.0 654.3h0M322.6 444.6h0M350.5 491.1h0M220.5 648.1h0M180.6 549.2h0M321.2 464.6h0M490.3 413.8h0M351.2 399.2h0M220.2 648.1h0M350.8 399.5h0M326.9 417.6h0M313.6 526.7h0M323.3 454.3h0M165.0 594.4h0M319.3 471.9h0M219.1 513.8h0M360.6 489.0h0M409.0 470.8h0M231.0 640.2h0M166.5 581.6h0M356.8 396.0h0M380.6 485.7h0"/><path stroke="#23a983" d="M322.8 438.3h0M322.6 436.6h0M180.8 637.3h0M294.0 496.0h0M435.3 458.1h0M306.4 490.6h0M385.5 483.6h0M170.7 619.2h0M280.1 497.1h0M293.9 572.2h0M389.4 481.7h0M295.7 568.4h0M175.3 627.4h0M172.3 622.2h0M323.1 434.6h0M311.4 530.2h0M298.7 495.2h0M438.9 456.2h0M166.7 608.5h0M316.9 479.9h0M324.0 425.5h0M253.1 620.3h0M325.0 451.3h0M504.4 394.7h0M331.2 497.5h0M310.4 531.9h0M301.3 554.8h0M326.6 420.5h0M207.5 653.5h0M262.5 611.4h0M469.4 301.6h0M287.6 498.2h0M303.1 550.1h0M368.1 487.1h0M253.0 620.2h0M296.8 564.6h0M170.1 617.4h0M202.5 654.2h0M182.3 638.9h0M297.2 563.6h0M270.2 495.0h0M201.4 654.2h0M284.9 498.7h0M311.6 528.1h0M281.2 498.6h0M270.0 495.1h0M355.7 397.6h0M312.0 488.6h0M376.3 485.4h0M324.8 433.8h0M487.3 416.9h0M250.9 493.4h0M506.3 300.9h0M315.3 517.8h0M427.5 460.4h0M237.1 633.9h0M404.1 472.2h0M340.2 491.0h0M248.1 494.8h0M307.2 493.3h0M304.9 543.8h0M235.1 635.5h0M328.5 420.5h0M348.4 488.2h0M379.8 483.9h0M454.9 446.9h0M441.6 324.6h0M458.5 444.4h0M381.9 483.1h0M452.2 448.6h0M368.4 390.1h0M276.9 594.7h0M279.2 591.9h0M331.1 418.0h0M319.4 481.9h0M326.1 460.7h0M181.6 549.1h0M527.2 327.9h0M431.1 458.5h0M215.0 649.3h0M327.6 444.4h0M358.9 396.5h0M254.8 616.8h0M340.8 408.9h0M324.5 498.3h0M327.3 436.5h0M195.5 534.2h0M326.4 461.6h0M387.1 480.5h0M416.6 464.5h0M326.0 464.3h0M285.8 581.8h0M320.5 502.4h0M331.9 418.1h0M241.0 499.5h0M229.4 507.7h0M321.6 480.0h0M321.7 480.0h0M268.2 603.0h0M271.5 498.7h0M320.3 501.7h0M313.4 517.7h0M383.1 481.7h0M300.3 498.8h0M526.7 326.4h0M324.3 496.1h0M320.7 500.2h0M199.1 652.6h0M330.1 422.4h0M377.2 384.8h0M378.9 482.8h0M392.4 477.5h0M185.7 642.3h0M319.8 501.0h0M284.2 501.6h0M316.8 491.2h0M323.7 495.8h0M293.7 566.7h0M329.1 444.4h0M272.1 499.6h0M374.2 387.0h0M321.4 484.5h0M410.6 467.0h0M268.3 498.1h0M197.2 652.0h0M363.0 394.6h0M315.8 508.8h0M311.9 495.7h0M169.1 574.8h0M526.2 349.6h0M329.1 451.5h0M244.1 625.8h0M319.7 498.5h0M329.1 435.0h0M365.0 484.2h0M317.7 493.4h0M316.3 494.5h0M217.1 647.2h0M303.8 499.1h0M194.3 650.5h0M246.0 497.9h0M327.1 467.2h0M184.6 640.1h0M321.7 491.2h0M370.4 483.5h0M329.8 427.9h0M343.6 486.1h0M272.7 500.6h0M316.1 504.2h0M267.1 602.8h0M488.4 297.2h0M224.3 512.5h0M228.3 639.3h0M357.7 484.0h0M512.4 305.3h0M339.7 486.5h0M327.5 469.0h0M166.3 599.8h0M511.3 304.6h0M299.9 501.1h0M334.0 487.4h0M354.0 483.8h0M353.2 402.0h0M247.7 497.8h0M329.3 487.4h0M451.3 448.0h0M329.7 487.0h0M329.1 463.8h0M310.8 500.6h0M172.1 567.2h0M367.3 482.7h0M355.6 483.2h0M341.5 484.9h0M232.4 507.0h0M379.2 480.9h0M293.0 503.1h0M330.8 454.9h0M247.4 498.6h0M328.9 484.3h0M370.8 482.0h0M328.4 473.1h0M393.5 372.9h0M258.2 497.4h0M311.4 504.4h0M190.8 539.8h0M353.0 402.8h0M328.8 472.6h0M241.7 501.5h0M336.0 484.5h0M259.5 608.9h0M345.1 409.1h0M189.1 644.8h0M308.9 503.5h0M274.6 592.4h0M286.3 576.2h0M265.5 602.4h0M212.9 648.2h0M520.8 314.3h0M336.2 483.6h0M305.7 532.1h0M310.7 508.2h0M307.6 504.0h0M422.5 459.5h0M332.8 448.8h0M330.3 477.3h0M344.3 410.7h0M339.3 482.5h0M375.5 387.8h0M499.4 400.0h0M461.9 307.8h0M247.6 499.7h0M336.9 482.0h0M446.4 449.8h0M331.8 464.4h0M172.2 617.3h0M333.9 445.0h0M331.8 475.2h0M339.5 416.9h0M400.3 367.4h0M308.4 517.9h0M307.7 508.0h0M306.9 524.7h0M495.6 404.9h0M333.4 478.2h0M347.2 480.8h0"/><path stroke="#26ad81" d="M181.7 632.8h0M261.4 605.2h0M332.4 466.2h0M305.9 527.7h0M402.9 468.3h0M245.0 501.5h0M198.5 649.6h0M276.5 505.9h0M335.4 431.2h0M358.3 401.0h0M260.3 501.2h0M217.9 644.3h0M339.5 479.0h0M334.9 450.9h0M411.0 357.6h0M250.3 500.6h0M449.3 447.8h0M293.8 506.8h0M336.9 426.7h0M197.3 648.8h0M243.0 623.1h0M256.7 500.9h0M296.0 507.1h0M502.5 301.0h0M406.5 465.5h0M334.5 470.3h0M295.4 554.6h0M196.9 648.5h0M167.9 603.9h0M231.5 510.1h0M344.2 478.5h0M336.1 442.6h0M360.9 478.9h0M432.6 454.6h0M171.1 571.8h0M265.8 504.2h0M335.1 468.7h0M303.5 510.1h0M336.5 445.1h0M244.3 621.4h0M339.4 422.2h0M506.2 302.7h0M336.2 453.6h0M337.8 430.7h0M305.4 518.6h0M335.9 466.6h0M259.2 502.7h0M345.1 477.1h0M372.2 477.8h0M267.6 596.1h0M239.7 505.8h0M429.5 455.2h0M266.6 505.5h0M284.8 508.5h0M298.4 545.2h0M337.0 452.6h0M188.8 641.5h0M231.0 511.3h0M336.8 463.9h0M201.3 648.5h0M363.0 399.3h0M203.1 531.1h0M516.4 372.3h0M215.0 644.7h0M440.3 451.1h0M361.3 477.1h0M295.1 509.6h0M375.4 390.0h0M349.0 411.3h0M344.9 475.0h0M482.7 299.2h0M363.7 476.8h0M202.4 531.8h0M295.7 550.4h0M279.4 580.2h0M343.1 473.6h0M388.6 379.4h0M378.7 475.7h0M225.9 636.9h0M345.8 474.4h0M303.4 521.7h0M168.8 582.0h0M414.0 355.5h0M460.9 309.6h0M346.4 415.5h0M169.9 577.7h0M380.9 474.7h0M398.7 370.5h0M184.8 634.7h0M279.9 578.6h0M457.7 441.6h0M268.2 593.3h0M300.2 535.3h0M198.5 647.0h0M340.1 444.7h0M297.3 544.4h0M300.2 535.3h0M342.0 426.6h0M347.7 473.2h0M364.2 399.8h0M525.8 328.9h0M354.8 474.6h0M169.7 607.3h0M396.1 468.4h0M374.9 391.5h0M341.5 431.2h0M289.8 561.3h0M344.9 471.2h0M341.8 430.0h0M341.3 434.4h0M293.1 554.1h0M282.1 510.9h0M341.0 440.2h0M290.2 560.0h0M410.9 460.4h0M298.4 539.6h0M261.2 600.4h0M269.1 509.6h0M491.2 409.0h0M294.6 549.9h0M341.8 464.5h0M281.4 511.3h0M454.7 314.9h0M168.9 583.5h0M229.1 632.9h0M250.0 505.9h0M351.2 472.0h0M344.3 467.5h0M204.0 646.6h0M357.1 473.2h0M395.3 467.6h0M437.9 331.3h0M525.2 347.1h0M248.9 612.9h0M435.6 451.3h0M295.4 514.5h0M462.1 309.3h0M349.4 470.1h0M226.7 516.7h0M409.5 460.1h0M299.8 522.8h0M345.6 425.6h0M376.5 473.0h0M168.6 598.9h0M343.6 446.7h0M347.9 420.4h0M181.1 554.6h0M191.9 641.4h0M257.7 508.4h0M369.8 473.0h0M479.7 421.7h0M348.0 467.0h0M262.3 510.1h0M180.0 556.3h0M284.3 568.0h0M298.8 522.1h0M347.0 424.2h0M168.5 593.0h0M239.1 622.3h0M525.1 346.3h0M345.0 459.6h0M411.1 458.6h0M505.6 389.1h0M235.5 512.3h0M418.8 455.5h0M203.6 645.4h0M380.6 388.6h0M256.9 509.1h0M454.8 442.2h0M191.2 640.1h0M285.8 514.4h0M285.2 514.3h0M295.0 517.4h0M347.6 425.3h0M224.1 519.4h0"/><path stroke="#2ab07f" d="M425.5 453.2h0M408.0 459.6h0M346.5 459.7h0M282.7 514.6h0M374.4 471.5h0M386.1 469.3h0M356.4 469.1h0M384.8 385.4h0M295.6 519.5h0M373.6 471.4h0M346.6 437.0h0M348.4 425.9h0M251.0 509.2h0M424.4 346.2h0M404.4 460.9h0M363.0 470.4h0M189.1 545.4h0M349.3 423.7h0M356.4 411.8h0M365.0 470.6h0M383.3 386.9h0M395.2 465.1h0M169.5 601.2h0M275.7 514.7h0M367.4 470.7h0M400.4 462.6h0M248.4 509.7h0M367.4 470.6h0M346.9 450.4h0M347.6 456.7h0M262.5 595.2h0M348.0 458.5h0M287.0 516.2h0M347.5 437.6h0M224.3 634.6h0M347.5 443.4h0M354.7 415.3h0M517.0 369.1h0M260.9 512.4h0M347.7 451.3h0M347.8 453.1h0M475.8 302.5h0M265.6 513.8h0M349.3 430.3h0M365.3 469.3h0M373.9 396.1h0M515.5 311.3h0M283.1 566.6h0M350.9 460.5h0M205.9 643.7h0M364.1 405.5h0M208.2 643.1h0M385.6 385.6h0M250.3 511.1h0M392.4 465.2h0M280.1 516.4h0M242.7 616.2h0M185.9 631.7h0M248.0 511.2h0M454.7 316.2h0M187.7 547.7h0M349.2 449.2h0M359.4 411.2h0M249.0 511.4h0M283.7 564.9h0M169.3 595.0h0M285.6 561.2h0M351.7 426.1h0M284.3 563.7h0M476.3 302.6h0M350.7 457.0h0M257.5 513.1h0M228.7 629.9h0M267.4 587.8h0M476.2 424.0h0M362.6 408.1h0M278.4 572.9h0M405.6 458.4h0M376.3 468.5h0M283.1 517.9h0M232.7 516.7h0M375.9 395.4h0M406.1 366.1h0M409.5 362.6h0M522.2 321.3h0M381.2 390.6h0M355.1 420.2h0M352.1 430.5h0M253.4 513.1h0M247.5 512.6h0M291.7 545.3h0M190.8 544.9h0M522.0 321.0h0M364.9 406.7h0M368.2 403.3h0M202.6 642.8h0M361.9 465.6h0M230.2 627.7h0M231.7 626.3h0M293.7 528.2h0M270.1 517.2h0M250.1 606.7h0M446.1 444.8h0M233.4 624.6h0M188.0 548.0h0M374.7 397.5h0M416.9 355.2h0M208.2 531.7h0M287.1 520.4h0M267.8 585.8h0M380.1 466.8h0M176.0 615.4h0M182.0 555.6h0M353.7 454.8h0M229.8 519.2h0M523.6 350.0h0M183.5 553.6h0M208.6 641.4h0M293.0 529.2h0M403.6 369.2h0M427.9 449.8h0M171.3 579.9h0M354.7 429.0h0M374.7 398.1h0M248.8 514.5h0M519.9 361.2h0M218.1 526.2h0M361.2 414.2h0M258.2 516.6h0M354.3 436.5h0M252.7 515.4h0M287.4 553.1h0M410.3 454.4h0M258.4 516.8h0M429.6 448.9h0M238.4 516.5h0M411.0 361.9h0M171.0 601.9h0M288.0 523.2h0M203.4 641.5h0M215.0 638.0h0M266.7 585.7h0M369.0 464.9h0M285.0 521.8h0M419.3 451.2h0M249.1 515.5h0M354.9 439.0h0M358.7 420.8h0M381.9 464.9h0M216.7 636.9h0M374.4 399.4h0M243.5 612.4h0M283.1 521.5h0M170.4 597.4h0M234.5 621.9h0M171.0 583.2h0M286.9 552.7h0M456.9 438.5h0M180.8 558.3h0M235.9 620.4h0M260.7 518.4h0M476.7 422.5h0M408.6 454.4h0M291.1 531.6h0M521.5 356.2h0M227.8 521.8h0M359.3 422.1h0M172.0 604.7h0M281.3 521.7h0M286.8 524.2h0M232.0 624.0h0M357.9 427.6h0M378.4 396.1h0M272.9 576.5h0M180.3 559.4h0M361.3 418.8h0M478.7 302.9h0M196.5 638.6h0M267.1 583.8h0M237.4 618.1h0M446.7 443.2h0M357.1 441.5h0M176.6 614.4h0M231.4 624.1h0M170.6 589.5h0M403.1 370.9h0M515.2 370.6h0M172.5 605.3h0M361.7 457.9h0"/><path stroke="#2fb47c" d="M358.2 433.3h0M272.4 521.5h0M427.9 344.5h0M502.2 391.7h0M405.2 454.8h0M359.2 452.8h0M267.2 521.1h0M242.5 517.9h0M367.6 410.2h0M208.5 533.4h0M400.4 374.0h0M192.4 634.8h0M235.7 519.7h0M275.7 571.0h0M289.5 536.8h0M358.4 444.7h0M359.6 430.2h0M396.2 378.5h0M359.0 434.6h0M516.0 313.6h0M372.8 403.8h0M247.8 605.8h0M479.1 303.1h0M171.7 582.5h0M244.0 518.5h0M363.6 457.3h0M243.5 518.6h0M262.2 521.2h0M413.9 450.8h0M371.4 461.4h0M268.1 522.1h0M472.1 426.2h0M479.9 418.6h0M392.2 383.0h0M233.9 521.1h0M397.9 377.1h0M261.2 521.6h0M415.1 358.8h0M238.0 520.1h0M268.3 580.2h0M516.9 366.6h0M438.8 333.4h0M442.5 443.7h0M369.7 409.7h0M470.0 427.8h0M364.2 420.5h0M215.8 530.0h0M286.7 545.5h0M171.5 597.6h0M385.0 460.4h0M249.3 520.3h0M285.8 548.2h0M232.9 620.8h0M286.4 531.2h0M207.5 638.1h0M205.0 536.5h0M366.3 417.4h0M286.8 543.2h0M458.7 436.0h0M278.5 564.1h0M281.5 558.0h0M285.7 547.0h0M405.3 452.7h0M364.7 453.3h0M227.6 524.8h0M286.5 542.7h0M227.3 625.7h0M285.6 531.7h0M377.9 459.9h0M365.6 421.4h0M449.5 440.6h0M428.0 446.1h0M178.0 565.6h0M383.5 394.1h0M364.9 452.2h0M264.2 583.8h0M172.4 600.5h0M186.6 625.8h0M282.2 555.0h0M284.2 530.9h0M259.4 589.5h0M444.7 327.9h0M427.4 445.9h0M269.9 575.9h0M258.7 590.2h0M285.7 535.8h0M446.8 325.9h0M285.1 533.6h0M271.4 525.7h0M416.0 358.7h0M206.7 536.3h0M203.4 637.2h0M450.0 439.9h0M421.4 446.6h0M364.8 446.5h0M177.9 566.5h0M242.3 522.7h0M378.9 458.2h0M428.3 445.2h0M201.2 636.6h0M214.1 634.1h0M417.0 357.8h0M180.0 562.6h0M389.2 456.8h0M385.5 393.1h0M277.0 528.2h0M174.1 577.0h0M278.9 559.3h0M272.6 570.4h0M183.0 558.1h0M376.9 457.0h0M175.9 571.6h0M365.6 443.4h0M502.2 390.4h0M509.9 309.6h0M377.8 456.9h0M208.7 535.8h0M389.2 456.1h0M365.7 441.1h0M277.2 562.1h0M367.8 425.3h0M366.6 432.6h0M218.2 531.1h0M517.6 317.3h0M366.4 438.8h0M417.3 446.4h0M369.7 451.1h0M385.0 395.0h0M368.7 424.6h0M281.3 533.5h0M381.5 456.2h0M183.1 619.1h0M190.9 628.6h0M173.6 580.2h0M208.6 536.4h0M481.4 304.0h0M446.7 440.2h0M279.3 532.1h0M265.0 579.7h0M369.8 449.3h0M259.9 527.3h0M212.8 633.3h0M369.9 423.3h0M457.1 317.2h0M265.4 528.3h0M506.5 308.0h0M427.4 443.9h0M232.4 617.9h0M418.0 445.4h0M505.0 307.2h0"/><path stroke="#35b779" d="M282.1 542.3h0M385.4 395.6h0M379.4 454.4h0M376.1 409.9h0M277.4 532.4h0M391.4 388.2h0M261.7 528.6h0M189.1 625.4h0M279.1 554.0h0M260.8 528.7h0M376.3 410.3h0M266.6 576.2h0M369.5 442.1h0M388.3 453.7h0M369.7 431.5h0M263.1 529.2h0M482.3 414.0h0M272.7 531.1h0M382.5 453.9h0M184.7 619.7h0M424.9 350.5h0M245.3 527.3h0M255.8 589.8h0M222.4 626.0h0M378.8 452.7h0M211.8 535.8h0M479.5 416.7h0M370.5 442.0h0M227.9 529.3h0M269.7 531.1h0M391.1 452.4h0M400.3 449.6h0M492.6 402.0h0M275.4 560.6h0M175.2 576.7h0M390.3 452.4h0M184.4 558.1h0M484.8 411.0h0M183.3 617.1h0M521.8 327.8h0M371.6 428.2h0M173.8 597.1h0M227.7 530.0h0M279.7 544.3h0M257.4 586.8h0M464.5 312.3h0M375.3 448.7h0M517.7 361.6h0M274.5 534.4h0M278.4 550.4h0M208.3 538.4h0M273.5 562.5h0M277.9 538.5h0M483.4 412.2h0M375.8 416.6h0M409.1 368.9h0M186.9 555.4h0M508.2 379.8h0M273.0 563.1h0M198.8 631.4h0M397.1 449.4h0M222.2 624.9h0M179.6 566.8h0M383.1 451.0h0M278.4 546.9h0M266.0 532.5h0M399.2 448.5h0M433.1 441.0h0M468.4 310.2h0M393.0 450.0h0M377.7 413.6h0M375.3 421.0h0M241.8 529.9h0M262.1 532.5h0M272.2 535.1h0M257.4 532.0h0M239.8 530.0h0M215.4 535.6h0M205.2 632.1h0M277.5 542.7h0M475.6 306.9h0M178.9 568.7h0M177.6 606.4h0M495.2 305.0h0M377.0 446.2h0M174.6 597.1h0M521.3 349.5h0M397.5 448.1h0M374.1 438.3h0M376.7 418.9h0M394.2 448.8h0M252.4 591.1h0M265.9 573.0h0M190.7 552.0h0M197.7 629.5h0M377.9 416.1h0M271.8 536.4h0M463.6 313.6h0M238.2 531.0h0M232.7 531.3h0M375.5 425.1h0M238.2 531.1h0M379.9 447.3h0M399.1 381.9h0M258.7 582.6h0M221.3 534.1h0M375.9 423.6h0M521.6 347.2h0M183.6 615.1h0M383.9 448.8h0M494.7 398.4h0M388.0 397.1h0M181.7 564.2h0M216.0 536.3h0M467.5 311.2h0M208.3 539.8h0M385.7 448.4h0M507.5 310.1h0M211.8 538.2h0M430.1 346.2h0M232.8 532.1h0M247.3 532.8h0M482.3 305.4h0M268.0 536.3h0M470.2 423.9h0M457.1 318.8h0M378.9 416.3h0M267.0 569.5h0M378.5 443.5h0M412.0 442.6h0M410.3 443.0h0M517.8 320.5h0M520.1 325.3h0M273.2 540.8h0M274.2 552.9h0M175.7 580.6h0M189.6 621.2h0M461.7 315.3h0M377.1 438.9h0M380.7 444.6h0M384.4 446.6h0M386.2 401.9h0M235.4 533.2h0M463.3 428.7h0M377.4 437.1h0M408.2 371.8h0M513.6 315.3h0M174.9 590.4h0M175.0 590.8h0"/><path stroke="#3bbb75" d="M237.2 533.6h0M178.3 604.9h0M181.3 566.1h0M273.5 550.9h0M413.9 365.3h0M514.3 367.3h0M518.8 323.0h0M234.4 533.8h0M212.0 627.9h0M486.4 305.4h0M378.2 427.0h0M251.1 535.6h0M272.2 554.6h0M267.3 539.2h0M387.8 445.3h0M378.5 434.0h0M395.8 388.7h0M222.0 621.2h0M407.6 373.3h0M243.6 598.6h0M520.3 327.5h0M260.6 538.2h0M411.8 368.3h0M271.7 551.7h0M177.4 600.7h0M489.2 404.0h0M259.1 578.0h0M402.9 379.5h0M461.3 429.2h0M413.7 366.3h0M389.1 400.1h0M379.7 432.1h0M179.4 571.4h0M432.6 437.8h0M176.0 584.1h0M206.7 627.9h0M269.5 558.7h0M255.8 582.4h0M269.1 543.4h0M250.8 537.4h0M519.4 353.3h0M256.6 538.4h0M384.1 411.2h0M268.0 542.6h0M270.9 550.3h0M233.6 609.3h0M211.6 626.5h0M383.1 440.3h0M393.5 443.7h0M269.7 556.5h0M190.3 555.1h0M195.8 623.9h0M244.7 596.0h0M514.8 365.2h0M383.2 439.2h0M269.3 555.9h0M189.4 617.6h0M185.4 613.0h0M511.1 314.0h0M185.4 561.4h0M256.0 580.7h0M184.8 562.4h0M269.5 550.3h0M484.9 408.2h0M446.7 434.9h0M222.1 619.3h0M494.1 306.6h0M179.6 572.6h0M509.3 312.8h0M261.1 541.7h0M229.2 612.7h0M259.6 574.7h0M211.4 625.3h0M206.7 626.3h0M471.3 421.1h0M228.5 613.2h0M521.0 332.9h0M256.4 540.8h0M382.2 428.5h0M383.6 436.1h0M481.6 307.1h0M239.8 600.6h0M197.5 549.8h0M521.2 341.2h0M208.7 625.5h0M240.2 539.3h0M221.2 539.7h0M224.5 616.1h0M260.2 543.5h0M513.3 367.5h0M423.9 355.6h0M212.6 623.9h0M243.1 595.9h0M385.0 434.8h0M485.6 406.9h0M186.7 561.0h0M400.5 439.9h0M400.9 439.8h0M238.8 539.7h0M407.8 375.4h0M393.5 396.7h0M262.9 566.0h0M247.7 589.6h0M405.2 379.1h0M266.1 553.0h0M263.5 564.4h0M387.5 436.4h0M185.1 563.7h0M392.7 399.1h0M181.8 605.2h0M473.8 418.2h0M401.5 438.9h0M427.1 435.4h0M191.7 555.9h0M192.1 617.3h0M430.5 435.2h0M200.5 623.1h0M263.4 548.6h0M254.2 579.6h0M203.8 623.9h0M465.7 314.7h0"/><path stroke="#42be71" d="M440.5 434.4h0M487.0 404.8h0M386.0 420.5h0M263.4 550.4h0M264.1 552.6h0M189.1 559.1h0M501.4 386.6h0M246.8 589.0h0M239.5 598.3h0M263.5 556.6h0M404.1 381.9h0M187.0 610.7h0M259.8 568.3h0M183.0 568.6h0M402.5 384.5h0M517.0 323.1h0M254.0 578.1h0M407.1 377.9h0M246.5 544.2h0M491.5 307.5h0M513.9 318.5h0M250.0 583.7h0M255.9 574.5h0M181.3 601.7h0M222.6 542.4h0M482.3 308.1h0M262.1 555.0h0M498.6 308.9h0M223.6 614.1h0M403.3 383.9h0M461.2 426.6h0M238.9 597.9h0M210.2 545.6h0M257.5 570.8h0M203.4 621.9h0M428.6 351.6h0M213.8 620.3h0M178.7 591.1h0M259.5 551.2h0M388.9 429.5h0M186.2 564.3h0M502.9 310.6h0M225.6 543.0h0M248.6 584.6h0M246.4 545.8h0M214.5 619.5h0M252.2 547.4h0M193.8 555.7h0M520.2 341.7h0M391.0 432.2h0M182.2 571.9h0M396.4 435.2h0M398.6 435.4h0M254.7 549.0h0M389.3 426.9h0M476.9 414.2h0M179.1 589.9h0M230.5 544.2h0M235.8 544.9h0M247.9 584.4h0M417.6 433.4h0M249.5 581.9h0M179.2 590.4h0M240.9 593.6h0M227.6 608.7h0M184.6 604.6h0M390.2 426.6h0M482.0 409.0h0M462.3 425.1h0M200.0 551.8h0M455.5 428.6h0M403.0 434.3h0M440.1 432.2h0M390.1 420.9h0M183.5 602.6h0M231.4 604.5h0M514.3 362.8h0M408.7 433.8h0M419.7 363.2h0M215.2 617.7h0M431.6 432.3h0M390.4 419.1h0M214.5 618.0h0M246.5 548.4h0M430.7 350.0h0M393.8 431.2h0M213.2 546.5h0M240.3 593.6h0M209.4 619.5h0M187.7 607.8h0M191.2 559.6h0M257.7 562.0h0M244.7 587.5h0M442.4 431.6h0M506.9 313.6h0M517.9 352.2h0M242.4 548.2h0M190.8 610.8h0M181.8 575.8h0M232.6 546.7h0M471.1 313.0h0M399.6 393.6h0M239.8 548.2h0M400.8 391.3h0M187.4 606.5h0M251.4 552.3h0M246.6 550.3h0M415.2 432.0h0M234.9 547.7h0M253.1 572.2h0M408.2 379.7h0M439.9 340.0h0M395.2 429.5h0M392.3 418.0h0M213.2 617.1h0M188.1 564.4h0M248.1 580.6h0M209.9 618.0h0"/><path stroke="#4ac16d" d="M466.8 315.8h0M394.8 427.9h0M517.8 328.0h0M196.5 556.0h0M183.0 574.4h0M242.9 587.8h0M393.7 424.9h0M250.3 553.7h0M253.2 569.5h0M208.7 617.6h0M198.0 614.8h0M446.2 333.7h0M219.1 547.8h0M413.7 431.1h0M394.1 423.8h0M205.5 551.3h0M407.2 382.3h0M402.5 390.2h0M251.4 556.1h0M247.9 553.8h0M397.1 402.6h0M193.3 559.5h0M396.7 404.0h0M203.6 552.6h0M398.6 428.2h0M397.0 426.7h0M183.3 596.4h0M250.7 571.5h0M250.8 558.1h0M454.4 427.1h0M227.7 604.4h0M194.6 610.7h0M396.7 406.2h0M516.3 355.5h0M215.4 549.6h0M462.4 423.1h0M250.2 571.5h0M223.4 608.1h0M226.2 549.9h0M482.1 407.2h0M204.1 615.4h0M495.8 310.3h0M402.8 428.8h0M221.5 549.8h0M412.5 375.5h0M242.8 584.8h0M190.7 606.3h0M233.2 597.6h0M226.8 550.5h0M490.0 309.7h0M184.7 573.7h0M187.2 601.8h0M239.9 588.7h0M241.6 554.3h0M496.6 310.6h0M184.4 574.7h0M204.3 614.8h0M182.6 581.7h0M217.8 611.3h0M185.2 598.0h0M231.5 552.1h0M201.1 555.5h0M396.3 415.0h0M242.4 584.2h0M246.0 577.8h0M398.6 424.2h0M402.8 427.1h0M518.1 332.8h0M228.1 552.0h0M487.5 401.0h0M397.0 412.1h0M184.5 595.2h0M443.7 428.3h0M448.2 427.7h0M397.2 414.1h0M248.2 568.9h0M518.4 343.3h0M463.2 421.7h0M419.9 428.0h0M233.5 554.3h0M404.1 426.3h0M245.9 560.8h0M218.9 552.2h0M425.1 427.8h0M407.0 426.9h0M487.3 400.7h0M184.8 594.1h0M229.5 553.9h0M406.1 388.4h0M400.5 422.7h0M489.0 310.4h0M194.4 562.0h0M402.8 424.5h0M450.8 330.6h0M203.6 611.9h0M231.2 555.0h0M468.4 417.8h0M205.6 612.2h0M214.5 553.3h0M477.1 312.6h0M223.0 604.9h0M205.2 611.9h0"/><path stroke="#52c569" d="M448.0 426.8h0M421.2 426.8h0M193.8 563.2h0M245.4 567.9h0M207.8 555.1h0M468.8 417.2h0M241.4 560.7h0M491.3 395.7h0M226.5 600.8h0M425.3 360.4h0M244.4 566.5h0M194.2 563.4h0M439.5 426.9h0M401.3 403.4h0M404.9 393.1h0M467.8 417.7h0M217.2 554.7h0M215.5 608.7h0M225.8 601.0h0M240.8 561.8h0M414.5 425.8h0M229.4 597.1h0M243.7 566.3h0M504.4 377.7h0M402.7 399.1h0M463.4 320.4h0M517.9 339.9h0M472.2 315.1h0M430.2 354.5h0M234.2 590.8h0M188.1 572.5h0M194.3 603.9h0M237.2 586.0h0M466.8 418.1h0M240.7 563.1h0M446.4 426.0h0M402.8 420.1h0M219.8 604.8h0M418.3 425.0h0M206.6 557.5h0M435.7 348.3h0M445.0 425.9h0M186.0 581.6h0M203.1 608.3h0M217.8 605.8h0M402.7 418.1h0M515.3 354.1h0M232.0 592.0h0M459.8 323.6h0M409.2 423.3h0M483.0 404.1h0M401.6 413.6h0M195.9 563.8h0M200.0 560.8h0M402.1 405.7h0M234.7 587.9h0M230.0 594.0h0M495.4 389.8h0M241.0 571.7h0M488.7 397.8h0M451.4 424.4h0M189.9 571.6h0M420.9 424.6h0M424.7 362.5h0M405.7 420.3h0M187.6 590.5h0M186.7 583.7h0M214.0 557.7h0M202.2 606.5h0M503.4 315.2h0M223.6 599.9h0M195.9 602.3h0M451.5 331.5h0M200.9 605.7h0M425.7 361.5h0M403.2 415.1h0M458.4 325.2h0M428.3 358.0h0M516.7 333.4h0M485.4 401.2h0M198.5 563.0h0M510.8 365.0h0M403.8 415.7h0M451.7 423.9h0M404.6 400.0h0M464.6 418.4h0M422.1 366.7h0M238.7 572.3h0M446.0 424.7h0M406.6 419.1h0M462.8 419.3h0M426.3 424.0h0M449.6 333.6h0M470.1 414.6h0M508.0 318.6h0M434.0 351.4h0M405.0 416.2h0M461.8 322.8h0M198.9 602.8h0M196.1 566.2h0M227.6 562.4h0M236.5 569.2h0M237.0 570.4h0M417.8 422.7h0M429.6 423.9h0M427.9 423.7h0M192.9 596.8h0M220.8 600.3h0M234.7 582.5h0M503.2 315.7h0M482.7 403.3h0M236.5 571.3h0M236.7 573.4h0M236.6 574.1h0M194.3 568.8h0M454.1 422.5h0"/><path stroke="#5ac864" d="M423.7 365.1h0M484.4 312.7h0M198.2 565.4h0M451.8 423.0h0M453.8 330.0h0M223.8 562.5h0M211.2 560.9h0M499.5 383.2h0M471.3 317.1h0M189.2 583.0h0M503.7 376.8h0M475.8 409.5h0M195.7 598.0h0M226.2 564.1h0M223.5 563.2h0M233.0 568.9h0M208.9 603.8h0M425.2 422.5h0M224.1 595.5h0M211.3 561.8h0M233.8 571.1h0M406.0 412.9h0M218.3 562.4h0M416.7 376.6h0M511.6 361.8h0M202.9 564.0h0M412.6 384.1h0M471.6 317.2h0M445.8 338.6h0M214.4 601.8h0M477.0 314.9h0M198.7 566.9h0M418.4 374.0h0M456.0 328.5h0M228.0 589.5h0M438.2 423.2h0M232.3 581.4h0M196.1 569.5h0M194.6 571.2h0M450.4 333.9h0M233.3 576.5h0M406.1 407.4h0M200.8 599.9h0M505.6 317.9h0M192.1 576.4h0M406.4 409.9h0M406.4 404.4h0M228.9 587.3h0M206.7 563.9h0M211.3 601.8h0M406.4 408.4h0M227.6 589.0h0M222.0 565.4h0M206.6 601.5h0M229.1 569.7h0M192.1 588.5h0M221.4 566.0h0M200.0 598.0h0M216.0 564.6h0M468.0 414.5h0M426.9 362.3h0M210.9 564.5h0M209.2 600.6h0M218.0 565.5h0M410.2 415.5h0M206.4 565.5h0M192.7 584.9h0M222.0 593.2h0M477.9 315.3h0M514.6 330.7h0M228.3 573.9h0M199.2 570.2h0M420.8 371.9h0M217.6 596.1h0M206.1 566.9h0M226.5 572.4h0M428.0 420.5h0M224.5 588.2h0M226.0 572.9h0M207.0 598.0h0M429.5 420.6h0M199.4 571.3h0M495.4 387.2h0M429.4 359.8h0M217.2 568.5h0M202.9 595.9h0M211.2 597.3h0M515.1 347.7h0M474.8 408.7h0M469.2 319.7h0M215.6 568.7h0M485.5 314.1h0M222.1 571.5h0M217.3 569.3h0M209.3 597.0h0M220.4 591.5h0M211.7 596.6h0M410.5 411.7h0M197.0 589.0h0M511.3 325.0h0M202.3 594.4h0M203.9 570.1h0M506.5 319.9h0M207.0 595.7h0M197.0 587.4h0M498.0 383.4h0"/><path stroke="#63cb5f" d="M224.9 580.1h0M435.0 420.5h0M214.4 594.2h0M480.1 403.7h0M414.5 415.1h0M224.1 579.5h0M471.9 318.6h0M220.7 574.0h0M514.3 350.3h0M222.6 583.2h0M417.7 379.2h0M210.0 593.8h0M467.8 413.1h0M219.3 588.3h0M419.5 376.2h0M210.6 593.0h0M221.8 580.7h0M415.2 384.9h0M214.6 591.2h0M209.8 572.7h0M413.1 412.2h0M411.0 398.0h0M422.5 417.4h0M220.6 583.2h0M213.0 591.5h0M444.3 342.4h0M454.3 418.9h0M199.9 582.1h0M416.2 383.2h0M200.0 582.3h0M432.7 356.8h0M203.8 575.6h0M445.2 341.6h0M217.4 577.4h0M215.3 575.8h0M216.7 587.3h0M204.5 575.9h0M203.3 577.0h0M483.4 399.9h0M207.3 589.7h0M207.2 589.4h0M216.4 586.2h0M213.7 576.6h0M213.8 588.1h0M216.2 579.0h0M204.7 586.9h0M453.5 333.1h0M216.4 583.3h0M511.1 326.1h0M204.1 580.3h0M203.9 580.9h0M209.7 587.8h0M213.9 585.8h0M210.9 587.3h0M215.1 582.1h0M454.5 418.3h0M206.2 581.2h0M486.3 315.2h0M206.6 583.1h0M412.1 400.0h0M436.8 418.6h0M480.7 316.3h0M444.9 419.1h0M474.2 407.5h0M418.0 413.2h0M468.5 321.8h0M424.9 369.6h0M412.9 401.6h0M453.3 417.8h0M440.5 418.4h0M488.0 394.2h0M465.4 413.0h0M483.2 316.2h0M413.9 405.5h0M511.7 329.0h0M422.7 374.1h0M513.3 333.4h0M498.6 380.5h0"/><path stroke="#6ccd5a" d="M509.6 325.6h0M424.5 414.2h0M495.3 316.8h0M431.0 361.5h0M446.4 342.0h0M443.3 345.8h0M506.8 366.6h0M457.8 415.3h0M422.6 412.4h0M424.6 413.0h0M440.0 350.2h0M477.8 318.7h0M493.1 317.2h0M420.5 409.0h0M417.4 404.3h0M512.1 351.2h0M467.4 410.0h0M488.5 391.9h0M470.7 322.3h0M456.4 333.0h0M417.4 394.2h0M447.7 341.9h0M458.6 413.7h0M427.2 369.9h0M478.1 401.8h0M417.9 393.6h0M477.9 319.5h0M423.0 378.1h0M465.8 325.8h0M512.7 345.2h0M421.9 381.0h0M418.9 390.4h0"/><path stroke="#75d054" d="M506.8 325.0h0M465.8 326.0h0M427.3 370.6h0M510.6 354.7h0M451.5 414.5h0M475.7 320.6h0M418.6 399.0h0M457.6 332.7h0M446.9 343.7h0M421.9 406.4h0M447.9 342.8h0M419.4 391.4h0M430.2 366.5h0M457.2 333.4h0M419.1 396.8h0M421.1 402.7h0M472.2 322.9h0M457.1 333.9h0M430.3 410.1h0M455.9 335.1h0M422.5 404.2h0M459.4 332.0h0M439.9 412.6h0M504.1 368.2h0M491.4 386.7h0M496.6 320.0h0M425.4 377.1h0M467.5 407.6h0M503.3 323.4h0M489.2 319.1h0M438.4 411.8h0M505.7 364.7h0M506.1 363.8h0M433.5 410.3h0M422.7 401.8h0M423.2 384.6h0M455.5 411.7h0M425.9 405.3h0M508.4 357.7h0M434.6 409.8h0"/><path stroke="#7fd34e" d="M439.8 354.8h0M436.0 410.0h0M466.4 327.7h0M430.6 407.5h0M429.5 371.7h0M450.0 411.3h0M502.0 323.8h0M456.2 410.4h0M427.6 376.5h0M423.4 394.4h0M473.8 324.1h0M501.1 323.7h0M498.4 322.4h0M435.1 408.2h0M423.8 392.3h0M441.3 354.1h0M495.9 321.6h0M450.3 410.4h0M491.7 321.0h0M437.3 408.2h0M424.4 392.3h0M427.5 379.3h0M509.7 348.1h0M457.3 408.7h0M426.4 398.4h0M433.3 367.6h0M452.5 409.3h0M477.4 398.0h0M442.7 408.5h0"/><path stroke="#89d548" d="M509.4 338.0h0M476.5 398.4h0M509.3 338.1h0M489.8 321.8h0M509.5 340.4h0M509.5 345.5h0M494.7 322.7h0M504.8 328.8h0M497.5 375.1h0M474.7 399.3h0M464.1 331.8h0M481.2 323.1h0M478.3 396.3h0M442.8 354.7h0M493.3 322.8h0M508.1 335.9h0M481.4 393.0h0M428.0 389.6h0M428.4 385.8h0M441.7 357.2h0M447.0 350.1h0M503.0 328.4h0M476.6 396.8h0M460.7 405.4h0M429.5 382.4h0M434.3 401.7h0M502.2 327.9h0M434.4 401.7h0M490.1 323.3h0"/><path stroke="#93d741" d="M429.2 386.2h0M430.3 381.4h0M442.0 357.7h0M506.6 354.2h0M435.9 401.6h0M491.2 381.7h0M489.0 384.2h0M498.7 371.0h0M502.7 363.5h0M452.8 344.7h0M437.4 366.2h0M452.7 405.2h0M450.5 347.5h0M498.0 326.6h0M493.7 377.7h0M434.2 397.9h0M499.8 368.4h0M461.9 336.3h0M453.8 404.6h0M434.9 372.8h0M498.4 370.5h0M432.1 391.0h0M489.3 325.0h0M507.0 343.4h0M434.0 395.2h0M448.9 350.7h0M432.4 389.9h0M456.1 403.5h0M505.5 336.3h0"/><path stroke="#9dd93b" d="M469.3 398.8h0M490.9 380.0h0M454.0 345.2h0M506.4 343.8h0M506.2 348.2h0M504.6 335.7h0M505.9 340.3h0M473.0 330.5h0M437.0 395.0h0M499.3 330.2h0M434.6 386.1h0M505.6 342.3h0M466.8 334.7h0M497.6 369.2h0M504.4 353.7h0M465.4 399.1h0M500.3 364.1h0M435.9 378.4h0M460.4 400.3h0M504.2 337.7h0M472.0 395.4h0M454.3 347.0h0"/><path stroke="#a8db34" d="M444.5 360.4h0M458.6 400.2h0M473.1 394.4h0M504.7 349.9h0M504.8 348.7h0M502.3 358.2h0M446.9 398.9h0M482.9 328.3h0M460.3 399.3h0M445.5 398.0h0M438.1 391.1h0M437.3 387.5h0M480.3 388.1h0M459.4 342.8h0M440.5 370.0h0M477.9 330.3h0M440.7 369.7h0M443.4 396.0h0M469.5 395.4h0M451.3 352.4h0M437.9 385.9h0M502.4 337.6h0M496.9 367.6h0M464.5 339.0h0M442.0 368.5h0M438.5 381.1h0M490.7 329.5h0M458.3 398.0h0M498.7 333.3h0M438.8 380.5h0"/><path stroke="#b2dd2d" d="M442.2 392.6h0M455.8 397.6h0M460.0 343.7h0M444.7 394.2h0M495.4 331.6h0M439.4 382.2h0M490.3 376.0h0M439.7 384.4h0M484.7 382.3h0M450.4 396.2h0M476.8 332.5h0M500.3 336.6h0M465.9 339.2h0M440.2 380.6h0M467.0 338.4h0M496.7 365.9h0M441.2 375.0h0M495.8 367.4h0M470.7 336.0h0M497.8 334.1h0M442.9 390.5h0M474.4 334.0h0M496.6 365.8h0M482.7 331.1h0M498.1 334.7h0M499.3 360.1h0M443.2 370.4h0M456.1 395.7h0M454.7 395.5h0M473.2 390.4h0M465.1 340.8h0M454.7 351.5h0M447.8 361.8h0M501.8 344.2h0M501.4 351.7h0M451.6 394.4h0M488.7 331.6h0M498.1 336.0h0"/><path stroke="#bddf26" d="M471.3 391.0h0M447.5 363.5h0M444.7 369.6h0M492.5 370.6h0M453.5 393.9h0M446.4 390.1h0M455.2 394.0h0M497.4 336.6h0M496.0 364.4h0M487.1 332.6h0M462.1 393.2h0M447.1 367.4h0M487.0 376.3h0M497.5 359.8h0M498.8 340.7h0M499.4 342.3h0M467.3 341.5h0M462.9 391.9h0M481.8 381.3h0M463.3 345.1h0M467.8 390.4h0M459.0 349.6h0M478.4 335.4h0M495.3 336.7h0M473.1 387.7h0"/><path stroke="#c8e020" d="M456.7 391.8h0M448.3 366.5h0M499.0 342.9h0M487.1 375.4h0M451.2 361.1h0M495.6 362.3h0M476.0 336.9h0M494.3 336.8h0M479.6 382.5h0M449.5 387.3h0M466.8 389.8h0M450.9 388.5h0M494.2 337.1h0M454.1 390.0h0M488.2 334.9h0M446.7 374.7h0M449.9 386.9h0M481.6 380.1h0M466.8 343.6h0M471.1 340.5h0M477.9 383.0h0M449.3 367.4h0M494.8 362.5h0M463.6 389.7h0M449.0 368.4h0M463.5 346.8h0M471.2 340.8h0M463.0 347.6h0M495.0 361.2h0M493.7 363.7h0M448.8 382.6h0M498.0 348.0h0M476.4 383.4h0M497.5 353.3h0M496.1 341.4h0M476.7 383.2h0M458.2 353.5h0M464.9 346.3h0M477.1 338.1h0M494.8 339.8h0"/><path stroke="#d2e21b" d="M448.7 377.5h0M496.4 343.1h0M497.3 347.0h0M455.6 387.5h0M457.5 388.1h0M460.7 351.4h0M449.4 379.1h0M449.9 379.5h0M449.9 378.2h0M452.5 383.9h0M473.4 383.9h0M486.9 337.7h0M474.1 383.3h0M459.6 387.2h0M452.9 364.5h0M496.5 348.3h0M494.6 358.8h0M496.5 350.2h0M456.4 358.5h0M450.8 378.6h0M451.0 377.5h0M451.0 373.7h0M474.4 341.5h0M494.4 357.7h0M459.2 355.5h0M481.5 376.6h0M458.5 356.7h0M472.8 342.9h0M484.3 338.9h0M451.7 374.9h0"/><path stroke="#dde318" d="M454.8 382.6h0M457.4 359.1h0M452.0 374.4h0M494.0 356.6h0M455.2 364.2h0M453.0 373.1h0M484.9 340.2h0M490.9 362.8h0M458.9 358.3h0M453.3 373.8h0M455.0 379.9h0M454.9 379.8h0M453.9 376.5h0M488.9 365.7h0M454.0 375.4h0M486.9 368.3h0M483.6 372.3h0M464.2 383.1h0M489.4 342.6h0M493.1 354.6h0M492.9 354.7h0M455.1 370.4h0M492.4 347.2h0M465.0 382.3h0M469.3 381.4h0M492.5 348.2h0M467.4 381.7h0"/><path stroke="#e7e419" d="M473.8 379.0h0M460.8 358.5h0M463.5 354.9h0M490.4 360.2h0M456.3 369.2h0M481.4 342.9h0M492.1 353.7h0M486.5 366.6h0M484.5 343.1h0M458.7 363.7h0M486.8 343.9h0M490.7 357.9h0M473.9 378.0h0M482.7 343.5h0M482.4 343.7h0M477.7 374.9h0M458.0 368.6h0M461.9 359.3h0M473.5 347.6h0M483.8 344.5h0M458.3 371.2h0M490.6 353.7h0M459.3 374.8h0M486.9 345.9h0M458.7 370.4h0M461.2 362.1h0M458.8 370.6h0M484.7 366.7h0M473.3 376.7h0M460.4 364.8h0M461.1 375.8h0M489.6 351.3h0"/><path stroke="#f1e51d" d="M467.2 377.8h0M478.5 372.5h0M465.4 377.5h0M489.0 350.5h0M489.0 350.6h0M481.0 370.1h0M461.3 364.3h0M470.6 351.7h0M487.0 361.3h0M461.0 373.0h0M462.7 362.0h0M486.4 348.0h0M461.7 372.7h0M468.1 376.1h0M480.3 369.6h0M487.8 354.0h0M485.5 349.4h0M471.9 374.2h0M483.0 348.7h0M486.4 358.8h0M476.3 371.6h0M486.2 351.6h0M486.9 354.7h0M483.5 363.8h0M463.9 365.5h0M486.0 357.8h0M486.0 357.4h0M464.1 370.3h0"/><path stroke="#fbe723" d="M468.6 372.7h0M465.0 366.8h0M477.4 351.5h0M476.7 352.0h0M478.6 367.5h0M480.2 365.8h0M484.3 354.3h0M480.0 351.4h0M482.8 352.4h0M466.3 368.2h0M481.3 351.9h0M466.4 364.9h0M479.3 352.2h0M478.7 352.3h0M479.5 352.4h0M468.1 361.9h0M477.4 367.2h0M474.9 368.7h0M476.7 366.9h0M479.7 363.8h0M473.3 368.5h0M482.1 357.6h0M470.0 365.5h0M472.6 359.2h0M478.6 356.1h0M470.8 362.6h0M471.5 361.2h0M473.7 364.8h0M474.0 364.3h0M472.9 362.5h0M477.3 359.1h0M474.6 361.7h0M475.6 360.7h0"/></g><line x1="101.9" y1="688.8" x2="780.7" y2="65.4" stroke="#000" stroke-width="2.7" stroke-dasharray="11.6 5.2"/><path d="M186.8 688.8v-5.5M101.9 610.9h5.5M271.6 688.8v-10.0M101.9 532.9h10.0M356.5 688.8v-5.5M101.9 455.0h5.5M441.3 688.8v-10.0M101.9 377.1h10.0M526.2 688.8v-5.5M101.9 299.2h5.5M611.0 688.8v-10.0M101.9 221.2h10.0M695.9 688.8v-5.5M101.9 143.3h5.5" stroke="#111" stroke-width="1.8" fill="none"/><rect x="101.9" y="65.4" width="678.8" height="623.4" fill="none" stroke="#111" stroke-width="2.2"/><text class="t" x="101.4" y="719.8" text-anchor="middle">4</text><text class="t" x="90.5" y="699.0" text-anchor="end">4</text><text class="t" x="271.1" y="719.8" text-anchor="middle">5</text><text class="t" x="90.5" y="543.1" text-anchor="end">5</text><text class="t" x="440.8" y="719.8" text-anchor="middle">6</text><text class="t" x="90.5" y="387.3" text-anchor="end">6</text><text class="t" x="610.5" y="719.8" text-anchor="middle">7</text><text class="t" x="90.5" y="231.4" text-anchor="end">7</text><text class="t" x="780.2" y="719.8" text-anchor="middle">8</text><text class="t" x="90.5" y="75.6" text-anchor="end">8</text><text class="b" x="441.3" y="764.0" text-anchor="middle">Mobile Signaling (pp4h)</text><text class="b" transform="translate(54.5,377.1) rotate(-90)" text-anchor="middle">Baidu Heat Map (pp4h)</text><text class="b" x="135.8" y="121.4">(d) 21:00 – 22:00</text><text class="s" x="543.3" y="525">R<tspan font-size="26.6" dy="-2">²</tspan><tspan dy="2"> = 0.8003</tspan></text><text class="s" x="543.3" y="571.6">MAE = 99.69</text><text class="s" x="543.3" y="618.2">RMSE = 126.84</text><rect x="814.2" y="65.4" width="31.4" height="623.4" fill="url(#vir)"/><text class="t" x="856" y="631.6">0.05</text><text class="t" x="856" y="559.8">0.10</text><text class="t" x="856" y="488.1">0.15</text><text class="t" x="856" y="416.4">0.20</text><text class="t" x="856" y="344.6">0.25</text><text class="t" x="856" y="272.9">0.30</text><text class="t" x="856" y="201.1">0.35</text><text class="t" x="856" y="129.4">0.40</text><path d="M845.6 621.4h-4M845.6 549.6h-4M845.6 477.9h-4M845.6 406.2h-4M845.6 334.4h-4M845.6 262.7h-4M845.6 190.9h-4M845.6 119.2h-4" stroke="#111" stroke-width="1.8"/><rect x="814.2" y="65.4" width="31.4" height="623.4" fill="none" stroke="#111" stroke-width="2.2"/><text class="d" x="829.9" y="46.1" text-anchor="middle">Density</text></g>
</svg>
</body></html>
